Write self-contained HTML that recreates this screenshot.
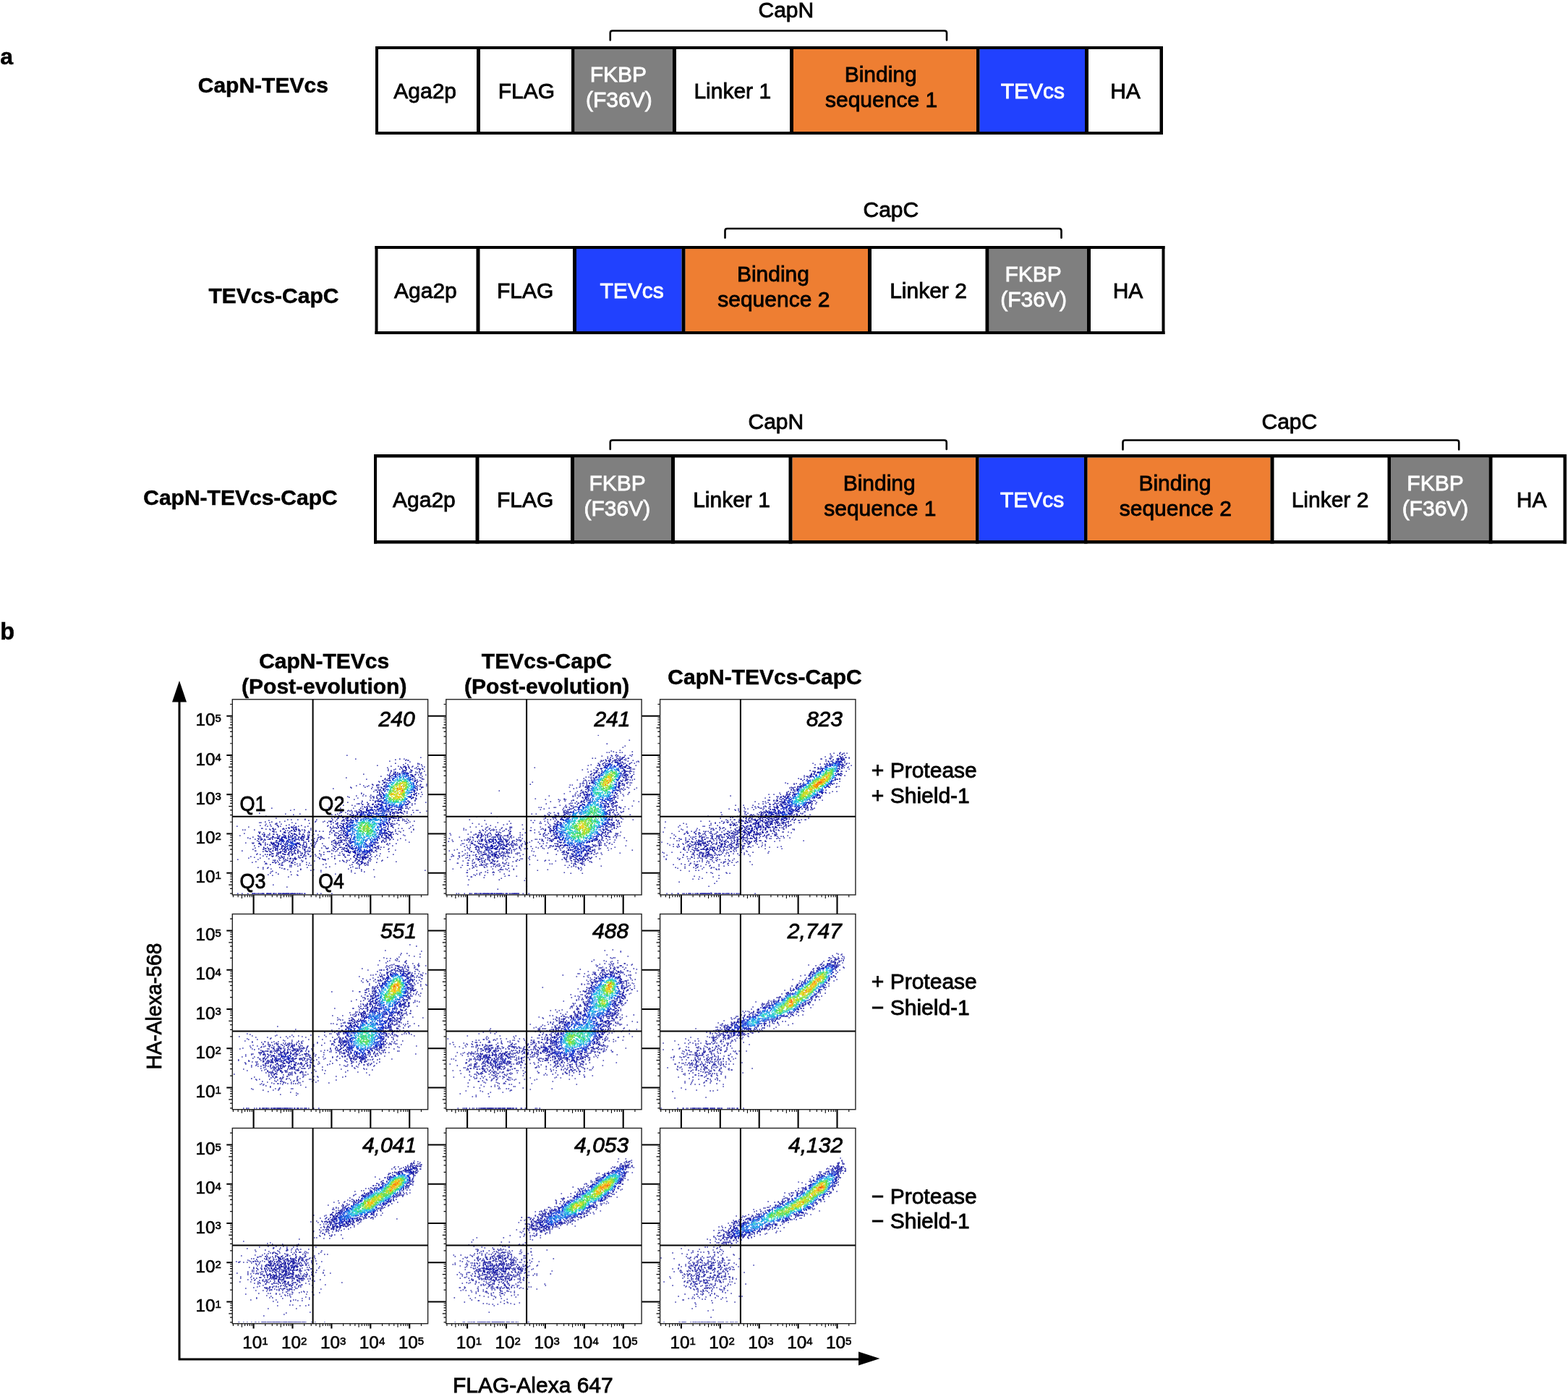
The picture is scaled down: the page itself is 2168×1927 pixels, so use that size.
<!DOCTYPE html>
<html><head><meta charset="utf-8"><title>Figure</title>
<style>html,body{margin:0;padding:0;background:#fff;}svg{display:block;}</style></head>
<body>
<svg width="2168" height="1927" viewBox="0 0 2168 1927" font-family="'Liberation Sans', Arial, Helvetica, sans-serif" font-size="30">
<rect width="2168" height="1927" fill="#fff"/>
<g id="parta">
<rect x="794.5" y="68" width="135.5" height="114" fill="#7f7f7f"/>
<rect x="1097" y="68" width="253" height="114" fill="#ee7e32"/>
<rect x="1354.5" y="68" width="145.5" height="114" fill="#2141fe"/>
<rect x="519" y="64" width="1089" height="4" fill="#000"/>
<rect x="519" y="182" width="1089" height="4" fill="#000"/>
<rect x="519" y="64" width="4" height="122" fill="#000"/>
<rect x="659" y="64" width="5" height="122" fill="#000"/>
<rect x="790" y="64" width="4.5" height="122" fill="#000"/>
<rect x="930" y="64" width="5" height="122" fill="#000"/>
<rect x="1092" y="64" width="5" height="122" fill="#000"/>
<rect x="1350" y="64" width="4.5" height="122" fill="#000"/>
<rect x="1500" y="64" width="5" height="122" fill="#000"/>
<rect x="1603.5" y="64" width="4.5" height="122" fill="#000"/>
<text x="544.29" y="136.3" stroke="#000" stroke-width="0.8">Aga2p</text>
<text x="688.64" y="136.3" stroke="#000" stroke-width="0.8">FLAG</text>
<text x="815.64" y="113" fill="#fff" stroke="#fff" stroke-width="0.8">FKBP</text>
<text x="809.99" y="148.2" fill="#fff" stroke="#fff" stroke-width="0.8">(F36V)</text>
<text x="959.39" y="136.3" stroke="#000" stroke-width="0.8">Linker 1</text>
<text x="1167.64" y="113" stroke="#000" stroke-width="0.8">Binding</text>
<text x="1141.01" y="148.2" stroke="#000" stroke-width="0.8">sequence 1</text>
<text x="1383.69" y="136.3" fill="#fff" stroke="#fff" stroke-width="0.8">TEVcs</text>
<text x="1535.14" y="136.3" stroke="#000" stroke-width="0.8">HA</text>
<rect x="797" y="344" width="145.5" height="114" fill="#2141fe"/>
<rect x="947.5" y="344" width="252.5" height="114" fill="#ee7e32"/>
<rect x="1367.5" y="344" width="135.5" height="114" fill="#7f7f7f"/>
<rect x="518.5" y="340" width="1092" height="4" fill="#000"/>
<rect x="518.5" y="458" width="1092" height="4" fill="#000"/>
<rect x="518.5" y="340" width="4" height="122" fill="#000"/>
<rect x="658.5" y="340" width="5" height="122" fill="#000"/>
<rect x="792" y="340" width="5" height="122" fill="#000"/>
<rect x="942.5" y="340" width="5" height="122" fill="#000"/>
<rect x="1200" y="340" width="5" height="122" fill="#000"/>
<rect x="1362.5" y="340" width="5" height="122" fill="#000"/>
<rect x="1503" y="340" width="5" height="122" fill="#000"/>
<rect x="1606.5" y="340" width="4" height="122" fill="#000"/>
<text x="545.04" y="412.3" stroke="#000" stroke-width="0.8">Aga2p</text>
<text x="687.04" y="412.3" stroke="#000" stroke-width="0.8">FLAG</text>
<text x="829.44" y="412.3" fill="#fff" stroke="#fff" stroke-width="0.8">TEVcs</text>
<text x="1018.89" y="389" stroke="#000" stroke-width="0.8">Binding</text>
<text x="992.26" y="424.2" stroke="#000" stroke-width="0.8">sequence 2</text>
<text x="1230.14" y="412.3" stroke="#000" stroke-width="0.8">Linker 2</text>
<text x="1389.39" y="389" fill="#fff" stroke="#fff" stroke-width="0.8">FKBP</text>
<text x="1383.24" y="424.2" fill="#fff" stroke="#fff" stroke-width="0.8">(F36V)</text>
<text x="1538.64" y="412.3" stroke="#000" stroke-width="0.8">HA</text>
<rect x="794" y="632.5" width="134" height="114.5" fill="#7f7f7f"/>
<rect x="1095.5" y="632.5" width="253.5" height="114.5" fill="#ee7e32"/>
<rect x="1353.5" y="632.5" width="145.5" height="114.5" fill="#2141fe"/>
<rect x="1503.5" y="632.5" width="253" height="114.5" fill="#ee7e32"/>
<rect x="1923" y="632.5" width="135.5" height="114.5" fill="#7f7f7f"/>
<rect x="517" y="628" width="1649" height="4.5" fill="#000"/>
<rect x="517" y="747" width="1649" height="4.5" fill="#000"/>
<rect x="517" y="628" width="4" height="123.5" fill="#000"/>
<rect x="657.5" y="628" width="5" height="123.5" fill="#000"/>
<rect x="789" y="628" width="5" height="123.5" fill="#000"/>
<rect x="928" y="628" width="5" height="123.5" fill="#000"/>
<rect x="1090.5" y="628" width="5" height="123.5" fill="#000"/>
<rect x="1349" y="628" width="4.5" height="123.5" fill="#000"/>
<rect x="1499" y="628" width="4.5" height="123.5" fill="#000"/>
<rect x="1756.5" y="628" width="5" height="123.5" fill="#000"/>
<rect x="1918.5" y="628" width="4.5" height="123.5" fill="#000"/>
<rect x="2058.5" y="628" width="5" height="123.5" fill="#000"/>
<rect x="2161.5" y="628" width="4.5" height="123.5" fill="#000"/>
<text x="543.04" y="701.05" stroke="#000" stroke-width="0.8">Aga2p</text>
<text x="686.89" y="701.05" stroke="#000" stroke-width="0.8">FLAG</text>
<text x="814.39" y="677.75" fill="#fff" stroke="#fff" stroke-width="0.8">FKBP</text>
<text x="807.49" y="712.95" fill="#fff" stroke="#fff" stroke-width="0.8">(F36V)</text>
<text x="958.14" y="701.05" stroke="#000" stroke-width="0.8">Linker 1</text>
<text x="1165.64" y="677.75" stroke="#000" stroke-width="0.8">Binding</text>
<text x="1139.26" y="712.95" stroke="#000" stroke-width="0.8">sequence 1</text>
<text x="1382.94" y="701.05" fill="#fff" stroke="#fff" stroke-width="0.8">TEVcs</text>
<text x="1574.39" y="677.75" stroke="#000" stroke-width="0.8">Binding</text>
<text x="1547.76" y="712.95" stroke="#000" stroke-width="0.8">sequence 2</text>
<text x="1785.64" y="701.05" stroke="#000" stroke-width="0.8">Linker 2</text>
<text x="1945.34" y="677.75" fill="#fff" stroke="#fff" stroke-width="0.8">FKBP</text>
<text x="1938.64" y="712.95" fill="#fff" stroke="#fff" stroke-width="0.8">(F36V)</text>
<text x="2096.74" y="701.05" stroke="#000" stroke-width="0.8">HA</text>
<path d="M843.75 55.5V45.5Q843.75 42.5 846.75 42.5H1306Q1309 42.5 1309 45.5V55.5" fill="none" stroke="#000" stroke-width="2.6" stroke-linecap="round"/>
<path d="M1002.5 328.75V319Q1002.5 316 1005.5 316H1464.5Q1467.5 316 1467.5 319V328.75" fill="none" stroke="#000" stroke-width="2.6" stroke-linecap="round"/>
<path d="M843.75 621V611.5Q843.75 608.5 846.75 608.5H1305.75Q1308.75 608.5 1308.75 611.5V621" fill="none" stroke="#000" stroke-width="2.6" stroke-linecap="round"/>
<path d="M1552.5 621.5V611.5Q1552.5 608.5 1555.5 608.5H2014.2Q2017.2 608.5 2017.2 611.5V621.5" fill="none" stroke="#000" stroke-width="2.6" stroke-linecap="round"/>
<text x="1048.47" y="24" stroke="#000" stroke-width="0.8">CapN</text>
<text x="1193.47" y="300" stroke="#000" stroke-width="0.8">CapC</text>
<text x="1034.47" y="592.5" stroke="#000" stroke-width="0.8">CapN</text>
<text x="1744.47" y="592.5" stroke="#000" stroke-width="0.8">CapC</text>
<text x="0.27" y="88.7" font-size="32" font-weight="bold" stroke="#000" stroke-width="0.5">a</text>
<text x="273.77" y="127.5" font-weight="bold" stroke="#000" stroke-width="0.5">CapN-TEVcs</text>
<text x="288.42" y="418.75" font-weight="bold" stroke="#000" stroke-width="0.5">TEVcs-CapC</text>
<text x="198.27" y="697.5" font-weight="bold" stroke="#000" stroke-width="0.5">CapN-TEVcs-CapC</text>
</g>
<text x="0.35" y="884" font-size="32.5" font-weight="bold" stroke="#000" stroke-width="0.5">b</text>
<text x="358.17" y="924.4" font-weight="bold" stroke="#000" stroke-width="0.5">CapN-TEVcs</text>
<text x="334.1" y="958.9" font-weight="bold" stroke="#000" stroke-width="0.5">(Post-evolution)</text>
<text x="665.87" y="924.4" font-weight="bold" stroke="#000" stroke-width="0.5">TEVcs-CapC</text>
<text x="642" y="958.9" font-weight="bold" stroke="#000" stroke-width="0.5">(Post-evolution)</text>
<text x="923.37" y="945.7" font-weight="bold" stroke="#000" stroke-width="0.5">CapN-TEVcs-CapC</text>
<text x="1204.83" y="1075" stroke="#000" stroke-width="0.8">+ Protease</text>
<text x="1204.83" y="1109.6" stroke="#000" stroke-width="0.8">+ Shield-1</text>
<text x="1204.83" y="1367.4" stroke="#000" stroke-width="0.8">+ Protease</text>
<text x="1204.83" y="1402.6" stroke="#000" stroke-width="0.8">− Shield-1</text>
<text x="1204.83" y="1663.9" stroke="#000" stroke-width="0.8">− Protease</text>
<text x="1204.83" y="1698.2" stroke="#000" stroke-width="0.8">− Shield-1</text>
<path d="M248 962V1879H1195" fill="none" stroke="#000" stroke-width="3"/>
<path d="M248 941L238 970.5H258Z" fill="#000"/>
<path d="M1216.5 1878L1187 1868.5V1887.5Z" fill="#000"/>
<text x="625.94" y="1924.6" stroke="#000" stroke-width="0.8">FLAG-Alexa 647</text>
<text transform="translate(222.6 1478.6) rotate(-90)" font-size="30" textLength="174.92" lengthAdjust="spacingAndGlyphs" stroke="#000" stroke-width="0.8">HA-Alexa-568</text>
<path d="M318.1 1235.17L321.3 1235.17M318.1 1228.39L321.3 1228.39M316.3 1223.13L321.3 1223.13M318.1 1218.84L321.3 1218.84M318.1 1215.2L321.3 1215.2M318.1 1212.06L321.3 1212.06M318.1 1209.28L321.3 1209.28M318.1 1190.47L321.3 1190.47M318.1 1180.92L321.3 1180.92M318.1 1174.14L321.3 1174.14M316.3 1168.88L321.3 1168.88M318.1 1164.59L321.3 1164.59M318.1 1160.95L321.3 1160.95M318.1 1157.81L321.3 1157.81M318.1 1155.03L321.3 1155.03M318.1 1136.22L321.3 1136.22M318.1 1126.67L321.3 1126.67M318.1 1119.89L321.3 1119.89M316.3 1114.63L321.3 1114.63M318.1 1110.34L321.3 1110.34M318.1 1106.7L321.3 1106.7M318.1 1103.56L321.3 1103.56M318.1 1100.78L321.3 1100.78M318.1 1081.97L321.3 1081.97M318.1 1072.42L321.3 1072.42M318.1 1065.64L321.3 1065.64M316.3 1060.38L321.3 1060.38M318.1 1056.09L321.3 1056.09M318.1 1052.45L321.3 1052.45M318.1 1049.31L321.3 1049.31M318.1 1046.53L321.3 1046.53M318.1 1027.72L321.3 1027.72M318.1 1018.17L321.3 1018.17M318.1 1011.39L321.3 1011.39M316.3 1006.13L321.3 1006.13M318.1 1001.84L321.3 1001.84M318.1 998.2L321.3 998.2M318.1 995.06L321.3 995.06M318.1 992.28L321.3 992.28M318.1 973.47L321.3 973.47M322.42 1237L322.42 1240.2M329.15 1237L329.15 1240.2M334.37 1237L334.37 1242M338.64 1237L338.64 1240.2M342.25 1237L342.25 1240.2M345.38 1237L345.38 1240.2M348.13 1237L348.13 1240.2M366.83 1237L366.83 1240.2M376.32 1237L376.32 1240.2M383.05 1237L383.05 1240.2M388.27 1237L388.27 1242M392.54 1237L392.54 1240.2M396.15 1237L396.15 1240.2M399.28 1237L399.28 1240.2M402.03 1237L402.03 1240.2M420.73 1237L420.73 1240.2M430.22 1237L430.22 1240.2M436.95 1237L436.95 1240.2M442.17 1237L442.17 1242M446.44 1237L446.44 1240.2M450.05 1237L450.05 1240.2M453.18 1237L453.18 1240.2M455.93 1237L455.93 1240.2M474.63 1237L474.63 1240.2M484.12 1237L484.12 1240.2M490.85 1237L490.85 1240.2M496.07 1237L496.07 1242M500.34 1237L500.34 1240.2M503.95 1237L503.95 1240.2M507.08 1237L507.08 1240.2M509.83 1237L509.83 1240.2M528.53 1237L528.53 1240.2M538.02 1237L538.02 1240.2M544.75 1237L544.75 1240.2M549.97 1237L549.97 1242M554.24 1237L554.24 1240.2M557.85 1237L557.85 1240.2M560.98 1237L560.98 1240.2M563.73 1237L563.73 1240.2M582.43 1237L582.43 1240.2M613.6 1235.17L616.8 1235.17M613.6 1228.39L616.8 1228.39M611.8 1223.13L616.8 1223.13M613.6 1218.84L616.8 1218.84M613.6 1215.2L616.8 1215.2M613.6 1212.06L616.8 1212.06M613.6 1209.28L616.8 1209.28M613.6 1190.47L616.8 1190.47M613.6 1180.92L616.8 1180.92M613.6 1174.14L616.8 1174.14M611.8 1168.88L616.8 1168.88M613.6 1164.59L616.8 1164.59M613.6 1160.95L616.8 1160.95M613.6 1157.81L616.8 1157.81M613.6 1155.03L616.8 1155.03M613.6 1136.22L616.8 1136.22M613.6 1126.67L616.8 1126.67M613.6 1119.89L616.8 1119.89M611.8 1114.63L616.8 1114.63M613.6 1110.34L616.8 1110.34M613.6 1106.7L616.8 1106.7M613.6 1103.56L616.8 1103.56M613.6 1100.78L616.8 1100.78M613.6 1081.97L616.8 1081.97M613.6 1072.42L616.8 1072.42M613.6 1065.64L616.8 1065.64M611.8 1060.38L616.8 1060.38M613.6 1056.09L616.8 1056.09M613.6 1052.45L616.8 1052.45M613.6 1049.31L616.8 1049.31M613.6 1046.53L616.8 1046.53M613.6 1027.72L616.8 1027.72M613.6 1018.17L616.8 1018.17M613.6 1011.39L616.8 1011.39M611.8 1006.13L616.8 1006.13M613.6 1001.84L616.8 1001.84M613.6 998.2L616.8 998.2M613.6 995.06L616.8 995.06M613.6 992.28L616.8 992.28M613.6 973.47L616.8 973.47M617.92 1237L617.92 1240.2M624.65 1237L624.65 1240.2M629.87 1237L629.87 1242M634.14 1237L634.14 1240.2M637.75 1237L637.75 1240.2M640.88 1237L640.88 1240.2M643.63 1237L643.63 1240.2M662.33 1237L662.33 1240.2M671.82 1237L671.82 1240.2M678.55 1237L678.55 1240.2M683.77 1237L683.77 1242M688.04 1237L688.04 1240.2M691.65 1237L691.65 1240.2M694.78 1237L694.78 1240.2M697.53 1237L697.53 1240.2M716.23 1237L716.23 1240.2M725.72 1237L725.72 1240.2M732.45 1237L732.45 1240.2M737.67 1237L737.67 1242M741.94 1237L741.94 1240.2M745.55 1237L745.55 1240.2M748.68 1237L748.68 1240.2M751.43 1237L751.43 1240.2M770.13 1237L770.13 1240.2M779.62 1237L779.62 1240.2M786.35 1237L786.35 1240.2M791.57 1237L791.57 1242M795.84 1237L795.84 1240.2M799.45 1237L799.45 1240.2M802.58 1237L802.58 1240.2M805.33 1237L805.33 1240.2M824.03 1237L824.03 1240.2M833.52 1237L833.52 1240.2M840.25 1237L840.25 1240.2M845.47 1237L845.47 1242M849.74 1237L849.74 1240.2M853.35 1237L853.35 1240.2M856.48 1237L856.48 1240.2M859.23 1237L859.23 1240.2M877.93 1237L877.93 1240.2M909.4 1235.17L912.6 1235.17M909.4 1228.39L912.6 1228.39M907.6 1223.13L912.6 1223.13M909.4 1218.84L912.6 1218.84M909.4 1215.2L912.6 1215.2M909.4 1212.06L912.6 1212.06M909.4 1209.28L912.6 1209.28M909.4 1190.47L912.6 1190.47M909.4 1180.92L912.6 1180.92M909.4 1174.14L912.6 1174.14M907.6 1168.88L912.6 1168.88M909.4 1164.59L912.6 1164.59M909.4 1160.95L912.6 1160.95M909.4 1157.81L912.6 1157.81M909.4 1155.03L912.6 1155.03M909.4 1136.22L912.6 1136.22M909.4 1126.67L912.6 1126.67M909.4 1119.89L912.6 1119.89M907.6 1114.63L912.6 1114.63M909.4 1110.34L912.6 1110.34M909.4 1106.7L912.6 1106.7M909.4 1103.56L912.6 1103.56M909.4 1100.78L912.6 1100.78M909.4 1081.97L912.6 1081.97M909.4 1072.42L912.6 1072.42M909.4 1065.64L912.6 1065.64M907.6 1060.38L912.6 1060.38M909.4 1056.09L912.6 1056.09M909.4 1052.45L912.6 1052.45M909.4 1049.31L912.6 1049.31M909.4 1046.53L912.6 1046.53M909.4 1027.72L912.6 1027.72M909.4 1018.17L912.6 1018.17M909.4 1011.39L912.6 1011.39M907.6 1006.13L912.6 1006.13M909.4 1001.84L912.6 1001.84M909.4 998.2L912.6 998.2M909.4 995.06L912.6 995.06M909.4 992.28L912.6 992.28M909.4 973.47L912.6 973.47M913.72 1237L913.72 1240.2M920.45 1237L920.45 1240.2M925.67 1237L925.67 1242M929.94 1237L929.94 1240.2M933.55 1237L933.55 1240.2M936.68 1237L936.68 1240.2M939.43 1237L939.43 1240.2M958.13 1237L958.13 1240.2M967.62 1237L967.62 1240.2M974.35 1237L974.35 1240.2M979.57 1237L979.57 1242M983.84 1237L983.84 1240.2M987.45 1237L987.45 1240.2M990.58 1237L990.58 1240.2M993.33 1237L993.33 1240.2M1012.03 1237L1012.03 1240.2M1021.52 1237L1021.52 1240.2M1028.25 1237L1028.25 1240.2M1033.47 1237L1033.47 1242M1037.74 1237L1037.74 1240.2M1041.35 1237L1041.35 1240.2M1044.48 1237L1044.48 1240.2M1047.23 1237L1047.23 1240.2M1065.93 1237L1065.93 1240.2M1075.42 1237L1075.42 1240.2M1082.15 1237L1082.15 1240.2M1087.37 1237L1087.37 1242M1091.64 1237L1091.64 1240.2M1095.25 1237L1095.25 1240.2M1098.38 1237L1098.38 1240.2M1101.13 1237L1101.13 1240.2M1119.83 1237L1119.83 1240.2M1129.32 1237L1129.32 1240.2M1136.05 1237L1136.05 1240.2M1141.27 1237L1141.27 1242M1145.54 1237L1145.54 1240.2M1149.15 1237L1149.15 1240.2M1152.28 1237L1152.28 1240.2M1155.03 1237L1155.03 1240.2M1173.73 1237L1173.73 1240.2M318.1 1531.87L321.3 1531.87M318.1 1525.09L321.3 1525.09M316.3 1519.83L321.3 1519.83M318.1 1515.54L321.3 1515.54M318.1 1511.9L321.3 1511.9M318.1 1508.76L321.3 1508.76M318.1 1505.98L321.3 1505.98M318.1 1487.17L321.3 1487.17M318.1 1477.62L321.3 1477.62M318.1 1470.84L321.3 1470.84M316.3 1465.58L321.3 1465.58M318.1 1461.29L321.3 1461.29M318.1 1457.65L321.3 1457.65M318.1 1454.51L321.3 1454.51M318.1 1451.73L321.3 1451.73M318.1 1432.92L321.3 1432.92M318.1 1423.37L321.3 1423.37M318.1 1416.59L321.3 1416.59M316.3 1411.33L321.3 1411.33M318.1 1407.04L321.3 1407.04M318.1 1403.4L321.3 1403.4M318.1 1400.26L321.3 1400.26M318.1 1397.48L321.3 1397.48M318.1 1378.67L321.3 1378.67M318.1 1369.12L321.3 1369.12M318.1 1362.34L321.3 1362.34M316.3 1357.08L321.3 1357.08M318.1 1352.79L321.3 1352.79M318.1 1349.15L321.3 1349.15M318.1 1346.01L321.3 1346.01M318.1 1343.23L321.3 1343.23M318.1 1324.42L321.3 1324.42M318.1 1314.87L321.3 1314.87M318.1 1308.09L321.3 1308.09M316.3 1302.83L321.3 1302.83M318.1 1298.54L321.3 1298.54M318.1 1294.9L321.3 1294.9M318.1 1291.76L321.3 1291.76M318.1 1288.98L321.3 1288.98M318.1 1270.17L321.3 1270.17M322.42 1533.7L322.42 1536.9M329.15 1533.7L329.15 1536.9M334.37 1533.7L334.37 1538.7M338.64 1533.7L338.64 1536.9M342.25 1533.7L342.25 1536.9M345.38 1533.7L345.38 1536.9M348.13 1533.7L348.13 1536.9M366.83 1533.7L366.83 1536.9M376.32 1533.7L376.32 1536.9M383.05 1533.7L383.05 1536.9M388.27 1533.7L388.27 1538.7M392.54 1533.7L392.54 1536.9M396.15 1533.7L396.15 1536.9M399.28 1533.7L399.28 1536.9M402.03 1533.7L402.03 1536.9M420.73 1533.7L420.73 1536.9M430.22 1533.7L430.22 1536.9M436.95 1533.7L436.95 1536.9M442.17 1533.7L442.17 1538.7M446.44 1533.7L446.44 1536.9M450.05 1533.7L450.05 1536.9M453.18 1533.7L453.18 1536.9M455.93 1533.7L455.93 1536.9M474.63 1533.7L474.63 1536.9M484.12 1533.7L484.12 1536.9M490.85 1533.7L490.85 1536.9M496.07 1533.7L496.07 1538.7M500.34 1533.7L500.34 1536.9M503.95 1533.7L503.95 1536.9M507.08 1533.7L507.08 1536.9M509.83 1533.7L509.83 1536.9M528.53 1533.7L528.53 1536.9M538.02 1533.7L538.02 1536.9M544.75 1533.7L544.75 1536.9M549.97 1533.7L549.97 1538.7M554.24 1533.7L554.24 1536.9M557.85 1533.7L557.85 1536.9M560.98 1533.7L560.98 1536.9M563.73 1533.7L563.73 1536.9M582.43 1533.7L582.43 1536.9M613.6 1531.87L616.8 1531.87M613.6 1525.09L616.8 1525.09M611.8 1519.83L616.8 1519.83M613.6 1515.54L616.8 1515.54M613.6 1511.9L616.8 1511.9M613.6 1508.76L616.8 1508.76M613.6 1505.98L616.8 1505.98M613.6 1487.17L616.8 1487.17M613.6 1477.62L616.8 1477.62M613.6 1470.84L616.8 1470.84M611.8 1465.58L616.8 1465.58M613.6 1461.29L616.8 1461.29M613.6 1457.65L616.8 1457.65M613.6 1454.51L616.8 1454.51M613.6 1451.73L616.8 1451.73M613.6 1432.92L616.8 1432.92M613.6 1423.37L616.8 1423.37M613.6 1416.59L616.8 1416.59M611.8 1411.33L616.8 1411.33M613.6 1407.04L616.8 1407.04M613.6 1403.4L616.8 1403.4M613.6 1400.26L616.8 1400.26M613.6 1397.48L616.8 1397.48M613.6 1378.67L616.8 1378.67M613.6 1369.12L616.8 1369.12M613.6 1362.34L616.8 1362.34M611.8 1357.08L616.8 1357.08M613.6 1352.79L616.8 1352.79M613.6 1349.15L616.8 1349.15M613.6 1346.01L616.8 1346.01M613.6 1343.23L616.8 1343.23M613.6 1324.42L616.8 1324.42M613.6 1314.87L616.8 1314.87M613.6 1308.09L616.8 1308.09M611.8 1302.83L616.8 1302.83M613.6 1298.54L616.8 1298.54M613.6 1294.9L616.8 1294.9M613.6 1291.76L616.8 1291.76M613.6 1288.98L616.8 1288.98M613.6 1270.17L616.8 1270.17M617.92 1533.7L617.92 1536.9M624.65 1533.7L624.65 1536.9M629.87 1533.7L629.87 1538.7M634.14 1533.7L634.14 1536.9M637.75 1533.7L637.75 1536.9M640.88 1533.7L640.88 1536.9M643.63 1533.7L643.63 1536.9M662.33 1533.7L662.33 1536.9M671.82 1533.7L671.82 1536.9M678.55 1533.7L678.55 1536.9M683.77 1533.7L683.77 1538.7M688.04 1533.7L688.04 1536.9M691.65 1533.7L691.65 1536.9M694.78 1533.7L694.78 1536.9M697.53 1533.7L697.53 1536.9M716.23 1533.7L716.23 1536.9M725.72 1533.7L725.72 1536.9M732.45 1533.7L732.45 1536.9M737.67 1533.7L737.67 1538.7M741.94 1533.7L741.94 1536.9M745.55 1533.7L745.55 1536.9M748.68 1533.7L748.68 1536.9M751.43 1533.7L751.43 1536.9M770.13 1533.7L770.13 1536.9M779.62 1533.7L779.62 1536.9M786.35 1533.7L786.35 1536.9M791.57 1533.7L791.57 1538.7M795.84 1533.7L795.84 1536.9M799.45 1533.7L799.45 1536.9M802.58 1533.7L802.58 1536.9M805.33 1533.7L805.33 1536.9M824.03 1533.7L824.03 1536.9M833.52 1533.7L833.52 1536.9M840.25 1533.7L840.25 1536.9M845.47 1533.7L845.47 1538.7M849.74 1533.7L849.74 1536.9M853.35 1533.7L853.35 1536.9M856.48 1533.7L856.48 1536.9M859.23 1533.7L859.23 1536.9M877.93 1533.7L877.93 1536.9M909.4 1531.87L912.6 1531.87M909.4 1525.09L912.6 1525.09M907.6 1519.83L912.6 1519.83M909.4 1515.54L912.6 1515.54M909.4 1511.9L912.6 1511.9M909.4 1508.76L912.6 1508.76M909.4 1505.98L912.6 1505.98M909.4 1487.17L912.6 1487.17M909.4 1477.62L912.6 1477.62M909.4 1470.84L912.6 1470.84M907.6 1465.58L912.6 1465.58M909.4 1461.29L912.6 1461.29M909.4 1457.65L912.6 1457.65M909.4 1454.51L912.6 1454.51M909.4 1451.73L912.6 1451.73M909.4 1432.92L912.6 1432.92M909.4 1423.37L912.6 1423.37M909.4 1416.59L912.6 1416.59M907.6 1411.33L912.6 1411.33M909.4 1407.04L912.6 1407.04M909.4 1403.4L912.6 1403.4M909.4 1400.26L912.6 1400.26M909.4 1397.48L912.6 1397.48M909.4 1378.67L912.6 1378.67M909.4 1369.12L912.6 1369.12M909.4 1362.34L912.6 1362.34M907.6 1357.08L912.6 1357.08M909.4 1352.79L912.6 1352.79M909.4 1349.15L912.6 1349.15M909.4 1346.01L912.6 1346.01M909.4 1343.23L912.6 1343.23M909.4 1324.42L912.6 1324.42M909.4 1314.87L912.6 1314.87M909.4 1308.09L912.6 1308.09M907.6 1302.83L912.6 1302.83M909.4 1298.54L912.6 1298.54M909.4 1294.9L912.6 1294.9M909.4 1291.76L912.6 1291.76M909.4 1288.98L912.6 1288.98M909.4 1270.17L912.6 1270.17M913.72 1533.7L913.72 1536.9M920.45 1533.7L920.45 1536.9M925.67 1533.7L925.67 1538.7M929.94 1533.7L929.94 1536.9M933.55 1533.7L933.55 1536.9M936.68 1533.7L936.68 1536.9M939.43 1533.7L939.43 1536.9M958.13 1533.7L958.13 1536.9M967.62 1533.7L967.62 1536.9M974.35 1533.7L974.35 1536.9M979.57 1533.7L979.57 1538.7M983.84 1533.7L983.84 1536.9M987.45 1533.7L987.45 1536.9M990.58 1533.7L990.58 1536.9M993.33 1533.7L993.33 1536.9M1012.03 1533.7L1012.03 1536.9M1021.52 1533.7L1021.52 1536.9M1028.25 1533.7L1028.25 1536.9M1033.47 1533.7L1033.47 1538.7M1037.74 1533.7L1037.74 1536.9M1041.35 1533.7L1041.35 1536.9M1044.48 1533.7L1044.48 1536.9M1047.23 1533.7L1047.23 1536.9M1065.93 1533.7L1065.93 1536.9M1075.42 1533.7L1075.42 1536.9M1082.15 1533.7L1082.15 1536.9M1087.37 1533.7L1087.37 1538.7M1091.64 1533.7L1091.64 1536.9M1095.25 1533.7L1095.25 1536.9M1098.38 1533.7L1098.38 1536.9M1101.13 1533.7L1101.13 1536.9M1119.83 1533.7L1119.83 1536.9M1129.32 1533.7L1129.32 1536.9M1136.05 1533.7L1136.05 1536.9M1141.27 1533.7L1141.27 1538.7M1145.54 1533.7L1145.54 1536.9M1149.15 1533.7L1149.15 1536.9M1152.28 1533.7L1152.28 1536.9M1155.03 1533.7L1155.03 1536.9M1173.73 1533.7L1173.73 1536.9M318.1 1827.87L321.3 1827.87M318.1 1821.09L321.3 1821.09M316.3 1815.83L321.3 1815.83M318.1 1811.54L321.3 1811.54M318.1 1807.9L321.3 1807.9M318.1 1804.76L321.3 1804.76M318.1 1801.98L321.3 1801.98M318.1 1783.17L321.3 1783.17M318.1 1773.62L321.3 1773.62M318.1 1766.84L321.3 1766.84M316.3 1761.58L321.3 1761.58M318.1 1757.29L321.3 1757.29M318.1 1753.65L321.3 1753.65M318.1 1750.51L321.3 1750.51M318.1 1747.73L321.3 1747.73M318.1 1728.92L321.3 1728.92M318.1 1719.37L321.3 1719.37M318.1 1712.59L321.3 1712.59M316.3 1707.33L321.3 1707.33M318.1 1703.04L321.3 1703.04M318.1 1699.4L321.3 1699.4M318.1 1696.26L321.3 1696.26M318.1 1693.48L321.3 1693.48M318.1 1674.67L321.3 1674.67M318.1 1665.12L321.3 1665.12M318.1 1658.34L321.3 1658.34M316.3 1653.08L321.3 1653.08M318.1 1648.79L321.3 1648.79M318.1 1645.15L321.3 1645.15M318.1 1642.01L321.3 1642.01M318.1 1639.23L321.3 1639.23M318.1 1620.42L321.3 1620.42M318.1 1610.87L321.3 1610.87M318.1 1604.09L321.3 1604.09M316.3 1598.83L321.3 1598.83M318.1 1594.54L321.3 1594.54M318.1 1590.9L321.3 1590.9M318.1 1587.76L321.3 1587.76M318.1 1584.98L321.3 1584.98M318.1 1566.17L321.3 1566.17M322.42 1829.7L322.42 1832.9M329.15 1829.7L329.15 1832.9M334.37 1829.7L334.37 1834.7M338.64 1829.7L338.64 1832.9M342.25 1829.7L342.25 1832.9M345.38 1829.7L345.38 1832.9M348.13 1829.7L348.13 1832.9M366.83 1829.7L366.83 1832.9M376.32 1829.7L376.32 1832.9M383.05 1829.7L383.05 1832.9M388.27 1829.7L388.27 1834.7M392.54 1829.7L392.54 1832.9M396.15 1829.7L396.15 1832.9M399.28 1829.7L399.28 1832.9M402.03 1829.7L402.03 1832.9M420.73 1829.7L420.73 1832.9M430.22 1829.7L430.22 1832.9M436.95 1829.7L436.95 1832.9M442.17 1829.7L442.17 1834.7M446.44 1829.7L446.44 1832.9M450.05 1829.7L450.05 1832.9M453.18 1829.7L453.18 1832.9M455.93 1829.7L455.93 1832.9M474.63 1829.7L474.63 1832.9M484.12 1829.7L484.12 1832.9M490.85 1829.7L490.85 1832.9M496.07 1829.7L496.07 1834.7M500.34 1829.7L500.34 1832.9M503.95 1829.7L503.95 1832.9M507.08 1829.7L507.08 1832.9M509.83 1829.7L509.83 1832.9M528.53 1829.7L528.53 1832.9M538.02 1829.7L538.02 1832.9M544.75 1829.7L544.75 1832.9M549.97 1829.7L549.97 1834.7M554.24 1829.7L554.24 1832.9M557.85 1829.7L557.85 1832.9M560.98 1829.7L560.98 1832.9M563.73 1829.7L563.73 1832.9M582.43 1829.7L582.43 1832.9M613.6 1827.87L616.8 1827.87M613.6 1821.09L616.8 1821.09M611.8 1815.83L616.8 1815.83M613.6 1811.54L616.8 1811.54M613.6 1807.9L616.8 1807.9M613.6 1804.76L616.8 1804.76M613.6 1801.98L616.8 1801.98M613.6 1783.17L616.8 1783.17M613.6 1773.62L616.8 1773.62M613.6 1766.84L616.8 1766.84M611.8 1761.58L616.8 1761.58M613.6 1757.29L616.8 1757.29M613.6 1753.65L616.8 1753.65M613.6 1750.51L616.8 1750.51M613.6 1747.73L616.8 1747.73M613.6 1728.92L616.8 1728.92M613.6 1719.37L616.8 1719.37M613.6 1712.59L616.8 1712.59M611.8 1707.33L616.8 1707.33M613.6 1703.04L616.8 1703.04M613.6 1699.4L616.8 1699.4M613.6 1696.26L616.8 1696.26M613.6 1693.48L616.8 1693.48M613.6 1674.67L616.8 1674.67M613.6 1665.12L616.8 1665.12M613.6 1658.34L616.8 1658.34M611.8 1653.08L616.8 1653.08M613.6 1648.79L616.8 1648.79M613.6 1645.15L616.8 1645.15M613.6 1642.01L616.8 1642.01M613.6 1639.23L616.8 1639.23M613.6 1620.42L616.8 1620.42M613.6 1610.87L616.8 1610.87M613.6 1604.09L616.8 1604.09M611.8 1598.83L616.8 1598.83M613.6 1594.54L616.8 1594.54M613.6 1590.9L616.8 1590.9M613.6 1587.76L616.8 1587.76M613.6 1584.98L616.8 1584.98M613.6 1566.17L616.8 1566.17M617.92 1829.7L617.92 1832.9M624.65 1829.7L624.65 1832.9M629.87 1829.7L629.87 1834.7M634.14 1829.7L634.14 1832.9M637.75 1829.7L637.75 1832.9M640.88 1829.7L640.88 1832.9M643.63 1829.7L643.63 1832.9M662.33 1829.7L662.33 1832.9M671.82 1829.7L671.82 1832.9M678.55 1829.7L678.55 1832.9M683.77 1829.7L683.77 1834.7M688.04 1829.7L688.04 1832.9M691.65 1829.7L691.65 1832.9M694.78 1829.7L694.78 1832.9M697.53 1829.7L697.53 1832.9M716.23 1829.7L716.23 1832.9M725.72 1829.7L725.72 1832.9M732.45 1829.7L732.45 1832.9M737.67 1829.7L737.67 1834.7M741.94 1829.7L741.94 1832.9M745.55 1829.7L745.55 1832.9M748.68 1829.7L748.68 1832.9M751.43 1829.7L751.43 1832.9M770.13 1829.7L770.13 1832.9M779.62 1829.7L779.62 1832.9M786.35 1829.7L786.35 1832.9M791.57 1829.7L791.57 1834.7M795.84 1829.7L795.84 1832.9M799.45 1829.7L799.45 1832.9M802.58 1829.7L802.58 1832.9M805.33 1829.7L805.33 1832.9M824.03 1829.7L824.03 1832.9M833.52 1829.7L833.52 1832.9M840.25 1829.7L840.25 1832.9M845.47 1829.7L845.47 1834.7M849.74 1829.7L849.74 1832.9M853.35 1829.7L853.35 1832.9M856.48 1829.7L856.48 1832.9M859.23 1829.7L859.23 1832.9M877.93 1829.7L877.93 1832.9M909.4 1827.87L912.6 1827.87M909.4 1821.09L912.6 1821.09M907.6 1815.83L912.6 1815.83M909.4 1811.54L912.6 1811.54M909.4 1807.9L912.6 1807.9M909.4 1804.76L912.6 1804.76M909.4 1801.98L912.6 1801.98M909.4 1783.17L912.6 1783.17M909.4 1773.62L912.6 1773.62M909.4 1766.84L912.6 1766.84M907.6 1761.58L912.6 1761.58M909.4 1757.29L912.6 1757.29M909.4 1753.65L912.6 1753.65M909.4 1750.51L912.6 1750.51M909.4 1747.73L912.6 1747.73M909.4 1728.92L912.6 1728.92M909.4 1719.37L912.6 1719.37M909.4 1712.59L912.6 1712.59M907.6 1707.33L912.6 1707.33M909.4 1703.04L912.6 1703.04M909.4 1699.4L912.6 1699.4M909.4 1696.26L912.6 1696.26M909.4 1693.48L912.6 1693.48M909.4 1674.67L912.6 1674.67M909.4 1665.12L912.6 1665.12M909.4 1658.34L912.6 1658.34M907.6 1653.08L912.6 1653.08M909.4 1648.79L912.6 1648.79M909.4 1645.15L912.6 1645.15M909.4 1642.01L912.6 1642.01M909.4 1639.23L912.6 1639.23M909.4 1620.42L912.6 1620.42M909.4 1610.87L912.6 1610.87M909.4 1604.09L912.6 1604.09M907.6 1598.83L912.6 1598.83M909.4 1594.54L912.6 1594.54M909.4 1590.9L912.6 1590.9M909.4 1587.76L912.6 1587.76M909.4 1584.98L912.6 1584.98M909.4 1566.17L912.6 1566.17M913.72 1829.7L913.72 1832.9M920.45 1829.7L920.45 1832.9M925.67 1829.7L925.67 1834.7M929.94 1829.7L929.94 1832.9M933.55 1829.7L933.55 1832.9M936.68 1829.7L936.68 1832.9M939.43 1829.7L939.43 1832.9M958.13 1829.7L958.13 1832.9M967.62 1829.7L967.62 1832.9M974.35 1829.7L974.35 1832.9M979.57 1829.7L979.57 1834.7M983.84 1829.7L983.84 1832.9M987.45 1829.7L987.45 1832.9M990.58 1829.7L990.58 1832.9M993.33 1829.7L993.33 1832.9M1012.03 1829.7L1012.03 1832.9M1021.52 1829.7L1021.52 1832.9M1028.25 1829.7L1028.25 1832.9M1033.47 1829.7L1033.47 1834.7M1037.74 1829.7L1037.74 1832.9M1041.35 1829.7L1041.35 1832.9M1044.48 1829.7L1044.48 1832.9M1047.23 1829.7L1047.23 1832.9M1065.93 1829.7L1065.93 1832.9M1075.42 1829.7L1075.42 1832.9M1082.15 1829.7L1082.15 1832.9M1087.37 1829.7L1087.37 1834.7M1091.64 1829.7L1091.64 1832.9M1095.25 1829.7L1095.25 1832.9M1098.38 1829.7L1098.38 1832.9M1101.13 1829.7L1101.13 1832.9M1119.83 1829.7L1119.83 1832.9M1129.32 1829.7L1129.32 1832.9M1136.05 1829.7L1136.05 1832.9M1141.27 1829.7L1141.27 1834.7M1145.54 1829.7L1145.54 1832.9M1149.15 1829.7L1149.15 1832.9M1152.28 1829.7L1152.28 1832.9M1155.03 1829.7L1155.03 1832.9M1173.73 1829.7L1173.73 1832.9" stroke="#000" stroke-width="1.1" fill="none"/>
<path d="M313.3 1206.8L321.3 1206.8M313.3 1152.55L321.3 1152.55M313.3 1098.3L321.3 1098.3M313.3 1044.05L321.3 1044.05M313.3 989.8L321.3 989.8M350.6 1237L350.6 1263.5M404.5 1237L404.5 1263.5M458.4 1237L458.4 1263.5M512.3 1237L512.3 1263.5M566.2 1237L566.2 1263.5M591.6 1206.8L616.8 1206.8M591.6 1152.55L616.8 1152.55M591.6 1098.3L616.8 1098.3M591.6 1044.05L616.8 1044.05M591.6 989.8L616.8 989.8M646.1 1237L646.1 1263.5M700 1237L700 1263.5M753.9 1237L753.9 1263.5M807.8 1237L807.8 1263.5M861.7 1237L861.7 1263.5M887.1 1206.8L912.6 1206.8M887.1 1152.55L912.6 1152.55M887.1 1098.3L912.6 1098.3M887.1 1044.05L912.6 1044.05M887.1 989.8L912.6 989.8M941.9 1237L941.9 1263.5M995.8 1237L995.8 1263.5M1049.7 1237L1049.7 1263.5M1103.6 1237L1103.6 1263.5M1157.5 1237L1157.5 1263.5M313.3 1503.5L321.3 1503.5M313.3 1449.25L321.3 1449.25M313.3 1395L321.3 1395M313.3 1340.75L321.3 1340.75M313.3 1286.5L321.3 1286.5M350.6 1533.7L350.6 1559.5M404.5 1533.7L404.5 1559.5M458.4 1533.7L458.4 1559.5M512.3 1533.7L512.3 1559.5M566.2 1533.7L566.2 1559.5M591.6 1503.5L616.8 1503.5M591.6 1449.25L616.8 1449.25M591.6 1395L616.8 1395M591.6 1340.75L616.8 1340.75M591.6 1286.5L616.8 1286.5M646.1 1533.7L646.1 1559.5M700 1533.7L700 1559.5M753.9 1533.7L753.9 1559.5M807.8 1533.7L807.8 1559.5M861.7 1533.7L861.7 1559.5M887.1 1503.5L912.6 1503.5M887.1 1449.25L912.6 1449.25M887.1 1395L912.6 1395M887.1 1340.75L912.6 1340.75M887.1 1286.5L912.6 1286.5M941.9 1533.7L941.9 1559.5M995.8 1533.7L995.8 1559.5M1049.7 1533.7L1049.7 1559.5M1103.6 1533.7L1103.6 1559.5M1157.5 1533.7L1157.5 1559.5M313.3 1799.5L321.3 1799.5M313.3 1745.25L321.3 1745.25M313.3 1691L321.3 1691M313.3 1636.75L321.3 1636.75M313.3 1582.5L321.3 1582.5M350.6 1829.7L350.6 1836.5M404.5 1829.7L404.5 1836.5M458.4 1829.7L458.4 1836.5M512.3 1829.7L512.3 1836.5M566.2 1829.7L566.2 1836.5M591.6 1799.5L616.8 1799.5M591.6 1745.25L616.8 1745.25M591.6 1691L616.8 1691M591.6 1636.75L616.8 1636.75M591.6 1582.5L616.8 1582.5M646.1 1829.7L646.1 1836.5M700 1829.7L700 1836.5M753.9 1829.7L753.9 1836.5M807.8 1829.7L807.8 1836.5M861.7 1829.7L861.7 1836.5M887.1 1799.5L912.6 1799.5M887.1 1745.25L912.6 1745.25M887.1 1691L912.6 1691M887.1 1636.75L912.6 1636.75M887.1 1582.5L912.6 1582.5M941.9 1829.7L941.9 1836.5M995.8 1829.7L995.8 1836.5M1049.7 1829.7L1049.7 1836.5M1103.6 1829.7L1103.6 1836.5M1157.5 1829.7L1157.5 1836.5" stroke="#000" stroke-width="2.1" fill="none"/>
<defs><filter id="bl" x="0" y="0" width="1" height="1"><feGaussianBlur stdDeviation="0.5"/></filter></defs><g stroke-width="1.6" stroke-linecap="square" fill="none" filter="url(#bl)">
<path stroke="#0a14a0" d="M560.8 1061.3zm-11 7zm10 0zm11 4zm-32 2zm32 2zm5 6zm-2 4zm-43 1zm-3 2zm49 0zm-4 5zm-45 1zm44 3zm-48 1zm3 1zm42 0zm-41 1zm39 0zm-40 11zm35 0zm-43 3zm0 1zm-11 1zm31 0zm16 0zm2 0zm-43 1zm-1 1zm38 0zm4 0zm-48 1zm13 0zm-17 2zm1 0zm32 0zm11 0zm-40 1zm33 0zm-24 1zm-16 1zm39 0zm-45 1zm14 0zm3 0zm19 0zm5 0zm-46 2zm4 0zm49 2zm2 0zm-54 1zm2 2zm-12 1zm4 0zm-4 3zm5 0zm-11 2zm62 0zm-61 3zm2 3zm-70 2zm66 1zm4 0zm57 0zm-2 1zm-138 1zm84 0zm57 1zm6 0zm-6 1zm2 1zm-56 1zm-86 2zm9 0zm124 0zm-136 1zm2 0zm134 0zm6 0zm1 0zm-149 1zm97 0zm-67 1zm69 0zm-86 1zm-12 1zm2 0zm3 0zm0 1zm1 1zm12 0zm-22 1zm13 0zm-18 1zm19 1zm15 0zm106 1zm-133 1zm10 0zm6 0zm81 0zm-92 1zm20 0zm69 0zm36 0zm-130 1zm8 0zm-13 1zm10 0zm5 0zm92 0zm-93 1zm4 0zm4 1zm77 0zm3 2zm31 0zm-33 2zm5 0zm5 0zm1 0zm21 2zm-6 2zm-2 3zm-9 1zm6 0zm6 0zm-1 2zm-5 1zm-131 47z"/>
<path stroke="#0a14aa" d="M557.8 1066.3zm-12 4zm1 1zm22 0zm-4 1zm3 2zm1 3zm-30 2zm36 0zm-1 1zm-42 2zm1 5zm2 0zm-4 4zm43 2zm-44 4zm-3 1zm-1 2zm43 4zm-48 3zm4 0zm-2 5zm2 0zm4 1zm-6 2zm30 0zm-14 1zm-2 2zm15 0zm-37 1zm3 0zm24 0zm-32 1zm-10 1zm28 0zm-8 1zm14 0zm4 0zm-38 1zm6 0zm10 0zm-17 4zm44 0zm-38 1zm11 0zm-21 2zm-9 4zm2 0zm42 4zm6 0zm-55 2zm-1 1zm1 1zm-9 2zm3 0zm4 1zm49 0zm8 1zm-5 1zm1 0zm1 0zm0 1zm-55 3zm52 0zm2 0zm-56 1zm53 0zm-138 1zm135 0zm-49 1zm1 0zm51 0zm-48 1zm54 0zm-127 1zm-18 1zm1 0zm18 0zm4 0zm4 0zm107 0zm-135 2zm2 1zm13 1zm3 0zm2 0zm75 0zm-101 1zm99 0zm40 0zm-139 3zm28 0zm68 0zm41 0zm-125 1zm86 0zm-103 1zm2 0zm14 0zm3 0zm13 0zm71 0zm35 0zm-135 1zm98 0zm40 0zm-36 1zm-100 1zm1 0zm13 0zm11 1zm-24 1zm22 0zm71 0zm3 0zm4 0zm9 0zm-5 1zm-104 1zm11 0zm9 0zm84 0zm4 1zm22 0zm1 0zm-25 1zm14 0zm-22 2zm9 1zm17 0zm-103 1zm92 0zm10 0zm-8 1zm6 0zm-3 2zm-8 1zm8 0zm3 0zm-4 6zm-2 1z"/>
<path stroke="#0a14b4" d="M546.8 1067.3zm9 0zm3 1zm5 1zm-14 1zm2 0zm1 0zm-9 6zm27 2zm2 2zm0 12zm-4 6zm-39 5zm-5 1zm1 4zm40 0zm-7 2zm-31 1zm-1 2zm-5 1zm16 0zm17 0zm-22 1zm-5 1zm-3 1zm-3 1zm4 0zm-2 1zm12 0zm7 0zm-32 1zm4 0zm22 0zm-29 1zm18 0zm1 0zm-24 2zm27 0zm-3 1zm5 0zm-13 1zm2 0zm-23 1zm1 0zm35 0zm-23 1zm23 1zm1 0zm-43 2zm46 1zm0 2zm0 1zm-57 1zm5 1zm49 1zm-57 2zm59 0zm-5 1zm-48 1zm47 0zm-52 1zm4 1zm-3 1zm51 0zm-4 3zm0 1zm-44 1zm1 0zm50 2zm-9 2zm-46 1zm55 1zm-113 2zm-25 1zm9 1zm120 0zm-136 1zm15 0zm6 0zm75 0zm37 1zm-125 1zm10 0zm-21 1zm1 0zm3 0zm7 0zm87 0zm-84 1zm83 0zm5 0zm30 0zm-126 1zm6 0zm120 0zm-133 1zm24 0zm76 0zm-97 1zm18 1zm109 0zm-123 1zm9 3zm87 0zm-95 1zm13 0zm1 0zm-7 1zm2 0zm110 0zm-4 2zm-5 1zm-14 1zm3 0zm9 0zm8 0zm-8 2zm2 0zm2 0zm-11 2zm7 4z"/>
<path stroke="#0a1eb4" d="M557.8 1068.3zm5 1zm12 21zm-45 9zm1 3zm35 0zm-37 6zm-8 6zm34 1zm-26 8zm-16 1zm4 1zm-16 1zm-6 5zm-13 8zm44 0zm-42 4zm43 7zm-41 5zm-87 3zm-3 1zm10 0zm112 1zm-128 2zm-5 3zm129 0zm-110 3zm0 1zm80 1zm31 0zm-29 2zm23 4zm2 0zm-118 1zm97 1zm13 0zm-6 7zm5 1z"/>
<path stroke="#0a1ebe" d="M556.8 1066.3zm8 3zm-20 1zm2 2zm0 1zm-5 2zm-3 3zm-4 4zm-1 3zm2 1zm-3 3zm41 0zm-4 6zm-41 1zm37 5zm2 1zm-41 1zm0 4zm1 2zm2 0zm-6 2zm11 1zm-9 1zm2 2zm18 0zm10 0zm-5 1zm2 0zm2 0zm-17 2zm-26 1zm23 0zm9 0zm4 0zm-40 1zm5 0zm21 0zm-24 1zm32 0zm-2 1zm-30 1zm2 0zm-12 1zm2 0zm10 0zm9 0zm-22 1zm25 0zm11 0zm5 0zm-37 1zm27 1zm7 1zm0 1zm-22 1zm-5 1zm-24 2zm47 3zm-45 1zm-4 2zm2 2zm-6 2zm47 0zm-51 1zm0 2zm8 1zm-4 2zm2 0zm40 2zm3 0zm-46 2zm45 3zm-8 4zm-115 1zm84 3zm1 1zm31 0zm-131 1zm24 2zm101 0zm-110 2zm3 0zm102 0zm3 0zm-106 1zm6 1zm-12 1zm95 0zm22 1zm-14 2zm-9 2z"/>
<path stroke="#0a1ec8" d="M562.8 1068.3zm-1 1zm2 2zm-24 8zm32 4zm2 5zm-40 3zm36 1zm-38 2zm-3 15zm9 3zm23 0zm-34 3zm22 0zm0 1zm-14 1zm-11 1zm6 1zm-14 1zm12 0zm-5 1zm-20 3zm7 0zm4 0zm-4 2zm-10 1zm26 0zm8 0zm-7 1zm-13 1zm20 0zm-36 1zm7 0zm24 0zm4 0zm-50 7zm4 0zm43 0zm-3 3zm-39 1zm-8 1zm8 2zm-8 2zm48 2zm-2 6zm-3 4zm-1 2zm-131 2zm115 0zm-107 1zm3 0zm6 0zm81 0zm-86 1zm-14 1zm16 1zm4 1zm98 0zm6 0zm-110 2zm106 0zm-102 1zm-3 1zm88 1zm3 3zm4 1zm-2 1zm13 0zm1 0zm-6 1zm-8 4z"/>
<path stroke="#0a28c8" d="M557.8 1069.3zm-10 4zm-5 4zm23 1zm3 17zm-7 10zm-30 1zm-7 2zm37 1zm-32 1zm8 3zm-5 1zm1 0zm5 0zm13 0zm-26 3zm1 0zm19 1zm-5 1zm-9 1zm6 0zm-8 1zm-10 4zm3 1zm-25 1zm6 1zm9 0zm22 2zm-28 1zm28 2zm-50 3zm3 0zm-1 2zm39 3zm1 1zm-45 5zm50 3zm-52 1zm47 1zm-46 1zm40 6zm-122 2zm-8 2zm122 1zm-111 1zm85 4zm21 1zm3 1zm-113 2zm92 0zm9 0zm-4 1zm9 0zm-2 3zm6 0zm-13 1zm0 4z"/>
<path stroke="#0a28d2" d="M561.8 1071.3zm-15 3zm11 0zm9 3zm5 7zm-37 4zm37 5zm-6 2zm-34 4zm36 2zm-36 4zm29 3zm-34 8zm14 0zm1 0zm-8 1zm3 0zm-8 1zm25 0zm-30 3zm8 0zm-21 1zm11 2zm-14 1zm-3 1zm4 1zm1 0zm3 0zm11 0zm-9 1zm-17 1zm19 1zm18 2zm-7 1zm-34 2zm35 0zm2 4zm1 0zm-2 1zm3 0zm-48 2zm37 1zm3 0zm-44 1zm52 0zm-5 2zm1 0zm-8 2zm4 0zm1 0zm1 1zm-46 2zm-1 1zm4 1zm1 0zm-5 2zm6 2zm5 0zm31 0zm-132 2zm130 1zm-122 2zm87 0zm28 1zm-26 1zm26 1zm-109 1zm107 0zm-103 1zm105 1zm-115 1zm92 1zm4 2zm18 0zm-8 3zm7 0zm-14 1zm7 1zm-9 3z"/>
<path stroke="#0a32d2" d="M555.8 1069.3zm-11 7zm-6 6zm31 9zm-1 1zm-36 1zm-2 5zm0 1zm2 11zm15 3zm9 0zm-13 1zm-13 6zm1 2zm-18 4zm-10 3zm5 0zm3 0zm-23 5zm38 0zm2 4zm-2 1zm-42 2zm0 6zm-3 1zm46 3zm-16 9zm7 2zm-32 1zm19 0zm-102 1zm102 2zm-20 3zm27 0zm-13 2zm-4 2zm1 0zm1 3zm8 0z"/>
<path stroke="#0a3cd2" d="M529.8 1104.3zm-16 29zm-26 10zm-7 4zm8 11zm-86 8zm-1 3zm85 4z"/>
<path stroke="#0a3cdc" d="M556.8 1071.3zm-7 1zm3 0zm-8 1zm20 1zm2 1zm1 2zm-30 10zm27 14zm-2 3zm-31 6zm3 0zm4 2zm3 1zm-7 1zm-6 1zm1 0zm17 0zm-12 1zm-5 1zm-8 12zm-16 1zm12 1zm15 1zm-40 2zm34 3zm-41 7zm39 6zm-35 3zm0 3zm28 5zm-113 4zm2 1zm98 1zm1 2zm-13 1zm7 0zm11 0zm-14 1zm11 1zm-14 4zm13 2z"/>
<path stroke="#0a46dc" d="M558.8 1070.3zm1 0zm-8 3zm11 0zm-18 2zm23 3zm-31 8zm36 3zm-37 2zm1 0zm21 21zm1 0zm-19 1zm14 0zm-11 1zm-15 4zm3 0zm-3 9zm-19 4zm3 1zm1 0zm7 0zm11 3zm4 1zm-48 4zm-2 5zm39 8zm-34 5zm-2 2zm31 0zm-11 1zm7 2zm-10 2zm-9 2zm-97 1zm88 0zm12 2zm-3 1zm3 3zm6 3z"/>
<path stroke="#0a50dc" d="M564.8 1076.3zm4 8zm3 7zm-38 6zm-1 9zm0 5zm20 1zm-22 18zm-19 3zm-20 2zm-3 5zm36 0zm-38 5zm-4 3zm5 0zm0 2zm31 4zm-28 10z"/>
<path stroke="#1414a0" d="M559.8 1059.3zm-1 1zm2 0zm0 2zm1 1zm19 0zm-24 1zm5 0zm-3 1zm1 0zm1 0zm8 0zm-8 2zm6 0zm1 0zm1 0zm-22 1zm-2 1zm8 0zm29 0zm-38 1zm4 0zm20 1zm2 0zm4 0zm-36 1zm1 0zm3 0zm1 0zm27 0zm-30 1zm30 0zm1 0zm1 0zm1 1zm-34 1zm43 0zm-43 1zm-5 2zm2 0zm38 0zm-37 1zm-6 2zm2 0zm44 0zm-43 3zm42 0zm-44 2zm44 1zm7 1zm-53 2zm1 0zm-5 1zm5 1zm-6 1zm2 0zm-2 2zm0 1zm51 0zm-51 1zm49 0zm1 0zm-50 1zm48 0zm-52 3zm6 0zm44 1zm1 0zm-50 1zm6 0zm43 0zm-48 2zm0 1zm4 0zm-4 1zm41 0zm1 0zm-46 1zm4 0zm-15 1zm59 0zm-2 1zm-42 1zm41 0zm-48 1zm4 0zm43 0zm1 0zm-36 1zm-17 1zm7 0zm43 0zm-54 1zm11 0zm4 0zm41 0zm-58 1zm3 0zm4 0zm2 0zm1 0zm6 0zm-22 1zm62 0zm-54 1zm1 0zm-11 1zm10 0zm15 0zm31 0zm1 0zm-55 1zm10 0zm42 0zm4 0zm-59 2zm5 0zm5 0zm11 0zm-23 1zm3 0zm1 0zm45 0zm1 0zm1 0zm5 0zm2 0zm2 0zm1 0zm1 0zm-61 1zm48 0zm1 0zm2 0zm3 0zm2 0zm5 0zm-62 1zm-9 1zm4 0zm6 0zm45 0zm5 0zm-58 1zm1 0zm4 0zm58 0zm-60 1zm50 0zm6 0zm3 0zm-69 1zm63 0zm3 0zm-72 1zm6 0zm7 0zm1 0zm53 0zm-63 1zm3 0zm58 0zm5 0zm7 0zm-66 1zm7 0zm48 0zm-64 1zm3 0zm2 0zm58 0zm-65 1zm8 0zm-6 1zm67 0zm-85 1zm80 0zm-71 1zm12 0zm60 0zm-63 1zm4 0zm55 0zm-70 1zm10 0zm65 0zm1 0zm3 0zm-77 1zm8 0zm-5 1zm1 0zm4 0zm62 0zm4 0zm2 0zm-70 1zm68 0zm-137 1zm6 0zm58 0zm6 0zm-70 1zm2 1zm60 0zm6 0zm-63 1zm1 0zm3 0zm60 0zm64 0zm-123 1zm-11 1zm10 0zm58 0zm-64 1zm50 0zm19 0zm61 0zm-144 1zm35 0zm47 0zm64 0zm1 0zm-145 1zm8 1zm1 0zm3 0zm68 0zm56 0zm2 0zm3 0zm-170 1zm13 0zm4 0zm24 0zm1 0zm1 0zm5 0zm1 0zm4 0zm122 0zm-148 1zm12 0zm5 0zm18 0zm44 0zm2 0zm58 0zm1 0zm5 0zm1 0zm2 0zm-184 1zm30 0zm6 0zm2 0zm4 0zm3 0zm3 0zm6 0zm67 0zm4 0zm46 0zm10 0zm-172 1zm18 0zm2 0zm32 0zm1 0zm7 0zm1 0zm48 0zm5 0zm54 0zm7 0zm-163 1zm15 0zm7 0zm2 0zm18 0zm6 0zm1 0zm49 0zm4 0zm57 0zm5 0zm-165 1zm5 0zm2 0zm1 0zm5 0zm4 0zm1 0zm9 0zm3 0zm64 0zm1 0zm6 0zm52 0zm6 0zm2 0zm-154 1zm1 0zm24 0zm4 0zm4 0zm1 0zm2 0zm6 0zm43 0zm11 0zm1 0zm51 0zm1 0zm1 0zm4 0zm-176 1zm4 0zm11 0zm10 0zm14 0zm11 0zm12 0zm54 0zm-117 1zm29 0zm28 0zm1 0zm111 0zm9 0zm-157 1zm6 0zm81 0zm3 0zm5 0zm2 0zm49 1zm-153 1zm6 0zm42 0zm45 0zm3 0zm2 0zm47 0zm-145 1zm1 0zm3 0zm33 0zm2 0zm50 0zm6 0zm52 0zm1 0zm-145 1zm1 0zm31 0zm3 0zm51 0zm2 0zm1 0zm17 0zm-107 1zm8 0zm4 0zm25 0zm1 0zm5 0zm55 0zm-93 1zm27 0zm10 0zm13 0zm38 0zm-92 1zm2 0zm4 0zm7 0zm28 0zm59 0zm2 0zm34 0zm-132 1zm8 0zm5 0zm27 0zm60 0zm40 0zm1 0zm-145 1zm44 0zm2 0zm60 0zm36 0zm-139 1zm9 0zm13 0zm7 0zm106 0zm3 0zm-148 1zm4 0zm3 0zm4 0zm1 0zm6 0zm97 0zm-112 1zm13 0zm4 0zm2 0zm28 0zm55 0zm5 0zm-100 1zm1 0zm14 0zm3 0zm4 0zm5 0zm1 0zm98 0zm-130 1zm7 0zm10 0zm13 0zm5 0zm17 0zm48 0zm1 0zm2 0zm1 0zm1 0zm9 0zm21 0zm-124 1zm1 0zm7 0zm5 0zm1 0zm2 0zm3 0zm5 0zm3 0zm64 0zm9 0zm26 0zm-126 1zm6 0zm1 0zm5 0zm12 0zm10 0zm61 0zm1 0zm33 0zm-133 1zm2 0zm2 0zm11 0zm4 0zm81 0zm27 0zm-119 1zm8 0zm92 0zm-99 1zm1 0zm4 0zm1 0zm6 0zm89 0zm2 0zm-92 1zm12 0zm1 0zm74 0zm13 0zm5 0zm-89 1zm3 0zm67 0zm4 0zm5 0zm10 0zm-116 1zm-6 1zm4 0zm99 0zm9 0zm3 0zm2 0zm2 0zm2 0zm1 0zm-101 1zm95 0zm2 0zm-119 1zm16 0zm7 0zm84 0zm5 0zm4 0zm-107 1zm55 0zm44 0zm9 0zm-6 1zm-113 1zm113 0zm3 1zm1 1zm1 0zm-1 1zm3 0zm-4 1zm-2 1zm-129 40zm2 0zm1 0zm1 0zm1 0zm17 0zm2 0zm1 0zm1 0zm2 0zm3 0zm4 0z"/>
<path stroke="#141ea0" d="M552.8 1049.3zm11 8zm-27 19zm41 10zm-1 5zm-47 1zm39 11zm-50 6zm-32 15zm65 6zm-72 1zm68 0zm-76 7zm62 4zm2 3zm-118 2zm-14 1zm71 0zm-66 1zm129 0zm-69 6zm-98 5zm43 1zm3 0zm-58 4zm110 3zm49 3zm-151 2zm5 2zm-2 2zm56 0zm-49 3zm135 2zm-127 2zm107 3zm19 0zm-15 2zm13 2zm-118 1zm103 0zm3 4zm-132 39zm13 0z"/>
<path stroke="#1450dc" d="M553.8 1074.3zm-11 4zm28 13zm-38 8zm26 9zm-17 6zm-13 10zm3 3zm-2 3zm-27 1zm-8 2zm-1 1zm31 4zm-36 22zm19 8zm4 2zm-6 1z"/>
<path stroke="#145adc" d="M562.8 1071.3zm-1 1zm-9 3zm10 1zm9 6zm-35 1zm31 9zm-34 16zm0 2zm21 1zm1 3zm-25 12zm-10 1zm1 1zm2 0zm1 1zm-25 3zm5 0zm-6 1zm27 0zm-27 1zm35 0zm-3 3zm-7 2zm-34 11zm33 5zm-11 6zm1 0zm-21 7zm6 10z"/>
<path stroke="#1464dc" d="M559.8 1069.3zm1 4zm0 1zm-21 8zm32 6zm-41 19zm-19 27zm-21 32z"/>
<path stroke="#1464e6" d="M559.8 1073.3zm0 4zm-16 1zm-3 3zm30 1zm-3 13zm-1 1zm-36 5zm12 10zm10 2zm-19 6zm-9 5zm3 2zm-26 6zm15 0zm14 0zm-28 1zm18 0zm-18 1zm-14 2zm3 5zm-10 1zm40 2zm-38 4zm7 0zm-4 4zm33 1zm1 3zm-17 1zm-14 3zm17 1zm-15 1zm23 0zm1 0zm-26 2zm26 0zm-12 1zm-10 1zm-88 1zm90 3zm3 1zm-2 1zm0 2z"/>
<path stroke="#146ee6" d="M552.8 1073.3zm2 2zm9 2zm-19 2zm21 0zm4 5zm2 2zm-35 1zm35 0zm-36 6zm-3 9zm-1 5zm3 0zm3 2zm-1 1zm4 1zm4 1zm4 2zm-19 10zm-4 7zm-15 2zm15 1zm-33 3zm30 1zm-30 2zm-6 1zm4 5zm-3 3zm0 3zm-1 2zm33 2zm-6 2zm-21 9zm3 2zm7 0z"/>
<path stroke="#1478e6" d="M547.8 1075.3zm17 0zm5 14zm2 0zm-7 8zm-1 4zm-29 3zm9 8zm12 0zm-7 1zm-29 17zm6 0zm-3 3zm-13 1zm9 0zm-29 8zm33 2zm0 2zm-5 3zm-26 8zm13 0zm-14 2zm17 0zm-2 2zm-3 1zm-3 6zm3 3z"/>
<path stroke="#1482e6" d="M549.8 1075.3zm-14 32zm-20 23zm-16 4zm-12 11zm-2 2zm5 16zm10 3z"/>
<path stroke="#1482f0" d="M553.8 1071.3zm-1 3zm-4 4zm19 4zm4 3zm1 2zm-9 6zm-2 11zm-16 9zm6 2zm-33 16zm1 0zm-5 2zm9 0zm-3 1zm0 6zm-33 6zm5 2zm1 4zm-3 2zm9 4zm18 0zm-8 1zm-19 2zm4 4zm5 0zm-5 1zm0 2zm10 3z"/>
<path stroke="#148ce6" d="M557.8 1073.3zm-15 9zm26 0zm1 4zm0 1zm-7 11zm-31 2zm28 6zm-54 27zm13 0zm1 0zm-9 1zm-20 6zm32 2zm-33 4zm34 0zm-8 2zm-9 8zm1 0zm8 0zm-20 2zm-2 1zm9 1zm0 1zm1 0zm-10 6zm9 3z"/>
<path stroke="#148cf0" d="M564.8 1077.3zm2 3zm-35 21zm28 7zm-6 3zm-22 23zm-17 3zm8 6zm-4 3zm1 0zm-3 10zm-23 9zm9 2zm1 1z"/>
<path stroke="#1496e6" d="M546.8 1078.3zm3 0zm-8 3zm25 2zm2 8zm-5 1zm-30 13zm22 3zm-10 2zm7 1zm-35 21zm5 0zm-11 3zm9 3zm-1 9zm3 0zm-13 11zm-8 1zm-10 6zm9 0z"/>
<path stroke="#1e1ea0" d="M579.8 1056.3zm-15 3zm-11 1zm4 0zm7 0zm-3 1zm14 0zm9 2zm-17 1zm13 0zm-44 1zm33 0zm10 1zm0 2zm3 0zm-44 2zm36 0zm4 1zm3 0zm-8 5zm3 2zm-47 1zm48 1zm5 0zm-52 2zm-8 3zm58 0zm0 2zm-59 1zm5 0zm58 0zm-71 2zm67 1zm-60 1zm3 0zm53 0zm-55 3zm51 0zm-51 4zm51 0zm3 0zm-59 2zm0 1zm0 1zm4 0zm-5 3zm-19 5zm12 0zm7 0zm54 0zm-69 1zm1 0zm13 0zm-6 2zm-5 1zm63 1zm-2 2zm-72 3zm5 0zm-11 1zm62 0zm5 0zm-73 3zm-17 1zm20 0zm-15 1zm16 1zm66 0zm4 0zm-73 2zm-15 1zm79 0zm11 1zm-97 1zm15 0zm75 1zm-93 1zm16 0zm-6 3zm75 0zm4 1zm25 2zm-104 1zm-58 1zm13 0zm115 0zm6 0zm-143 1zm8 0zm53 0zm4 0zm3 0zm-90 1zm14 0zm18 0zm49 0zm-78 1zm12 0zm13 0zm4 1zm11 0zm-14 1zm8 0zm-38 1zm2 0zm22 0zm14 0zm47 0zm85 0zm-146 1zm20 0zm122 0zm-184 1zm34 0zm21 0zm12 0zm40 0zm76 0zm-142 2zm20 0zm43 0zm77 0zm4 0zm-179 1zm1 0zm5 0zm13 0zm42 0zm44 0zm1 0zm-50 1zm44 0zm75 0zm-182 1zm11 0zm8 0zm1 0zm21 0zm69 0zm-99 1zm45 0zm4 0zm53 0zm-110 1zm14 0zm5 0zm36 0zm52 0zm74 0zm-185 1zm16 0zm71 0zm23 0zm-109 1zm3 0zm13 0zm52 0zm7 1zm30 0zm8 0zm1 0zm2 0zm2 0zm-111 1zm55 0zm7 0zm34 0zm-34 1zm11 0zm34 0zm-51 1zm12 0zm95 0zm4 0zm-165 1zm53 0zm17 0zm31 0zm-110 1zm1 0zm17 0zm48 0zm52 0zm63 0zm-178 1zm9 0zm-9 1zm12 0zm1 0zm42 0zm8 0zm41 0zm-113 1zm83 0zm26 0zm-50 1zm3 0zm7 0zm3 0zm39 0zm-98 1zm54 0zm45 0zm1 0zm5 0zm1 0zm1 0zm51 0zm-158 1zm89 0zm7 0zm13 0zm50 0zm-156 1zm4 0zm50 0zm7 0zm39 0zm53 0zm-140 1zm82 0zm4 0zm6 0zm2 0zm-80 1zm26 0zm1 0zm98 0zm-153 1zm11 0zm13 0zm22 0zm106 0zm-155 1zm5 0zm4 0zm1 0zm48 0zm6 0zm25 0zm20 0zm9 0zm33 0zm6 0zm-146 1zm11 0zm-3 1zm2 0zm22 0zm1 0zm-32 1zm15 0zm27 0zm-51 1zm6 0zm10 0zm2 0zm10 0zm81 0zm37 0zm-37 1zm5 0zm2 0zm-94 1zm11 0zm13 0zm-36 1zm13 0zm87 0zm12 0zm-99 1zm23 0zm-25 1zm10 0zm4 0zm91 0zm19 0zm-120 1zm9 0zm4 0zm3 0zm1 1zm104 0zm-116 1zm9 0zm86 0zm-91 1zm90 0zm21 0zm-119 1zm102 0zm-91 1zm1 1zm95 0zm6 0zm-119 1zm109 0zm8 0zm-101 2zm102 0zm-5 6zm-115 6zm-32 27zm10 0zm12 0zm5 0zm9 0zm3 0zm4 0zm3 0zm3 0zm1 0zm2 0zm1 0zm1 0zm5 0zm2 0z"/>
<path stroke="#1e96e6" d="M549.8 1077.3zm-9 7zm-3 1zm22 20zm-15 6zm-51 40zm23 2zm-19 1zm-4 7zm-3 7zm6 2z"/>
<path stroke="#1ea0e6" d="M558.8 1071.3zm-1 4zm11 13zm-6 7zm-2 8zm-6 5zm3 0zm-21 1zm-21 23zm-12 2zm13 2zm1 0zm8 0zm-36 3zm4 1zm24 10zm0 1zm-25 1zm3 1zm-1 1zm14 1zm-11 2zm2 0zm3 0zm17 0zm-9 1zm-16 4zm5 2zm2 0zm1 0zm-5 4z"/>
<path stroke="#1eaae6" d="M555.8 1073.3zm-3 3zm-8 5zm17 13zm2 2zm-29 5zm25 3zm-25 2zm8 3zm8 0zm-44 24zm15 1zm-12 1zm-6 1zm-9 1zm25 1zm-4 5zm-23 1zm1 10zm14 0zm12 0zm-2 1zm-23 1zm1 0zm-2 1zm23 0zm-16 6zm-6 4zm5 0z"/>
<path stroke="#1eb4e6" d="M556.8 1077.3zm11 4zm1 5zm-2 6zm-2 3zm-32 5zm3 3zm24 0zm-14 5zm-29 25zm1 0zm-2 2zm-20 2zm22 1zm-2 1zm-25 8zm3 2zm25 0zm-23 2zm6 0zm0 2zm14 0zm-22 5zm4 1zm16 0zm-14 2zm0 2zm-2 2zm-1 1z"/>
<path stroke="#1ebee6" d="M563.8 1080.3zm0 11zm-9 19zm-37 32zm-21 6zm-3 5z"/>
<path stroke="#2828a0" d="M546.8 1055.3zm11 2zm25 0zm-5 2zm-23 2zm11 0zm0 1zm11 1zm3 0zm-39 2zm4 2zm30 0zm2 1zm3 6zm-51 5zm-14 5zm1 1zm8 0zm-19 3zm19 0zm60 0zm-98 1zm37 1zm53 10zm-93 2zm30 1zm62 0zm1 1zm-57 3zm-38 2zm93 2zm-65 1zm54 5zm-61 1zm-16 2zm73 1zm1 1zm3 0zm-70 1zm-23 1zm-7 6zm5 0zm7 0zm-16 1zm7 2zm85 0zm6 1zm8 0zm-110 1zm9 0zm96 0zm-193 1zm9 0zm77 1zm96 1zm-168 1zm77 0zm-75 1zm17 0zm152 0zm-168 1zm158 0zm-157 1zm21 1zm51 0zm0 1zm14 0zm-75 1zm4 0zm-21 2zm16 1zm66 0zm-83 1zm55 0zm36 0zm-90 1zm175 0zm-189 1zm34 0zm73 0zm-113 1zm4 1zm15 0zm172 0zm-177 1zm45 1zm14 0zm-72 1zm5 0zm-15 1zm93 0zm2 0zm-5 1zm6 0zm20 0zm-103 2zm10 0zm52 0zm115 0zm-173 1zm167 0zm-176 2zm106 0zm67 0zm3 0zm-99 1zm30 0zm-3 1zm-32 1zm106 0zm-176 1zm99 0zm-28 2zm-16 2zm13 0zm7 0zm92 0zm-100 1zm49 0zm-14 1zm61 0zm-173 1zm62 0zm47 1zm-91 1zm98 0zm-10 1zm-23 1zm15 0zm-36 1zm6 0zm52 0zm-92 1zm31 0zm17 0zm-52 1zm30 0zm17 0zm23 0zm-71 1zm10 0zm138 0zm-145 1zm6 0zm51 0zm11 0zm-75 1zm39 1zm7 0zm3 0zm22 0zm-47 1zm22 0zm48 0zm-53 1zm13 0zm25 1zm1 0zm-71 1zm2 0zm7 0zm6 0zm87 0zm30 0zm-30 1zm-114 1zm12 1zm25 0zm5 0zm113 0zm-118 1zm90 0zm16 1zm-123 1zm22 0zm79 0zm20 0zm-92 1zm94 0zm-145 5zm30 0zm22 1zm-68 8zm12 25zm4 0zm18 0zm3 0zm2 0zm1 0zm10 0zm10 0zm1 0zm9 0z"/>
<path stroke="#2828aa" d="M564.8 1051.3zm-9 11zm28 0zm-31 1zm-12 3zm-1 2zm-7 8zm-4 8zm53 0zm-61 2zm-2 6zm60 5zm-66 2zm-13 11zm-4 1zm5 4zm-10 6zm-19 6zm83 3zm-94 7zm-78 1zm26 0zm-35 2zm29 3zm-4 1zm157 1zm16 1zm-198 1zm-16 3zm101 1zm-86 1zm175 0zm-205 6zm84 0zm-81 1zm93 1zm4 0zm101 0zm-180 4zm70 2zm114 0zm-13 1zm-168 1zm157 1zm-171 3zm11 2zm68 0zm-6 1zm-91 1zm203 1zm-106 1zm-62 3zm57 0zm-63 2zm14 0zm43 0zm98 1zm-77 2zm-70 1zm35 0zm78 0zm-38 1zm27 1zm55 0zm-124 1zm-25 1zm2 1zm127 0zm-141 1zm13 0zm-12 1zm5 1zm17 1zm-27 3zm7 0zm126 1zm-120 4zm127 1zm-161 30zm7 0zm1 0z"/>
<path stroke="#28bee6" d="M550.8 1078.3zm-7 5zm23 7zm-58 43zm6 3zm0 5zm3 2zm-23 4zm15 8zm-6 3zm-2 3zm-3 2zm-1 3z"/>
<path stroke="#28c8e6" d="M557.8 1076.3zm-10 2zm16 1zm-17 1zm22 7zm-28 1zm29 0zm-35 15zm-1 1zm25 1zm-20 4zm3 0zm12 0zm-14 3zm-26 22zm-11 1zm9 1zm5 2zm2 0zm-2 2zm-22 2zm0 2zm22 6zm3 1zm-21 1zm5 0zm-1 3zm5 0zm-11 2zm7 3z"/>
<path stroke="#28d2a0" d="M554.8 1079.3zm5 0zm4 9zm-25 5zm-37 43zm5 1zm3 4zm-13 2zm12 3zm5 1zm-3 3zm1 2zm-17 6zm2 4z"/>
<path stroke="#28d2aa" d="M558.8 1079.3zm4 2zm-21 4zm-1 4zm-2 16zm8 4zm-49 29zm18 2zm-2 3zm2 4zm-8 1zm-12 1zm20 0zm-1 5z"/>
<path stroke="#28d2b4" d="M552.8 1077.3zm-2 2zm10 0zm-19 5zm23 1zm-25 2zm-2 9zm-2 4zm5 7zm-44 30zm-1 2z"/>
<path stroke="#28d2be" d="M553.8 1075.3zm-4 5zm18 6zm-30 6zm2 17zm8 0zm-39 27zm2 3zm-1 3zm5 8zm-18 2zm10 2zm-9 1z"/>
<path stroke="#28d2c8" d="M554.8 1078.3zm-16 8zm24 5zm-2 5zm1 0zm-26 2zm11 9zm-1 2zm-44 26zm-1 1zm10 1zm1 2zm-3 1zm2 2zm5 0zm-21 6zm17 0zm-13 2zm-1 3zm11 1zm4 1zm-15 3z"/>
<path stroke="#28d2d2" d="M562.8 1079.3zm-18 3zm-2 2zm23 1zm-3 7zm-22 16zm11 1zm-48 26zm-1 1zm-1 1zm13 7zm-20 7zm15 0zm-13 3zm3 0zm-1 1zm-6 1zm4 4z"/>
<path stroke="#28d2dc" d="M566.8 1086.3zm-28 2zm1 3zm26 2zm-31 6zm0 1zm4 7zm11 1zm0 1zm-49 26zm17 2zm-1 2zm2 0zm0 2zm-20 8zm7 5zm-11 1zm20 0z"/>
<path stroke="#28d2e6" d="M561.8 1077.3zm-18 5zm24 7zm-4 1zm-29 8zm27 2zm-4 6zm1 0zm-15 3zm-37 26zm-8 1zm12 2zm-13 1zm15 0zm4 5zm-2 1zm1 0zm-18 11zm12 0zm-15 3zm6 0zm-5 2z"/>
<path stroke="#3232aa" d="M546.8 1050.3zm20 3zm11 3zm-27 3zm20 0zm13 0zm-47 4zm10 0zm-2 1zm-18 9zm57 3zm-52 1zm52 0zm2 0zm-5 2zm-57 1zm1 1zm65 3zm-69 1zm1 0zm-14 2zm75 2zm-61 5zm62 4zm-91 2zm22 1zm-3 5zm-11 1zm73 0zm-73 1zm-27 1zm20 2zm-3 3zm-16 6zm96 0zm5 0zm2 0zm-97 1zm3 0zm-13 1zm2 0zm-1 1zm-113 1zm204 0zm-148 1zm143 0zm-99 1zm104 2zm-9 2zm-86 1zm95 1zm-136 2zm119 0zm6 0zm-158 1zm64 0zm1 0zm103 0zm11 0zm-186 1zm49 0zm21 0zm-96 1zm203 0zm-99 1zm97 0zm-195 3zm29 0zm21 0zm37 0zm-79 1zm38 0zm13 0zm27 0zm115 1zm-105 1zm81 0zm-167 1zm189 0zm-198 1zm10 0zm13 0zm-52 1zm13 0zm78 0zm28 0zm89 0zm-149 1zm24 0zm15 0zm-49 1zm39 0zm15 0zm5 0zm-65 1zm74 0zm-28 1zm36 0zm4 1zm-12 1zm-16 1zm23 0zm0 1zm-19 1zm-73 1zm70 0zm7 2zm-95 1zm78 1zm-75 1zm78 0zm5 0zm23 0zm67 0zm-70 1zm0 1zm-108 1zm9 1zm7 1zm69 0zm101 1zm-104 1zm15 0zm95 0zm-185 1zm12 1zm63 0zm98 0zm-80 1zm-32 1zm33 0zm86 0zm-12 1zm-65 2zm-37 1zm-8 2zm-60 1zm66 0zm20 0zm17 0zm15 0zm52 0zm-90 1zm12 0zm96 0zm-69 1zm-45 1zm7 0zm88 0zm-96 1zm85 0zm-95 1zm59 0zm-118 1zm86 1zm17 0zm-65 2zm19 0zm33 0zm33 0zm-88 1zm75 0zm5 0zm-121 1zm46 0zm76 0zm-99 1zm111 0zm1 0zm-99 1zm-23 1zm128 0zm-105 1zm57 0zm-46 1zm26 0zm57 0zm-72 1zm-11 1zm2 0zm53 0zm-99 1zm30 0zm38 0zm-55 1zm122 0zm2 0zm-101 1zm23 0zm66 0zm-52 2zm14 0zm56 1zm-98 1zm84 0zm-115 4zm28 3zm-70 23zm20 0zm3 0zm5 0zm22 0zm7 0z"/>
<path stroke="#32d26e" d="M543.8 1108.3zm-35 31z"/>
<path stroke="#32d278" d="M552.8 1078.3zm9 2zm-13 3zm16 1zm-21 2zm-6 9zm-1 4zm0 1zm-19 39zm-20 2zm2 0zm14 0zm-16 7zm16 0zm1 1zm-12 2zm-1 3z"/>
<path stroke="#32d282" d="M557.8 1077.3zm3 1zm-5 2zm-6 2zm-8 5zm1 2zm-5 18zm2 0zm-37 31zm10 5zm-17 3zm17 1zm-2 1zm-1 5zm2 1z"/>
<path stroke="#32d28c" d="M548.8 1081.3zm-7 8zm17 11zm-22 1zm1 4zm11 3zm-49 29zm4 0zm1 0zm5 1zm0 5zm-6 2zm-6 2zm-1 2zm21 4zm-19 12z"/>
<path stroke="#32d296" d="M563.8 1087.3zm2 0zm-1 2zm-5 13zm-11 5zm1 0zm-52 30zm0 6zm15 6zm0 3zm2 1z"/>
<path stroke="#32d2a0" d="M553.8 1079.3zm4 1zm7 2zm-25 10zm5 16zm-31 31zm-20 4zm3 2zm15 11z"/>
<path stroke="#32dc64" d="M561.8 1081.3zm1 7zm-23 6zm18 3zm0 4zm-18 3zm-37 33zm2 3zm-1 1zm-8 4zm17 1zm-11 3zm7 1z"/>
<path stroke="#32dc6e" d="M552.8 1079.3zm-13 11zm1 2zm16 12zm-16 2zm3 0zm4 1zm3 0zm-39 33zm2 2zm-6 8zm-7 2zm7 0zm1 1z"/>
<path stroke="#3c3caa" d="M561.8 1050.3zm-1 1zm0 4zm-39 3zm48 2zm-34 1zm43 1zm-76 8zm33 1zm53 0zm-110 4zm19 9zm92 2zm-75 2zm2 6zm66 1zm-83 1zm0 1zm2 3zm4 0zm-25 1zm31 0zm70 0zm-92 4zm84 1zm-64 5zm-23 2zm83 0zm-81 4zm-7 3zm108 1zm-112 2zm94 0zm9 0zm-186 2zm72 0zm-99 3zm14 3zm40 1zm-24 1zm5 0zm156 0zm-112 3zm120 0zm-208 1zm14 0zm31 0zm-22 1zm46 0zm-60 1zm39 2zm54 1zm-117 1zm41 0zm-22 2zm67 0zm121 0zm-178 1zm-37 1zm236 0zm-184 1zm74 0zm96 0zm-121 1zm115 0zm-192 1zm209 0zm-231 2zm96 1zm-102 2zm27 3zm96 0zm-20 1zm-95 6zm9 0zm1 1zm96 0zm4 4zm-5 2zm8 1zm-88 1zm172 0zm-184 2zm1 0zm88 0zm28 6zm-7 1zm-4 1zm-5 3zm-35 3zm16 0zm93 0zm-110 1zm130 0zm-163 1zm39 0zm-9 2zm36 0zm13 0zm-40 1zm6 1zm67 2zm-46 1zm34 0zm-95 1zm127 2zm-31 1zm102 0zm-176 1zm-37 1zm69 0zm-41 4zm30 1zm85 2zm-121 14zm-42 9zm3 0zm4 0zm49 0zm4 0zm1 0zm23 0zm5 0zm15 0z"/>
<path stroke="#3c3cb4" d="M479.8 1044.3zm102 3zm-90 2zm67 0zm5 2zm-25 1zm39 3zm-37 4zm46 1zm-13 2zm13 4zm-3 7zm-77 4zm-14 9zm10 0zm7 0zm-25 2zm-24 2zm42 8zm-8 5zm-23 2zm103 0zm14 4zm-114 4zm-20 3zm-79 1zm95 0zm-64 2zm16 0zm-21 1zm4 6zm163 0zm-157 7zm10 0zm16 0zm-66 1zm65 1zm12 0zm-60 4zm-29 2zm-32 1zm42 0zm18 0zm-26 3zm196 9zm2 1zm-6 4zm-4 2zm11 0zm5 3zm-19 11zm-92 2zm9 0zm-109 4zm5 0zm108 1zm-121 2zm5 1zm184 0zm-192 1zm79 0zm19 1zm80 0zm-193 1zm28 0zm24 1zm-32 3zm130 0zm-51 1zm-17 1zm-22 2zm99 2zm-113 3zm23 1zm36 0zm-52 4zm-8 1zm117 0zm-27 1zm-53 1zm61 0zm-95 1zm35 0zm-34 13zm-43 12zm86 0zm1 0z"/>
<path stroke="#3cdc5a" d="M548.8 1084.3zm-7 4zm15 17zm-50 33zm-8 6zm1 5zm8 2z"/>
<path stroke="#3cdc64" d="M546.8 1084.3zm15 0zm1 0zm-5 15zm-9 6zm7 0zm-8 3zm-48 31zm3 3zm-3 6zm5 1zm8 2zm-6 1z"/>
<path stroke="#46dc5a" d="M551.8 1080.3zm-13 14zm2 0zm-2 8zm-1 1zm20 2zm-2 1zm-55 31zm8 0zm-12 7zm15 3zm-13 1zm15 2z"/>
<path stroke="#50dc50" d="M552.8 1082.3zm-5 1zm15 0zm-4 14zm-21 1zm19 0zm-2 4zm-43 39zm-14 3zm6 0zm-6 5zm11 0z"/>
<path stroke="#50dc5a" d="M558.8 1080.3zm-53 59zm-8 1zm5 6zm0 2z"/>
<path stroke="#5adc50" d="M543.8 1087.3zm0 2zm-1 3zm-4 5zm-38 41zm5 0zm-7 3zm1 1zm5 0zm4 0zm-6 5zm5 2zm2 0zm1 3z"/>
<path stroke="#64dc46" d="M551.8 1083.3zm-5 2zm3 0zm12 1zm-2 5zm1 0zm-2 5zm1 3zm-19 4zm-3 1zm15 0zm-11 1zm1 0zm9 0zm-43 36zm-7 4zm7 0z"/>
<path stroke="#64dc50" d="M561.8 1082.3zm-2 13zm-61 50zm8 3z"/>
<path stroke="#6edc3c" d="M543.8 1107.3zm-36 37zm-1 2z"/>
<path stroke="#6edc46" d="M559.8 1081.3zm-10 2zm2 1zm10 5zm0 1zm-22 3zm3 1zm4 0zm12 4zm-14 5zm-5 2zm6 0zm2 1zm-3 1zm-44 33zm6 1zm-3 2zm-1 1zm1 2z"/>
<path stroke="#78dc3c" d="M559.8 1082.3zm-14 7zm13 2zm0 2zm-18 3zm3 8zm-37 41zm-3 2zm4 0zm2 0zm-4 2zm-4 1z"/>
<path stroke="#82dc32" d="M549.8 1105.3z"/>
<path stroke="#82dc3c" d="M553.8 1082.3zm8 6zm-1 1zm-16 3zm-1 1zm4 0zm-7 2zm5 0zm-6 8zm-31 44zm1 1z"/>
<path stroke="#8cdc32" d="M556.8 1081.3zm4 0zm-15 4zm13 2zm4 0zm-2 1zm-1 2zm-2 2zm-8 3zm-11 1zm1 0zm4 9zm9 0zm-44 38zm-3 1z"/>
<path stroke="#96dc28" d="M555.8 1083.3zm5 3zm-17 4zm3 11zm2 0zm-47 42zm8 1z"/>
<path stroke="#96dc32" d="M553.8 1106.3zm-46 34zm2 10z"/>
<path stroke="#a0dc28" d="M547.8 1085.3zm14 0zm-5 6zm-8 5zm7 2zm2 2zm-55 43zm8 2zm-10 1z"/>
<path stroke="#aadc28" d="M557.8 1085.3zm-1 8zm1 2zm-2 2zm-10 1zm-1 1zm3 0zm8 0zm-10 3zm5 1zm-43 40z"/>
<path stroke="#b4dc1e" d="M557.8 1084.3zm-9 2zm8 0zm3 0zm-15 8zm10 4zm-8 6zm2 0z"/>
<path stroke="#b4dc28" d="M556.8 1080.3zm-4 4zm1 0zm-8 3zm-1 2zm-1 3zm6 1zm4 3zm-5 2zm0 2zm8 0zm-51 46zm-2 2z"/>
<path stroke="#bedc1e" d="M558.8 1084.3zm1 0zm1 0zm-1 1zm-11 2zm3 1zm-3 1zm-3 1zm2 0zm-2 1zm11 5zm-16 1zm-35 45zm2 0z"/>
<path stroke="#c8dc1e" d="M557.8 1082.3zm-4 1zm4 11zm-11 1zm9 1zm-13 1zm6 0zm-8 1zm4 0zm-3 2zm10 2zm-6 2zm4 0z"/>
<path stroke="#d2dc1e" d="M556.8 1082.3zm1 7zm-13 1zm4 1zm2 1zm7 1zm-12 1zm7 0zm4 1zm2 0zm-9 1zm-11 2zm4 0zm1 0zm0 4zm0 1zm2 0zm2 1z"/>
<path stroke="#dcdc14" d="M552.8 1088.3zm-3 1zm5 2zm0 5zm-5 7zm2 0z"/>
<path stroke="#dcdc1e" d="M554.8 1082.3zm4 8zm-8 11z"/>
<path stroke="#e61e00" d="M554.8 1087.3zm-5 3zm3 0zm3 3z"/>
<path stroke="#e6dc14" d="M560.8 1082.3zm-8 4zm-5 1zm6 4zm5 3zm-7 4zm-5 1zm5 2zm2 0zm1 0zm3 1zm-2 1z"/>
<path stroke="#f0be14" d="M546.8 1097.3z"/>
<path stroke="#f0c814" d="M554.8 1083.3zm-1 3zm1 2zm-15 11zm10 2zm3 1z"/>
<path stroke="#f0d214" d="M550.8 1095.3zm-7 1zm7 1zm4 0zm-5 3z"/>
<path stroke="#f0dc14" d="M558.8 1082.3zm-7 3zm0 1zm0 1zm3 2zm-1 3zm-10 5zm10 1zm-7 2zm6 0zm-11 1z"/>
<path stroke="#fa7800" d="M556.8 1092.3z"/>
<path stroke="#fa8c0a" d="M541.8 1098.3zm11 0z"/>
<path stroke="#fa960a" d="M557.8 1087.3zm-2 3z"/>
<path stroke="#faa00a" d="M550.8 1090.3zm4 0zm-2 1z"/>
<path stroke="#faaa0a" d="M549.8 1091.3zm-1 2zm7 2z"/>
<path stroke="#fab40a" d="M551.8 1091.3zm-10 6zm9 5z"/>
<path stroke="#fabe0a" d="M552.8 1089.3zm1 1zm0 4zm-6 8z"/>
<path stroke="#0a14a0" d="M854.3 1051.3zm3 0zm-11 3zm5 0zm2 0zm1 2zm-18 3zm29 0zm-7 1zm5 0zm-5 2zm5 2zm-1 1zm2 0zm0 5zm-36 1zm36 1zm-41 2zm39 0zm-40 2zm-1 1zm38 3zm-45 7zm42 0zm-1 2zm-43 1zm39 2zm3 1zm-5 7zm-41 6zm3 1zm30 4zm4 0zm-39 1zm29 2zm3 0zm-45 2zm7 2zm-6 1zm48 1zm-59 3zm57 2zm-63 7zm69 0zm-68 1zm64 0zm-4 8zm1 1zm-73 1zm79 0zm-80 1zm69 2zm-68 1zm-1 1zm69 0zm-66 1zm65 1zm-65 3zm-80 1zm78 1zm-75 1zm-3 1zm81 1zm-80 1zm3 0zm131 0zm-124 1zm-24 1zm24 1zm120 0zm-138 1zm12 0zm122 0zm-136 1zm9 0zm1 0zm85 0zm-101 1zm17 0zm89 0zm-97 1zm8 0zm2 0zm-21 1zm25 1zm-17 1zm5 0zm-6 1zm10 0zm-17 1zm6 0zm10 0zm5 0zm-11 1zm106 0zm-108 1zm5 0zm2 0zm5 0zm103 0zm-8 1zm30 0zm-144 1zm5 0zm130 0zm2 0zm-17 2zm12 0zm11 0zm-139 1zm5 2zm109 0zm-106 1zm1 0zm9 1zm101 0zm-112 1zm108 0zm2 0zm3 0zm2 0zm12 0zm-18 1zm14 4zm3 0zm-10 1zm-4 1zm0 3z"/>
<path stroke="#0a14aa" d="M851.3 1053.3zm3 0zm2 2zm-14 1zm14 0zm-14 1zm-3 1zm18 1zm1 0zm-21 1zm25 0zm-27 1zm4 0zm23 2zm-35 8zm33 0zm2 0zm-34 1zm-4 3zm-5 7zm-5 6zm41 0zm-49 6zm4 1zm37 1zm-33 2zm1 0zm-4 3zm-1 2zm3 0zm-4 1zm4 0zm3 0zm-5 1zm27 3zm0 1zm-33 2zm2 1zm29 2zm-39 1zm-8 7zm54 1zm-1 3zm-58 3zm-4 1zm59 0zm2 2zm-66 5zm-4 2zm-1 2zm69 0zm-70 1zm68 0zm6 1zm-74 1zm-5 4zm1 2zm1 1zm61 4zm-59 1zm4 1zm-1 1zm54 0zm-1 1zm-140 1zm7 0zm134 0zm-140 1zm140 0zm-144 1zm-4 1zm5 0zm132 0zm5 0zm-141 1zm136 0zm-132 1zm8 2zm6 0zm-10 1zm96 0zm-91 1zm7 0zm-15 1zm-18 1zm7 0zm2 0zm7 0zm-7 1zm11 0zm12 0zm87 0zm11 0zm16 0zm-135 1zm9 0zm11 0zm-9 1zm102 0zm24 0zm-27 1zm3 0zm19 0zm-12 1zm15 0zm-131 1zm114 0zm17 0zm-7 1zm-126 1zm5 0zm-2 2zm-1 1zm113 0zm9 0zm1 2zm2 2zm0 2z"/>
<path stroke="#0a14b4" d="M852.3 1053.3zm3 2zm-14 1zm18 1zm-18 1zm17 0zm2 0zm-4 2zm1 0zm3 2zm-28 6zm-1 1zm-6 4zm3 1zm-8 5zm-2 3zm37 0zm2 1zm-2 1zm1 1zm-1 2zm-1 1zm2 1zm-43 3zm-1 5zm-4 2zm4 0zm3 0zm-3 2zm-1 1zm-1 2zm36 0zm-33 2zm2 0zm27 0zm1 1zm2 0zm-13 1zm11 1zm-10 1zm7 1zm-36 2zm4 0zm-6 1zm35 0zm-30 2zm30 0zm-37 1zm-7 4zm47 0zm-50 2zm53 3zm-57 2zm58 0zm-58 1zm57 1zm-59 1zm2 0zm57 2zm-4 4zm1 0zm-64 1zm0 1zm65 0zm-71 1zm65 0zm-66 3zm65 0zm-1 3zm-64 1zm61 0zm-60 5zm0 1zm0 2zm55 0zm6 0zm-62 2zm10 1zm-88 3zm83 0zm7 0zm-10 1zm-95 1zm14 0zm1 0zm1 0zm79 0zm5 1zm-100 1zm135 0zm-138 3zm6 0zm104 0zm1 0zm29 1zm-118 1zm100 0zm1 0zm6 0zm8 0zm3 0zm-26 1zm-107 1zm-7 1zm5 0zm5 0zm121 0zm-6 1zm-124 1zm1 0zm116 0zm19 0zm-16 1zm5 0zm14 0zm-138 1zm11 1zm108 0zm-108 2zm105 1zm6 0zm4 2zm-3 1zm3 2zm1 1z"/>
<path stroke="#0a1eb4" d="M844.3 1056.3zm-3 1zm15 1zm3 0zm1 8zm-1 3zm-45 20zm-14 27zm-30 26zm59 12zm-26 14zm-128 3zm115 0zm2 0zm9 3zm6 0zm-131 9zm130 2z"/>
<path stroke="#0a1ebe" d="M854.3 1055.3zm-16 3zm2 1zm-3 2zm-1 4zm-2 2zm23 2zm-27 2zm30 2zm-35 1zm29 5zm-33 4zm-5 3zm36 1zm-35 3zm-3 1zm38 1zm1 0zm-42 6zm34 6zm-12 1zm2 1zm1 1zm8 0zm-31 2zm22 2zm4 0zm-31 1zm-7 4zm34 0zm2 2zm-38 1zm-3 1zm39 4zm4 0zm-53 1zm-7 8zm0 1zm-5 5zm68 0zm-67 2zm56 1zm-63 3zm2 1zm1 5zm56 1zm-1 1zm-2 3zm1 1zm-51 3zm3 0zm45 0zm-47 1zm45 0zm-3 1zm-131 1zm129 1zm-127 1zm119 0zm-3 1zm-2 2zm-21 1zm3 0zm9 0zm18 1zm4 0zm-20 1zm4 1zm9 0zm-13 1zm-3 1zm8 0zm-3 2zm4 1zm-5 2zm7 0zm-3 3zm8 0zm-12 4z"/>
<path stroke="#0a1ec8" d="M843.3 1055.3zm10 3zm-17 3zm-7 12zm23 8zm-1 9zm-35 3zm31 2zm-29 4zm26 1zm2 3zm-3 1zm-2 1zm-11 4zm-48 20zm3 4zm50 6zm2 0zm-66 1zm4 0zm58 0zm0 2zm-59 10zm-2 4zm50 0zm-49 2zm47 0zm-131 2zm122 4zm-22 1zm-8 3zm10 0zm3 0zm15 1zm5 3zm-1 3zm-13 3zm-4 3zm4 2z"/>
<path stroke="#0a28c8" d="M844.3 1057.3zm10 0zm-5 3zm-29 21zm30 3zm-7 17zm0 2zm-11 2zm3 2zm-22 4zm17 1zm2 2zm-33 2zm35 3zm-34 2zm-8 1zm44 0zm2 1zm-1 1zm1 2zm-51 2zm54 6zm-4 4zm-1 2zm-6 4zm-60 4zm61 1zm-63 1zm7 2zm-1 2zm1 1zm52 1zm-49 3zm2 3zm29 0zm-29 2zm32 0zm-26 2zm12 0zm5 0zm3 2zm-125 1zm104 0zm23 0zm-9 4zm-3 2zm7 2zm-5 1z"/>
<path stroke="#0a28d2" d="M839.3 1060.3zm19 8zm0 3zm-1 2zm0 1zm-2 3zm-31 1zm30 0zm-32 1zm28 9zm1 1zm-4 4zm2 0zm-3 2zm-28 2zm-4 4zm4 1zm22 2zm-24 2zm-1 2zm1 0zm-3 5zm25 9zm-50 4zm49 0zm-56 4zm6 0zm-4 2zm2 0zm54 1zm0 2zm-55 1zm55 2zm-57 2zm-6 3zm50 1zm-57 1zm70 0zm-64 1zm-2 3zm-4 2zm6 2zm53 0zm1 0zm-51 2zm5 0zm-10 2zm44 1zm-2 2zm-23 1zm-11 2zm31 0zm-25 5zm13 0zm-7 2zm19 0zm-1 1zm-14 1zm11 2zm-2 1zm0 2zm-6 2zm4 1zm-3 1zm3 2z"/>
<path stroke="#0a32d2" d="M846.3 1057.3zm3 1zm1 1zm-2 1zm3 0zm-14 4zm18 0zm-23 1zm-1 7zm25 2zm-30 3zm-4 1zm29 6zm0 4zm-14 16zm7 0zm-5 1zm-6 1zm7 0zm-25 3zm16 2zm5 5zm-35 3zm-9 6zm45 8zm-1 4zm1 0zm-11 13zm-46 1zm-3 3zm1 4zm38 0zm-34 1zm-4 1zm27 4zm-8 3zm-7 1zm7 2zm1 0zm0 9z"/>
<path stroke="#0a3cd2" d="M819.3 1106.3zm11 8zm7 18zm-54 2zm2 2z"/>
<path stroke="#0a3cdc" d="M844.3 1059.3zm-6 3zm17 3zm-37 27zm0 4zm1 4zm11 5zm-25 10zm1 3zm-3 1zm33 0zm-44 4zm44 0zm-55 11zm59 1zm-61 2zm-4 6zm-4 1zm57 3zm-49 4zm42 9zm-7 2zm-21 4zm7 0zm2 0zm-2 1zm3 3zm0 3zm-4 5z"/>
<path stroke="#0a46dc" d="M845.3 1058.3zm10 4zm2 10zm-1 4zm-4 1zm2 0zm-2 1zm1 0zm-31 2zm0 2zm30 1zm0 2zm-4 8zm-31 5zm29 1zm-7 4zm3 0zm-22 1zm21 2zm-10 7zm-27 7zm-11 3zm0 1zm45 6zm-50 3zm-6 3zm51 1zm-61 3zm57 1zm-2 1zm2 1zm-54 6zm2 0zm-2 8zm4 0zm16 7zm6 1zm-11 1zm19 6z"/>
<path stroke="#0a50dc" d="M843.3 1060.3zm9 3zm1 0zm-30 21zm26 8zm-17 14zm-10 1zm-3 1zm-4 2zm19 1zm-28 6zm32 7zm-1 1zm-45 3zm-18 13zm2 0zm1 9zm49 2zm1 1zm-7 3zm-10 3zm-20 3zm-2 4zm-1 1zm19 0zm-8 1z"/>
<path stroke="#1414a0" d="M857.3 1046.3zm-4 2zm4 0zm-2 1zm4 0zm1 0zm-16 1zm8 0zm5 0zm1 0zm-9 1zm7 0zm-18 1zm4 0zm1 0zm4 0zm10 0zm-15 1zm8 0zm10 0zm-24 1zm22 0zm3 0zm-22 1zm19 0zm6 0zm-27 1zm25 0zm8 0zm-41 1zm37 0zm-29 1zm29 0zm1 0zm-38 1zm40 0zm-9 1zm4 0zm6 0zm-6 1zm8 0zm-40 1zm29 0zm8 0zm-38 1zm-5 2zm-9 1zm15 0zm31 0zm2 0zm1 0zm2 0zm3 0zm-7 1zm-39 1zm3 0zm35 0zm1 0zm-2 1zm4 1zm-45 1zm44 0zm-2 1zm2 1zm-48 1zm49 0zm6 0zm-52 1zm42 0zm11 0zm-7 1zm-1 1zm-47 1zm43 0zm5 0zm1 0zm-9 1zm6 0zm-45 1zm41 0zm-42 1zm38 0zm12 0zm-53 1zm5 0zm37 0zm9 0zm-10 1zm5 0zm-50 2zm49 0zm-47 1zm1 0zm41 0zm2 0zm-47 1zm2 0zm-3 1zm1 0zm2 0zm0 1zm-2 2zm47 0zm-43 1zm41 0zm-46 2zm4 0zm-8 1zm6 0zm40 0zm-44 1zm43 0zm1 0zm2 1zm-46 1zm1 0zm2 0zm1 1zm2 0zm36 0zm-40 2zm42 0zm-46 1zm4 0zm39 0zm1 0zm2 0zm-2 1zm0 2zm-42 1zm40 0zm-43 1zm42 0zm-43 1zm1 0zm2 0zm1 0zm30 0zm15 0zm-49 1zm5 0zm39 0zm1 0zm3 0zm-52 1zm1 0zm47 0zm1 0zm-11 1zm9 0zm-48 1zm43 0zm7 0zm-46 1zm1 0zm33 0zm10 0zm-5 1zm5 0zm4 0zm-55 1zm6 0zm39 0zm2 0zm6 0zm-8 1zm7 0zm-55 1zm66 0zm-70 1zm2 0zm-5 1zm2 0zm56 1zm2 0zm-62 1zm2 0zm-5 1zm5 0zm58 0zm5 0zm-67 1zm4 0zm2 0zm1 0zm59 0zm-75 1zm11 0zm60 0zm-63 1zm1 0zm3 0zm-3 1zm-2 1zm-11 1zm8 0zm2 0zm2 0zm3 0zm69 0zm1 0zm-73 1zm-3 1zm-1 1zm-1 1zm67 0zm-67 1zm2 0zm68 0zm10 1zm-84 1zm0 1zm1 0zm-2 1zm4 0zm67 0zm4 0zm3 0zm-1 1zm-79 1zm2 0zm76 0zm-2 1zm3 0zm-2 1zm2 0zm-82 1zm2 0zm-8 1zm82 0zm-4 1zm-76 1zm-1 1zm6 0zm71 0zm1 0zm8 0zm-84 1zm73 0zm4 0zm1 0zm-137 1zm57 0zm2 0zm1 0zm78 0zm-135 1zm55 0zm76 0zm7 0zm-154 1zm147 0zm-76 1zm72 0zm3 0zm4 0zm1 0zm-176 1zm10 0zm3 0zm11 0zm143 0zm-147 1zm80 0zm1 0zm3 0zm63 0zm5 0zm3 0zm13 0zm-179 1zm12 0zm1 0zm144 0zm-163 1zm3 0zm15 0zm152 0zm-177 1zm16 0zm11 0zm144 0zm5 0zm-172 1zm9 0zm6 0zm3 0zm1 0zm1 0zm7 0zm10 0zm-38 1zm27 0zm16 0zm60 0zm1 0zm64 0zm1 0zm-137 1zm71 0zm2 0zm4 0zm-108 1zm2 0zm4 0zm6 0zm2 0zm2 0zm4 0zm8 0zm133 0zm6 0zm-170 1zm4 0zm1 0zm9 0zm6 0zm11 0zm8 0zm16 0zm48 0zm12 0zm42 0zm4 0zm1 0zm-159 1zm1 0zm6 0zm4 0zm10 0zm9 0zm6 0zm19 0zm43 0zm59 0zm6 0zm6 0zm-182 1zm5 0zm6 0zm8 0zm24 0zm5 0zm1 0zm62 0zm55 0zm-146 1zm1 0zm21 0zm6 0zm4 0zm4 0zm65 0zm-120 1zm31 0zm1 0zm11 0zm79 0zm56 0zm-169 1zm3 0zm38 0zm4 0zm64 0zm-107 1zm3 0zm1 0zm5 0zm21 0zm6 0zm2 0zm69 0zm10 0zm-101 1zm12 0zm5 0zm3 0zm4 0zm9 0zm62 0zm2 0zm46 0zm8 0zm-172 1zm8 0zm13 0zm9 0zm11 0zm71 0zm4 0zm4 0zm1 0zm31 0zm3 0zm15 0zm-168 1zm3 0zm6 0zm4 0zm5 0zm1 0zm19 0zm1 0zm1 0zm8 0zm60 0zm-112 1zm10 0zm21 0zm91 0zm24 0zm3 0zm13 0zm-157 1zm25 0zm7 0zm1 0zm1 0zm9 0zm101 0zm10 0zm-158 1zm13 0zm9 0zm13 0zm5 0zm76 0zm41 0zm-153 1zm10 0zm1 0zm12 0zm5 0zm6 0zm4 0zm3 0zm-2 1zm84 0zm3 0zm26 0zm5 0zm1 0zm-150 1zm9 0zm11 0zm90 0zm26 0zm13 0zm3 0zm-171 1zm12 0zm2 0zm22 0zm2 0zm11 0zm1 0zm78 0zm4 0zm33 0zm1 0zm-156 1zm19 0zm5 0zm10 0zm2 0zm4 0zm76 0zm45 0zm-132 1zm14 0zm80 0zm1 0zm26 0zm1 0zm1 0zm-141 1zm4 0zm8 0zm7 0zm5 0zm96 0zm17 0zm3 0zm2 0zm3 0zm-149 1zm1 0zm2 0zm8 0zm4 0zm3 0zm96 0zm27 0zm1 0zm2 0zm-137 1zm9 0zm1 0zm3 0zm-21 1zm14 0zm4 0zm4 0zm3 0zm1 0zm116 0zm3 0zm-138 1zm3 0zm1 0zm6 0zm2 0zm98 0zm6 0zm17 0zm-132 1zm2 0zm111 0zm6 0zm2 0zm-128 1zm15 0zm4 0zm1 0zm101 0zm1 0zm17 0zm5 0zm-151 1zm4 0zm11 0zm121 0zm4 0zm3 0zm4 0zm-146 1zm9 0zm3 0zm6 0zm1 0zm112 0zm2 0zm3 0zm1 0zm4 0zm-137 1zm10 0zm6 0zm123 0zm4 0zm-125 1zm116 0zm-134 1zm129 0zm2 0zm8 0zm2 0zm-129 2zm124 0zm1 0zm1 0zm-119 5zm-11 37zm1 0zm1 0zm2 0zm1 0zm2 0zm5 0zm25 0z"/>
<path stroke="#141ea0" d="M846.3 1045.3zm-19 18zm40 8zm-7 12zm2 2zm-5 8zm-7 17zm-69 10zm60 0zm5 14zm3 3zm-6 2zm-76 1zm81 0zm-89 4zm6 1zm78 3zm-90 3zm-64 3zm2 0zm-17 2zm8 1zm160 0zm-171 1zm11 1zm15 1zm6 1zm-23 1zm-14 1zm96 0zm57 4zm10 0zm-64 2zm-70 5zm-25 4zm33 0zm-38 1zm37 1zm76 1zm-113 1zm8 0zm115 1zm-125 5zm-10 2zm17 0zm11 0zm2 1zm1 44z"/>
<path stroke="#1450dc" d="M844.3 1061.3zm11 2zm-2 1zm-12 35zm-4 6zm-23 5zm17 4zm-39 13zm40 7zm-56 18zm7 1zm28 5zm-21 7zm12 4zm1 6z"/>
<path stroke="#145adc" d="M839.3 1062.3zm6 0zm-12 9zm-5 4zm28 0zm-38 12zm2 3zm-1 3zm1 8zm21 0zm3 4zm-26 3zm-4 1zm-2 3zm0 2zm-2 1zm-4 1zm27 0zm0 4zm-32 4zm34 1zm-43 1zm0 3zm46 0zm-3 1zm-53 4zm1 1zm50 3zm1 1zm-56 3zm1 7zm45 1zm-5 2zm-41 1zm44 0zm-6 6zm-5 2zm-26 3zm1 0zm20 0z"/>
<path stroke="#1464dc" d="M834.3 1068.3zm-27 50zm-7 4zm-14 37z"/>
<path stroke="#1464e6" d="M846.3 1060.3zm4 0zm-7 2zm3 0zm-5 1zm-6 4zm-3 3zm23 5zm-32 10zm-4 3zm29 1zm-30 6zm-1 1zm12 6zm-10 2zm-13 11zm3 5zm26 1zm-32 1zm-5 1zm4 0zm-7 1zm41 5zm3 0zm-2 2zm-55 2zm54 1zm-49 1zm-2 2zm-8 5zm2 1zm49 1zm-3 6zm-41 2zm1 4zm2 1zm-5 1zm5 0zm31 1zm-37 5zm4 2zm3 3z"/>
<path stroke="#146ee6" d="M838.3 1066.3zm-10 11zm-10 13zm1 0zm25 6zm-26 2zm2 2zm10 1zm2 1zm-5 3zm-1 2zm1 1zm-10 1zm-7 7zm0 3zm-2 2zm-4 4zm-13 2zm37 9zm-41 2zm-9 5zm-5 2zm14 1zm-7 2zm-7 2zm3 0zm5 1zm34 8zm-29 3zm24 0zm-19 2zm9 0z"/>
<path stroke="#1478e6" d="M840.3 1064.3zm6 0zm8 1zm-18 1zm-3 6zm21 2zm-29 8zm-5 17zm21 1zm-1 2zm-7 1zm1 0zm-14 7zm6 2zm-16 2zm20 1zm1 1zm4 6zm-33 2zm-16 10zm46 4zm-54 2zm46 1zm-44 3zm-9 4zm6 3zm47 1zm-6 3zm-35 2zm5 0zm-7 2zm4 1zm-2 1zm1 0zm7 5z"/>
<path stroke="#1482e6" d="M853.3 1071.3zm-30 10zm-11 32zm18 0zm-25 8zm-1 2zm-18 12zm11 27zm11 2zm-24 1z"/>
<path stroke="#1482f0" d="M842.3 1062.3zm11 0zm-16 3zm9 0zm5 0zm5 1zm-29 12zm13 18zm-7 6zm-9 3zm1 2zm-3 2zm5 2zm2 4zm-20 1zm20 0zm-19 6zm-13 2zm9 1zm28 0zm-28 4zm-22 6zm-7 12zm46 3zm-47 6zm25 8z"/>
<path stroke="#148ce6" d="M827.3 1079.3zm22 5zm-27 3zm-2 1zm29 1zm-15 10zm-4 1zm7 0zm5 0zm-4 1zm-9 3zm-4 9zm-32 12zm2 1zm8 0zm-17 10zm39 10zm-46 1zm3 0zm13 2zm-20 2zm10 0zm-2 3zm6 6zm11 0z"/>
<path stroke="#148cf0" d="M848.3 1062.3zm-17 9zm-11 14zm30 2zm-1 3zm-2 1zm-21 14zm-32 24zm44 2zm-47 2zm35 0zm-48 11zm47 0zm-43 7zm3 3zm31 0zm-31 4z"/>
<path stroke="#1496e6" d="M834.3 1070.3zm-4 8zm18 10zm-29 4zm21 7zm-25 13zm12 1zm-14 6zm21 2zm-37 2zm35 0zm4 1zm-40 1zm1 3zm37 3zm-43 1zm45 0zm-50 1zm39 2zm-45 3zm47 2zm-10 12zm-19 9zm-2 2zm1 0zm6 1z"/>
<path stroke="#1e1ea0" d="M851.3 1044.3zm3 1zm-2 1zm8 1zm1 0zm1 0zm-22 1zm7 0zm13 0zm9 0zm-26 1zm22 0zm-24 2zm2 0zm8 0zm-21 2zm-3 2zm7 0zm37 0zm-38 1zm-7 2zm8 0zm31 2zm-39 2zm4 0zm37 0zm3 0zm2 1zm-51 1zm4 2zm-1 1zm-3 1zm50 1zm5 1zm-60 1zm4 1zm47 0zm7 0zm-1 1zm-4 1zm-5 1zm-47 1zm57 2zm-60 1zm3 0zm-10 4zm4 0zm4 0zm48 1zm-57 2zm57 0zm4 2zm-3 3zm-61 2zm0 3zm3 0zm46 2zm2 2zm-48 3zm48 0zm-1 6zm-64 1zm6 0zm-13 3zm8 1zm61 0zm1 2zm4 0zm-77 1zm67 2zm2 0zm1 1zm3 0zm-73 1zm74 2zm6 0zm-10 2zm-77 1zm82 0zm-4 1zm-83 1zm4 0zm2 0zm74 0zm-73 1zm-10 1zm82 0zm-77 3zm83 1zm-85 1zm-1 3zm87 1zm-4 1zm0 1zm8 1zm-8 1zm-177 1zm177 0zm-178 2zm9 1zm11 0zm-23 1zm10 0zm75 0zm1 0zm-49 1zm55 0zm-96 1zm7 0zm16 0zm156 0zm-181 1zm1 0zm29 0zm142 0zm-76 1zm-100 1zm12 0zm19 0zm62 0zm-90 1zm4 0zm1 0zm7 0zm6 0zm75 0zm-94 1zm5 0zm32 0zm4 0zm1 0zm5 0zm56 0zm-97 1zm40 0zm132 0zm3 0zm-182 1zm1 0zm35 0zm148 0zm9 1zm-205 1zm113 0zm6 0zm-88 1zm36 0zm50 0zm-119 1zm1 0zm24 0zm29 0zm19 0zm43 0zm1 0zm67 0zm3 0zm-123 1zm40 0zm11 0zm-100 1zm48 0zm43 0zm76 0zm3 0zm-179 2zm10 0zm48 0zm118 0zm2 0zm-177 1zm1 0zm10 0zm26 0zm12 0zm10 0zm56 0zm69 0zm-130 1zm20 0zm102 0zm-172 1zm37 0zm15 0zm2 0zm111 0zm-152 1zm38 0zm61 0zm6 0zm46 0zm1 0zm7 0zm-169 1zm59 0zm30 0zm23 0zm52 0zm-177 1zm12 0zm3 0zm57 0zm42 0zm13 0zm-107 1zm111 0zm51 0zm-123 1zm9 0zm15 0zm-71 1zm52 0zm58 0zm54 0zm-162 1zm0 2zm8 1zm112 0zm3 0zm-90 1zm7 0zm7 0zm79 0zm32 0zm-156 1zm8 0zm115 0zm-118 1zm24 0zm130 0zm-125 1zm88 0zm-158 1zm23 0zm47 0zm-38 1zm1 0zm4 0zm40 0zm-40 1zm25 0zm2 0zm5 0zm-21 1zm106 0zm-122 1zm130 0zm23 0zm-150 1zm121 0zm-121 1zm57 0zm84 0zm11 0zm-136 1zm113 0zm-127 1zm4 1zm3 0zm9 0zm1 0zm110 1zm-118 1zm2 0zm8 0zm2 0zm13 0zm2 0zm105 0zm-121 1zm-30 1zm10 0zm2 0zm26 0zm-1 1zm106 1zm3 1zm-106 3zm2 0zm-30 4zm-9 29zm13 0zm2 0zm1 0zm1 0zm7 0zm3 0zm4 0zm1 0zm1 0zm1 0zm1 0zm2 0zm8 0zm5 0zm2 0zm4 0zm2 0z"/>
<path stroke="#1e96e6" d="M831.3 1075.3zm-6 13zm-4 10zm22 0zm-16 6zm-11 7zm8 1zm-8 1zm-6 11zm25 3zm-39 1zm-5 3zm-8 9zm-3 15zm35 0zm1 0zm-26 4zm15 3zm3 0z"/>
<path stroke="#1ea0e6" d="M855.3 1069.3zm-1 3zm-24 5zm-2 3zm-8 9zm27 1zm-27 2zm23 4zm-1 2zm-7 2zm5 0zm-18 1zm7 0zm-9 8zm3 1zm3 1zm-10 1zm14 4zm1 2zm-22 3zm-3 1zm-11 3zm8 0zm31 1zm-25 1zm-15 1zm1 0zm7 0zm-5 1zm6 0zm1 0zm-12 2zm13 2zm27 0zm-1 1zm-40 1zm-3 1zm-3 2zm43 5zm-45 2zm41 2zm-43 1zm1 0zm40 1zm-5 7zm-23 2zm7 3zm-10 1zm-3 2zm10 0z"/>
<path stroke="#1eaae6" d="M849.3 1064.3zm-10 2zm17 2zm-18 1zm17 3zm-3 1zm-1 4zm-28 6zm24 2zm-26 4zm22 6zm-3 2zm-6 1zm-5 1zm11 2zm-15 2zm-2 1zm-10 11zm-1 2zm20 3zm-4 1zm-22 2zm24 1zm-37 2zm34 1zm7 0zm-36 3zm33 2zm4 0zm-45 3zm44 0zm-2 2zm-51 3zm4 3zm4 1zm-13 1zm12 3zm33 3zm-35 1zm39 0zm-13 5zm4 0zm-26 1zm19 0zm-25 1zm29 0zm-18 2zm0 1zm4 0zm4 1z"/>
<path stroke="#1eb4e6" d="M839.3 1067.3zm16 3zm-28 10zm-3 1zm26 0zm-24 4zm0 1zm21 2zm-25 2zm22 0zm2 0zm-15 2zm-11 1zm0 2zm11 1zm-7 3zm3 3zm-2 4zm-4 5zm2 3zm4 0zm-15 2zm-6 5zm3 2zm6 0zm-7 1zm-6 5zm7 0zm24 0zm-31 1zm-5 1zm35 1zm-40 3zm-6 4zm0 5zm39 5zm-38 2zm0 4zm14 8z"/>
<path stroke="#1ebee6" d="M845.3 1064.3zm-8 3zm-1 2zm5 25zm-24 19zm-2 6zm-7 3zm24 3zm-34 4zm0 2zm31 6zm-42 3zm-6 6z"/>
<path stroke="#2828a0" d="M848.3 1039.3zm26 0zm0 4zm-10 1zm-14 6zm13 0zm-32 1zm3 0zm-2 1zm39 13zm2 1zm-3 1zm-52 2zm4 0zm-8 5zm57 4zm-61 1zm1 2zm56 2zm-66 5zm68 1zm-10 1zm1 1zm-56 1zm53 2zm13 1zm-71 4zm-1 4zm-18 2zm13 1zm-12 1zm70 0zm-54 1zm56 5zm-70 2zm-17 1zm17 0zm4 0zm57 2zm8 0zm9 4zm-82 1zm-8 1zm-4 2zm-8 1zm10 0zm88 0zm-103 1zm14 2zm-14 1zm14 0zm-7 2zm93 2zm5 1zm-3 1zm-150 1zm52 0zm3 4zm-87 1zm31 0zm53 0zm-53 3zm-22 1zm3 0zm68 0zm-81 1zm24 0zm7 3zm1 0zm14 0zm33 1zm102 0zm-188 1zm80 0zm-44 1zm54 0zm-63 1zm6 0zm52 0zm84 0zm-182 2zm66 0zm-65 1zm6 0zm97 0zm-53 1zm134 0zm-188 1zm99 0zm-34 1zm35 0zm-101 1zm62 0zm24 0zm-109 1zm100 2zm3 0zm27 0zm-101 2zm57 0zm-62 1zm7 0zm64 0zm52 2zm-123 1zm59 0zm108 0zm-99 1zm40 0zm82 0zm-121 1zm8 0zm42 0zm59 1zm-166 1zm42 0zm3 0zm68 0zm-81 2zm13 0zm71 0zm-63 2zm1 0zm2 0zm61 0zm47 0zm-128 1zm15 0zm111 0zm-55 1zm11 0zm-131 1zm-14 1zm4 0zm59 0zm4 0zm122 1zm-138 1zm19 0zm109 0zm-170 1zm22 0zm149 0zm-182 1zm62 0zm6 0zm80 0zm2 0zm33 0zm-162 1zm135 1zm-120 1zm45 0zm-27 1zm98 0zm30 0zm-120 1zm-42 1zm27 0zm125 0zm-140 1zm25 0zm103 0zm-135 1zm8 0zm3 0zm127 0zm9 0zm-102 1zm-46 1zm40 0zm96 0zm-139 1zm149 1zm-112 3zm10 0zm-27 4zm-11 3zm-15 7zm42 0zm-31 19zm5 0zm6 0zm24 0zm2 0zm4 0zm4 0zm5 0zm1 0zm5 0zm2 0zm11 0z"/>
<path stroke="#2828aa" d="M839.3 1028.3zm6 16zm9 0zm9 2zm-26 4zm1 1zm30 1zm5 2zm-49 7zm47 0zm-47 4zm-1 3zm45 9zm-59 1zm56 1zm-59 2zm-4 2zm3 0zm-72 1zm60 6zm69 2zm-60 7zm-10 1zm70 0zm-70 1zm-12 3zm12 2zm-2 1zm-3 4zm65 3zm6 2zm11 2zm-91 1zm77 6zm-96 1zm92 0zm20 0zm-118 1zm-2 2zm14 3zm-8 4zm-20 1zm119 1zm-96 2zm-75 3zm169 0zm-5 2zm-173 1zm78 0zm-87 1zm-4 1zm23 2zm-9 1zm27 2zm48 3zm10 0zm77 0zm13 0zm-98 2zm109 0zm-104 1zm-13 1zm104 1zm-230 2zm124 1zm-22 2zm120 0zm-197 2zm117 1zm63 0zm13 0zm-196 1zm92 0zm-85 3zm181 0zm-118 1zm55 0zm-121 5zm111 0zm74 0zm-206 2zm21 1zm11 0zm75 2zm-86 1zm134 0zm38 0zm-90 1zm-68 1zm55 1zm-27 2zm129 1zm-18 1zm-152 1zm148 1zm12 0zm-135 2zm30 0zm106 0zm-138 3zm23 0zm107 1zm-155 6zm1 0zm51 2zm-40 2zm-6 2zm12 23zm4 0zm1 0zm24 0zm21 0z"/>
<path stroke="#28bee6" d="M850.3 1063.3zm-7 3zm-11 10zm-3 2zm20 1zm0 1zm-24 4zm-1 5zm22 0zm-1 1zm-24 1zm17 1zm-2 2zm-7 4zm11 0zm-20 7zm3 3zm1 0zm-6 4zm-13 7zm6 2zm1 1zm14 0zm-25 3zm27 1zm5 0zm-39 1zm37 0zm-31 1zm7 0zm2 0zm21 0zm2 1zm-39 1zm2 3zm-8 1zm46 0zm-44 1zm5 1zm-4 1zm42 2zm-15 1zm-36 2zm12 3zm-4 3zm1 0zm8 2zm9 8z"/>
<path stroke="#28c8e6" d="M853.3 1073.3zm-21 5zm-6 5zm-1 8zm0 1zm-4 2zm21 0zm-13 2zm2 4zm2 0zm-7 2zm0 2zm-7 8zm-10 5zm5 2zm12 2zm-19 2zm27 0zm-27 2zm-11 2zm29 0zm3 0zm6 2zm-37 3zm8 0zm-11 2zm2 1zm31 1zm-34 1zm32 0zm-41 1zm9 1zm35 1zm-43 1zm1 0zm4 0zm-4 1zm-3 2zm10 0zm-11 1zm4 0zm33 0zm2 0zm-39 1zm40 1zm-2 3zm-7 6zm-25 2zm13 4z"/>
<path stroke="#28d2a0" d="M850.3 1069.3zm-16 6zm-1 4zm-4 2zm-3 3zm19 4zm-8 4zm-13 28zm-11 6zm-3 3zm-5 2zm6 0zm-3 1zm-23 17zm11 1zm-3 10z"/>
<path stroke="#28d2aa" d="M852.3 1068.3zm0 3zm-4 8zm-22 16zm3 0zm-6 20zm-1 5zm-7 2zm2 1zm6 0zm5 0zm-14 2zm1 0zm7 0zm-1 2zm-13 1zm24 0zm-36 2zm10 0zm24 0zm-37 5zm31 0zm-6 2zm3 9zm-4 4zm-29 3zm14 8z"/>
<path stroke="#28d2b4" d="M852.3 1067.3zm0 5zm-25 14zm-5 6zm17 2zm-16 1zm4 0zm-6 1zm0 13zm3 4zm5 9zm-16 5zm7 3zm-17 1zm14 3zm-26 5zm27 3zm4 2zm-34 2zm29 0zm-22 1zm-4 1zm7 1zm-10 1zm-2 1zm10 0zm6 0zm15 2zm-25 2zm19 0zm-11 3zm-7 1z"/>
<path stroke="#28d2be" d="M840.3 1067.3zm-3 4zm-3 5zm12 12zm-21 2zm12 5zm4 0zm-18 2zm1 1zm4 0zm-14 28zm10 5zm-22 1zm-8 3zm28 1zm-27 2zm27 4zm-38 1zm11 0zm-12 3zm3 4zm33 0zm-6 5zm-23 2z"/>
<path stroke="#28d2c8" d="M850.3 1064.3zm-9 3zm-2 1zm12 5zm-16 1zm17 0zm-23 5zm-1 3zm1 0zm-1 4zm-5 4zm0 2zm2 3zm12 1zm-6 3zm7 0zm-20 15zm-4 3zm11 1zm1 0zm-7 2zm3 2zm8 0zm-18 3zm-1 1zm-1 1zm19 2zm1 0zm-23 1zm2 0zm22 1zm-12 3zm2 1zm-33 2zm31 0zm6 1zm3 1zm-7 1zm-32 2zm-1 1zm37 0zm-4 4zm-33 5zm19 5zm-12 1zm1 0z"/>
<path stroke="#28d2d2" d="M838.3 1068.3zm-11 15zm1 5zm16 0zm-22 8zm8 2zm-8 13zm1 8zm7 2zm-17 2zm8 1zm4 1zm7 1zm-4 3zm-9 1zm-25 1zm30 1zm-30 1zm-7 4zm6 1zm29 2zm3 2zm-42 1zm8 0zm24 0zm-25 1zm-2 1zm6 4zm-7 1zm3 0zm1 0zm27 1zm-17 1zm-10 5zm2 1z"/>
<path stroke="#28d2dc" d="M844.3 1065.3zm-4 3zm14 1zm-6 17zm-24 2zm6 0zm-1 2zm1 2zm6 1zm-13 1zm10 0zm-7 2zm3 1zm-2 2zm2 1zm6 1zm-7 2zm-10 10zm8 4zm-14 3zm2 2zm0 1zm19 0zm-21 4zm17 1zm-32 2zm-2 1zm8 1zm-8 2zm31 1zm1 0zm-1 2zm1 1zm-45 3zm41 1zm-4 1zm-23 1zm22 1zm-33 1zm3 1zm30 0zm-1 2zm-35 3zm33 0zm0 2zm-23 2zm17 1zm6 1zm-16 2z"/>
<path stroke="#28d2e6" d="M839.3 1065.3zm2 1zm5 0zm-16 10zm-7 12zm3 4zm2 0zm4 3zm-2 2zm-9 2zm1 13zm-1 2zm-9 1zm2 0zm14 4zm2 0zm-17 2zm14 2zm2 0zm4 1zm-14 4zm-25 2zm28 3zm2 1zm4 3zm-7 4zm-39 3zm35 1zm-24 5zm-4 1zm3 2zm15 7z"/>
<path stroke="#3232aa" d="M827.3 1016.3zm18 22zm7 2zm5 0zm3 0zm-8 3zm19 1zm-27 3zm-25 1zm49 0zm-3 3zm10 0zm7 1zm-54 4zm0 2zm51 0zm-4 5zm-62 4zm63 0zm-59 4zm51 0zm-58 3zm67 3zm-70 2zm64 3zm2 0zm-85 3zm83 0zm-9 4zm-4 7zm-56 1zm-7 1zm0 2zm7 0zm-2 1zm-28 4zm10 0zm-21 3zm12 0zm18 2zm-36 1zm34 2zm3 1zm-11 1zm-33 1zm20 0zm-16 2zm110 0zm-103 5zm7 0zm-5 1zm-26 1zm33 4zm-14 1zm12 0zm85 0zm8 1zm-102 2zm95 0zm-118 1zm120 2zm-106 2zm-86 1zm39 0zm-23 2zm-12 1zm41 1zm-13 1zm11 0zm-28 1zm175 0zm-153 1zm49 0zm3 0zm-107 1zm95 0zm-6 1zm111 0zm-149 1zm-44 1zm94 0zm100 0zm-119 1zm-104 1zm83 0zm-58 1zm10 0zm-2 1zm7 0zm57 0zm3 0zm129 0zm6 1zm-207 2zm55 0zm143 0zm-131 1zm-69 2zm92 0zm103 0zm-189 1zm103 0zm-119 1zm81 1zm120 1zm-200 2zm75 0zm32 0zm5 0zm18 0zm77 1zm-126 1zm109 0zm7 0zm-81 1zm-34 1zm29 2zm-103 1zm78 0zm-76 2zm225 0zm-139 1zm36 0zm-119 1zm3 1zm-21 1zm24 2zm-4 1zm-20 1zm85 0zm21 0zm-116 1zm75 0zm-64 1zm148 0zm-52 1zm86 0zm-95 1zm107 0zm-130 2zm55 0zm-41 1zm-57 2zm44 0zm-54 1zm9 0zm40 0zm68 1zm-75 1zm-41 1zm20 0zm19 0zm107 0zm-111 1zm-13 1zm4 0zm6 0zm111 0zm-153 1zm148 0zm-82 1zm-4 1zm101 0zm-154 2zm13 0zm45 1zm-33 1zm11 0zm9 0zm-10 1zm108 1zm-107 2zm-12 1zm-18 2zm17 1zm19 16zm-39 6zm3 0zm5 0zm4 0zm4 0zm34 0zm24 0z"/>
<path stroke="#32d26e" d="M842.3 1087.3zm-26 34zm-9 11z"/>
<path stroke="#32d278" d="M845.3 1065.3zm6 11zm-6 3zm-14 8zm12 1zm0 1zm-2 2zm-20 2zm6 3zm-5 20zm-5 6zm-2 2zm2 2zm9 0zm-3 2zm-3 1zm-4 1zm-6 3zm8 0zm-18 1zm12 4zm6 5zm-24 1zm22 3zm4 1zm-7 2zm-22 2zm9 0zm-3 4zm3 1zm-1 1z"/>
<path stroke="#32d282" d="M847.3 1066.3zm4 6zm-5 13zm-15 5zm-5 1zm-3 25zm-5 2zm-3 2zm3 0zm8 0zm1 2zm-14 2zm3 4zm6 0zm-5 1zm-5 2zm-10 2zm-3 2zm21 1zm5 0zm-31 1zm-2 2zm25 4zm-16 5zm-9 2zm7 1zm-12 2zm7 1zm0 3zm1 2z"/>
<path stroke="#32d28c" d="M852.3 1066.3zm1 4zm-3 4zm-20 8zm-1 1zm0 1zm-1 6zm5 0zm10 1zm-9 1zm-7 25zm-11 1zm7 9zm0 2zm-19 4zm2 0zm-5 1zm15 6zm-22 1zm23 0zm4 2zm-30 2zm6 3zm5 2zm1 3zm8 1zm-11 5z"/>
<path stroke="#32d296" d="M840.3 1070.3zm12 0zm-16 4zm13 3zm-3 5zm-2 4zm-13 3zm-8 7zm1 0zm1 0zm11 1zm-19 19zm6 1zm1 1zm-5 4zm2 0zm6 4zm3 1zm-9 1zm6 0zm-11 1zm7 6zm-36 12zm6 5zm5 5zm1 0zm4 1z"/>
<path stroke="#32d2a0" d="M835.3 1073.3zm4 19zm-6 4zm-17 38zm2 1zm-29 12zm6 5zm-3 7z"/>
<path stroke="#32dc64" d="M838.3 1071.3zm12 2zm-18 4zm12 10zm-2 2zm-9 3zm6 4zm-23 19zm4 1zm-3 1zm5 2zm-5 2zm7 3zm-10 6zm-1 4zm10 0zm-22 1zm3 0zm-8 5zm-2 2zm4 0zm23 0zm-30 2zm-1 7zm8 1zm-4 1zm1 3zm4 0zm3 0z"/>
<path stroke="#32dc6e" d="M851.3 1069.3zm-24 28zm-9 25zm-8 1zm13 7zm4 1zm-9 1zm-15 1zm13 0zm-6 1zm11 0zm-25 8zm24 3zm-36 1zm17 5zm-9 1zm18 2zm-10 1z"/>
<path stroke="#3c3caa" d="M864.3 1031.3zm-3 2zm-4 4zm-15 3zm-10 5zm8 1zm-17 2zm-6 9zm-78 4zm138 2zm-72 1zm12 6zm-10 6zm-71 5zm66 6zm-5 2zm83 0zm-190 4zm106 3zm73 0zm-8 2zm7 0zm-8 8zm16 1zm-20 8zm8 0zm-117 4zm115 2zm-121 4zm-54 4zm178 0zm-7 1zm-106 2zm109 0zm-212 1zm21 1zm34 1zm43 1zm-1 2zm110 1zm-134 1zm131 2zm-203 1zm8 0zm89 0zm-40 1zm-14 1zm57 0zm-68 1zm18 0zm23 0zm-41 2zm176 2zm-6 2zm-147 1zm42 0zm-37 4zm-89 2zm121 1zm-117 1zm17 0zm78 0zm120 0zm26 1zm-152 1zm11 0zm-77 1zm84 0zm-17 4zm34 1zm12 0zm3 1zm-23 1zm3 1zm-8 1zm109 0zm-217 2zm83 1zm-72 1zm-4 2zm8 1zm72 1zm8 0zm109 0zm-191 1zm96 0zm-110 1zm22 3zm71 1zm12 1zm45 0zm-129 1zm95 0zm16 0zm24 0zm-74 2zm74 0zm35 1zm-185 1zm70 0zm-57 3zm25 0zm116 0zm-99 1zm8 0zm12 0zm123 0zm-172 1zm-4 1zm-2 1zm-4 1zm32 0zm11 0zm112 0zm-94 1zm47 0zm-68 1zm54 0zm60 0zm-120 3zm97 0zm-117 1zm142 0zm-101 3zm-58 1zm52 0zm16 0zm-21 3zm32 3zm-94 18zm3 0zm16 0zm8 0zm58 0z"/>
<path stroke="#3c3cb4" d="M870.3 1023.3zm-31 17zm34 5zm7 8zm3 0zm-6 2zm-64 3zm-1 5zm-14 15zm-7 7zm11 0zm-15 3zm90 3zm-89 3zm10 0zm-18 3zm-21 3zm-19 4zm14 1zm20 1zm109 2zm-109 5zm100 1zm-129 2zm14 1zm99 5zm-179 2zm78 1zm-98 4zm216 4zm-136 1zm14 1zm-65 2zm-35 1zm19 1zm24 1zm58 0zm-20 4zm-93 1zm0 2zm93 1zm5 3zm112 1zm-228 2zm227 1zm4 0zm-219 2zm87 2zm127 5zm-6 1zm-202 1zm-4 2zm123 1zm105 0zm-15 2zm-98 2zm-120 1zm11 1zm77 0zm121 0zm-220 1zm117 1zm119 2zm-129 5zm-18 1zm-88 3zm25 1zm-7 1zm113 0zm15 0zm-136 3zm128 1zm-28 1zm-93 1zm142 0zm-67 1zm-88 4zm84 0zm-36 2zm-15 5zm-4 1zm48 1zm24 4zm-80 9zm81 2zm-86 10zm89 0z"/>
<path stroke="#3cdc5a" d="M847.3 1079.3zm-17 5zm14 0zm1 3zm-11 3zm-2 1zm7 0zm-21 32zm-1 7zm0 6zm9 0zm-32 9zm8 0zm-5 1zm3 5zm6 1zm-13 4zm10 0z"/>
<path stroke="#3cdc64" d="M847.3 1067.3zm2 1zm2 2zm-11 1zm-2 3zm11 0zm-16 4zm-3 7zm-1 2zm5 2zm5 4zm-22 25zm10 0zm-7 8zm4 1zm-23 9zm22 0zm-10 3zm-21 1zm20 1zm-14 5zm17 3zm-17 2zm4 3zm4 4z"/>
<path stroke="#46dc5a" d="M849.3 1067.3zm-2 1zm-1 9zm-3 10zm-2 3zm-22 28zm5 4zm-3 1zm-5 1zm5 1zm-6 9zm7 1zm-3 3zm3 0zm-25 3zm20 1zm-3 6zm-8 2zm8 0zm-12 2zm5 1z"/>
<path stroke="#50dc50" d="M850.3 1067.3zm-3 2zm-9 4zm-6 6zm3 14zm3 0zm-16 25zm-1 2zm-9 12zm3 5zm-15 1zm1 0zm17 2zm-22 1zm20 0zm-1 5zm-10 1zm6 3zm-9 3zm-12 2zm17 0z"/>
<path stroke="#50dc5a" d="M832.3 1082.3zm-20 48zm-2 2zm-15 9zm7 14z"/>
<path stroke="#5adc50" d="M849.3 1070.3zm-4 1zm2 1zm-11 1zm-4 13zm5 2zm-1 2zm1 3zm-12 5zm0 22zm1 7zm-11 6zm-7 2zm-8 1zm10 0zm7 3zm-20 6zm17 1zm-17 6zm-2 2zm10 0zm-7 1zm5 0zm-12 1z"/>
<path stroke="#64dc46" d="M842.3 1069.3zm4 3zm-7 1zm-2 1zm8 0zm-10 2zm8 3zm-25 51zm-5 1zm2 1zm-7 2zm-2 1zm11 0zm-4 1zm0 1zm-14 4zm-7 1zm22 2zm1 1zm-17 2zm12 0zm-3 5zm-1 4z"/>
<path stroke="#64dc50" d="M844.3 1071.3zm-23 44zm-11 20zm3 7zm-15 12z"/>
<path stroke="#6edc3c" d="M838.3 1075.3zm7 6zm-34 61z"/>
<path stroke="#6edc46" d="M844.3 1068.3zm-3 20zm-6 2zm3 1zm-21 40zm-13 3zm2 0zm-12 9zm8 3zm6 2zm-7 1zm0 5zm-8 3zm11 0z"/>
<path stroke="#78dc3c" d="M836.3 1078.3zm11 0zm-2 2zm-11 1zm8 9zm-23 34zm-5 7zm8 1zm-7 6zm-3 1zm-15 1zm12 4zm8 0zm-21 2zm8 7z"/>
<path stroke="#82dc32" d="M838.3 1089.3zm-30 48zm5 7z"/>
<path stroke="#82dc3c" d="M848.3 1068.3zm1 1zm-16 15zm10 1zm-10 2zm8 0zm-7 1zm-12 33zm-9 8zm-2 4zm-13 5zm10 0zm3 2zm-16 4zm14 3zm4 2zm-2 3z"/>
<path stroke="#8cdc32" d="M845.3 1070.3zm-2 1zm2 1zm-2 1zm3 0zm-12 9zm-4 1zm-16 46zm-12 6zm8 3zm-2 2zm5 0zm-18 2zm18 5zm-13 1zm7 2zm3 0zm1 1zm-2 1z"/>
<path stroke="#96dc28" d="M837.3 1077.3zm-32 58zm0 10zm-4 2zm12 4z"/>
<path stroke="#96dc32" d="M842.3 1071.3zm-45 72zm14 2zm2 0zm-14 2zm15 2zm-5 2z"/>
<path stroke="#a0dc28" d="M841.3 1072.3zm-2 3zm-4 4zm0 1zm3 0zm-1 1zm-3 3zm1 2zm4 3zm-23 46zm-9 5zm2 0zm-4 1zm-6 4zm11 0zm6 0zm-16 1zm7 2zm4 0zm-3 4zm-3 1z"/>
<path stroke="#aadc28" d="M845.3 1073.3zm0 2zm2 1zm-12 2zm-1 1zm5 7zm-21 52zm-9 1zm-11 4zm12 0zm-3 6zm4 0z"/>
<path stroke="#b4dc1e" d="M844.3 1074.3zm0 3zm0 3zm-6 5z"/>
<path stroke="#b4dc28" d="M845.3 1067.3zm-2 3zm5 2zm-12 5zm4 6zm-6 2zm6 0zm-1 3zm-30 46zm6 1zm-6 2zm-6 1zm6 3zm-8 3zm14 3zm-10 1zm0 3zm1 0z"/>
<path stroke="#bedc1e" d="M837.3 1078.3zm0 1zm2 1zm1 6zm-36 50zm1 1zm5 4zm0 3zm-9 1zm0 1zm8 0zm4 2zm-5 1z"/>
<path stroke="#c8dc1e" d="M840.3 1080.3zm-9 1zm9 0zm3 1zm-9 1zm3 3zm-24 46zm-5 4zm-1 7zm0 3z"/>
<path stroke="#d2dc1e" d="M846.3 1070.3zm-5 3zm1 1zm-2 1zm-2 7zm-2 1zm-2 3zm-34 53zm6 0zm-4 4zm1 0zm5 0zm0 3zm-1 1zm5 0z"/>
<path stroke="#dcdc14" d="M840.3 1082.3zm-8 2zm4 1zm-33 51zm3 2zm-5 3zm0 2zm7 7zm0 3z"/>
<path stroke="#dcdc1e" d="M806.3 1141.3zm-4 3zm10 2z"/>
<path stroke="#e6dc14" d="M844.3 1076.3zm-3 5zm-39 58zm6 8z"/>
<path stroke="#f06400" d="M837.3 1084.3z"/>
<path stroke="#f0be14" d="M844.3 1079.3zm-40 62zm2 1zm-3 2z"/>
<path stroke="#f0c814" d="M838.3 1077.3zm0 2zm-1 1zm-31 64z"/>
<path stroke="#f0d214" d="M837.3 1076.3zm8 2zm-42 64zm2 0z"/>
<path stroke="#f0dc14" d="M840.3 1073.3zm2 0zm-1 2zm1 1zm2 2zm-4 1zm-3 3zm-2 1zm4 0zm-34 56zm-4 3zm5 1zm-3 2zm10 1z"/>
<path stroke="#fa6400" d="M841.3 1082.3z"/>
<path stroke="#fa8c0a" d="M843.3 1078.3z"/>
<path stroke="#faa00a" d="M839.3 1079.3zm-4 2zm2 4z"/>
<path stroke="#faaa0a" d="M843.3 1074.3zm0 2zm-38 68z"/>
<path stroke="#fab40a" d="M840.3 1078.3zm1 0zm1 2zm1 0z"/>
<path stroke="#fabe0a" d="M841.3 1074.3z"/>
<path stroke="#0a14a0" d="M1159.1 1048.3zm6 3zm-6 2zm-12 2zm17 3zm-29 4zm1 0zm23 7zm-34 1zm33 0zm-38 3zm1 1zm-5 3zm39 0zm-5 6zm-42 3zm37 1zm-37 1zm-6 3zm-3 1zm4 0zm35 3zm-49 6zm1 0zm-1 1zm-1 1zm-6 6zm38 1zm-4 3zm-27 1zm-13 2zm25 1zm-26 1zm20 0zm10 0zm-2 1zm1 0zm-16 1zm-10 1zm-17 1zm-3 1zm12 0zm6 0zm-12 1zm4 1zm5 0zm-13 1zm7 0zm2 0zm23 0zm-27 1zm22 1zm-23 1zm24 0zm-27 2zm9 0zm14 0zm1 0zm-8 1zm3 0zm-37 1zm44 0zm-43 1zm24 0zm-14 1zm8 1zm6 0zm-8 1zm6 0zm18 0zm-23 1zm0 1zm5 0zm2 0zm15 0zm-24 1zm-22 1zm11 0zm15 0zm-37 3zm23 0zm6 0zm-19 1zm10 0zm-23 1zm12 0zm11 0zm1 0zm-16 1zm-2 1zm9 0zm9 0zm-78 14zm-3 1zm2 0zm2 0zm2 1zm-5 3zm1 0zm34 0zm16 1zm-43 2zm21 0zm-23 3zm3 1zm4 3zm-3 1zm1 0zm1 0zm-8 1zm7 2z"/>
<path stroke="#0a14aa" d="M1157.1 1049.3zm6 1zm-5 3zm5 0zm-12 1zm1 0zm4 0zm5 0zm-12 2zm2 0zm9 3zm4 1zm-5 2zm1 0zm-1 3zm-28 2zm1 0zm25 0zm-27 1zm-4 2zm30 2zm-32 1zm-17 13zm3 0zm35 0zm-41 5zm31 4zm-37 3zm33 0zm-1 1zm-4 4zm-39 1zm-2 2zm37 1zm-3 3zm-35 2zm2 0zm3 0zm25 0zm-34 2zm23 0zm-28 1zm11 1zm1 0zm17 0zm8 0zm1 0zm-26 1zm-7 1zm-12 1zm27 0zm5 0zm-9 1zm6 0zm1 0zm-35 1zm7 0zm-5 1zm2 0zm-2 1zm4 0zm10 0zm3 0zm-10 1zm4 0zm15 0zm1 0zm1 0zm-26 1zm-1 2zm7 0zm-10 5zm20 1zm-18 2zm-4 1zm22 0zm-16 1zm-33 4zm5 6zm1 1zm1 0zm-7 2zm-5 1zm-64 14zm13 7zm-1 3zm8 0z"/>
<path stroke="#0a14b4" d="M1158.1 1051.3zm2 1zm-13 4zm15 1zm-18 1zm-3 2zm20 0zm-23 2zm20 2zm-1 2zm-24 2zm-5 3zm-11 8zm35 0zm-2 1zm-40 4zm-3 3zm-1 1zm35 1zm-37 1zm-2 2zm0 1zm-3 5zm-3 1zm33 0zm3 0zm-36 1zm34 0zm-4 2zm-39 1zm2 0zm31 5zm-31 1zm29 0zm-4 2zm4 0zm-37 3zm1 0zm0 1zm11 0zm15 0zm3 0zm-28 1zm9 0zm-5 3zm10 0zm5 1zm-30 1zm21 0zm-29 1zm31 0zm-31 1zm3 0zm6 0zm-10 1zm16 0zm2 0zm4 0zm1 4zm-20 4zm16 0zm-11 1zm-25 3zm3 0zm-7 2zm23 1zm-25 6zm-3 6zm-2 1z"/>
<path stroke="#0a1eb4" d="M1141.1 1059.3zm1 0zm-6 6zm-19 15zm-26 23zm-6 5zm-1 2zm31 0zm-24 3zm21 0zm-28 3zm21 0zm1 0zm-1 1zm-13 3zm4 0zm-14 8zm-36 16z"/>
<path stroke="#0a1ebe" d="M1156.1 1052.3zm6 0zm-6 1zm5 0zm-14 4zm1 0zm12 1zm-13 1zm-10 6zm-2 1zm21 5zm-28 1zm26 3zm1 0zm-6 6zm-2 2zm-35 1zm26 8zm-2 1zm-1 1zm-2 1zm3 0zm-6 3zm-31 1zm27 2zm2 0zm-3 2zm-32 2zm-6 1zm3 4zm2 2zm-5 2zm14 2zm6 0zm-24 2zm7 0zm19 0zm-16 1zm8 1zm-18 1zm8 0zm1 0zm3 0zm-19 1zm6 0zm-19 1zm21 0zm-17 1zm23 0zm2 1zm-6 1zm-6 2zm2 1zm3 1zm0 4zm-40 8zm-7 7z"/>
<path stroke="#0a1ec8" d="M1162.1 1053.3zm-8 2zm-17 9zm-8 7zm-11 8zm-22 24zm-2 1zm-10 3zm8 0zm2 2zm-3 1zm1 3zm0 1zm8 0zm13 0zm-19 1zm-6 1zm-3 1zm-8 3zm4 3zm14 1zm-13 2zm4 3zm0 2z"/>
<path stroke="#0a28c8" d="M1157.1 1053.3zm3 0zm-2 2zm2 1zm2 0zm-12 2zm8 1zm-43 20zm28 8zm-8 6zm2 1zm-7 3zm-37 5zm26 3zm1 1zm-34 3zm1 2zm1 4zm3 2zm3 0zm-10 2zm-5 3zm4 0zm1 0zm1 0zm3 0zm-17 1zm19 0zm-24 2zm24 0zm-27 1zm15 1zm3 4zm-33 12z"/>
<path stroke="#0a28d2" d="M1155.1 1055.3zm1 0zm4 0zm-5 1zm5 1zm-15 1zm3 1zm9 0zm-14 1zm15 6zm-24 1zm-5 5zm-15 12zm30 2zm-21 17zm-28 7zm0 2zm-5 1zm23 0zm-17 1zm3 1zm3 0zm-20 2zm12 5zm-17 1zm-12 1zm17 1zm0 2zm1 0z"/>
<path stroke="#0a32d2" d="M1148.1 1058.3zm-6 3zm14 0zm-7 19zm-1 2zm-37 3zm29 3zm-37 5zm-2 5zm-9 8zm3 0zm-5 2zm4 0zm17 4zm-17 1zm9 5zm-10 4z"/>
<path stroke="#0a3cd2" d="M1150.1 1079.3zm-40 8zm-18 18zm24 4z"/>
<path stroke="#0a3cdc" d="M1157.1 1057.3zm2 0zm-25 11zm21 1zm-30 5zm-5 4zm23 7zm-31 1zm30 2zm-5 4zm-33 4zm-6 5zm27 0zm-33 7zm3 0zm19 1zm-30 17zm4 0zm-5 4z"/>
<path stroke="#0a46dc" d="M1151.1 1058.3zm4 0zm-12 3zm13 5zm-36 13zm23 7zm-8 5zm-31 3zm-3 3zm-2 3zm-8 4zm21 7zm-2 2zm-26 12z"/>
<path stroke="#0a50dc" d="M1153.1 1055.3zm5 2zm-14 4zm-9 7zm-15 12zm-3 3zm29 0zm-2 1zm-30 1zm-8 4zm21 9zm0 1zm-28 2zm-2 1zm0 1zm7 11zm-13 5z"/>
<path stroke="#1414a0" d="M1161.1 1045.3zm1 1zm3 0zm-2 1zm6 0zm-7 1zm2 0zm2 0zm-8 1zm2 0zm3 0zm1 0zm-12 1zm7 0zm6 0zm1 0zm1 0zm-18 2zm14 0zm1 2zm-21 1zm1 1zm21 0zm5 0zm-28 1zm22 0zm2 0zm-1 2zm1 0zm-2 2zm0 1zm-33 1zm3 0zm3 0zm24 0zm-34 3zm32 0zm4 0zm-37 2zm5 0zm-9 1zm40 0zm-40 1zm37 0zm2 0zm-41 2zm1 1zm1 0zm-3 2zm-7 2zm45 0zm1 0zm-4 1zm1 0zm-44 4zm38 1zm-43 1zm45 0zm-3 1zm-43 2zm-2 1zm43 0zm1 0zm-45 2zm-5 2zm45 0zm-43 2zm-6 1zm3 0zm1 0zm39 1zm1 0zm-40 1zm2 0zm-7 1zm-5 1zm46 0zm-44 1zm2 0zm-6 1zm1 0zm48 0zm-55 1zm6 0zm44 0zm2 1zm1 0zm-50 1zm1 0zm-3 1zm5 0zm5 1zm35 0zm-50 1zm6 0zm-3 1zm1 0zm5 0zm39 0zm-42 1zm2 0zm1 0zm33 0zm4 0zm-49 1zm4 0zm7 0zm-9 1zm5 0zm2 0zm5 0zm36 0zm-42 1zm-2 1zm3 0zm35 1zm-42 1zm42 0zm-45 1zm2 0zm2 0zm41 0zm-42 1zm18 0zm-27 1zm6 0zm29 0zm-35 1zm5 0zm1 0zm-12 1zm13 0zm4 0zm-16 1zm16 0zm24 0zm2 0zm-50 1zm4 0zm4 0zm37 0zm6 0zm-42 1zm34 0zm-39 1zm17 0zm-21 1zm7 0zm18 0zm16 0zm2 0zm-43 1zm3 0zm4 0zm11 0zm28 0zm4 0zm-50 1zm1 0zm5 0zm2 0zm15 0zm2 0zm17 0zm-51 1zm1 0zm10 0zm8 0zm10 0zm17 0zm2 0zm6 0zm-51 1zm2 0zm10 0zm4 0zm5 0zm3 0zm2 0zm2 0zm-42 1zm20 0zm3 0zm2 0zm1 0zm5 0zm9 0zm2 0zm3 0zm9 0zm5 0zm6 0zm-58 1zm12 0zm3 0zm11 0zm2 0zm9 0zm11 0zm1 0zm-44 1zm7 0zm17 0zm6 0zm2 0zm12 0zm3 0zm5 0zm4 0zm-52 1zm7 0zm3 0zm4 0zm1 0zm10 0zm2 0zm6 0zm-46 1zm2 0zm8 0zm1 0zm1 0zm4 0zm1 0zm1 0zm1 0zm5 0zm10 0zm3 0zm8 0zm4 0zm-60 1zm22 0zm17 0zm3 0zm1 0zm6 0zm2 0zm-39 1zm3 0zm16 0zm5 0zm14 0zm7 0zm9 0zm-57 1zm11 0zm1 0zm3 0zm1 0zm9 0zm6 0zm7 0zm2 0zm1 0zm9 0zm3 0zm-56 1zm1 0zm14 0zm1 0zm1 0zm1 0zm1 0zm9 0zm1 0zm7 0zm9 0zm3 0zm3 0zm1 0zm-58 1zm19 0zm1 0zm4 0zm6 0zm8 0zm5 0zm5 0zm-48 1zm14 0zm7 0zm4 0zm16 0zm22 0zm-70 1zm10 0zm11 0zm13 0zm8 0zm2 0zm14 0zm2 0zm9 0zm-58 1zm4 0zm5 0zm2 0zm5 0zm5 0zm2 0zm1 0zm3 0zm6 0zm-29 1zm2 0zm9 0zm7 0zm2 0zm4 0zm12 0zm1 0zm4 0zm-43 1zm10 0zm5 0zm7 0zm6 0zm1 0zm4 0zm-40 1zm9 0zm7 0zm8 0zm11 0zm12 0zm-48 1zm3 0zm5 0zm4 0zm2 0zm4 0zm3 0zm16 0zm-72 1zm35 0zm29 0zm-34 1zm2 0zm2 0zm1 0zm6 0zm4 0zm7 0zm30 0zm-43 1zm3 0zm5 0zm5 0zm4 0zm-51 1zm17 0zm7 0zm3 0zm9 0zm1 0zm2 0zm5 0zm2 0zm4 0zm1 0zm-26 1zm13 0zm5 0zm3 0zm5 0zm8 0zm-36 1zm5 0zm12 0zm4 0zm12 0zm1 0zm-48 1zm17 0zm1 0zm7 0zm7 0zm1 0zm8 0zm2 0zm-28 1zm20 0zm9 0zm5 0zm-59 1zm2 0zm15 0zm4 0zm16 0zm5 0zm3 0zm3 0zm21 0zm-62 1zm12 0zm5 0zm12 0zm15 0zm-58 1zm14 0zm9 0zm9 0zm3 0zm5 0zm4 0zm14 0zm4 0zm-61 1zm6 0zm15 0zm4 0zm1 0zm1 0zm8 0zm6 0zm2 0zm10 0zm-29 1zm16 0zm9 0zm-59 1zm20 1zm20 0zm-52 1zm3 0zm31 0zm19 0zm3 0zm-39 1zm18 0zm4 0zm4 0zm26 0zm-75 1zm4 0zm3 0zm11 0zm20 0zm20 0zm-48 1zm4 0zm2 0zm22 0zm7 0zm13 0zm-49 1zm3 0zm3 0zm3 0zm5 0zm11 0zm6 0zm2 0zm20 0zm4 0zm13 0zm-71 1zm1 0zm3 0zm28 0zm1 0zm12 0zm1 0zm7 0zm-60 1zm8 0zm7 0zm5 0zm1 0zm18 0zm14 0zm-42 1zm6 0zm2 0zm17 0zm4 0zm4 0zm-63 1zm14 0zm2 0zm7 0zm14 0zm21 0zm5 0zm-36 1zm8 0zm9 0zm2 0zm3 0zm4 0zm5 0zm7 0zm2 0zm5 0zm1 0zm6 0zm2 0zm7 0zm-39 1zm4 0zm3 0zm-50 1zm18 0zm1 0zm8 0zm5 0zm1 0zm4 0zm3 0zm7 0zm19 0zm-42 1zm1 0zm2 0zm5 0zm1 0zm1 0zm3 0zm2 0zm1 0zm4 0zm-25 1zm17 0zm10 0zm-31 1zm4 0zm2 0zm20 0zm-7 1zm-12 2zm6 0zm3 0zm4 0zm8 0zm1 0zm-10 1zm1 0zm-8 1zm5 0zm1 1zm5 0zm-12 1zm5 0zm3 0zm-8 1zm2 0zm2 0zm8 1zm-15 50zm1 0zm2 0zm2 0zm2 0zm6 0zm15 0z"/>
<path stroke="#141ea0" d="M1148.1 1049.3zm19 0zm-16 3zm-5 1zm-24 18zm39 0zm-81 31zm-10 13zm-12 7zm46 0zm-29 3zm-23 4zm-3 1zm11 1zm-39 5zm3 0zm33 0zm31 0zm-65 1zm18 2zm8 0zm27 1zm-16 2zm1 1zm1 0zm0 1zm10 0zm-17 3zm-72 2zm37 1zm2 0zm2 0zm30 0zm-32 1zm32 0zm1 0zm-51 1zm43 1zm-39 1zm-40 2zm115 0zm-76 2zm30 1zm-18 1zm-48 1zm62 0zm-61 1zm48 0zm-19 1zm23 1zm-40 1zm-30 1zm6 1zm48 1zm11 0zm-58 4zm25 0zm-10 4zm-8 2zm31 1zm-30 1zm28 1zm11 2z"/>
<path stroke="#1450dc" d="M1159.1 1055.3zm-8 2zm0 19zm-28 2zm-34 29zm11 1zm-1 6z"/>
<path stroke="#145adc" d="M1157.1 1062.3zm-16 1zm1 0zm-25 18zm-6 7zm19 7zm-27 1zm-3 15zm-6 1zm5 0zm6 2z"/>
<path stroke="#1464dc" d="M1146.1 1084.3zm-33 1zm20 8z"/>
<path stroke="#1464e6" d="M1137.1 1066.3zm-3 3zm-8 6zm24 3zm-32 3zm0 1zm-2 1zm-8 7zm16 12zm-24 1zm16 2zm-25 4zm5 2zm5 2zm-20 12zm6 0zm-2 1z"/>
<path stroke="#146ee6" d="M1140.1 1062.3zm1 2zm15 0zm-22 6zm-20 16zm22 5zm-12 8zm4 0zm-33 10zm6 2zm0 1z"/>
<path stroke="#1478e6" d="M1143.1 1064.3zm-4 2zm14 6zm-20 1zm19 2zm-35 7zm20 8zm-37 11zm18 4zm-8 5zm2 0zm-8 2zm1 1z"/>
<path stroke="#1482e6" d="M1153.1 1059.3zm1 3zm-52 46zm-4 2z"/>
<path stroke="#1482f0" d="M1153.1 1057.3zm-20 13zm21 2zm-26 1zm5 21zm-13 9zm-21 5zm11 4z"/>
<path stroke="#148ce6" d="M1155.1 1064.3zm-22 8zm-3 2zm18 3zm-23 1zm-19 13zm-3 6zm23 1zm-10 8zm-2 2zm-3 2zm-4 1z"/>
<path stroke="#148cf0" d="M1155.1 1057.3zm-13 7zm-4 2zm-14 34zm-28 7zm16 2z"/>
<path stroke="#1496e6" d="M1154.1 1058.3zm-15 29zm-40 16zm-2 8z"/>
<path stroke="#1e1ea0" d="M1167.1 1041.3zm-2 1zm-7 2zm10 0zm0 8zm0 2zm-28 2zm-5 4zm-4 1zm36 0zm-35 1zm-12 3zm5 1zm2 1zm36 2zm1 1zm-43 1zm38 0zm3 1zm-45 1zm-7 6zm-3 4zm46 0zm-55 1zm5 3zm-4 1zm-4 1zm1 0zm1 0zm-3 3zm-4 2zm-2 2zm0 1zm4 0zm45 0zm-49 1zm2 0zm-7 2zm-9 1zm6 0zm3 0zm51 1zm0 1zm-71 3zm1 0zm6 1zm3 0zm1 0zm-3 3zm-16 1zm14 1zm1 0zm4 1zm48 0zm-47 1zm-31 1zm12 0zm3 0zm5 0zm53 1zm-54 1zm52 0zm7 0zm-8 1zm3 0zm-48 1zm45 0zm3 1zm-12 1zm-55 2zm3 0zm1 0zm-1 1zm49 1zm-64 1zm1 0zm10 0zm53 1zm3 0zm-58 1zm48 0zm-76 1zm9 1zm9 0zm-6 1zm9 0zm10 1zm-25 1zm14 0zm2 0zm3 0zm-19 1zm6 0zm-33 1zm30 0zm4 0zm-20 1zm11 0zm10 0zm4 0zm14 0zm25 0zm-58 1zm12 0zm4 0zm42 0zm14 1zm-74 1zm70 0zm-72 1zm1 0zm4 0zm59 0zm-68 1zm4 0zm11 0zm29 0zm36 0zm-18 1zm12 0zm3 0zm3 0zm-68 1zm7 0zm43 0zm2 1zm4 0zm9 0zm-61 1zm-10 1zm1 0zm35 0zm6 0zm12 0zm-12 1zm7 0zm8 0zm4 1zm-115 1zm44 0zm48 0zm6 0zm1 0zm5 0zm4 0zm-24 1zm9 0zm6 0zm10 0zm-105 1zm1 0zm16 0zm25 0zm4 0zm1 0zm34 0zm26 0zm-99 1zm9 0zm7 0zm16 0zm5 0zm2 0zm33 0zm-80 1zm6 0zm13 0zm17 0zm4 0zm24 0zm6 0zm9 0zm4 0zm2 0zm1 0zm-57 1zm2 0zm5 0zm12 0zm3 0zm12 0zm13 0zm5 0zm10 0zm4 0zm11 0zm-89 1zm2 0zm72 0zm16 0zm-88 1zm6 0zm14 0zm17 0zm19 0zm14 0zm-88 1zm3 0zm2 0zm2 0zm20 0zm7 0zm32 0zm-62 1zm6 0zm48 0zm5 0zm2 0zm11 0zm7 0zm-111 1zm18 0zm5 0zm8 0zm24 0zm21 0zm24 0zm1 0zm4 0zm30 0zm-88 1zm35 0zm2 0zm5 0zm18 0zm-80 1zm33 0zm12 0zm16 0zm3 0zm-63 1zm15 0zm21 0zm40 0zm2 0zm1 0zm6 0zm-100 1zm30 0zm30 0zm8 0zm15 0zm8 0zm3 0zm-68 1zm6 0zm7 0zm13 0zm3 0zm12 0zm14 0zm3 0zm2 0zm-76 1zm13 0zm36 0zm26 0zm-76 1zm13 0zm13 0zm3 0zm23 0zm16 0zm1 0zm-67 1zm14 0zm8 0zm5 0zm9 0zm4 0zm6 0zm-57 1zm4 0zm13 0zm56 0zm-42 1zm29 0zm15 0zm-18 1zm18 0zm8 0zm-82 1zm33 0zm14 0zm-19 1zm29 0zm5 0zm-54 1zm34 0zm32 0zm-82 1zm29 0zm14 0zm20 0zm8 0zm-54 1zm39 0zm13 0zm-27 1zm31 0zm-31 1zm7 0zm6 0zm-40 1zm9 0zm1 0zm37 1zm-35 1zm-13 1zm5 0zm3 0zm13 0zm1 0zm2 0zm11 0zm-22 1zm3 0zm10 0zm3 0zm4 0zm3 0zm13 0zm-23 2zm-9 2zm-5 1zm0 2zm-19 1zm3 3zm7 4zm-10 38zm13 0zm7 0zm2 0zm3 0zm1 0zm2 0zm9 0zm2 0zm3 0zm6 0zm11 0z"/>
<path stroke="#1e96e6" d="M1151.1 1062.3zm3 1zm0 3zm-9 16zm-23 19zm-3 2z"/>
<path stroke="#1ea0e6" d="M1143.1 1063.3zm-14 11zm18 6zm-7 7zm-35 5zm1 1zm16 7zm-25 4zm3 0z"/>
<path stroke="#1eaae6" d="M1157.1 1061.3zm-4 5zm-1 4zm-20 5zm19 0zm-30 6zm25 1zm-27 1zm22 2zm-15 12zm2 0zm-14 9zm-9 4z"/>
<path stroke="#1eb4e6" d="M1146.1 1062.3zm-2 2zm-12 9zm19 0zm2 0zm-1 1zm-48 23zm0 1zm1 0zm-2 2zm17 2zm-20 4zm-2 1zm6 0zm4 4z"/>
<path stroke="#1ebee6" d="M1138.1 1067.3zm4 18zm-43 22z"/>
<path stroke="#2828a0" d="M1161.1 1041.3zm-13 1zm13 0zm-12 4zm-14 3zm7 3zm-8 4zm34 2zm-41 3zm-3 5zm39 6zm5 0zm-51 2zm-10 3zm54 0zm-5 11zm-64 1zm5 2zm45 5zm-6 4zm-3 2zm-71 4zm13 0zm-20 2zm74 1zm-65 2zm59 0zm-59 1zm-6 2zm63 1zm-92 1zm20 0zm2 1zm2 0zm3 0zm65 2zm-91 6zm17 0zm6 0zm48 0zm-59 1zm-5 1zm3 1zm1 1zm-5 2zm-1 1zm-25 1zm89 0zm-93 1zm16 0zm5 0zm71 0zm6 0zm-78 1zm64 0zm-84 2zm7 1zm-3 1zm6 1zm64 1zm12 0zm-28 2zm-83 1zm29 0zm9 0zm64 0zm-87 1zm-13 1zm100 0zm-88 1zm71 1zm-52 1zm-63 2zm9 0zm2 1zm6 0zm37 0zm-17 1zm83 0zm-75 1zm67 0zm-70 2zm2 0zm18 0zm53 0zm-108 1zm102 0zm-46 1zm-31 1zm6 0zm17 0zm-32 1zm30 1zm41 0zm-109 1zm12 0zm39 0zm44 0zm19 0zm-94 1zm22 0zm45 0zm4 0zm-77 1zm8 0zm-10 1zm97 0zm-43 1zm18 0zm14 0zm1 1zm-84 1zm11 0zm59 0zm-28 1zm35 0zm1 0zm-8 1zm15 0zm-78 1zm76 0zm-18 1zm-70 1zm6 0zm5 1zm-10 1zm12 0zm36 0zm1 0zm6 0zm-47 2zm86 1zm-83 1zm46 1zm16 0zm-60 3zm7 0zm14 0zm-37 2zm42 0zm-26 1zm9 0zm8 0zm8 0zm5 0zm-51 2zm45 0zm8 0zm15 0zm-27 3zm21 0zm-24 1zm35 0zm-65 3zm17 0zm-1 1zm21 3zm3 0zm-41 36zm7 0zm11 0zm6 0zm20 0zm3 0z"/>
<path stroke="#2828aa" d="M1145.1 1052.3zm26 3zm3 0zm-59 18zm-11 3zm-15 7zm52 12zm-77 7zm63 5zm1 4zm-87 2zm81 3zm4 1zm-71 2zm-38 1zm95 2zm-5 2zm-75 2zm-19 4zm2 3zm80 0zm-2 2zm-104 2zm36 1zm-16 2zm2 0zm-71 1zm52 0zm-2 4zm-4 2zm90 0zm-116 3zm38 0zm61 1zm-108 1zm-5 1zm117 0zm10 0zm-120 2zm106 2zm-65 1zm5 0zm77 0zm-144 1zm114 0zm-105 1zm7 0zm48 0zm-5 1zm29 0zm-39 1zm77 0zm-107 1zm85 0zm3 0zm20 0zm-114 4zm8 2zm53 0zm8 1zm4 3zm-52 2zm34 0zm-3 2zm13 0zm5 0zm-65 1zm9 2zm31 1zm-19 1zm7 2zm-21 1zm8 1zm-14 1zm44 1zm-17 2zm31 0zm-45 1zm39 0zm-23 2zm-38 1zm22 5zm27 3zm-53 33zm38 0zm3 0zm5 0zm11 0zm4 0zm9 0zm10 0z"/>
<path stroke="#28bee6" d="M1150.1 1061.3zm-24 15zm11 13zm-10 3zm3 1zm-2 1zm-23 6zm-4 3zm0 3zm-2 3zm10 1z"/>
<path stroke="#28c8e6" d="M1143.1 1062.3zm12 4zm-14 1zm-6 3zm-3 4zm-17 12zm24 0zm1 0zm-6 4zm-26 2zm-1 3zm17 2zm-23 5zm1 0zm17 0zm-1 2zm-8 2zm0 2zm-8 1z"/>
<path stroke="#28d2a0" d="M1146.1 1064.3zm-8 5zm-23 18zm2 0zm-5 4zm-2 1zm-4 5zm0 1zm-5 7zm4 2z"/>
<path stroke="#28d2aa" d="M1113.1 1089.3zm14 4zm-6 7zm-6 4z"/>
<path stroke="#28d2b4" d="M1149.1 1064.3zm4 1zm-4 10zm-11 12zm-23 2zm-6 2zm-1 2zm18 0zm-4 6zm-18 2zm9 4z"/>
<path stroke="#28d2be" d="M1146.1 1065.3zm-20 13zm11 8zm-13 10zm-20 6zm-3 8z"/>
<path stroke="#28d2c8" d="M1151.1 1063.3zm2 0zm-1 4zm-36 20zm16 6zm-6 2zm-14 10zm0 1zm-11 1zm8 0zm-5 2z"/>
<path stroke="#28d2d2" d="M1155.1 1062.3zm-21 13zm8 9zm-24 16zm2 0zm-15 1zm9 3zm-6 4z"/>
<path stroke="#28d2dc" d="M1148.1 1062.3zm4 10zm-5 7zm-4 2zm-1 2zm-26 5zm-4 1zm16 3zm-3 5zm0 1zm-8 4zm-16 2zm1 3zm1 1zm6 0zm-12 1z"/>
<path stroke="#28d2e6" d="M1156.1 1059.3zm-3 2zm-6 1zm-9 8zm-2 1zm-13 9zm-5 6zm19 2zm-26 1zm21 2zm-6 5zm-10 6zm1 1zm-16 5z"/>
<path stroke="#3232aa" d="M1164.1 1043.3zm10 4zm-27 1zm2 0zm-13 1zm-10 12zm46 0zm-2 5zm-58 6zm0 2zm49 2zm-53 1zm-10 6zm3 0zm-7 8zm-6 4zm-18 3zm6 3zm-1 2zm3 1zm-4 1zm-4 1zm-26 2zm21 4zm-17 3zm17 0zm-25 1zm-32 2zm13 0zm103 0zm-82 1zm81 0zm-94 2zm2 1zm82 0zm-79 2zm75 1zm-69 2zm-20 1zm10 0zm88 1zm-86 3zm-28 1zm12 0zm89 1zm-124 1zm50 0zm-30 1zm0 1zm97 0zm8 0zm-117 1zm11 0zm15 0zm79 2zm-120 2zm21 2zm5 0zm1 0zm64 0zm16 0zm-95 1zm17 1zm81 0zm12 0zm2 1zm-87 1zm-35 1zm3 0zm28 0zm-32 1zm108 0zm-102 1zm113 0zm-147 1zm121 0zm-106 1zm13 0zm99 0zm-107 2zm104 0zm-137 1zm28 0zm89 0zm-25 1zm-47 1zm105 0zm8 0zm-107 1zm75 0zm4 0zm2 0zm12 0zm-125 1zm18 0zm-32 2zm112 0zm-101 1zm108 0zm-114 3zm77 0zm-83 1zm109 0zm7 1zm-104 2zm130 0zm-143 1zm9 0zm92 0zm11 0zm-48 2zm25 0zm32 0zm-26 3zm-21 1zm-70 1zm64 0zm20 0zm4 1zm33 0zm-48 1zm-69 1zm12 0zm72 0zm-107 1zm44 1zm-16 1zm6 0zm11 1zm25 0zm-55 1zm45 2zm8 1zm-23 1zm18 0zm-14 1zm49 0zm17 0zm-50 1zm14 0zm6 1zm-13 2zm-13 2zm-47 2zm13 1zm15 0zm21 0zm7 1zm4 0zm-11 5zm21 0zm-19 1zm-25 4zm-21 8zm49 2zm-5 13zm-34 1zm6 0zm3 0zm3 0zm22 0zm19 0zm2 0zm16 0zm24 0z"/>
<path stroke="#32d26e" d="M1151.1 1064.3zm-11 7zm-28 33z"/>
<path stroke="#32d278" d="M1148.1 1063.3zm-13 11zm-4 2zm-20 16zm-1 2zm-2 6zm9 1zm-2 1zm0 1zm-7 2zm2 0zm-3 2zm3 0z"/>
<path stroke="#32d282" d="M1127.1 1078.3zm-9 11zm13 3zm-21 1zm-5 13z"/>
<path stroke="#32d28c" d="M1150.1 1063.3zm1 2zm1 0zm-1 6zm-22 5zm1 0zm-6 5zm21 0zm-27 4zm-4 3zm-10 18zm2 1z"/>
<path stroke="#32d296" d="M1143.1 1066.3zm9 3zm-33 16zm19 1zm-5 5zm-25 3zm11 3zm-14 5zm-3 3z"/>
<path stroke="#32d2a0" d="M1145.1 1065.3zm6 3zm-11 1zm-34 31zm0 5z"/>
<path stroke="#32dc64" d="M1137.1 1072.3zm10 4zm-23 4zm-15 14zm-2 4zm13 1zm-10 4z"/>
<path stroke="#32dc6e" d="M1128.1 1077.3zm3 0zm5 9zm-17 1zm-1 3zm5 5zm-16 8zm-3 2zm2 1z"/>
<path stroke="#3c3caa" d="M1162.1 1040.3zm-9 1zm18 0zm-22 3zm2 2zm19 1zm-28 3zm22 16zm-3 14zm-1 7zm-66 1zm57 6zm6 0zm-10 2zm-68 2zm-69 2zm48 8zm4 1zm-3 1zm-10 1zm-32 2zm13 5zm-14 1zm5 1zm1 2zm1 5zm78 2zm-91 1zm13 1zm-18 5zm2 0zm-12 1zm-50 1zm38 0zm-34 1zm144 1zm-98 3zm4 2zm99 1zm-154 1zm57 1zm69 0zm-131 1zm34 0zm109 1zm-112 5zm119 0zm-14 1zm5 0zm-125 1zm-7 1zm98 0zm-88 2zm120 2zm-163 2zm139 1zm4 2zm-132 1zm12 0zm103 1zm17 0zm-127 1zm133 1zm-36 2zm-76 2zm53 0zm20 0zm-107 4zm117 2zm-90 1zm57 1zm-46 2zm-2 2zm61 0zm-55 4zm37 1zm21 0zm-18 1zm-40 1zm46 0zm-44 1zm3 0zm11 0zm64 0zm-87 1zm9 0zm20 0zm33 0zm-14 1zm-54 1zm18 0zm-6 1zm35 3zm-53 1zm21 0zm15 3zm-10 6zm27 2zm-28 1zm-22 20zm10 0zm9 0zm25 0zm17 0zm2 0zm5 0zm10 0z"/>
<path stroke="#3c3cb4" d="M1141.1 1046.3zm33 2zm-50 7zm3 2zm50 1zm-4 2zm1 3zm-88 19zm71 1zm0 4zm-79 9zm-15 2zm-5 5zm79 3zm-109 7zm17 4zm-11 1zm-37 5zm33 0zm80 1zm-112 2zm122 0zm-7 1zm-134 1zm17 3zm122 0zm-96 2zm86 0zm5 0zm1 0zm-145 2zm-49 1zm185 1zm-122 3zm-2 1zm-9 1zm-34 1zm12 0zm-31 1zm45 1zm20 0zm-42 1zm21 1zm4 0zm-17 2zm6 0zm-39 1zm32 0zm42 0zm99 0zm-140 1zm-21 1zm3 2zm44 1zm-16 2zm-33 1zm15 2zm169 2zm-40 1zm-148 3zm8 1zm5 3zm117 0zm22 1zm6 2zm-48 4zm30 0zm-147 1zm13 0zm93 4zm15 1zm-119 1zm3 3zm19 0zm-19 1zm82 0zm21 0zm-11 1zm-22 1zm17 0zm-54 4zm-23 1zm76 1zm-38 1zm25 0zm-21 2zm-36 1zm34 1zm-5 2zm-13 1zm52 3zm4 0zm-15 3zm-8 2zm-15 2zm-13 1zm33 3zm-11 7zm-58 10zm7 0zm8 0zm69 0zm9 0z"/>
<path stroke="#3cdc5a" d="M1150.1 1064.3zm-8 4zm-4 4zm-7 6zm-10 5zm14 4zm-24 4zm5 0zm6 3zm-15 8z"/>
<path stroke="#3cdc64" d="M1143.1 1065.3zm4 0zm-4 2zm-2 1zm-8 22z"/>
<path stroke="#46dc5a" d="M1151.1 1066.3zm-5 1zm2 0zm-7 3zm-2 1zm-16 11zm11 5zm-24 8zm-2 2zm-2 2zm0 4zm2 1z"/>
<path stroke="#50dc50" d="M1142.1 1069.3zm0 1zm5 4zm-18 3zm6 0zm-12 6zm-2 2zm17 0zm-18 12zm-13 8z"/>
<path stroke="#50dc5a" d="M1144.1 1069.3zm-25 20zm-11 6z"/>
<path stroke="#5adc50" d="M1152.1 1063.3zm-10 3zm1 4zm-9 7zm-14 7zm1 2zm1 5zm4 3zm-16 3zm9 2zm-8 4z"/>
<path stroke="#64dc46" d="M1150.1 1068.3zm0 2zm-2 1zm1 1zm-1 4zm-23 4zm-6 8zm-8 6zm0 2zm6 3zm-3 2zm0 1zm-8 2z"/>
<path stroke="#64dc50" d="M1148.1 1068.3zm1 0zm-8 1zm-23 19z"/>
<path stroke="#6edc3c" d="M1149.1 1066.3zm-6 14z"/>
<path stroke="#6edc46" d="M1150.1 1067.3zm0 2zm-1 1zm-1 3zm-2 5zm-17 1zm15 1zm-19 2zm-5 4zm2 1zm7 3zm-14 1zm8 1zm-6 6zm-4 2zm-1 1zm1 0zm2 0zm4 0zm-13 1zm5 0z"/>
<path stroke="#78dc3c" d="M1132.1 1076.3zm12 2zm-25 8zm16 0zm-13 2zm9 2zm-17 2zm-3 1zm10 0zm4 0zm-13 3zm6 2z"/>
<path stroke="#82dc3c" d="M1140.1 1072.3zm-4 4zm-8 2zm-1 1zm17 0zm-17 2zm13 2zm-3 2zm-11 2zm6 1zm-8 1zm2 0zm-9 1zm6 4zm-8 2zm-7 3zm1 3z"/>
<path stroke="#8cdc32" d="M1149.1 1065.3zm-6 7zm2 4zm-20 3zm3 1zm10 4zm-14 1zm0 3zm8 1zm-6 2zm-4 4zm-12 4zm-1 4z"/>
<path stroke="#96dc28" d="M1131.1 1079.3zm3 2zm-22 14zm-1 6z"/>
<path stroke="#96dc32" d="M1119.1 1095.3zm-12 6z"/>
<path stroke="#a0dc28" d="M1144.1 1068.3zm2 0zm2 1zm-1 3zm-6 1zm6 2zm-14 1zm13 1zm-4 2zm-16 2zm-2 1zm16 0zm1 0zm-16 1zm-3 3zm1 2zm-4 3zm1 3zm1 1zm-6 2zm-2 1zm-4 2zm0 4z"/>
<path stroke="#aadc28" d="M1146.1 1070.3zm-5 1zm3 6zm-3 3zm-11 8zm-10 1zm3 1zm-10 5z"/>
<path stroke="#b4dc1e" d="M1142.1 1078.3zm-5 5zm-17 10zm-5 2z"/>
<path stroke="#b4dc28" d="M1140.1 1073.3zm-3 1zm8 1zm-17 13zm-9 8zm-8 2zm-1 2zm4 0z"/>
<path stroke="#bedc1e" d="M1145.1 1069.3zm1 3zm1 1zm-10 5zm-7 1zm-2 2zm-7 7zm2 1zm-7 6zm-7 6z"/>
<path stroke="#c8dc1e" d="M1147.1 1068.3zm-9 6zm0 1zm0 6zm1 1zm-11 7zm-14 4zm-3 2zm3 1zm-1 1zm-4 1z"/>
<path stroke="#d2dc1e" d="M1146.1 1069.3zm-4 2zm-3 3zm0 3zm-13 5zm1 7zm-6 1zm-7 5zm-1 1zm-2 3z"/>
<path stroke="#dcdc14" d="M1143.1 1073.3zm2 0zm-4 4zm-11 9zm-1 3zm-12 5zm0 2z"/>
<path stroke="#dcdc1e" d="M1147.1 1071.3zm-3 5zm-8 1zm-3 1zm3 5zm-1 1zm-10 6zm-14 7z"/>
<path stroke="#e61e00" d="M1140.1 1077.3zm-5 3zm-3 1zm4 0zm-1 1zm-3 1zm1 0zm-4 2zm2 0zm-1 2z"/>
<path stroke="#e6dc14" d="M1141.1 1078.3zm2 0zm-2 1zm2 0zm-11 1zm-2 1zm-3 2zm1 4zm-6 3zm-7 2zm1 5z"/>
<path stroke="#f03c00" d="M1133.1 1081.3zm-4 3zm-2 3z"/>
<path stroke="#f04600" d="M1130.1 1083.3z"/>
<path stroke="#f05000" d="M1132.1 1084.3z"/>
<path stroke="#f0c814" d="M1142.1 1075.3zm-17 11zm0 1zm2 1zm-2 1zm-4 8zm-10 3z"/>
<path stroke="#f0d214" d="M1138.1 1077.3zm-7 3zm6 2zm-12 3zm-11 9z"/>
<path stroke="#f0dc14" d="M1145.1 1072.3zm0 2zm-5 2zm-6 2zm3 1zm-11 5zm7 0zm-2 2zm-12 4zm-4 8z"/>
<path stroke="#fa6400" d="M1134.1 1082.3zm-5 6z"/>
<path stroke="#fa6e00" d="M1143.1 1074.3zm-13 11z"/>
<path stroke="#fa8c00" d="M1126.1 1086.3z"/>
<path stroke="#fa960a" d="M1133.1 1080.3zm6 0zm-3 2zm-5 1zm-4 1zm0 1zm1 1z"/>
<path stroke="#faa00a" d="M1145.1 1071.3zm-2 5zm-7 3zm1 1zm0 1zm-7 1zm1 2zm-7 2zm3 0z"/>
<path stroke="#faaa0a" d="M1137.1 1077.3zm-1 1zm-1 1zm1 1zm3 1zm-5 2zm-6 1zm1 3zm-9 4zm1 0zm1 1zm-6 1z"/>
<path stroke="#fab40a" d="M1139.1 1076.3zm-4 2zm4 1zm1 0zm-6 5zm2 0zm-8 1zm4 0zm-20 15z"/>
<path stroke="#ff8c00" d="M1138.1 1078.3zm-7 4zm-2 4z"/>
<path stroke="#0a14a0" d="M548.8 1342zm6 0zm-1 1zm2 0zm-15 1zm18 1zm-19 1zm19 0zm-19 1zm22 0zm-19 1zm16 1zm6 3zm-31 4zm33 1zm-1 3zm-38 2zm36 4zm-2 6zm2 3zm-48 2zm3 0zm46 0zm-45 5zm37 0zm3 0zm-38 3zm-9 3zm1 0zm44 1zm2 1zm-45 1zm3 1zm35 0zm-38 1zm5 0zm-2 1zm2 0zm0 1zm26 0zm3 0zm-28 2zm4 1zm23 1zm-45 2zm41 0zm-35 1zm35 4zm-40 1zm3 0zm-3 1zm34 0zm-2 2zm5 0zm-6 1zm-39 1zm1 0zm49 0zm-53 1zm2 2zm-10 1zm7 0zm-8 2zm2 0zm7 0zm0 1zm44 1zm-55 1zm51 0zm-3 2zm9 0zm-8 4zm-53 1zm8 0zm47 4zm-2 2zm-58 3zm1 2zm4 1zm52 2zm-52 2zm6 2zm36 1zm6 0zm1 0zm-47 1zm3 1zm32 0zm10 0zm-118 1zm77 0zm30 0zm-32 1zm37 0zm-108 1zm65 0zm-71 1zm105 0zm-118 1zm102 0zm-96 1zm88 1zm19 0zm-120 1zm11 0zm5 2zm105 0zm-18 1zm-98 1zm105 0zm1 0zm-116 1zm120 0zm-101 1zm99 0zm3 0zm-120 1zm119 0zm-112 1zm-4 1zm6 0zm4 0zm11 0zm-18 1zm15 0zm-21 1zm22 0zm-20 2zm9 0zm-6 3zm21 2zm-30 1zm26 0z"/>
<path stroke="#0a14aa" d="M553.8 1345zm-9 1zm-4 1zm22 1zm-22 1zm-4 1zm24 0zm2 1zm-29 2zm34 1zm0 1zm-36 4zm31 3zm2 6zm-1 3zm-45 5zm1 1zm1 0zm-6 3zm44 2zm-1 1zm-34 1zm34 0zm-45 1zm7 0zm34 2zm5 1zm-34 1zm21 0zm-23 1zm29 0zm-40 1zm2 3zm31 0zm-21 1zm8 4zm10 0zm-27 1zm26 0zm-8 1zm18 0zm-20 1zm4 0zm6 0zm-38 1zm27 1zm-30 1zm41 3zm-3 1zm-36 1zm46 0zm-48 1zm40 0zm1 0zm-2 2zm-8 2zm7 0zm-1 2zm-46 1zm42 0zm5 0zm2 0zm-50 1zm4 0zm-13 1zm53 1zm0 1zm-44 1zm-13 3zm2 0zm-2 1zm2 1zm2 2zm1 1zm0 2zm48 3zm-50 1zm49 1zm-43 1zm-11 1zm52 0zm-52 1zm1 0zm1 0zm-6 2zm56 0zm3 0zm-48 1zm46 0zm-51 1zm50 0zm-51 1zm44 0zm7 0zm-10 1zm8 1zm-44 3zm-64 1zm91 0zm6 0zm-33 2zm30 0zm-18 1zm-99 1zm4 0zm-11 1zm103 0zm3 0zm12 0zm-117 1zm2 0zm5 0zm96 0zm15 0zm-117 1zm-6 1zm9 0zm3 0zm7 0zm-6 1zm3 0zm99 0zm-105 1zm5 0zm101 0zm3 0zm5 0zm-124 1zm18 0zm-15 1zm10 0zm105 0zm4 0zm-123 1zm17 0zm-15 2zm20 0z"/>
<path stroke="#0a14b4" d="M546.8 1344zm-4 1zm1 0zm13 1zm7 0zm-22 1zm16 1zm6 2zm-29 1zm2 0zm26 1zm-2 3zm-28 2zm33 1zm-36 1zm-1 1zm1 0zm-2 3zm40 0zm-3 2zm2 2zm-45 9zm2 0zm39 0zm-40 1zm-3 2zm-3 1zm-2 1zm6 0zm30 4zm-30 2zm3 0zm25 0zm5 1zm0 1zm-29 2zm-6 2zm5 1zm19 0zm-29 1zm1 2zm5 1zm24 0zm-32 1zm7 0zm-14 1zm18 0zm11 0zm8 0zm4 0zm-10 2zm-18 1zm-11 1zm31 1zm-35 1zm5 0zm24 0zm-26 1zm33 2zm4 1zm-42 1zm5 0zm27 0zm-32 1zm36 2zm-42 2zm42 0zm-52 2zm5 0zm4 0zm45 0zm-52 2zm9 0zm35 0zm-1 1zm1 0zm6 0zm-58 2zm3 0zm48 2zm2 1zm-54 1zm2 0zm47 1zm3 0zm-50 2zm51 0zm-51 2zm6 3zm41 0zm-42 1zm44 0zm-45 1zm37 0zm-39 1zm45 1zm-47 1zm6 3zm-4 2zm42 0zm-47 1zm45 1zm-40 1zm7 0zm32 0zm-39 1zm13 1zm-11 1zm28 0zm-126 1zm97 0zm4 0zm4 1zm20 0zm-18 3zm10 2zm-117 2zm4 0zm8 0zm103 0zm1 1zm2 2zm-127 1zm22 0zm103 0zm-101 2zm-12 1zm10 3z"/>
<path stroke="#0a1eb4" d="M553.8 1346zm-18 9zm30 0zm-31 1zm-3 1zm-5 8zm3 0zm-10 6zm-1 13zm28 6zm-23 7zm-10 1zm2 0zm16 5zm10 0zm-12 2zm-23 1zm-2 1zm0 5zm-6 6zm-11 7zm2 0zm-9 17zm2 2zm4 5zm-93 8zm-1 3zm111 0zm-110 1zm8 0z"/>
<path stroke="#0a1ebe" d="M557.8 1345zm-18 3zm17 1zm3 0zm-22 2zm-3 1zm2 0zm-1 1zm2 0zm27 0zm-6 3zm5 1zm-32 3zm29 1zm2 0zm0 3zm2 2zm-41 2zm-4 1zm5 1zm36 1zm0 2zm-42 1zm39 3zm2 0zm-10 10zm-24 2zm-4 1zm11 2zm-11 2zm3 0zm22 0zm-30 1zm9 0zm-7 2zm29 0zm-27 1zm-3 2zm25 0zm-24 1zm6 0zm6 0zm3 1zm-5 1zm10 0zm-2 4zm-34 4zm20 0zm9 1zm-11 2zm12 1zm-3 4zm7 0zm-42 1zm32 0zm1 0zm-44 1zm12 0zm-14 1zm9 0zm6 0zm-12 1zm0 1zm1 0zm42 0zm-5 1zm-45 1zm4 0zm1 1zm-2 4zm47 2zm2 0zm-2 1zm-44 2zm44 0zm-52 3zm7 3zm40 0zm-44 1zm49 0zm-7 1zm-34 1zm-3 3zm1 0zm1 0zm26 1zm-25 1zm1 2zm10 0zm11 0zm-27 2zm28 0zm-16 1zm0 1zm3 0zm4 0zm-106 3zm5 0zm102 0zm-104 4zm105 0zm-116 1zm6 0zm10 0zm-20 1zm0 1zm10 0zm8 2z"/>
<path stroke="#0a1ec8" d="M548.8 1347zm8 0zm1 0zm-22 7zm25 0zm4 2zm-36 6zm34 3zm3 0zm-7 8zm0 3zm-1 4zm-37 2zm1 0zm31 3zm-6 3zm0 1zm-4 2zm11 0zm-5 3zm-19 4zm-17 1zm22 1zm6 1zm-30 2zm19 3zm9 5zm-35 2zm29 0zm-38 6zm-6 2zm36 2zm-1 2zm1 1zm-35 2zm-5 3zm-1 2zm43 0zm-4 2zm3 1zm4 1zm-3 1zm-45 3zm43 3zm2 0zm-49 1zm41 0zm1 0zm1 1zm-4 3zm1 0zm-5 1zm-8 1zm1 0zm-21 2zm12 5zm5 0zm2 3zm-104 2zm-15 1zm15 1z"/>
<path stroke="#0a28c8" d="M555.8 1347zm8 9zm-31 2zm1 1zm31 0zm-4 1zm-31 1zm32 0zm-35 2zm1 2zm35 2zm0 3zm-3 2zm-37 8zm28 2zm-32 1zm33 6zm-9 1zm9 1zm-6 1zm0 1zm-21 2zm3 0zm10 1zm-20 2zm-3 1zm19 0zm12 0zm-35 1zm18 0zm-3 4zm14 0zm1 0zm-31 1zm-6 4zm36 1zm-14 1zm-23 1zm12 0zm13 0zm-3 1zm7 0zm2 1zm-27 1zm14 0zm-5 1zm7 1zm6 1zm-4 3zm11 0zm-7 1zm-43 1zm40 0zm-2 1zm3 0zm-41 2zm-6 3zm48 1zm-3 1zm1 3zm1 0zm-39 3zm-11 1zm10 1zm-2 1zm38 0zm1 0zm2 2zm-42 3zm37 0zm1 0zm3 1zm-39 1zm1 1zm32 0zm-34 1zm1 1zm16 0zm2 3zm-13 1zm5 2zm8 0zm-12 3zm-92 3zm-2 2z"/>
<path stroke="#0a28d2" d="M545.8 1346zm2 0zm-1 1zm9 1zm1 0zm-2 1zm-13 1zm14 2zm3 3zm4 3zm-31 3zm-3 2zm33 6zm-1 1zm0 6zm-5 3zm1 0zm-4 3zm-3 4zm-23 2zm19 2zm-16 1zm4 1zm14 0zm-16 3zm11 1zm-11 1zm4 0zm3 2zm-14 1zm-1 2zm1 0zm4 3zm-20 1zm10 3zm6 0zm12 0zm-8 1zm-25 1zm24 0zm1 0zm-29 2zm26 0zm-25 1zm5 0zm-4 1zm26 0zm2 1zm-4 1zm2 0zm1 0zm-28 1zm26 3zm2 0zm-44 4zm6 0zm3 0zm34 0zm-39 2zm37 0zm-45 1zm7 0zm37 2zm1 2zm-2 1zm-36 2zm37 0zm-40 3zm40 1zm-43 1zm36 1zm8 0zm-9 2zm6 0zm-9 2zm-28 1zm4 0zm-7 2zm14 4zm2 1zm-9 2zm11 0zm-110 5zm0 1z"/>
<path stroke="#0a32d2" d="M546.8 1348zm-14 14zm-3 4zm31 0zm-1 7zm-35 12zm21 1zm-1 1zm4 1zm-21 5zm2 0zm1 0zm13 2zm-10 1zm6 4zm-26 6zm5 1zm-8 1zm7 0zm13 4zm3 1zm-35 3zm3 1zm-4 3zm25 4zm1 2zm-32 1zm37 2zm-43 2zm4 4zm29 6zm3 0zm-9 6zm-19 1zm11 1zm-5 5z"/>
<path stroke="#0a3cd2" d="M540.8 1356zm-3 35zm-11 3zm-5 9zm-12 3zm8 0zm7 10zm-26 4zm29 1z"/>
<path stroke="#0a3cdc" d="M549.8 1347zm-6 1zm10 1zm-1 2zm11 2zm-30 7zm1 0zm27 2zm-2 1zm0 4zm-36 8zm34 1zm-32 2zm27 2zm-7 5zm6 0zm-22 4zm-3 4zm4 2zm3 0zm3 2zm5 1zm-3 3zm-27 1zm3 1zm-3 1zm5 1zm8 2zm-15 1zm11 0zm0 1zm4 2zm8 3zm-32 1zm21 0zm0 1zm6 0zm-4 4zm5 0zm-6 1zm-35 5zm39 1zm-45 1zm40 0zm-32 1zm-4 7zm-2 3zm5 1zm-3 1zm35 1zm-38 5zm13 2zm-2 1zm14 0zm-9 2zm-7 2zm7 0zm4 0zm-5 2z"/>
<path stroke="#0a46dc" d="M536.8 1357zm-9 12zm-3 2zm35 0zm-37 2zm4 6zm-3 1zm26 1zm-3 4zm1 0zm-22 2zm-3 1zm16 1zm-8 1zm-4 1zm12 4zm-8 4zm-14 1zm-1 5zm9 0zm4 2zm-22 7zm5 0zm14 1zm0 1zm-28 7zm23 0zm-26 2zm-10 1zm5 5zm32 5zm-36 4zm3 5zm10 5zm3 5zm0 2z"/>
<path stroke="#0a50dc" d="M538.8 1357zm19 0zm-31 16zm25 9zm-4 2zm-1 3zm-7 4zm-7 7zm5 1zm6 0zm-15 3zm-2 6zm-7 1zm-18 5zm2 2zm10 0zm4 1zm-23 7zm29 6zm-38 2zm32 7zm2 3zm-1 4zm-31 1zm12 4zm2 0zm1 1z"/>
<path stroke="#1414a0" d="M546.8 1335zm5 2zm2 0zm3 1zm3 0zm-9 1zm5 1zm-25 1zm12 0zm3 0zm8 0zm10 0zm1 0zm-24 1zm9 0zm8 0zm0 1zm3 0zm2 0zm-26 1zm28 0zm2 0zm-31 1zm29 0zm5 0zm-9 1zm4 0zm1 0zm-2 1zm5 0zm-33 1zm1 1zm25 0zm10 0zm-46 1zm10 1zm30 0zm2 0zm-39 1zm34 1zm5 0zm-38 1zm3 0zm37 0zm-44 1zm41 0zm3 0zm-44 1zm2 0zm43 0zm0 1zm-7 1zm-35 1zm-4 1zm43 0zm-2 1zm-44 1zm3 0zm45 0zm-44 1zm44 0zm1 0zm-55 1zm5 0zm2 1zm47 0zm-52 1zm4 0zm46 0zm2 0zm1 0zm1 0zm-57 1zm53 0zm2 1zm-53 1zm52 0zm1 0zm4 0zm-64 1zm5 0zm4 0zm49 0zm-50 1zm3 1zm-6 1zm4 0zm45 0zm2 0zm-49 1zm0 1zm51 0zm-55 2zm1 0zm48 0zm-49 1zm49 0zm4 0zm-51 1zm3 0zm46 0zm2 0zm-50 1zm49 0zm-52 1zm-1 1zm51 0zm1 0zm-52 1zm4 0zm-6 1zm1 0zm4 0zm40 0zm8 0zm-49 1zm2 0zm44 0zm-40 1zm1 0zm40 0zm-49 1zm5 0zm1 0zm1 0zm34 0zm7 0zm-49 1zm1 0zm8 0zm37 0zm3 0zm-54 1zm2 0zm45 0zm3 0zm1 0zm-42 1zm4 0zm36 0zm4 1zm2 0zm-53 1zm13 1zm-18 1zm3 0zm2 0zm-7 1zm53 0zm-45 1zm4 0zm43 0zm-44 1zm1 0zm3 0zm39 0zm2 0zm-54 1zm1 0zm4 0zm44 0zm-49 1zm2 0zm46 0zm2 0zm-52 1zm1 0zm46 0zm2 0zm2 0zm4 0zm-56 1zm5 0zm45 0zm2 0zm3 0zm7 0zm-66 1zm3 0zm1 0zm6 0zm-10 1zm4 0zm1 0zm42 0zm10 0zm-52 1zm3 0zm35 0zm7 0zm-45 1zm2 0zm3 0zm36 0zm12 1zm-53 1zm33 0zm9 0zm1 0zm1 0zm-8 1zm3 0zm6 0zm6 0zm1 0zm-64 1zm10 0zm47 0zm-59 1zm3 0zm9 0zm55 0zm-68 1zm8 0zm1 0zm3 0zm47 0zm3 0zm-13 1zm5 0zm3 0zm-53 1zm1 0zm3 0zm58 0zm-69 1zm2 0zm1 0zm4 0zm52 0zm-60 1zm2 0zm4 0zm55 0zm6 0zm-58 1zm49 0zm1 0zm6 0zm-62 1zm1 0zm-8 1zm11 0zm48 0zm-58 1zm4 0zm4 0zm47 0zm-48 1zm53 0zm1 0zm-60 1zm61 0zm-63 2zm63 0zm1 1zm-69 1zm1 0zm8 0zm51 0zm6 0zm-64 1zm59 0zm-2 2zm11 0zm-68 1zm1 0zm58 0zm0 1zm9 0zm-8 1zm0 1zm-57 1zm0 1zm-8 1zm4 0zm1 0zm4 0zm1 1zm51 0zm-61 1zm1 0zm-1 1zm-1 1zm3 0zm6 0zm2 0zm53 0zm-63 1zm7 0zm53 0zm1 0zm2 0zm-64 1zm2 0zm2 0zm6 0zm-8 1zm3 1zm1 0zm56 0zm-132 1zm11 0zm62 0zm7 0zm50 0zm4 0zm-128 1zm2 0zm62 0zm4 0zm3 0zm-91 1zm18 0zm2 0zm2 0zm64 0zm-106 1zm20 0zm2 0zm17 0zm11 0zm65 0zm48 0zm-123 1zm9 0zm61 0zm51 0zm1 0zm-142 1zm4 0zm91 0zm47 0zm1 0zm-143 1zm3 0zm1 0zm17 0zm65 0zm50 0zm2 0zm-122 1zm7 0zm4 0zm2 0zm56 0zm8 0zm43 0zm4 0zm-142 1zm10 0zm1 0zm4 0zm6 0zm2 0zm3 0zm3 0zm67 0zm36 0zm7 0zm-159 1zm4 0zm7 0zm2 0zm5 0zm3 0zm4 0zm23 0zm5 0zm2 0zm61 0zm36 0zm-150 1zm28 0zm5 0zm4 0zm8 0zm69 0zm39 0zm-156 1zm12 0zm9 0zm5 0zm1 0zm1 0zm1 0zm3 0zm3 0zm2 0zm9 0zm1 0zm76 0zm24 0zm1 0zm2 0zm-132 1zm9 0zm8 0zm5 0zm1 0zm107 0zm-144 1zm27 0zm9 0zm4 0zm2 0zm16 0zm70 0zm-130 1zm22 0zm19 0zm1 0zm6 0zm69 0zm13 0zm15 0zm-131 1zm1 0zm36 0zm66 0zm2 0zm5 0zm12 0zm-122 1zm1 0zm1 0zm28 0zm2 0zm67 0zm14 0zm2 0zm1 0zm-124 1zm1 0zm18 0zm39 0zm55 0zm8 0zm6 0zm2 0zm7 0zm-149 1zm25 0zm23 0zm28 0zm56 0zm5 0zm12 0zm-142 1zm1 0zm4 0zm8 0zm4 0zm7 0zm3 0zm13 0zm5 0zm77 0zm1 0zm10 0zm-130 1zm38 0zm3 0zm9 0zm72 0zm4 0zm10 0zm-128 1zm2 0zm3 0zm15 0zm26 0zm78 0zm3 0zm-132 1zm5 0zm5 0zm2 0zm3 0zm40 0zm80 0zm-135 1zm2 0zm4 0zm6 0zm10 0zm4 0zm7 0zm3 0zm93 0zm8 0zm-138 1zm3 0zm4 0zm13 0zm8 0zm1 0zm2 0zm7 0zm93 0zm4 0zm-129 1zm16 0zm1 0zm5 0zm3 0zm31 0zm-64 1zm1 0zm1 0zm2 0zm13 0zm10 0zm6 0zm13 0zm3 0zm7 0zm1 0zm-41 1zm20 0zm4 0zm2 0zm9 0zm-43 1zm6 0zm4 0zm4 0zm2 0zm17 0zm-20 1zm4 0zm3 0zm5 0zm7 0zm-29 1zm10 0zm1 0zm3 0zm2 0zm5 0zm20 0zm1 0zm-40 1zm11 0zm-12 1zm3 0zm6 0zm11 0zm5 0zm4 0zm-22 1zm3 0zm13 0zm2 0zm3 0zm-24 2zm2 0zm1 0zm-2 1zm5 0zm6 0zm-14 1zm-4 2zm25 2zm-26 1zm23 0zm-7 3zm-4 1zm-7 42zm6 0zm1 0zm3 0zm2 0zm1 0zm7 0z"/>
<path stroke="#141ea0" d="M550.8 1336zm-9 5zm10 2zm7 0zm-24 1zm35 4zm-42 1zm42 0zm-39 4zm40 2zm-3 6zm4 2zm4 10zm-68 14zm50 0zm4 4zm-46 1zm48 0zm-56 1zm0 3zm47 4zm-1 5zm-66 3zm8 1zm45 10zm-1 5zm-65 3zm63 2zm-67 6zm-67 8zm-15 1zm7 1zm76 4zm-100 1zm44 0zm8 1zm45 1zm-104 3zm153 0zm-153 2zm46 0zm7 1zm93 2zm-27 1zm-118 1zm55 1zm-6 1zm71 0zm-52 2zm66 0zm-136 1zm122 0zm19 0zm-89 2zm-33 5zm2 1zm20 1zm-26 1zm2 0zm4 0zm22 1zm2 1zm-21 1zm0 1zm-6 8zm-14 43zm1 0zm16 0z"/>
<path stroke="#1450dc" d="M549.8 1348zm8 7zm-23 8zm-7 4zm-1 9zm10 17zm1 2zm0 3zm-10 2zm-11 1zm-4 3zm-1 2zm1 3zm7 6zm10 0zm-31 7zm21 4zm-26 1zm25 10zm-26 11z"/>
<path stroke="#145adc" d="M546.8 1349zm-4 1zm-8 11zm24 3zm-29 3zm-5 2zm1 10zm27 0zm-28 4zm6 3zm1 3zm3 6zm-12 8zm-2 2zm-8 1zm9 5zm4 1zm-1 12zm-28 1zm24 0zm-37 4zm40 0zm-4 3zm-31 2zm2 1zm-4 6zm2 2zm6 5z"/>
<path stroke="#1464dc" d="M537.8 1357zm19 19zm-33 59zm-4 9z"/>
<path stroke="#1464e6" d="M544.8 1347zm-3 2zm-2 4zm-7 10zm-2 2zm-4 6zm27 8zm-25 3zm0 2zm-2 1zm13 2zm-1 4zm-16 15zm-5 6zm-5 5zm-13 1zm18 4zm9 0zm-43 1zm38 0zm3 2zm0 4zm-38 2zm32 2zm-32 1zm34 6zm-5 4zm-8 5zm-11 2z"/>
<path stroke="#146ee6" d="M560.8 1358zm-2 1zm1 5zm1 4zm-3 3zm1 0zm-33 2zm29 5zm-29 2zm0 2zm9 6zm8 1zm-15 1zm2 0zm7 5zm-14 9zm-6 2zm11 0zm-21 7zm7 1zm-9 3zm15 0zm-4 3zm-2 3zm6 0zm-29 4zm30 4zm-4 3zm-30 1zm5 0zm-1 10zm2 1zm17 3z"/>
<path stroke="#1478e6" d="M543.8 1350zm13 5zm-17 1zm-6 6zm2 3zm21 6zm-1 7zm-9 4zm-19 2zm2 2zm13 2zm-21 12zm-7 1zm5 5zm0 1zm3 0zm-9 1zm9 0zm-13 3zm3 3zm-5 1zm8 0zm-1 2zm-17 2zm21 1zm-22 3zm3 0zm16 0zm-4 2zm8 0zm-21 1zm18 0zm5 7zm-4 10zm-23 4zm16 0zm-2 1z"/>
<path stroke="#1482e6" d="M540.8 1355zm17 4zm1 8zm-24 19zm-7 1zm11 5zm-14 11zm-12 10zm4 2zm-14 1zm-2 1zm19 11zm-28 1z"/>
<path stroke="#1482f0" d="M552.8 1350zm6 10zm-26 8zm26 2zm-14 13zm-16 4zm5 6zm2 3zm-19 7zm3 1zm-9 1zm11 0zm-3 1zm2 1zm-6 1zm-1 1zm3 0zm-7 7zm-2 3zm12 3zm-25 10zm-4 7zm23 1zm-24 2zm23 2zm-10 5zm2 1z"/>
<path stroke="#148ce6" d="M545.8 1349zm2 0zm7 1zm-19 7zm24 19zm-32 1zm22 5zm-5 3zm-7 3zm-11 14zm-11 12zm3 2zm-10 1zm-7 1zm10 0zm-9 4zm16 0zm3 3zm-4 1zm-23 1zm22 0zm3 0zm0 2zm-2 8zm-1 3zm-24 1zm22 0zm0 1zm-24 2zm15 3zm-5 4z"/>
<path stroke="#148cf0" d="M551.8 1376zm-17 20zm-9 7zm-11 2zm1 6zm-14 5zm14 1zm-1 2zm0 8zm7 5zm-30 2zm27 0zm-2 1zm-23 12z"/>
<path stroke="#1496e6" d="M536.8 1363zm21 2zm-22 1zm-5 1zm24 9zm-12 9zm-3 1zm-28 17zm8 2zm-1 6zm-2 7zm0 3zm-20 3zm21 6zm-4 5zm1 4zm-24 1zm3 6zm11 2zm-5 1z"/>
<path stroke="#1e1ea0" d="M546.8 1327zm15 5zm-27 3zm14 0zm1 1zm10 0zm-26 1zm8 0zm-3 1zm26 0zm-15 1zm-15 1zm23 0zm-30 1zm8 0zm17 0zm-6 1zm-8 1zm28 2zm-32 1zm1 0zm-5 2zm1 0zm36 1zm3 0zm6 0zm-50 1zm43 0zm-51 4zm7 0zm47 0zm-50 1zm0 1zm1 0zm0 3zm49 0zm-4 1zm-50 4zm-4 1zm4 1zm-1 2zm53 0zm4 0zm-3 1zm1 0zm-1 1zm-56 1zm3 0zm49 1zm-55 4zm3 0zm-8 1zm1 0zm59 0zm-1 3zm-5 2zm-50 4zm53 0zm1 0zm-1 1zm0 1zm-62 1zm9 0zm54 1zm-67 1zm5 0zm2 0zm59 0zm1 0zm-11 1zm-46 1zm49 0zm1 0zm-60 1zm55 2zm7 0zm-69 3zm6 1zm6 1zm56 0zm-72 2zm5 0zm57 0zm6 0zm7 0zm-6 1zm-65 1zm58 3zm5 1zm-69 1zm64 0zm-66 1zm7 0zm-3 1zm63 0zm2 0zm0 1zm-78 1zm-9 2zm83 0zm-4 1zm1 0zm-74 2zm67 2zm10 0zm9 0zm-9 1zm-83 3zm71 0zm6 0zm3 0zm3 0zm-7 1zm2 0zm1 0zm4 0zm-86 1zm80 0zm-10 1zm2 1zm7 0zm-75 1zm79 0zm2 1zm-3 1zm5 0zm-8 2zm-72 2zm-7 1zm81 0zm-127 3zm-46 1zm92 0zm-80 1zm12 0zm5 0zm-36 1zm37 0zm13 0zm45 0zm88 0zm-164 1zm-9 1zm17 0zm6 0zm3 0zm4 0zm64 0zm63 0zm-118 1zm5 0zm-56 1zm11 0zm6 0zm14 0zm6 0zm26 0zm46 0zm-95 1zm11 0zm15 0zm132 0zm-156 1zm1 0zm8 0zm18 0zm12 0zm2 0zm2 0zm-63 1zm20 0zm5 0zm11 0zm5 0zm20 0zm38 0zm10 0zm-87 1zm5 0zm147 0zm-125 1zm60 0zm8 0zm53 0zm2 0zm-151 1zm3 0zm31 0zm10 0zm-49 1zm42 0zm11 0zm45 0zm-112 1zm16 0zm89 0zm5 0zm6 0zm6 0zm4 0zm39 0zm8 0zm-174 1zm2 0zm53 0zm10 0zm49 0zm2 0zm2 0zm40 0zm-107 1zm12 0zm4 0zm50 0zm6 0zm2 0zm28 0zm-152 1zm5 0zm2 0zm4 0zm3 0zm36 0zm13 0zm4 0zm-55 1zm4 0zm143 0zm-152 1zm56 0zm50 0zm5 0zm-103 1zm139 0zm-94 1zm9 0zm31 0zm-54 1zm4 0zm12 0zm62 0zm6 0zm-126 1zm61 0zm6 0zm61 0zm33 0zm-119 1zm9 0zm75 0zm19 0zm-137 1zm-7 1zm113 0zm9 0zm11 0zm-134 1zm10 0zm3 0zm148 0zm-147 1zm31 0zm1 0zm7 0zm8 0zm5 0zm57 0zm13 0zm-107 1zm24 0zm43 0zm26 0zm-74 1zm-45 1zm40 0zm10 0zm4 0zm32 0zm-88 1zm9 0zm35 0zm17 0zm3 0zm-68 1zm10 0zm29 0zm2 0zm23 0zm10 0zm-68 1zm26 0zm13 0zm9 0zm-40 2zm15 0zm-3 1zm14 0zm3 0zm-24 1zm31 0zm0 1zm2 0zm-43 1zm7 0zm12 0zm-16 1zm2 0zm8 0zm7 0zm5 0zm2 0zm-25 1zm3 0zm3 0zm12 0zm10 0zm2 0zm-27 1zm6 0zm23 0zm5 0zm-29 1zm3 0zm16 0zm-20 1zm-2 2zm1 1zm3 0zm2 0zm-8 1zm22 1zm-8 2zm23 0zm-30 2zm10 2zm-18 5zm13 2zm-22 28zm5 0zm6 0zm4 0zm6 0zm10 0zm1 0zm1 0zm6 0zm8 0z"/>
<path stroke="#1e96e6" d="M548.8 1348zm-4 2zm12 3zm-21 7zm-1 4zm-5 6zm11 21zm1 0zm-43 32zm20 5zm-24 1zm19 3z"/>
<path stroke="#1ea0e6" d="M550.8 1349zm-7 3zm-6 7zm-9 8zm28 0zm-28 7zm26 1zm-1 2zm-25 4zm18 0zm2 0zm-1 1zm-19 1zm-2 3zm10 4zm-21 19zm-2 1zm5 4zm-4 2zm3 2zm-2 1zm-16 3zm1 2zm11 0zm6 1zm-20 2zm-3 1zm1 2zm-3 1zm-2 1zm1 1zm24 3zm-1 1zm-1 1zm-24 2zm3 3zm8 6z"/>
<path stroke="#1eaae6" d="M538.8 1359zm19 8zm-2 5zm-29 2zm0 1zm20 4zm1 0zm-9 8zm-31 34zm-6 1zm10 1zm-8 1zm11 1zm1 0zm-18 1zm14 0zm7 1zm-3 4zm-2 3zm4 1zm-26 7zm4 3zm0 1zm3 1z"/>
<path stroke="#1eb4e6" d="M550.8 1350zm-7 5zm13 3zm1 6zm-2 2zm0 1zm1 1zm-28 3zm26 0zm3 2zm-28 2zm-3 2zm26 0zm-25 1zm18 1zm-6 9zm-37 30zm7 1zm5 1zm4 1zm-23 7zm5 2zm-8 4zm19 5zm-11 7zm1 0z"/>
<path stroke="#1ebee6" d="M552.8 1352zm-20 15zm-1 2zm-1 3zm0 10zm-16 36zm-1 1zm-4 8zm-14 2zm21 1z"/>
<path stroke="#2828a0" d="M560.8 1329zm17 5zm-39 1zm11 0zm11 0zm-14 3zm0 1zm5 1zm10 0zm13 0zm2 0zm-50 1zm55 6zm2 1zm-55 2zm-6 1zm50 0zm6 0zm-48 1zm-24 3zm10 11zm-10 1zm2 0zm59 2zm-62 3zm1 0zm75 1zm-77 8zm4 0zm58 0zm-1 6zm-58 1zm-1 2zm58 0zm-3 5zm-2 2zm8 0zm-71 2zm70 2zm-9 1zm-73 1zm71 1zm-66 1zm59 2zm10 0zm-76 1zm71 0zm-83 2zm12 1zm81 1zm-15 1zm15 2zm-92 3zm107 0zm-26 1zm10 6zm-3 2zm-92 1zm1 0zm97 1zm-29 4zm0 1zm-73 3zm70 0zm-142 1zm21 1zm49 1zm-51 1zm-29 1zm35 0zm1 0zm117 0zm-137 1zm142 0zm-169 1zm36 0zm52 0zm-82 1zm39 0zm29 0zm-73 1zm54 0zm39 1zm66 0zm-111 1zm5 0zm41 0zm72 0zm-124 1zm59 0zm-103 1zm39 0zm2 0zm53 0zm-103 2zm23 0zm-20 1zm5 0zm99 0zm56 0zm26 0zm-187 1zm107 0zm60 0zm-172 1zm169 1zm-104 1zm47 0zm47 0zm3 0zm-144 3zm49 0zm95 0zm-46 1zm3 0zm-127 2zm65 0zm1 0zm2 0zm52 0zm15 0zm-126 1zm59 1zm67 0zm7 0zm30 0zm-161 1zm58 0zm11 0zm-53 1zm46 0zm-69 1zm2 0zm137 0zm12 0zm-166 1zm32 0zm6 0zm120 1zm-82 1zm-51 1zm4 1zm110 1zm15 0zm-64 1zm-10 2zm2 0zm6 0zm-49 2zm34 0zm1 0zm33 0zm-76 1zm27 0zm20 1zm-9 1zm8 0zm2 0zm5 0zm-15 1zm7 0zm-33 1zm-3 1zm13 1zm9 0zm-29 2zm25 0zm81 0zm-67 1zm-22 2zm2 0zm20 0zm-15 1zm15 2zm-18 2zm2 1zm20 0zm-6 1zm-45 9zm-1 25zm21 0zm5 0zm27 0z"/>
<path stroke="#2828aa" d="M575.8 1308zm-21 10zm-19 11zm16 0zm8 1zm-8 5zm21 0zm6 1zm-23 1zm9 0zm8 1zm-37 1zm9 1zm-23 3zm52 0zm7 8zm-79 2zm74 3zm-65 4zm-4 8zm65 6zm-2 3zm4 6zm6 2zm-78 3zm-13 6zm5 5zm62 8zm-79 7zm4 0zm62 2zm18 0zm-88 8zm-7 5zm3 1zm-2 1zm-93 5zm92 0zm-9 3zm5 0zm-86 2zm169 1zm-165 1zm81 0zm-67 1zm68 1zm-95 1zm31 2zm-6 1zm72 0zm81 1zm-193 1zm119 0zm-13 1zm7 0zm-95 1zm57 0zm7 3zm-64 1zm51 0zm8 2zm90 1zm-89 2zm-3 2zm53 0zm-113 1zm110 1zm-48 2zm60 0zm28 0zm-9 3zm-153 1zm-7 1zm26 1zm0 1zm-9 1zm52 1zm74 0zm-123 1zm30 0zm18 5zm-44 3zm47 3zm-71 2zm7 2zm52 1zm-44 1zm26 0zm24 1zm-28 2zm18 0zm-44 34zm13 0zm7 0zm4 0zm24 0zm6 0zm28 0z"/>
<path stroke="#28bee6" d="M551.8 1350zm-6 3zm11 6zm-26 17zm19 0zm-4 1zm-3 5zm0 2zm-6 2zm9 1zm-42 30zm-2 2zm2 2zm3 2zm8 1zm-10 3zm9 2zm2 1zm-4 1zm-16 5zm17 0zm3 2zm-2 1zm-2 2zm-10 2zm3 2zm8 1z"/>
<path stroke="#28c8e6" d="M549.8 1351zm1 0zm-10 6zm-3 4zm-3 10zm17 4zm-20 7zm-3 4zm6 1zm-24 39zm-8 1zm6 0zm-4 4zm6 1zm-6 1zm10 0zm1 0zm-5 3zm-19 1zm2 1zm17 1zm-16 4zm4 5z"/>
<path stroke="#28d2a0" d="M547.8 1354zm-5 5zm11 1zm-11 21zm-4 3zm-33 36zm3 3zm-8 5zm7 0zm2 3zm-14 1zm4 0zm-1 1zm1 1zm1 1zm2 0zm-1 1zm-1 7z"/>
<path stroke="#28d2aa" d="M546.8 1352zm-5 7zm-4 5zm16 7zm-3 3zm2 0zm-8 4zm-2 2zm-34 49zm-9 1zm14 1zm-19 8zm1 2zm3 1zm-2 1z"/>
<path stroke="#28d2b4" d="M546.8 1353zm7 1zm-11 1zm13 5zm-25 15zm2 5zm9 3zm-37 37zm3 0zm-1 5zm-5 3zm-3 6zm8 0zm2 0zm-9 7zm-1 3zm5 0z"/>
<path stroke="#28d2be" d="M544.8 1356zm-4 4zm17 3zm-4 12zm-22 3zm12 2zm-7 5zm-32 36zm-3 3zm-1 3zm15 8zm-22 4z"/>
<path stroke="#28d2c8" d="M553.8 1353zm-10 3zm12 2zm-18 5zm-3 9zm1 0zm-2 1zm14 5zm-13 7zm4 0zm-26 39zm-13 3zm7 1zm-9 1zm-6 3zm17 0zm-13 5zm-3 1zm3 0zm7 6zm7 0z"/>
<path stroke="#28d2d2" d="M548.8 1352zm-21 21zm27 1zm-22 9zm-25 39zm1 0zm6 7zm-5 1zm-8 3zm8 0zm-13 5zm14 3zm0 1z"/>
<path stroke="#28d2dc" d="M555.8 1359zm0 12zm-22 3zm20 0zm2 2zm-28 4zm4 3zm10 1zm-40 37zm6 2zm-7 3zm13 0zm-4 9zm0 4zm-15 2zm16 3zm-13 1zm6 0zm1 1z"/>
<path stroke="#28d2e6" d="M543.8 1354zm14 7zm-20 1zm-4 7zm22 0zm-27 4zm12 7zm-4 4zm4 0zm-32 32zm2 0zm2 3zm-6 1zm-4 5zm11 2zm-15 1zm9 1zm9 2zm-13 2zm-2 2zm13 0zm-1 1zm-19 4zm18 1zm-4 2zm5 0zm-14 2zm10 0zm-1 1z"/>
<path stroke="#3232aa" d="M562.8 1318zm-11 5zm-2 3zm-1 2zm12 2zm-27 1zm11 2zm13 1zm21 0zm-15 1zm-27 1zm27 1zm10 0zm-73 2zm25 6zm48 1zm-54 1zm8 0zm55 6zm1 0zm-4 2zm-80 1zm9 1zm73 0zm-62 1zm58 1zm-4 2zm8 0zm8 1zm-8 1zm-72 4zm74 0zm-79 2zm1 0zm-47 2zm118 0zm-72 1zm6 2zm-9 5zm3 1zm-12 2zm10 1zm-17 1zm13 0zm75 1zm-2 1zm-76 5zm1 5zm65 3zm-78 1zm6 2zm2 2zm-6 3zm1 0zm-18 2zm19 0zm-14 1zm81 4zm-97 1zm94 2zm-78 1zm86 0zm7 0zm-16 1zm-1 3zm3 2zm-3 1zm8 0zm-98 1zm91 0zm10 0zm-112 1zm20 0zm2 0zm94 0zm1 1zm-4 1zm-216 1zm84 1zm19 0zm91 0zm8 1zm-152 1zm10 0zm63 0zm-9 1zm8 0zm-70 1zm146 0zm-200 2zm102 0zm111 2zm-208 1zm36 0zm19 0zm9 0zm129 0zm4 0zm-184 1zm30 1zm147 0zm-168 1zm39 0zm50 0zm81 0zm-177 1zm9 0zm11 0zm50 0zm104 0zm12 3zm-189 1zm63 1zm33 0zm-26 1zm-33 1zm51 1zm83 0zm-161 1zm87 1zm72 1zm-8 1zm-172 1zm172 0zm-174 1zm86 0zm3 0zm75 0zm-85 1zm96 0zm-90 1zm3 0zm31 0zm-115 1zm108 0zm6 0zm49 0zm-74 1zm-81 2zm54 0zm-84 1zm34 0zm65 0zm83 0zm3 0zm-185 1zm136 0zm19 0zm-5 2zm-38 2zm-2 1zm73 0zm-88 1zm4 0zm52 0zm15 0zm7 0zm6 0zm3 0zm-78 1zm75 0zm9 0zm-72 2zm-17 1zm-68 1zm52 0zm91 1zm3 0zm8 1zm-34 1zm-110 1zm24 0zm-4 1zm13 0zm74 0zm-110 1zm51 1zm-95 1zm80 1zm17 0zm90 0zm-129 2zm57 0zm26 0zm-74 1zm49 0zm-53 2zm13 0zm-27 1zm11 1zm18 0zm63 0zm-85 1zm8 1zm3 0zm12 1zm52 1zm-76 1zm9 0zm24 0zm-21 1zm-23 2zm6 2zm-26 2zm55 0zm2 0zm-55 1zm21 3zm-34 23zm15 0zm23 0zm20 0zm4 0zm3 0zm6 0zm3 0zm12 0zm11 0z"/>
<path stroke="#32d26e" d="M547.8 1355zm-2 20zm-2 2z"/>
<path stroke="#32d278" d="M540.8 1363zm14 1zm0 5zm-2 7zm-9 2zm-13 1zm2 3zm5 0zm-3 2zm-21 41zm-11 7zm-6 1zm14 1zm-4 1zm-10 1zm6 0zm4 0zm-4 1zm5 0zm-2 7z"/>
<path stroke="#32d282" d="M553.8 1356zm2 5zm1 2zm-19 3zm-2 5zm15 2zm-18 2zm4 6zm5 1zm-4 2zm-39 46zm12 0zm-9 1zm5 1zm-6 4zm-1 1zm8 5z"/>
<path stroke="#32d28c" d="M542.8 1357zm-3 6zm-3 11zm-5 5zm0 1zm10 0zm-6 4zm-35 39zm4 0zm-4 10zm5 0zm-5 1zm-6 2zm10 0zm-8 3zm2 0zm6 2zm-5 1zm1 0z"/>
<path stroke="#32d296" d="M551.8 1353zm1 1zm2 5zm2 3zm-18 1zm-7 13zm15 1zm-2 2zm-15 4zm-18 36zm-6 8zm1 2zm6 3zm-3 6zm-7 2z"/>
<path stroke="#32d2a0" d="M541.8 1360zm-2 18zm-30 44zm-3 4zm-8 6z"/>
<path stroke="#32dc64" d="M541.8 1361zm15 0zm-17 5zm10 6zm-12 1zm10 0zm6 0zm-19 3zm6 3zm-1 1zm-1 1zm-1 2zm-32 39zm8 11zm-7 4zm-7 3zm2 0zm5 1zm1 3z"/>
<path stroke="#32dc6e" d="M548.8 1353zm-4 2zm-8 15zm16 3zm-20 1zm12 2zm-2 3zm-4 4zm-35 43zm1 2zm1 3zm0 3zm-10 1z"/>
<path stroke="#3c3caa" d="M580.8 1319zm-27 1zm12 1zm7 1zm8 1zm-50 1zm18 1zm13 3zm9 4zm8 0zm-38 2zm39 1zm-2 6zm2 2zm5 2zm-6 1zm-66 2zm3 0zm9 0zm57 0zm2 1zm-8 2zm-59 5zm-9 1zm-6 1zm9 4zm-13 9zm7 4zm70 0zm4 0zm-79 2zm81 0zm-77 2zm-5 9zm78 3zm-80 2zm71 5zm-76 3zm76 0zm-108 3zm14 0zm-7 3zm118 0zm-118 3zm10 3zm-16 2zm112 0zm-8 5zm-96 2zm82 0zm-95 7zm2 0zm98 1zm13 0zm-220 2zm32 0zm32 0zm160 0zm-242 1zm70 0zm50 0zm99 0zm-180 1zm18 0zm35 0zm-48 1zm-33 1zm85 1zm-23 1zm145 0zm-183 2zm1 0zm12 0zm-30 1zm90 0zm-36 1zm46 0zm-64 1zm164 0zm-8 1zm14 0zm-208 4zm-15 2zm121 2zm-9 1zm4 2zm-100 2zm179 0zm-79 1zm84 2zm-94 5zm27 0zm-121 1zm0 1zm1 0zm112 0zm-108 1zm92 0zm-101 2zm170 0zm4 0zm7 0zm-164 1zm113 1zm34 0zm-28 1zm11 0zm-130 1zm160 0zm-169 1zm147 0zm-5 1zm-153 2zm29 1zm69 0zm-73 1zm88 0zm-13 1zm-18 1zm76 0zm-46 2zm-23 1zm-3 1zm-25 2zm14 0zm8 0zm-68 1zm122 0zm-94 2zm35 0zm-61 1zm74 0zm2 0zm-19 1zm-5 2zm13 0zm-49 1zm67 0zm-53 2zm22 0zm-46 1zm5 0zm51 1zm-35 5zm5 1zm-1 1zm17 3zm8 1zm-22 2zm22 1zm-50 18zm4 0zm2 0zm12 0zm43 0zm1 0zm5 0zm6 0z"/>
<path stroke="#3c3cb4" d="M566.8 1306zm-34 8zm50 1zm-48 10zm5 0zm-15 3zm14 0zm-16 6zm20 0zm46 1zm-80 6zm16 0zm64 5zm-92 4zm19 2zm-4 2zm77 7zm-101 9zm9 1zm80 13zm-114 10zm25 0zm83 12zm-99 9zm86 1zm-174 3zm181 0zm-156 4zm50 1zm-78 2zm26 0zm-65 3zm217 0zm-176 2zm21 0zm14 2zm23 0zm-87 1zm2 3zm-17 2zm55 0zm25 0zm20 3zm-89 3zm-4 1zm10 0zm78 0zm142 0zm-24 2zm-216 1zm13 1zm83 2zm120 1zm-96 1zm82 1zm37 2zm-235 1zm0 2zm-5 1zm112 0zm3 2zm-2 1zm68 0zm26 0zm-187 6zm-15 1zm116 0zm-102 2zm126 1zm7 0zm-65 3zm81 0zm-31 1zm-130 2zm52 0zm37 3zm76 0zm-88 3zm15 2zm-75 4zm75 1zm6 1zm-8 1zm-56 2zm-14 1zm36 0zm-34 2zm59 3zm-37 2zm-8 2zm34 5zm-71 20zm1 0zm2 0zm11 0zm63 0zm6 0z"/>
<path stroke="#3cdc5a" d="M551.8 1356zm1 0zm-3 18zm-9 3zm-8 2zm-18 52zm-11 1zm-6 8zm1 1z"/>
<path stroke="#3cdc64" d="M544.8 1357zm0 1zm-2 2zm-2 2zm11 11zm-18 2zm3 8zm-35 49zm2 2zm5 6z"/>
<path stroke="#46dc5a" d="M544.8 1354zm8 1zm-14 12zm-2 2zm1 0zm0 2zm11 0zm-4 2zm-12 3zm1 1zm-31 61zm9 0zm-5 1zm0 4z"/>
<path stroke="#50dc50" d="M552.8 1357zm-13 7zm14 0zm-16 11zm-3 2zm7 2zm-38 48zm-4 8zm-1 3zm3 1zm2 1z"/>
<path stroke="#50dc5a" d="M537.8 1379zm-32 61zm4 0z"/>
<path stroke="#5adc50" d="M548.8 1355zm-2 19zm-5 1zm-3 4zm5 0zm-7 3zm-32 55zm4 1z"/>
<path stroke="#64dc46" d="M549.8 1356zm2 3zm0 9zm-3 6zm-13 3zm3 5zm-31 58z"/>
<path stroke="#64dc50" d="M535.8 1374zm7 2zm-40 58z"/>
<path stroke="#6edc46" d="M553.8 1361zm-2 10zm1 0zm-9 4zm-10 1zm-1 5zm8 0zm-32 58zm-4 1zm1 2z"/>
<path stroke="#78dc3c" d="M549.8 1354zm2 4zm2 0zm-13 9zm11 0zm-14 1zm14 1zm-8 4zm-8 6zm0 3zm-1 1z"/>
<path stroke="#82dc3c" d="M552.8 1358zm-10 3zm12 1zm-14 3zm12 0zm1 0zm-1 4zm-13 5zm-7 3zm6 0zm3 1zm-7 1z"/>
<path stroke="#8cdc32" d="M550.8 1356zm-4 1zm6 9zm-12 5zm5 2zm1 0zm-2 2zm-5 6z"/>
<path stroke="#96dc28" d="M547.8 1356zm-9 14zm12 0zm-12 3z"/>
<path stroke="#96dc32" d="M541.8 1363zm2 9z"/>
<path stroke="#a0dc28" d="M540.8 1366zm11 0zm-13 2zm2 7zm-7 3z"/>
<path stroke="#aadc28" d="M542.8 1364zm11 8zm-11 3zm-4 5z"/>
<path stroke="#b4dc1e" d="M536.8 1378z"/>
<path stroke="#b4dc28" d="M550.8 1357zm-9 5zm10 1zm1 4zm-11 2zm-4 8z"/>
<path stroke="#bedc1e" d="M543.8 1361zm3 10zm-3 3z"/>
<path stroke="#c8dc1e" d="M552.8 1364zm-3 3zm3 3zm-14 1z"/>
<path stroke="#d2dc1e" d="M549.8 1358zm-4 2zm-1 2zm-4 2zm7 0zm-3 1zm2 5zm-2 2zm1 0z"/>
<path stroke="#dcdc14" d="M541.8 1368z"/>
<path stroke="#dcdc1e" d="M546.8 1360zm4 1zm-7 2zm3 3zm-1 3zm-5 1zm3 1z"/>
<path stroke="#e61e00" d="M544.8 1364z"/>
<path stroke="#e6dc14" d="M551.8 1360zm1 0zm-1 2zm-10 2zm0 3zm4 1zm4 1zm-1 1zm-6 1z"/>
<path stroke="#f03200" d="M549.8 1362z"/>
<path stroke="#f05000" d="M545.8 1363z"/>
<path stroke="#f06400" d="M548.8 1362z"/>
<path stroke="#f0be14" d="M546.8 1369z"/>
<path stroke="#f0c814" d="M543.8 1370z"/>
<path stroke="#f0d214" d="M550.8 1359zm-4 8zm2 2zm-7 1zm5 2z"/>
<path stroke="#f0dc14" d="M550.8 1366zm-7 1zm7 0zm-8 2zm8 0zm-13 5zm4 0z"/>
<path stroke="#fa6e00" d="M544.8 1363z"/>
<path stroke="#fa8200" d="M546.8 1364z"/>
<path stroke="#fa8c00" d="M551.8 1365z"/>
<path stroke="#fa960a" d="M548.8 1361zm2 4zm-6 2z"/>
<path stroke="#faa00a" d="M545.8 1361zm2 0zm-3 5zm0 3z"/>
<path stroke="#faaa0a" d="M549.8 1361zm-2 5zm-2 4z"/>
<path stroke="#fab40a" d="M549.8 1359zm-1 1zm2 3zm-7 2zm0 3zm3 0zm-1 3z"/>
<path stroke="#fabe0a" d="M551.8 1361zm-5 1zm0 3zm4 3z"/>
<path stroke="#ff8c00" d="M549.8 1363z"/>
<path stroke="#0a14a0" d="M845.3 1344zm2 1zm4 0zm-2 1zm-6 1zm-10 1zm3 0zm-3 4zm-5 1zm-10 11zm-1 1zm43 2zm-44 3zm42 1zm-42 2zm42 1zm2 0zm-45 4zm45 2zm-14 3zm11 0zm-45 1zm2 0zm35 0zm2 1zm-42 3zm3 0zm34 0zm5 0zm2 1zm-41 1zm38 0zm-42 4zm2 1zm-1 1zm33 0zm-4 6zm-40 2zm46 0zm2 0zm-48 1zm44 0zm3 0zm-3 2zm-50 1zm-3 2zm41 2zm2 0zm5 0zm-55 1zm-3 1zm53 1zm-3 1zm2 0zm3 2zm-7 2zm-55 3zm61 0zm1 0zm-7 2zm-1 2zm-57 3zm-2 3zm-4 1zm-1 3zm0 2zm5 0zm3 2zm51 0zm1 1zm2 1zm-64 4zm60 0zm-71 1zm3 0zm4 1zm57 0zm-136 1zm79 0zm5 0zm2 0zm-12 1zm-74 1zm6 0zm-1 1zm119 0zm2 0zm6 0zm-57 2zm13 0zm46 0zm-130 2zm9 0zm7 0zm65 0zm5 0zm32 0zm-102 1zm104 0zm-130 1zm29 0zm64 1zm5 0zm-100 1zm7 1zm103 0zm1 0zm2 0zm-111 1zm2 0zm2 0zm12 0zm85 0zm11 0zm-103 1zm7 0zm85 0zm13 0zm-105 1zm-17 1zm21 0zm14 0zm93 0zm1 0zm1 0zm-124 1zm2 1zm25 0zm2 0zm97 0zm-102 3zm1 0zm-6 1zm2 3z"/>
<path stroke="#0a14aa" d="M838.3 1347zm6 0zm0 1zm5 0zm-12 1zm-3 2zm3 0zm17 0zm-26 1zm2 1zm27 0zm0 3zm-34 2zm32 0zm-30 1zm-7 3zm-1 9zm-3 1zm41 5zm8 0zm-15 6zm5 0zm-39 2zm41 1zm-43 1zm38 1zm5 1zm-2 1zm-39 2zm36 0zm-3 4zm2 0zm-38 1zm-3 1zm33 1zm-35 4zm32 0zm-33 1zm-4 3zm2 0zm26 1zm-36 1zm31 0zm9 1zm-9 1zm6 0zm10 0zm-4 1zm-46 1zm-8 1zm42 0zm1 1zm1 1zm1 0zm-46 1zm13 0zm-18 5zm54 0zm2 2zm-4 2zm-60 1zm64 1zm-57 2zm-6 1zm60 3zm-62 1zm4 0zm56 0zm-63 4zm5 1zm-2 1zm2 0zm53 0zm-53 2zm-1 1zm52 0zm-56 1zm52 0zm-46 2zm0 1zm-97 3zm81 0zm8 0zm-6 1zm7 0zm-86 1zm76 0zm7 0zm3 0zm29 0zm7 0zm-42 1zm13 0zm2 0zm26 0zm-38 1zm6 0zm-2 1zm1 0zm-99 1zm7 1zm13 0zm14 0zm90 0zm13 0zm-43 1zm12 0zm8 0zm-9 1zm2 0zm7 0zm10 0zm5 0zm-28 1zm4 0zm-94 1zm25 0zm90 0zm-93 1zm85 0zm-85 1zm101 1zm-127 1zm1 1zm123 0zm-112 4zm5 0z"/>
<path stroke="#0a14b4" d="M846.3 1347zm-1 1zm-13 2zm17 0zm7 5zm-31 2zm35 6zm2 13zm-46 2zm40 0zm-2 1zm-1 1zm4 1zm-6 3zm-2 2zm0 14zm-47 1zm45 0zm-38 1zm34 0zm-35 1zm-9 1zm37 0zm-34 1zm8 0zm11 1zm8 1zm-6 1zm8 0zm-30 1zm5 0zm24 0zm-24 1zm26 1zm1 0zm-27 1zm-10 1zm46 0zm-57 1zm2 0zm-7 2zm3 0zm-2 2zm7 1zm42 2zm-45 1zm46 1zm2 3zm-57 2zm1 1zm51 1zm1 1zm-5 1zm4 0zm2 1zm-57 1zm48 1zm-50 1zm53 0zm-55 1zm56 0zm-60 1zm4 1zm-3 1zm1 0zm-2 1zm-1 1zm6 2zm-2 2zm-10 1zm14 0zm-19 1zm1 0zm15 0zm-15 1zm1 1zm43 0zm-41 1zm48 3zm-38 1zm32 0zm2 0zm8 0zm-48 2zm9 0zm4 0zm6 0zm-11 1zm14 0zm-1 1zm10 0zm1 0zm-19 1zm13 0zm-124 1zm8 1zm3 0zm109 0zm8 0zm3 0zm3 0zm-105 1zm6 4zm-20 1zm4 0zm3 0zm-1 2zm7 0zm6 0zm-9 1zm3 5z"/>
<path stroke="#0a1eb4" d="M823.3 1361zm-2 2zm0 3zm-3 9zm39 0zm0 3zm-11 7zm2 2zm-1 1zm-3 6zm-37 9zm-8 3zm28 11zm3 0zm-44 3zm1 0zm39 0zm2 11zm-7 6zm-49 5zm-17 6zm-2 3zm14 0zm41 0zm-14 2zm10 0zm7 0zm-43 1zm28 3zm-26 1zm-98 3zm121 2zm-107 6z"/>
<path stroke="#0a1ebe" d="M836.3 1350zm3 0zm13 1zm1 2zm-21 2zm-5 1zm-3 6zm35 1zm-37 1zm-4 2zm38 5zm-42 2zm3 4zm32 2zm1 2zm-36 5zm2 0zm34 3zm-2 1zm-35 1zm34 0zm-35 3zm3 2zm-5 1zm1 1zm23 1zm5 0zm5 0zm-11 1zm6 0zm-31 2zm32 0zm1 0zm1 0zm-33 1zm25 0zm0 2zm-22 1zm22 1zm-32 1zm-7 1zm-3 1zm39 0zm-40 4zm-7 1zm14 0zm0 1zm6 0zm20 0zm1 0zm5 0zm-47 1zm3 0zm4 0zm-6 1zm44 0zm2 0zm3 1zm-11 2zm-41 1zm50 0zm-50 1zm42 0zm10 1zm-3 3zm-5 1zm-4 5zm2 2zm-3 3zm-1 1zm0 3zm-4 2zm-45 2zm41 1zm1 0zm-35 1zm33 0zm-40 1zm1 0zm-13 1zm16 0zm1 0zm6 0zm28 0zm2 0zm-39 1zm38 0zm-56 2zm37 0zm-20 3zm1 0zm21 0zm-6 1zm1 1zm-13 1zm4 0zm11 2zm-5 1zm6 2zm-93 1zm-3 1zm2 0zm97 1zm-104 1zm-5 1zm111 0z"/>
<path stroke="#0a1ec8" d="M839.3 1347zm6 2zm3 1zm-18 2zm4 0zm-3 2zm-2 2zm29 1zm2 8zm-42 3zm2 0zm-1 2zm35 3zm2 6zm-41 1zm0 3zm35 4zm-6 2zm-29 3zm-4 1zm32 2zm-1 2zm-2 1zm3 2zm-10 4zm-2 1zm-34 2zm34 0zm-29 2zm3 0zm-5 1zm20 2zm5 2zm-39 1zm1 0zm6 0zm3 0zm-5 1zm9 1zm36 0zm-9 7zm0 4zm-49 3zm46 0zm-50 2zm2 0zm47 0zm-48 3zm-3 4zm45 0zm-1 2zm-48 1zm47 0zm-42 3zm40 0zm-6 2zm-34 2zm27 0zm-27 4zm4 0zm11 1zm-14 1zm18 0zm-3 1zm2 6zm-98 5zm-7 6z"/>
<path stroke="#0a28c8" d="M851.3 1351zm-14 1zm-17 12zm3 1zm2 0zm30 2zm1 2zm-34 1zm34 3zm0 1zm-39 6zm-1 5zm31 4zm-2 6zm-9 6zm-10 1zm13 0zm-25 1zm-6 1zm3 1zm17 0zm-8 1zm-14 1zm16 1zm-23 2zm-8 2zm31 0zm-14 2zm14 4zm-38 1zm-1 5zm-5 2zm48 0zm-4 1zm3 6zm-54 4zm5 0zm43 1zm-51 2zm46 5zm-10 3zm-28 1zm31 0zm0 1zm-28 2zm14 0zm1 2zm-25 2zm6 0zm3 0zm3 1zm9 0zm2 0zm-9 2zm5 1z"/>
<path stroke="#0a28d2" d="M847.3 1349zm-3 1zm1 0zm-4 1zm2 0zm-11 1zm19 0zm-18 3zm-3 1zm27 3zm-30 3zm1 0zm26 2zm-30 2zm-5 1zm6 1zm30 2zm1 0zm-2 8zm-8 1zm-30 1zm29 0zm-28 8zm-1 3zm-3 5zm3 0zm24 0zm2 2zm-33 3zm23 1zm-22 1zm19 0zm-16 1zm15 0zm-14 1zm11 0zm1 1zm1 0zm-8 1zm4 0zm4 0zm-10 3zm-18 3zm-13 1zm11 0zm10 0zm14 0zm-1 1zm-36 1zm23 0zm-24 2zm41 0zm-30 1zm34 0zm-47 1zm3 0zm10 0zm26 2zm7 0zm-47 1zm2 0zm43 0zm-46 5zm0 1zm-3 5zm0 2zm-1 1zm45 0zm1 3zm-46 2zm-1 3zm37 0zm-35 1zm-2 3zm28 0zm-15 1zm19 0zm-17 1zm6 0zm10 1zm5 0zm-44 2zm9 1zm2 0zm3 0zm-12 1zm3 1zm4 0zm14 2zm2 1z"/>
<path stroke="#0a32d2" d="M829.3 1354zm24 7zm-33 10zm-2 3zm-1 5zm-2 2zm4 1zm0 3zm-5 3zm29 0zm-2 7zm-29 5zm0 7zm3 0zm-4 2zm-2 1zm-15 1zm3 1zm12 1zm-13 1zm3 0zm-4 3zm25 0zm5 1zm-32 2zm-7 3zm-4 2zm14 26zm9 0zm-13 1zm17 0zm-17 2zm-8 3zm7 0z"/>
<path stroke="#0a3cd2" d="M807.3 1410zm-1 3zm-4 3z"/>
<path stroke="#0a3cdc" d="M838.3 1350zm-6 6zm-6 8zm-3 2zm29 7zm-31 2zm21 17zm-1 2zm-21 6zm9 1zm1 7zm-11 1zm-24 2zm23 0zm-9 3zm-6 3zm18 7zm2 0zm0 3zm0 2zm-5 2zm4 1zm-45 5zm-1 2zm0 6zm29 4zm-6 1zm-26 1zm20 0zm15 1zm-32 3z"/>
<path stroke="#0a46dc" d="M830.3 1359zm26 1zm-3 4zm1 2zm-34 3zm1 0zm0 1zm0 2zm-5 23zm3 6zm-3 6zm-6 5zm11 0zm-20 3zm-11 1zm10 0zm10 0zm2 1zm-26 4zm12 1zm-14 5zm-8 3zm47 0zm-47 11zm39 1zm-23 7zm-8 4zm9 1zm-2 1z"/>
<path stroke="#0a50dc" d="M818.3 1387zm1 4zm21 3zm-1 3zm-13 4zm2 2zm-15 3zm3 0zm4 2zm-21 1zm10 0zm17 4zm-4 2zm-32 8zm-3 1zm-5 2zm39 4zm-47 10zm2 3zm37 0zm-35 7zm5 2zm0 2zm-1 1zm5 6z"/>
<path stroke="#1414a0" d="M858.3 1335zm-9 5zm-7 1zm-10 1zm3 0zm4 0zm13 0zm-9 1zm3 0zm9 0zm-23 1zm3 0zm9 0zm4 0zm7 0zm1 0zm-26 1zm7 0zm7 0zm2 0zm-13 1zm8 0zm11 0zm1 0zm-20 1zm2 0zm5 0zm16 0zm-19 1zm-7 1zm19 0zm8 0zm-2 1zm2 0zm-25 1zm23 0zm1 0zm1 0zm-33 1zm30 0zm1 0zm-31 1zm34 0zm-36 1zm37 0zm-1 1zm-35 1zm1 0zm42 0zm-44 1zm4 0zm31 0zm2 0zm1 0zm-42 1zm1 0zm40 0zm-41 1zm40 0zm-39 1zm41 0zm-43 2zm43 0zm2 1zm-46 2zm43 0zm5 0zm2 0zm-51 1zm44 0zm3 0zm2 0zm-49 1zm3 0zm45 0zm-1 2zm-54 2zm54 0zm-1 1zm1 0zm-50 1zm49 0zm-47 1zm47 1zm4 0zm-5 1zm-51 1zm3 0zm49 0zm-50 1zm48 0zm-46 1zm46 0zm5 0zm-53 1zm50 0zm-9 1zm1 0zm9 0zm-49 1zm45 1zm9 0zm-10 1zm-51 1zm4 0zm39 0zm8 0zm-50 2zm1 0zm43 0zm7 0zm-47 1zm-3 1zm3 0zm-2 1zm43 0zm-41 1zm42 0zm-4 1zm-41 1zm48 0zm-57 1zm51 0zm1 0zm1 0zm-4 2zm-41 1zm45 0zm3 0zm-55 1zm41 0zm9 0zm1 0zm-52 1zm1 0zm3 0zm5 0zm-6 1zm44 0zm5 0zm2 0zm-58 1zm5 0zm3 0zm41 0zm6 0zm-55 1zm3 0zm5 0zm43 0zm3 0zm2 0zm-54 1zm52 0zm-54 1zm43 0zm9 0zm-71 1zm21 0zm10 0zm32 0zm2 0zm6 0zm-58 1zm1 0zm3 0zm3 0zm43 0zm13 0zm-62 1zm3 0zm6 0zm47 0zm-65 1zm9 0zm50 0zm2 0zm5 0zm-67 1zm68 0zm1 0zm-66 2zm56 0zm2 0zm4 0zm-69 1zm2 0zm1 0zm59 0zm5 0zm-68 1zm2 0zm4 0zm4 0zm2 0zm47 0zm2 0zm5 0zm-67 1zm64 0zm3 0zm-64 1zm63 0zm4 0zm-63 1zm53 0zm8 0zm2 0zm-64 1zm59 0zm3 0zm-75 1zm7 0zm63 0zm5 0zm-64 1zm57 0zm3 0zm-66 1zm2 0zm6 0zm52 0zm8 0zm-72 1zm1 0zm3 0zm71 0zm-73 1zm8 0zm63 0zm-76 1zm3 0zm69 0zm-72 1zm4 0zm7 0zm55 0zm9 0zm-94 1zm25 0zm1 0zm2 0zm58 0zm4 0zm-2 1zm3 0zm-74 1zm2 0zm71 0zm-65 1zm1 0zm3 0zm58 0zm2 0zm-68 1zm4 0zm61 0zm-62 1zm2 0zm57 0zm3 0zm1 0zm1 0zm-62 1zm-10 1zm8 0zm-4 1zm63 0zm3 0zm-75 1zm7 0zm2 0zm1 0zm2 0zm57 0zm4 0zm2 0zm-71 1zm5 0zm59 1zm4 0zm-73 1zm3 0zm68 0zm-70 1zm4 0zm8 0zm57 0zm-150 1zm149 0zm-64 1zm1 0zm60 0zm6 0zm-65 1zm62 0zm1 0zm-72 1zm3 0zm4 0zm64 0zm-64 1zm2 0zm3 0zm55 0zm6 0zm-93 1zm93 0zm1 0zm-165 1zm103 0zm-93 1zm4 0zm11 0zm15 0zm5 0zm43 0zm2 0zm6 0zm1 0zm1 0zm1 0zm-92 1zm5 0zm32 0zm3 0zm3 0zm-34 1zm52 0zm13 0zm4 0zm3 0zm9 0zm1 0zm5 0zm51 0zm1 0zm1 0zm-147 1zm2 0zm2 0zm9 0zm10 0zm68 0zm57 0zm5 0zm-155 1zm2 0zm4 0zm3 0zm24 0zm43 0zm7 0zm61 0zm8 0zm-151 1zm4 0zm10 0zm44 0zm35 0zm54 0zm-150 1zm10 0zm7 0zm4 0zm24 0zm5 0zm34 0zm14 0zm-95 1zm5 0zm8 0zm4 0zm20 0zm10 0zm26 0zm7 0zm4 0zm2 0zm11 0zm49 0zm4 0zm-146 1zm8 0zm18 0zm24 0zm10 0zm7 0zm8 0zm9 0zm-111 1zm25 0zm3 0zm9 0zm14 0zm1 0zm14 0zm10 0zm6 0zm6 0zm8 0zm3 0zm10 0zm6 0zm45 0zm-153 1zm9 0zm17 0zm10 0zm1 0zm3 0zm2 0zm1 0zm7 0zm42 0zm1 0zm7 0zm47 0zm1 0zm1 0zm12 0zm13 0zm-162 1zm18 0zm9 0zm10 0zm25 0zm1 0zm9 0zm24 0zm40 0zm1 0zm8 0zm-147 1zm6 0zm5 0zm5 0zm2 0zm2 0zm8 0zm1 0zm50 0zm15 0zm-98 1zm2 0zm10 0zm4 0zm3 0zm1 0zm3 0zm5 0zm3 0zm1 0zm6 0zm58 0zm53 0zm3 0zm-150 1zm2 0zm3 0zm1 0zm1 0zm2 0zm4 0zm19 0zm5 0zm1 0zm1 0zm3 0zm61 0zm37 0zm1 0zm8 0zm-148 1zm9 0zm2 0zm10 0zm1 0zm4 0zm2 0zm1 0zm14 0zm28 0zm23 0zm6 0zm12 0zm22 0zm2 0zm6 0zm2 0zm-144 1zm4 0zm1 0zm9 0zm11 0zm5 0zm11 0zm59 0zm3 0zm7 0zm2 0zm23 0zm4 0zm2 0zm4 0zm-143 1zm17 0zm11 0zm9 0zm14 0zm3 0zm38 0zm10 0zm10 0zm19 0zm5 0zm3 0zm1 0zm-143 1zm1 0zm3 0zm8 0zm9 0zm5 0zm3 0zm2 0zm2 0zm10 0zm11 0zm38 0zm1 0zm11 0zm7 0zm2 0zm5 0zm3 0zm14 0zm4 0zm2 0zm-143 1zm3 0zm6 0zm4 0zm2 0zm10 0zm8 0zm63 0zm17 0zm9 0zm4 0zm5 0zm1 0zm4 0zm1 0zm-119 1zm3 0zm6 0zm65 0zm2 0zm2 0zm16 0zm11 0zm6 0zm4 0zm-121 1zm10 0zm2 0zm7 0zm3 0zm7 0zm2 0zm65 0zm2 0zm13 0zm6 0zm16 0zm-138 1zm7 0zm8 0zm4 0zm14 0zm1 0zm19 0zm55 0zm18 0zm3 0zm-130 1zm7 0zm4 0zm17 0zm2 0zm7 0zm67 0zm6 0zm24 0zm-131 1zm5 0zm2 0zm2 0zm14 0zm7 0zm2 0zm2 0zm64 0zm35 0zm-122 1zm10 0zm100 0zm-133 1zm13 0zm8 0zm6 0zm15 0zm87 0zm-99 1zm3 0zm84 0zm-108 1zm17 0zm1 0zm6 0zm2 0zm4 0zm10 0zm-49 1zm9 0zm9 0zm5 0zm8 0zm2 0zm4 0zm50 0zm46 0zm-106 1zm3 0zm2 0zm-35 1zm35 0zm1 0zm6 0zm84 0zm-118 1zm5 0zm20 0zm5 0zm91 0zm-102 1zm6 0zm17 0zm85 0zm-120 1zm12 2zm2 0zm-18 1zm23 1zm-7 3zm3 1zm6 0zm-5 5zm-11 39zm2 0zm3 0zm17 0zm1 0zm4 0zm4 0z"/>
<path stroke="#141ea0" d="M833.3 1340zm15 2zm-19 5zm34 19zm-52 2zm3 1zm-3 5zm49 10zm-2 1zm-56 4zm-5 6zm56 8zm1 0zm-66 2zm-9 5zm58 4zm18 1zm-88 5zm6 1zm58 13zm5 4zm-91 4zm84 0zm-77 2zm-73 1zm2 4zm145 0zm-162 1zm165 0zm-103 1zm-59 1zm56 0zm-63 1zm5 0zm85 0zm-70 2zm-19 2zm43 1zm-44 2zm83 0zm67 0zm1 0zm-109 1zm6 0zm-52 1zm48 0zm71 2zm-69 4zm60 0zm10 1zm-108 1zm31 0zm71 1zm-102 6zm14 6zm-18 1zm-9 5zm39 43zm7 0z"/>
<path stroke="#1450dc" d="M830.3 1361zm23 16zm-35 3zm-2 13zm23 5zm-12 3zm-5 2zm-7 5zm-14 5zm15 0zm-15 4zm15 0zm1 0zm4 4zm-2 7zm-44 11zm34 8z"/>
<path stroke="#145adc" d="M847.3 1351zm-16 7zm-3 3zm3 0zm-4 5zm24 6zm-33 1zm35 1zm-35 7zm1 12zm-3 1zm14 6zm1 0zm1 1zm-19 1zm1 0zm-1 1zm2 0zm7 4zm-9 7zm-2 1zm-21 3zm9 2zm21 1zm2 2zm-1 3zm-4 4zm-14 14zm0 5zm-17 5zm-3 1zm-1 2z"/>
<path stroke="#1464dc" d="M842.3 1353zm-16 50zm-8 1zm-7 44z"/>
<path stroke="#1464e6" d="M850.3 1353zm-17 3zm20 3zm-23 1zm23 13zm-34 10zm0 1zm25 1zm-23 5zm-5 2zm27 0zm-15 8zm6 0zm-4 2zm-10 1zm-6 1zm5 2zm-5 6zm3 1zm-21 5zm9 0zm-15 4zm27 2zm2 1zm-40 1zm3 1zm-3 5zm1 0zm21 15zm-10 1zm3 0zm15 0zm-30 1zm3 3zm8 0z"/>
<path stroke="#146ee6" d="M852.3 1357zm-21 3zm23 12zm-30 2zm27 2zm-2 4zm-25 4zm19 1zm1 3zm-26 4zm3 0zm19 1zm0 2zm-5 1zm-9 2zm-11 1zm9 4zm-3 2zm-17 12zm18 2zm-20 1zm10 1zm5 2zm5 5zm-2 1zm-41 4zm36 5zm1 1zm-1 1zm-40 1zm27 3zm5 2zm-24 1zm3 5zm-1 1z"/>
<path stroke="#1478e6" d="M852.3 1360zm-23 2zm23 2zm-26 1zm2 3zm22 0zm-23 1zm27 1zm-1 2zm-3 4zm1 1zm-34 8zm27 1zm-2 5zm-21 4zm13 2zm3 0zm-23 2zm1 3zm11 2zm-10 1zm-2 4zm-2 6zm0 1zm-1 1zm1 2zm4 0zm-9 1zm4 0zm9 6zm2 0zm-39 1zm37 0zm-43 8zm-1 3zm32 2zm6 0zm-13 4zm-10 5zm-7 2z"/>
<path stroke="#1482e6" d="M829.3 1363zm-4 3zm1 0zm-4 22zm13 7zm-20 3zm-5 22zm-27 30z"/>
<path stroke="#1482f0" d="M851.3 1356zm1 13zm-34 7zm27 3zm-20 3zm-7 4zm2 6zm-3 2zm0 2zm6 2zm1 0zm6 3zm3 1zm-18 8zm-19 6zm29 1zm-21 1zm14 3zm-24 2zm25 7zm-40 8zm31 5zm-7 3zm-16 3zm-2 3zm3 1z"/>
<path stroke="#148ce6" d="M835.3 1355zm-5 7zm-9 16zm25 0zm-3 1zm-23 4zm8 13zm0 1zm-7 1zm0 4zm6 2zm-16 7zm5 0zm2 8zm1 0zm-7 1zm-15 3zm-9 1zm34 1zm-41 14zm-3 1zm28 3zm-22 1zm0 2z"/>
<path stroke="#148cf0" d="M846.3 1353zm-12 3zm20 4zm-20 1zm-10 4zm-1 3zm2 4zm-4 1zm0 12zm21 4zm-24 4zm20 0zm-44 25zm17 0zm-7 3zm5 0zm-14 3zm21 1zm2 1zm-41 18zm34 0zm-13 1zm-16 8z"/>
<path stroke="#1496e6" d="M824.3 1388zm-6 6zm16 2zm1 1zm-18 1zm6 1zm-5 4zm0 10zm-3 2zm-10 2zm-5 3zm3 0zm11 1zm-17 1zm10 0zm6 5zm5 0zm-2 5zm-36 3zm34 2zm-35 5zm28 2zm-7 2z"/>
<path stroke="#1e1ea0" d="M863.3 1332zm-2 5zm-30 1zm13 0zm6 0zm-2 1zm-16 2zm22 2zm0 1zm4 1zm-59 1zm28 4zm-2 2zm-9 3zm48 1zm-2 1zm-42 1zm46 0zm-4 1zm7 0zm-55 1zm52 0zm0 2zm3 1zm-2 1zm-56 1zm2 1zm55 2zm0 1zm-58 1zm4 0zm52 0zm-57 1zm1 0zm-1 5zm54 2zm1 0zm-54 1zm-5 1zm1 2zm-9 1zm61 1zm-51 1zm49 1zm4 1zm-1 1zm-57 2zm1 1zm-5 2zm57 0zm-55 2zm8 0zm-10 1zm56 0zm-61 3zm1 1zm61 1zm-73 1zm13 1zm53 0zm-59 1zm-10 1zm1 0zm72 0zm-83 1zm13 0zm-9 1zm13 0zm65 0zm2 0zm-74 1zm67 0zm-78 1zm10 0zm-5 1zm74 1zm2 0zm-76 1zm-12 1zm12 1zm69 0zm-69 1zm-9 1zm6 1zm-2 2zm73 0zm-95 4zm95 0zm-2 3zm-92 1zm-63 2zm78 0zm-7 1zm5 0zm-14 1zm9 0zm1 0zm6 0zm-6 4zm1 1zm-84 1zm77 0zm83 0zm-95 1zm18 1zm-54 1zm42 0zm-51 1zm44 0zm18 0zm79 0zm-78 1zm-104 1zm42 0zm42 0zm15 0zm-92 1zm48 0zm122 0zm5 0zm-167 1zm6 0zm3 0zm2 0zm2 0zm49 0zm11 0zm89 0zm2 0zm4 0zm-175 1zm11 0zm18 0zm52 0zm92 0zm7 0zm-188 1zm36 0zm21 0zm23 0zm7 0zm88 0zm-169 1zm11 0zm12 0zm21 0zm9 0zm13 0zm103 0zm-166 1zm27 0zm2 0zm21 0zm27 0zm2 0zm6 0zm-81 1zm1 0zm26 0zm128 0zm12 0zm-98 1zm3 0zm3 0zm87 0zm4 0zm-121 1zm33 0zm1 0zm-58 1zm36 0zm96 0zm1 0zm15 0zm-129 1zm10 0zm13 0zm95 0zm3 0zm-110 2zm8 0zm1 0zm4 0zm6 0zm6 0zm73 0zm-156 1zm6 0zm34 0zm4 0zm1 0zm40 0zm-92 1zm58 0zm49 0zm50 0zm-139 1zm17 0zm69 0zm-101 1zm74 0zm31 0zm-34 1zm8 0zm4 0zm-76 1zm60 0zm9 0zm-9 1zm25 0zm2 0zm6 0zm2 0zm-105 1zm4 0zm2 0zm3 0zm61 0zm-70 1zm113 0zm45 0zm6 0zm-101 1zm31 0zm16 0zm16 0zm1 1zm26 0zm-131 1zm32 0zm12 0zm1 0zm2 0zm47 0zm21 0zm19 0zm-148 1zm56 0zm7 0zm36 0zm8 0zm-122 1zm15 0zm46 0zm13 0zm53 0zm-115 1zm1 0zm9 0zm50 0zm58 0zm22 0zm1 0zm6 0zm2 0zm5 0zm-161 1zm29 0zm24 0zm86 0zm1 0zm17 0zm-150 1zm13 0zm5 0zm5 0zm3 0zm3 0zm35 0zm47 0zm17 0zm13 0zm-150 1zm9 0zm6 0zm7 0zm2 0zm10 0zm24 0zm66 0zm17 0zm9 0zm-142 1zm2 0zm131 0zm-108 1zm7 0zm11 0zm42 0zm29 0zm-119 1zm16 0zm1 0zm6 0zm8 0zm118 0zm-140 1zm1 0zm7 0zm41 0zm-30 1zm111 0zm5 0zm-125 1zm32 0zm2 0zm84 0zm5 0zm-125 1zm3 0zm10 0zm4 0zm107 0zm-132 1zm32 0zm5 0zm-31 1zm13 0zm109 0zm6 0zm-132 1zm6 0zm57 0zm-62 1zm3 0zm36 0zm5 0zm95 0zm-103 1zm-14 1zm16 0zm-14 2zm-18 1zm12 2zm7 0zm-26 3zm38 0zm-40 37zm3 0zm4 0zm1 0zm1 0zm2 0zm8 0zm8 0zm4 0zm6 0zm7 0zm1 0z"/>
<path stroke="#1e96e6" d="M820.3 1375zm18 2zm2 13zm-10 7zm-16 3zm8 0zm-4 17zm-4 15zm-34 9zm22 4z"/>
<path stroke="#1ea0e6" d="M840.3 1355zm11 0zm-16 2zm-1 5zm-5 2zm-5 7zm23 6zm-28 3zm2 0zm2 1zm19 0zm-20 1zm0 1zm2 3zm-1 2zm18 1zm-18 1zm15 2zm-10 2zm4 1zm-13 2zm0 1zm3 0zm12 0zm-16 3zm0 1zm2 3zm-6 6zm1 3zm-5 3zm8 1zm-16 1zm6 0zm-7 2zm-7 1zm10 0zm-4 1zm3 0zm13 1zm-24 1zm-3 1zm2 3zm27 3zm-2 2zm-37 5zm-1 2zm31 3zm-23 4zm-4 1zm8 0zm-8 2z"/>
<path stroke="#1eaae6" d="M843.3 1353zm7 3zm-14 2zm-8 6zm1 3zm-4 6zm1 0zm2 0zm0 1zm7 2zm11 4zm-25 6zm-2 1zm5 0zm18 0zm-22 1zm21 0zm-18 3zm5 2zm6 2zm-18 2zm13 2zm-9 19zm-7 1zm3 2zm1 0zm-11 1zm4 0zm-11 1zm-7 1zm-8 2zm30 0zm-24 1zm25 2zm-2 6zm1 1zm-15 2zm2 5zm-19 3zm19 0zm-20 1zm3 1zm4 0zm8 0zm-5 3z"/>
<path stroke="#1eb4e6" d="M828.3 1365zm22 1zm-24 4zm3 1zm-6 2zm19 7zm-2 8zm1 2zm-22 10zm-4 16zm-2 1zm-3 1zm-3 3zm-3 6zm12 1zm-33 1zm24 0zm-26 1zm34 0zm-35 3zm1 1zm26 1zm8 1zm-4 1zm-6 1zm4 0zm5 0zm-34 1zm20 0zm12 0zm-31 2zm23 2zm-20 4zm2 0zm12 0zm-15 6z"/>
<path stroke="#1ebee6" d="M837.3 1358zm14 15zm-4 1zm-22 14zm-2 5zm10 2zm-22 27zm3 5zm-18 9zm6 3zm4 3z"/>
<path stroke="#2828a0" d="M854.3 1328zm0 3zm-18 1zm7 4zm6 1zm-21 1zm2 0zm8 0zm16 0zm11 0zm-21 1zm-42 1zm33 0zm-8 1zm31 2zm3 1zm8 4zm2 0zm-55 4zm2 2zm60 0zm-57 1zm44 1zm-48 1zm-13 4zm69 7zm-68 7zm59 5zm-60 2zm-12 5zm70 2zm-71 2zm6 0zm4 0zm-3 4zm60 0zm-64 3zm-24 1zm8 4zm79 3zm-87 1zm90 0zm-87 1zm3 1zm82 0zm-88 2zm5 1zm79 1zm27 0zm-30 1zm2 1zm4 1zm-6 2zm-97 4zm90 0zm-80 1zm-20 1zm94 2zm-87 2zm89 2zm-168 5zm39 0zm126 0zm-1 1zm-83 1zm-28 1zm112 0zm-184 2zm85 0zm7 0zm-81 1zm41 0zm43 0zm-60 1zm20 0zm5 1zm17 0zm-24 1zm5 0zm-53 2zm90 0zm84 0zm5 0zm-126 1zm14 0zm-16 1zm9 0zm-3 1zm-28 1zm17 0zm20 0zm97 0zm-161 1zm82 0zm93 0zm3 0zm-131 1zm-55 2zm47 0zm19 1zm104 0zm-170 1zm1 0zm58 0zm1 0zm-66 1zm9 0zm52 0zm35 0zm-9 1zm5 0zm-2 1zm91 0zm-180 1zm64 1zm6 0zm98 1zm-101 2zm36 0zm1 0zm64 0zm-157 1zm63 1zm3 0zm30 0zm16 0zm-3 1zm38 0zm-101 1zm-59 1zm135 0zm35 0zm-158 1zm-6 1zm75 0zm-70 1zm92 0zm20 0zm34 0zm-151 1zm116 1zm3 0zm32 0zm-96 1zm36 0zm35 0zm12 0zm15 0zm-79 1zm73 0zm8 0zm-155 1zm157 0zm-138 1zm26 0zm99 1zm5 0zm-123 1zm25 0zm-26 1zm111 0zm10 0zm4 0zm-115 1zm9 0zm-12 2zm4 0zm17 0zm79 0zm-103 2zm111 1zm-95 2zm7 0zm-20 1zm18 2zm-52 1zm54 0zm-15 4zm2 1zm14 1zm-25 3zm44 2zm-54 28zm2 0zm2 0zm3 0zm3 0zm2 0zm1 0zm9 0zm14 0zm3 0zm38 0z"/>
<path stroke="#2828aa" d="M847.3 1333zm-3 1zm32 5zm-42 2zm24 1zm-38 2zm39 0zm-36 1zm38 0zm-39 1zm-8 2zm52 1zm5 2zm1 2zm-4 2zm3 7zm6 4zm-10 3zm-72 8zm6 1zm59 12zm-71 2zm87 11zm-86 1zm-25 9zm86 0zm8 3zm-11 1zm-6 2zm-79 1zm-13 2zm0 8zm-5 1zm-32 1zm125 1zm17 1zm-102 1zm87 0zm-171 2zm170 0zm-177 1zm-36 3zm31 0zm1 0zm1 0zm75 0zm15 0zm-41 2zm-41 1zm37 2zm34 1zm-42 1zm143 0zm-125 1zm110 0zm-101 1zm122 2zm-188 2zm64 0zm113 0zm-95 1zm78 0zm-88 3zm-6 4zm90 0zm-164 2zm96 1zm-88 2zm93 0zm-106 2zm100 0zm-34 2zm29 0zm40 3zm-24 1zm-44 2zm1 0zm-10 1zm59 0zm28 0zm-118 4zm-11 1zm122 0zm2 1zm-128 1zm108 0zm-115 1zm122 0zm-105 2zm142 1zm-106 3zm-29 1zm-6 1zm12 0zm-10 2zm28 1zm21 0zm-18 8zm-25 7zm1 4zm-27 16zm43 0zm17 0zm1 0z"/>
<path stroke="#28bee6" d="M844.3 1354zm4 2zm3 7zm-22 6zm-5 4zm22 1zm0 1zm0 2zm-24 1zm4 11zm-2 2zm-4 2zm10 2zm-25 26zm1 4zm3 0zm0 1zm9 2zm-35 2zm25 2zm-26 1zm26 3zm-29 1zm2 3zm24 0zm-1 4zm-22 10z"/>
<path stroke="#28c8e6" d="M841.3 1355zm8 0zm-17 3zm1 4zm-3 2zm1 0zm19 1zm-19 1zm-5 3zm3 4zm-8 1zm2 1zm8 0zm18 1zm-13 1zm-13 2zm16 1zm-12 2zm0 2zm-3 5zm3 1zm1 0zm-4 4zm-4 2zm11 0zm-22 22zm1 3zm-1 2zm6 1zm-4 1zm0 1zm2 2zm-1 1zm-30 1zm0 1zm33 2zm-18 3zm2 1zm-17 1zm20 0zm1 0zm-1 2zm9 0zm1 0zm-15 1zm-14 1zm0 2zm10 2zm1 0zm-5 1zm7 0z"/>
<path stroke="#28d2a0" d="M842.3 1355zm-10 14zm-5 11zm0 1zm1 0zm1 0zm7 0zm-8 8zm8 2zm-36 35zm-9 1zm2 1zm10 1zm-19 2zm23 0zm-13 3zm4 2zm0 6zm9 0zm-24 1zm11 2z"/>
<path stroke="#28d2aa" d="M851.3 1361zm-15 2zm-6 6zm4 4zm-4 5zm-1 2zm9 2zm2 4zm-1 1zm-17 4zm15 0zm-40 34zm1 0zm4 1zm3 1zm-3 1zm-3 1zm6 1zm0 1zm-4 4zm-21 1zm33 1zm-17 5zm-9 2zm7 0zm-3 1z"/>
<path stroke="#28d2b4" d="M843.3 1355zm5 0zm-10 2zm9 0zm-11 4zm-10 15zm13 1zm-16 1zm13 1zm1 0zm-3 12zm5 0zm-3 4zm-26 28zm-10 2zm8 0zm-4 1zm13 0zm-2 1zm-12 1zm7 0zm-11 2zm-14 1zm20 2zm2 1zm-24 2zm20 1zm-7 2zm7 2zm-8 2z"/>
<path stroke="#28d2be" d="M847.3 1355zm3 9zm-3 5zm-16 2zm3 0zm11 2zm-12 5zm-26 47zm-13 1zm21 0zm-6 1zm3 0zm-25 1zm-1 1zm11 0zm-13 3zm28 0zm-12 1zm-18 2zm23 0zm8 1zm-17 5zm-14 1zm17 1zm-13 2zm5 2z"/>
<path stroke="#28d2c8" d="M849.3 1356zm1 1zm-1 2zm0 5zm-17 8zm-2 4zm10 0zm-12 1zm15 0zm-10 16zm-38 34zm-11 1zm27 5zm-30 3zm16 1zm-3 1z"/>
<path stroke="#28d2d2" d="M829.3 1374zm8 1zm-12 1zm7 2zm10 0zm-15 5zm-3 10zm-4 6zm-7 14zm0 9zm-14 3zm7 1zm-21 2zm16 4zm-3 5zm-14 6zm11 1z"/>
<path stroke="#28d2dc" d="M845.3 1354zm2 0zm-9 2zm10 11zm3 3zm-23 5zm17 1zm3 0zm-13 3zm8 3zm-14 6zm-4 4zm11 0zm-42 32zm3 2zm10 2zm1 1zm-6 3zm13 0zm-7 1zm4 1zm-2 7zm-29 1zm4 0zm15 0zm3 0zm-5 1zm-15 2zm10 0z"/>
<path stroke="#28d2e6" d="M841.3 1356zm-9 15zm-4 1zm4 1zm-9 1zm-1 1zm7 0zm3 2zm-4 1zm-2 1zm13 10zm-18 4zm4 0zm0 1zm8 0zm-15 4zm-4 17zm-5 9zm-4 4zm-15 1zm24 0zm-8 4zm-3 6zm3 0zm-3 1zm3 1zm-20 3z"/>
<path stroke="#3232aa" d="M844.3 1324zm4 0zm-27 3zm14 1zm-17 1zm28 0zm-1 3zm3 0zm16 0zm-22 1zm31 1zm-47 1zm21 0zm10 0zm-24 2zm20 0zm2 0zm-5 3zm13 0zm17 0zm-47 2zm35 0zm3 1zm-49 1zm-1 2zm1 1zm1 0zm40 0zm-85 1zm46 0zm48 0zm-65 2zm6 1zm0 6zm64 6zm-3 5zm-67 2zm-18 5zm1 4zm74 8zm-74 4zm68 6zm-98 7zm4 0zm-14 3zm19 4zm-8 3zm3 1zm81 0zm-95 2zm107 0zm10 0zm-119 2zm-2 2zm6 1zm-7 1zm17 0zm86 0zm-88 1zm83 0zm-87 1zm5 1zm88 0zm-7 2zm4 0zm-155 4zm-18 1zm81 0zm108 0zm-113 1zm-74 1zm68 0zm-56 1zm5 0zm26 0zm6 0zm-56 1zm180 0zm-190 1zm24 0zm3 0zm26 0zm23 0zm1 0zm-42 1zm12 0zm-28 1zm60 0zm-61 1zm1 0zm62 0zm-46 1zm45 0zm-116 1zm119 0zm-88 1zm18 0zm59 0zm-70 1zm45 1zm130 0zm-181 1zm33 0zm7 0zm23 0zm1 2zm2 0zm115 0zm-136 1zm32 2zm-38 1zm143 0zm10 1zm-214 1zm196 0zm1 0zm-179 1zm10 0zm49 0zm13 1zm-9 2zm111 1zm-165 1zm51 0zm32 1zm19 0zm-29 2zm12 0zm-99 1zm67 0zm-82 1zm117 1zm-9 2zm68 0zm-92 1zm71 0zm-163 1zm85 0zm7 0zm-82 2zm17 0zm95 0zm11 1zm17 0zm28 0zm-140 1zm68 0zm92 0zm-100 1zm65 0zm-139 1zm1 1zm108 0zm21 0zm32 0zm-163 1zm2 0zm27 0zm102 0zm3 0zm4 0zm32 0zm2 0zm-181 1zm78 0zm2 0zm46 1zm40 0zm6 0zm-136 1zm54 0zm55 0zm20 0zm-107 1zm50 0zm-36 1zm46 0zm-96 1zm18 0zm9 0zm12 0zm81 0zm-26 1zm35 0zm-128 1zm28 0zm-36 1zm26 1zm20 0zm72 0zm-110 1zm45 0zm-46 1zm6 0zm18 0zm-10 1zm-10 3zm-15 2zm51 1zm9 1zm-19 2zm-33 2zm35 0zm-1 2zm14 0zm-67 7zm22 4zm-16 16zm22 0zm10 0zm10 0zm1 0zm4 0zm24 0zm7 0z"/>
<path stroke="#32d26e" d="M835.3 1368zm-10 10zm-20 46z"/>
<path stroke="#32d278" d="M846.3 1355zm-10 7zm13 5zm-14 5zm11 0zm-16 8zm-1 2zm-2 3zm12 0zm-10 1zm10 2zm-14 2zm5 1zm-29 35zm-13 2zm12 0zm-13 2zm0 3zm17 1zm-23 3zm27 0zm-26 2zm9 0zm2 3zm1 1z"/>
<path stroke="#32d282" d="M844.3 1355zm0 1zm-1 18zm-4 1zm-1 1zm-12 2zm-23 47zm0 1zm2 3zm-20 3zm25 0zm-20 1zm11 1zm-18 1zm23 1zm-2 1zm-19 1zm10 1zm12 0zm-16 2zm4 1zm-7 3z"/>
<path stroke="#32d28c" d="M832.3 1363zm2 1zm15 4zm-16 1zm2 1zm-3 5zm10 1zm-3 10zm-1 3zm-9 2zm-22 33zm-20 3zm8 1zm3 0zm15 2zm-1 1zm-14 1zm2 0zm-18 4zm28 2z"/>
<path stroke="#32d296" d="M849.3 1362zm-16 2zm2 0zm13 5zm-20 1zm21 3zm-19 4zm1 1zm-3 1zm-3 8zm5 2zm7 0zm-8 1zm8 0zm-24 39zm-11 1zm-8 1zm7 0zm11 2zm-3 2zm-26 2zm23 1zm-8 6z"/>
<path stroke="#32d2a0" d="M839.3 1356zm-6 7zm0 4zm17 3zm-21 13zm11 0zm0 4zm-9 6zm-25 47z"/>
<path stroke="#32dc64" d="M837.3 1361zm12 0zm-2 11zm-7 5zm-6 2zm4 9zm-8 2zm3 0zm2 0zm-8 1zm4 0zm-3 1zm6 0zm-47 37zm11 0zm-8 1zm12 3zm-14 1zm12 0zm3 1zm4 1zm-20 2zm7 3z"/>
<path stroke="#32dc6e" d="M848.3 1364zm-15 2zm5 5zm0 3zm-7 5zm8 5zm-11 1zm-23 40zm-5 2zm-6 3zm-4 1zm7 0zm2 2zm-8 7zm-4 2zm1 4z"/>
<path stroke="#3c3caa" d="M847.3 1313zm-11 1zm3 6zm7 5zm-2 5zm30 3zm-15 2zm-34 1zm54 9zm-71 1zm11 1zm-7 2zm-15 1zm25 1zm52 4zm0 4zm-70 1zm4 1zm-58 4zm121 1zm-65 4zm-4 1zm70 2zm-2 1zm-67 1zm-3 5zm-7 8zm0 2zm-5 4zm-20 2zm9 0zm-16 1zm12 0zm81 1zm-70 1zm76 4zm6 2zm-115 3zm14 1zm92 1zm17 2zm-116 4zm-5 2zm-12 2zm-63 2zm184 0zm-185 2zm184 1zm-121 1zm-62 2zm176 6zm-109 1zm-45 1zm-17 1zm66 0zm-40 1zm152 0zm-25 1zm6 0zm9 0zm-124 1zm121 0zm-173 1zm52 1zm-82 1zm1 1zm40 0zm-43 1zm-14 2zm6 0zm9 0zm-4 2zm225 0zm-140 2zm-85 5zm11 0zm-4 1zm176 1zm-184 1zm-9 1zm191 1zm-107 1zm-65 4zm165 0zm-166 1zm85 3zm-13 2zm41 0zm72 1zm-68 2zm-124 1zm100 0zm51 1zm20 0zm7 0zm-54 2zm-139 1zm97 0zm39 0zm7 0zm-120 1zm0 1zm133 0zm-76 1zm39 0zm23 0zm-131 1zm141 0zm29 2zm-84 1zm-53 1zm18 2zm18 0zm69 0zm-119 1zm57 1zm-2 1zm53 2zm-93 2zm25 1zm101 1zm-113 1zm-37 2zm37 0zm26 0zm-47 2zm28 1zm42 1zm-26 1zm-2 1zm-38 1zm-27 23zm5 0zm8 0zm2 0zm10 0zm23 0zm7 0zm26 0zm5 0zm16 0z"/>
<path stroke="#3c3cb4" d="M858.3 1315zm0 1zm10 6zm-18 2zm-12 5zm-9 4zm-5 1zm43 0zm0 8zm-54 1zm-12 3zm10 9zm1 5zm64 0zm-77 7zm82 3zm-82 7zm-2 5zm3 0zm-21 2zm86 2zm-70 1zm-4 6zm-16 8zm-30 5zm39 0zm-27 7zm-24 3zm5 5zm125 0zm-119 1zm136 1zm-10 1zm-110 1zm99 1zm-191 1zm18 0zm-24 2zm208 0zm-224 3zm64 1zm164 0zm-139 1zm-7 1zm-109 1zm97 3zm1 1zm-76 2zm-14 2zm220 10zm-205 1zm-5 2zm216 1zm-114 2zm87 2zm-202 2zm3 0zm105 1zm102 1zm18 3zm-73 3zm-136 4zm100 5zm-28 2zm41 3zm63 1zm-124 1zm113 0zm-181 1zm15 0zm91 1zm34 0zm-72 1zm100 0zm-87 1zm17 0zm3 0zm14 0zm45 0zm-107 1zm25 0zm34 0zm-53 3zm49 2zm-70 2zm4 2zm43 0zm51 3zm-57 2zm-62 1zm20 0zm14 2zm17 0zm-37 4zm-5 2zm-20 16zm11 0zm70 0zm26 0z"/>
<path stroke="#3cdc5a" d="M834.3 1365zm2 4zm-1 13zm-43 51zm-6 1zm-1 2zm1 2z"/>
<path stroke="#3cdc64" d="M839.3 1359zm-4 6zm0 1zm13 0zm-4 7zm-15 5zm2 4zm-29 49zm-5 1zm-4 2zm13 1zm1 2zm-14 1zm-5 1z"/>
<path stroke="#46dc5a" d="M845.3 1356zm-6 2zm9 1zm-11 4zm-5 4zm7 6zm1 2zm-8 7zm1 0zm6 1zm-10 4zm3 3zm3 1zm-47 39zm0 3zm-3 1zm2 5zm1 1zm-2 2zm0 1zm7 0z"/>
<path stroke="#50dc50" d="M844.3 1357zm-8 9zm11 1zm-13 1zm0 2zm6 2zm-12 10zm8 3zm-8 1zm-36 41zm12 2zm-9 2zm-5 1zm1 3zm2 4zm-1 1zm-1 3z"/>
<path stroke="#50dc5a" d="M833.3 1380zm0 9zm-47 50zm6 4z"/>
<path stroke="#5adc50" d="M846.3 1359zm0 5zm1 2zm-11 8zm-6 8zm1 1zm6 0zm-7 5zm4 1zm3 3zm-50 39zm8 1zm6 1zm-11 4zm3 4z"/>
<path stroke="#64dc46" d="M846.3 1361zm0 6zm-16 16zm-1 1zm-36 46zm0 1zm-2 1zm-7 2zm6 8zm0 1z"/>
<path stroke="#64dc50" d="M847.3 1360zm2 0zm-60 73zm-5 6zm6 2z"/>
<path stroke="#6edc3c" d="M784.3 1438zm5 2z"/>
<path stroke="#6edc46" d="M843.3 1373zm-11 15zm4 2zm-50 42zm0 4zm2 1zm-1 6z"/>
<path stroke="#78dc3c" d="M841.3 1357zm5 1zm2 0zm-1 1zm-2 12zm-5 3zm-8 9zm3 1zm-4 3zm3 1zm-50 41zm8 2zm-3 1zm-1 4zm1 1zm4 0zm-5 5zm0 2z"/>
<path stroke="#82dc32" d="M837.3 1362z"/>
<path stroke="#82dc3c" d="M835.3 1363zm5 10zm-5 1zm-3 11zm-41 48zm-1 1zm1 0zm-3 4zm2 2z"/>
<path stroke="#8cdc32" d="M845.3 1357zm3 4zm-12 9zm2 0zm6 2zm-8 12zm0 4z"/>
<path stroke="#96dc28" d="M848.3 1362zm-12 6zm8 2z"/>
<path stroke="#96dc32" d="M837.3 1368zm2 4zm-5 9z"/>
<path stroke="#a0dc28" d="M843.3 1359zm-6 10zm0 1zm9 0zm-8 2zm-4 13zm-2 1z"/>
<path stroke="#aadc28" d="M847.3 1361zm-2 2zm-5 7zm0 1zm-52 61zm-2 9zm3 0z"/>
<path stroke="#b4dc1e" d="M845.3 1358zm-12 30zm-46 52z"/>
<path stroke="#b4dc28" d="M840.3 1358zm2 2zm6 0zm-10 3zm9 7zm-14 13zm0 4zm-43 49z"/>
<path stroke="#bedc1e" d="M841.3 1359zm3 4zm-1 7z"/>
<path stroke="#c8dc1e" d="M845.3 1361zm-3 1zm-3 1zm3 0zm-2 2zm-7 19zm-41 48z"/>
<path stroke="#d2dc1e" d="M840.3 1362zm-2 4zm0 1zm6 2zm-3 1zm-2 1zm-51 70z"/>
<path stroke="#dcdc14" d="M844.3 1362zm-3 3zm-2 2zm1 1zm3 4zm-8 15z"/>
<path stroke="#dcdc1e" d="M845.3 1360zm-2 7zm-2 1z"/>
<path stroke="#e63200" d="M842.3 1365z"/>
<path stroke="#e6dc14" d="M842.3 1358zm2 2zm2 5z"/>
<path stroke="#f03c00" d="M842.3 1367z"/>
<path stroke="#f04600" d="M844.3 1359zm-2 2zm-1 1z"/>
<path stroke="#f0be14" d="M839.3 1368z"/>
<path stroke="#f0c814" d="M843.3 1361z"/>
<path stroke="#f0d214" d="M841.3 1366zm1 5z"/>
<path stroke="#f0dc14" d="M844.3 1361zm-6 4zm4 1zm0 4zm-6 17z"/>
<path stroke="#fa8c0a" d="M841.3 1364z"/>
<path stroke="#fa960a" d="M844.3 1364zm-1 4z"/>
<path stroke="#faa00a" d="M843.3 1364z"/>
<path stroke="#faaa0a" d="M844.3 1365z"/>
<path stroke="#fab40a" d="M840.3 1367z"/>
<path stroke="#fabe0a" d="M845.3 1364zm-6 2zm0 3z"/>
<path stroke="#0a14a0" d="M1150.1 1328zm-11 6zm2 3zm14 0zm-3 3zm-31 11zm-3 2zm27 2zm-32 1zm33 0zm-37 1zm-8 6zm38 1zm-35 1zm-3 1zm31 4zm-1 2zm-41 1zm3 0zm-2 1zm37 0zm-1 1zm-57 10zm0 1zm40 1zm4 1zm-50 2zm-9 3zm8 0zm27 9zm-4 3zm-49 1zm36 2zm1 1zm-7 2zm2 0zm-49 1zm6 0zm45 0zm-14 2zm-39 2zm0 1zm-6 1zm9 1zm27 0zm-40 1zm2 1zm-2 1zm29 0zm1 0zm-32 1zm14 0zm7 2zm-21 2zm5 1zm5 1z"/>
<path stroke="#0a14aa" d="M1152.1 1330zm2 0zm-10 2zm8 3zm4 1zm-10 18zm-35 4zm-8 8zm-2 1zm32 1zm1 0zm-2 1zm1 0zm-7 7zm-4 4zm-1 1zm-45 2zm-5 1zm2 2zm-2 1zm-4 1zm-4 2zm-6 2zm7 0zm-7 1zm1 1zm46 1zm-57 5zm36 4zm5 0zm-60 6zm29 2zm-37 1zm3 0zm26 4zm-43 2zm10 1zm28 0zm-39 2zm29 1zm-19 1zm5 0zm-10 1zm2 1zm2 0zm16 0zm-16 2zm7 0z"/>
<path stroke="#0a14b4" d="M1146.1 1333zm1 0zm-3 1zm-1 2zm11 1zm-25 5zm-2 3zm-4 2zm-3 5zm-14 11zm-11 11zm-9 3zm35 2zm-44 4zm-4 1zm2 1zm34 3zm-40 1zm37 0zm-41 1zm3 0zm-9 2zm-3 1zm3 0zm41 3zm-51 3zm43 1zm-48 5zm36 0zm-46 1zm6 0zm35 1zm-39 2zm-7 1zm-3 1zm2 0zm-7 3zm32 1zm-34 2zm-10 3zm13 0zm-2 2zm1 0zm9 0zm-22 1zm13 0zm5 0zm-15 2zm4 1zm12 0zm-11 1zm5 0zm-6 1zm8 0z"/>
<path stroke="#0a1eb4" d="M1148.1 1333zm3 4zm-27 10zm-5 2zm-5 36zm-67 18zm2 1zm29 3zm-3 1zm-8 1zm3 0zm-41 12zm3 1zm-3 1zm-14 2z"/>
<path stroke="#0a1ebe" d="M1143.1 1335zm2 0zm2 0zm5 1zm2 0zm-15 2zm10 0zm-14 1zm3 0zm-6 2zm-2 1zm1 1zm20 1zm-25 2zm-17 15zm0 1zm-2 1zm31 0zm-38 8zm-7 4zm26 7zm-2 1zm-11 7zm-45 2zm-10 6zm47 0zm-49 2zm-3 3zm38 0zm-37 1zm34 0zm-20 6zm-6 1zm-29 2zm-1 1zm6 0zm20 1zm-34 5zm15 0zm14 0zm-28 1zm4 0zm1 0zm5 0zm2 0zm5 0zm-1 1zm1 0zm1 0zm-23 1zm0 1zm-5 1zm8 1zm2 1z"/>
<path stroke="#0a1ec8" d="M1153.1 1335zm-3 1zm1 0zm-14 3zm-4 1zm-4 4zm-4 1zm25 1zm-27 3zm18 9zm2 0zm-35 3zm-5 7zm-7 5zm-7 2zm34 3zm-42 4zm1 0zm-1 1zm24 9zm-50 2zm2 0zm45 1zm-7 4zm-59 9zm23 2zm0 2zm-32 3zm4 0zm-15 2zm10 2zm-6 2zm-14 4zm10 0zm1 1z"/>
<path stroke="#0a28c8" d="M1141.1 1336zm5 0zm-7 3zm11 4zm-29 9zm-1 1zm-7 6zm21 5zm2 0zm2 0zm-33 3zm27 0zm-45 11zm35 0zm-39 4zm-7 2zm0 1zm-4 3zm-8 5zm1 0zm38 1zm-5 1zm-6 4zm-51 6zm41 0zm-39 1zm-10 4zm1 0zm29 0zm-30 2zm16 1zm-23 1zm-7 4zm1 0zm-4 1zm8 2zm-12 2zm1 3z"/>
<path stroke="#0a28d2" d="M1149.1 1334zm-1 2zm-6 1zm9 2zm-1 2zm-37 17zm-2 2zm27 1zm-32 3zm-10 11zm17 9zm-1 2zm-45 4zm35 2zm-39 2zm2 3zm-12 3zm-4 1zm-7 6zm3 0zm23 2zm-41 3zm3 0zm-1 3zm2 1zm-5 1zm2 0zm6 1zm-12 1zm1 0zm1 0zm-5 1zm-3 1zm15 0z"/>
<path stroke="#0a32d2" d="M1150.1 1337zm-4 12zm0 3zm-36 10zm19 9zm-3 3zm-62 20zm35 1zm-41 1zm-3 1zm6 0zm18 6zm-34 1zm-3 1zm2 1zm-3 1zm21 0zm0 2zm3 0zm-9 1zm-28 3zm1 3zm-2 2zm10 0z"/>
<path stroke="#0a3cd2" d="M1151.1 1341zm-35 15zm18 9z"/>
<path stroke="#0a3cdc" d="M1142.1 1338zm10 1zm-18 2zm-21 19zm-14 14zm-26 13zm-2 1zm34 3zm-48 6zm42 0zm-45 1zm35 2zm-11 4zm-3 1zm-44 4zm2 2zm2 0zm16 1zm-21 2zm18 1zm2 0zm-20 3zm13 0zm-9 1zm-7 2z"/>
<path stroke="#0a46dc" d="M1136.1 1339zm2 2zm-24 18zm-17 15zm27 2zm-40 4zm-16 13zm-11 5zm-6 2zm40 0zm-17 6zm-4 1zm-53 9zm10 1zm4 0zm2 0zm14 0z"/>
<path stroke="#0a50dc" d="M1150.1 1334zm-27 16zm9 14zm-28 4zm-35 23zm-17 10zm19 6zm-34 1zm20 2zm-4 1zm-26 8zm1 0z"/>
<path stroke="#1414a0" d="M1155.1 1325zm3 1zm-3 1zm1 0zm-3 2zm-2 1zm4 0zm-6 1zm6 0zm-9 1zm1 0zm7 0zm1 0zm-19 1zm8 0zm7 1zm2 0zm2 0zm2 0zm2 0zm-23 2zm21 0zm-25 1zm25 0zm-27 1zm3 0zm4 0zm1 0zm18 0zm-26 1zm2 0zm22 0zm-23 1zm24 0zm-30 2zm31 0zm-35 2zm2 0zm2 0zm27 0zm-33 3zm1 0zm-2 2zm2 0zm33 0zm-4 1zm1 1zm-3 1zm-33 2zm33 0zm-34 3zm-8 2zm3 0zm35 0zm-40 2zm37 0zm-37 1zm38 0zm-40 3zm39 0zm-1 1zm-41 2zm38 0zm-40 1zm1 0zm-3 1zm38 1zm-43 1zm1 0zm-2 1zm41 1zm-41 1zm-10 3zm46 0zm5 0zm-51 1zm3 1zm42 1zm-1 2zm-53 1zm50 1zm-2 1zm3 0zm-6 1zm3 0zm-54 1zm48 1zm2 0zm-54 1zm2 0zm48 0zm1 0zm-56 1zm55 0zm-3 1zm-54 1zm55 1zm1 0zm3 0zm-62 1zm54 0zm1 1zm-2 2zm-60 1zm5 0zm55 0zm2 0zm-63 1zm53 0zm3 0zm-56 2zm3 0zm49 0zm2 0zm-54 1zm54 0zm-66 2zm5 0zm3 0zm47 0zm3 0zm-54 1zm3 0zm-8 1zm51 0zm-51 1zm-7 1zm56 0zm-5 1zm-52 1zm52 0zm-51 1zm43 0zm4 0zm-53 1zm1 0zm3 0zm5 0zm-9 1zm3 0zm46 0zm-52 1zm3 0zm41 0zm2 0zm1 0zm-48 1zm0 1zm2 0zm44 0zm-53 1zm12 0zm32 0zm5 0zm4 0zm-51 2zm5 0zm-15 1zm9 0zm38 1zm3 0zm-44 1zm5 0zm25 0zm5 0zm-34 1zm5 0zm6 0zm10 0zm11 0zm3 0zm4 0zm-3 1zm-37 1zm17 0zm-25 1zm9 0zm2 0zm17 0zm1 0zm3 0zm1 0zm-22 1zm4 0zm13 0zm4 0zm14 0zm-40 1zm11 0zm3 0zm1 0zm11 0zm2 0zm-8 1zm3 0zm5 0zm-28 1zm3 0zm3 0zm2 0zm3 0zm4 0zm1 0zm3 0zm3 0zm4 0zm-24 1zm12 0zm7 0zm-20 1zm-12 1zm11 0zm7 0zm-4 1zm21 0zm-38 2zm2 5zm17 0zm-41 11zm28 1zm-29 1zm10 0zm1 0zm-7 1zm-4 2zm9 0zm-3 1zm14 3zm-6 1zm-16 1zm17 2zm19 2zm-34 1zm-7 1zm15 0zm10 0zm6 0zm-26 2zm2 0zm0 2zm21 1zm-31 1zm37 0zm-27 1zm10 1zm1 0zm-12 1zm20 5zm-7 48zm3 0zm10 0z"/>
<path stroke="#141ea0" d="M1146.1 1328zm-25 17zm-26 18zm39 8zm-6 8zm-8 6zm-2 2zm-69 9zm-1 1zm20 17zm-59 7zm47 0zm-52 3zm10 7zm-28 12zm-24 2zm21 9zm-10 7zm12 0zm-20 2zm-3 3zm2 1zm20 1zm5 3zm-21 1zm19 0zm-11 60z"/>
<path stroke="#1450dc" d="M1149.1 1346zm-57 30zm-18 13zm-18 9zm24 5zm-48 10zm1 1zm14 0z"/>
<path stroke="#145adc" d="M1148.1 1342zm0 2zm-29 12zm-2 2zm20 4zm-9 8zm-45 13zm22 6zm-8 8zm-5 1zm-54 9zm7 1zm14 0zm-11 4zm-13 5zm-9 1z"/>
<path stroke="#1464dc" d="M1099.1 1373zm-11 4zm27 6zm-48 24zm-32 12z"/>
<path stroke="#1464e6" d="M1144.1 1338zm5 3zm-22 7zm-10 9zm18 5zm-26 2zm-43 30zm-5 2zm-10 7zm12 4zm-13 1zm6 3zm-7 1zm-16 3zm1 0zm9 2zm-27 5z"/>
<path stroke="#146ee6" d="M1145.1 1338zm-2 1zm3 11zm-8 10zm-34 7zm-14 9zm-5 5zm27 3zm-44 7zm4 0zm-2 1zm31 2zm-35 1zm-10 4zm8 4zm-1 1zm-21 4zm0 1zm6 0zm10 0zm-3 3zm-21 4zm7 1z"/>
<path stroke="#1478e6" d="M1147.1 1342zm-1 6zm-36 15zm-22 16zm29 0zm-39 7zm30 0zm-34 1zm-1 2zm30 3zm-34 1zm-17 9zm16 3zm-7 2zm-4 1zm-20 1zm17 0zm-7 3zm0 1zm-3 4zm-5 1zm3 0zm-4 1z"/>
<path stroke="#1482e6" d="M1120.1 1355zm-53 41zm-7 2zm1 1zm11 7zm-31 5zm7 0z"/>
<path stroke="#1482f0" d="M1134.1 1342zm15 5zm-24 2zm19 3zm-19 20zm-35 5zm3 0zm-9 5zm16 11zm-2 1zm-31 1zm-8 3zm16 6zm-35 4zm11 0zm2 0zm2 0zm-15 10z"/>
<path stroke="#148ce6" d="M1146.1 1339zm-30 20zm-30 21zm-2 3zm1 0zm22 3zm-38 8zm4 3zm-9 2zm12 5zm-6 1zm-1 2zm-21 1zm-5 1zm6 0zm-9 1zm10 0zm-1 4zm-12 3z"/>
<path stroke="#148cf0" d="M1046.1 1415zm-13 1zm6 0z"/>
<path stroke="#1496e6" d="M1149.1 1343zm-3 2zm-4 11zm-7 4zm-5 6zm-29 9zm-10 1zm-3 4zm29 0zm-6 3zm-7 5zm-34 8zm27 0zm-8 1zm-26 3zm-6 1zm13 3zm-27 6zm-4 2zm9 1zm-14 1z"/>
<path stroke="#1e1ea0" d="M1154.1 1324zm0 3zm-9 1zm4 1zm12 0zm-1 1zm-2 1zm0 1zm3 2zm-23 1zm19 0zm2 1zm7 1zm-41 2zm-1 1zm-3 6zm31 3zm3 1zm-40 2zm-2 3zm33 5zm-44 1zm0 2zm44 0zm-46 2zm-7 1zm4 1zm44 1zm-54 5zm41 4zm-49 1zm-3 1zm-6 3zm57 1zm-61 1zm-4 1zm5 1zm-13 1zm7 0zm-4 1zm3 0zm58 0zm-7 3zm-63 4zm-6 3zm-6 1zm2 2zm-2 1zm0 1zm60 0zm-5 4zm-16 7zm-62 1zm57 0zm-13 1zm7 1zm-63 1zm1 1zm-1 1zm1 1zm2 0zm50 0zm-62 2zm52 0zm6 0zm-3 1zm-60 1zm50 1zm7 0zm-44 1zm-11 1zm-4 1zm6 0zm4 0zm2 0zm1 0zm31 0zm5 0zm1 0zm-35 1zm-7 1zm14 0zm16 0zm-32 1zm16 0zm-13 1zm15 0zm3 0zm-26 1zm22 0zm-23 1zm2 0zm14 0zm6 0zm16 0zm-36 1zm21 0zm-18 1zm-4 1zm2 0zm-2 1zm10 1zm-19 3zm5 0zm16 0zm-4 3zm7 0zm9 0zm-32 2zm27 0zm-25 3zm-31 1zm15 0zm2 0zm21 0zm16 1zm-47 1zm17 0zm8 0zm21 0zm-31 2zm-7 1zm-11 1zm2 0zm16 0zm8 0zm-16 1zm3 0zm1 0zm4 0zm6 0zm-14 1zm1 0zm24 0zm-23 1zm28 1zm-25 1zm16 0zm23 0zm-11 1zm-34 1zm4 0zm2 0zm9 0zm3 0zm4 0zm8 0zm-36 1zm26 1zm8 0zm3 0zm-30 1zm7 0zm6 0zm3 0zm6 0zm-4 1zm-19 1zm35 0zm-43 1zm2 0zm13 0zm25 0zm6 0zm-28 1zm1 0zm13 0zm11 0zm-43 1zm3 0zm16 0zm5 0zm12 0zm-26 1zm1 0zm-5 1zm16 0zm16 0zm-30 1zm12 0zm3 0zm7 1zm-4 2zm7 0zm25 0zm-18 1zm-13 1zm2 0zm-11 1zm8 1zm5 1zm-23 2zm-4 3zm33 9zm-28 34zm2 0zm1 0zm1 0zm5 0zm1 0zm1 0zm3 0zm6 0zm2 0zm13 0zm21 0z"/>
<path stroke="#1e96e6" d="M1126.1 1349zm16 6zm-28 6zm-11 12zm-27 14zm-12 18zm5 0zm-3 1zm-5 2zm-20 2zm-5 5z"/>
<path stroke="#1ea0e6" d="M1146.1 1338zm-3 2zm6 0zm-22 7zm-8 10zm21 0zm-1 2zm-24 1zm-4 4zm18 2zm-23 1zm7 16zm-31 2zm2 0zm-11 3zm2 1zm-4 5zm-16 4zm7 1zm1 2zm11 2zm-22 1zm2 0zm17 2zm-32 4zm6 1zm-10 1zm0 1zm10 0zm1 0zm-8 2zm4 2z"/>
<path stroke="#1eaae6" d="M1147.1 1341zm-4 1zm-14 5zm-2 2zm17 1zm1 0zm-2 1zm-20 1zm20 1zm-12 11zm-3 4zm-27 4zm-9 5zm-6 6zm-7 4zm-1 1zm10 11zm-28 1zm-1 1zm22 0zm-17 1zm2 1zm-16 1zm3 1zm2 0zm12 0zm-26 3zm8 0zm9 0zm-14 1zm3 1zm-5 1zm-6 1z"/>
<path stroke="#1eb4e6" d="M1144.1 1340zm1 2zm2 1zm-16 3zm13 0zm-3 10zm-33 11zm-8 6zm22 1zm-3 3zm-38 9zm-2 3zm24 0zm-29 1zm17 7zm-36 2zm6 1zm7 1zm0 2zm7 0zm-7 1zm-7 1zm-20 8zm1 0zm3 1zm1 0z"/>
<path stroke="#1ebee6" d="M1129.1 1345zm-31 32zm9 10zm-30 2zm-6 4zm16 4zm-21 8zm-26 7z"/>
<path stroke="#2828a0" d="M1147.1 1324zm13 1zm-4 1zm-9 1zm16 1zm3 0zm-44 15zm36 1zm-38 2zm22 19zm-49 3zm41 5zm7 0zm-11 4zm2 1zm-58 1zm3 2zm-22 8zm-8 7zm-8 4zm62 2zm-76 1zm5 0zm-1 1zm-11 1zm2 0zm69 0zm4 0zm-73 4zm3 1zm-12 3zm64 0zm-72 4zm-11 3zm65 1zm-59 2zm-8 1zm48 3zm-43 4zm1 0zm33 0zm-43 1zm48 0zm-53 2zm3 0zm3 0zm3 0zm2 1zm8 2zm3 0zm-42 2zm5 0zm21 0zm10 1zm-43 1zm56 1zm-29 1zm25 2zm-16 1zm-24 1zm-3 1zm2 1zm16 0zm8 0zm-20 1zm11 0zm15 0zm10 0zm-52 2zm43 0zm-23 1zm2 1zm-14 1zm1 1zm21 0zm1 0zm-26 2zm26 0zm-23 1zm-21 2zm6 0zm33 0zm2 2zm19 0zm-11 1zm19 0zm-65 1zm31 0zm14 0zm7 0zm-36 1zm4 1zm3 1zm-27 1zm54 0zm-35 2zm46 0zm-4 1zm-4 1zm-23 1zm-3 1zm5 0zm12 0zm-11 2zm-7 1zm26 0zm-37 1zm-6 1zm14 0zm17 0zm5 0zm-45 1zm12 0zm41 0zm-20 1zm2 0zm-25 2zm-8 1zm35 0zm-3 1zm-6 1zm8 4zm13 0zm0 2zm-16 1zm-20 3zm3 35zm2 0zm8 0zm26 0zm17 0z"/>
<path stroke="#2828aa" d="M1149.1 1325zm10 0zm1 3zm-21 1zm-5 5zm-6 1zm39 3zm-54 10zm6 41zm-108 18zm16 0zm-12 1zm67 4zm-70 2zm-6 3zm55 1zm-54 1zm46 4zm1 2zm-23 5zm-21 4zm14 0zm-18 2zm10 1zm-4 1zm-36 1zm1 1zm34 0zm-27 1zm-22 2zm45 0zm-5 2zm-12 2zm1 0zm-51 2zm28 0zm5 0zm24 2zm-12 1zm12 0zm-22 1zm-25 3zm68 0zm-8 1zm-22 2zm5 1zm-65 2zm65 2zm-14 1zm-22 4zm18 2zm-25 1zm38 0zm-23 1zm-2 2zm-8 1zm11 8zm22 0zm-27 2zm23 0zm-10 3zm3 5zm-32 38zm15 0zm22 0z"/>
<path stroke="#28bee6" d="M1132.1 1344zm-1 1zm12 0zm-25 13zm12 7zm-4 4zm-24 5zm-11 4zm-15 11zm25 2zm-31 4zm14 5zm-29 2zm4 0zm4 3z"/>
<path stroke="#28c8e6" d="M1143.1 1341zm-5 18zm-31 8zm-1 1zm-3 3zm-6 5zm2 0zm3 13zm-27 3zm-4 4zm-2 1zm3 0zm11 1zm3 1zm-34 4zm13 1zm0 2zm4 0zm-10 1zm-19 8zm2 0zm-1 1z"/>
<path stroke="#28d2a0" d="M1138.1 1343zm4 8zm-3 6zm-17 1zm-51 40zm6 3z"/>
<path stroke="#28d2aa" d="M1134.1 1344zm-3 3zm5 12zm-27 7zm0 16zm-26 5zm19 0zm-19 1zm1 0zm14 3zm2 0zm-30 11zm1 0zm-2 1zm-8 1z"/>
<path stroke="#28d2b4" d="M1127.1 1368zm-24 6zm5 10zm-24 3zm-7 3zm3 1zm-7 1zm0 4zm9 2zm6 0zm-19 3zm2 4zm-30 7zm3 1z"/>
<path stroke="#28d2be" d="M1138.1 1344zm3 10zm-21 2zm-7 6zm-6 9zm-4 1zm18 4zm-22 2zm-16 6zm21 2zm-3 3zm-33 13z"/>
<path stroke="#28d2c8" d="M1143.1 1352zm-39 21zm-47 29zm15 0zm-14 1zm6 1zm2 0zm-12 1zm-6 1zm-4 8z"/>
<path stroke="#28d2d2" d="M1143.1 1348zm-21 7zm13 4zm-31 12zm-20 15zm16 6zm-31 12zm-14 2zm2 0zm-20 7z"/>
<path stroke="#28d2dc" d="M1132.1 1363zm-9 8zm-33 8zm22 3zm-2 1zm0 1zm-30 5zm-4 1zm-4 5zm20 0zm-6 3zm-28 4zm22 0zm-38 14z"/>
<path stroke="#28d2e6" d="M1142.1 1341zm2 3zm1 1zm-22 8zm18 2zm-3 2zm-30 9zm-3 4zm-18 13zm25 0zm-32 5zm-6 5zm20 2zm1 0zm1 0zm-24 1zm-4 2zm-1 1zm3 1zm13 0zm-29 1zm6 1zm-6 1zm7 0zm-5 2zm-12 6zm-4 3z"/>
<path stroke="#3232aa" d="M1159.1 1319zm5 0zm-13 2zm14 1zm-6 1zm5 2zm2 2zm-31 6zm26 8zm-5 5zm-1 5zm2 3zm-51 2zm47 0zm-60 13zm-12 5zm55 3zm-73 9zm-8 2zm-2 1zm68 4zm-82 2zm70 2zm-82 1zm84 0zm-1 5zm-13 1zm-80 3zm5 1zm-10 1zm74 3zm-87 3zm97 0zm-98 1zm-2 1zm2 1zm-8 2zm4 4zm2 0zm-3 1zm58 0zm-74 2zm5 0zm59 1zm-40 3zm26 3zm-8 1zm-22 3zm0 1zm16 0zm-13 1zm-42 2zm33 0zm-26 1zm13 1zm15 1zm-41 3zm13 0zm20 0zm12 0zm-58 2zm43 0zm-52 1zm43 0zm15 0zm4 0zm-48 2zm38 0zm22 0zm18 0zm2 0zm-52 3zm21 0zm3 0zm-51 1zm16 0zm26 0zm32 0zm-69 1zm58 1zm-60 1zm53 0zm11 1zm-70 1zm9 0zm1 0zm9 0zm17 1zm22 1zm10 3zm-22 1zm16 0zm-51 1zm-8 1zm7 0zm-19 1zm55 0zm20 0zm-23 2zm-48 2zm5 0zm-2 1zm57 0zm-19 1zm19 0zm11 0zm-71 2zm26 0zm32 0zm13 0zm-39 2zm-11 2zm17 0zm16 1zm6 0zm-50 2zm23 1zm13 0zm-7 1zm8 0zm19 0zm0 2zm-50 1zm29 1zm7 0zm-31 1zm37 1zm-38 1zm17 1zm-27 1zm35 0zm-15 2zm15 9zm-52 1zm7 23zm14 0zm7 0zm21 0zm7 0zm1 0zm6 0zm22 0zm5 0zm8 0z"/>
<path stroke="#32d26e" d="M1142.1 1350zm-53 44z"/>
<path stroke="#32d278" d="M1135.1 1344zm1 14zm-5 2zm-14 1zm-1 2zm-3 3zm7 8zm-24 4zm-4 1zm1 0zm-3 2zm5 11zm-21 6z"/>
<path stroke="#32d282" d="M1136.1 1345zm-2 1zm-8 6zm12 6zm-7 4zm-10 10zm-4 6zm-26 2zm19 2zm-22 1zm21 0zm-5 2zm-2 1zm-12 10zm-17 2zm12 0z"/>
<path stroke="#32d28c" d="M1144.1 1345zm-12 1zm11 4zm-31 15zm-6 6zm-13 7zm-4 1zm0 2zm20 0zm-20 1zm-3 3zm-9 7zm-1 2zm15 1zm-16 2zm9 0zm-12 1zm7 2zm3 0zm-3 1z"/>
<path stroke="#32d296" d="M1134.1 1345zm-6 4zm11 5zm-5 5zm-9 10zm-10 10zm-26 1zm26 0zm-33 8zm18 2zm-7 5zm-21 5zm3 1zm4 1zm-24 1z"/>
<path stroke="#32d2a0" d="M1128.1 1366zm-25 10zm-3 3zm-21 12z"/>
<path stroke="#32dc64" d="M1132.1 1348zm-5 3zm-5 6zm10 0zm-12 4zm-10 6zm16 1zm-22 1zm18 2zm-19 4zm-6 3zm17 2zm-10 3zm-1 1zm1 0zm-3 4zm-3 1zm-17 1zm-3 11zm-22 3z"/>
<path stroke="#32dc6e" d="M1132.1 1349zm8 5zm-6 4zm-17 4zm-12 10zm0 1zm14 2zm-42 20zm0 5z"/>
<path stroke="#3c3caa" d="M1157.1 1318zm6 2zm-11 3zm15 2zm-30 6zm-19 3zm-11 15zm-22 20zm42 13zm6 0zm-70 1zm-32 15zm3 0zm-5 2zm75 4zm-111 10zm83 1zm1 2zm13 0zm-26 2zm9 1zm-111 2zm20 6zm0 1zm-4 4zm57 0zm-80 1zm-7 2zm17 0zm61 0zm-74 2zm-19 1zm84 0zm-28 1zm39 1zm-111 1zm30 0zm60 0zm-28 1zm-41 1zm68 0zm-32 2zm-25 1zm27 0zm-28 4zm37 2zm32 0zm-71 1zm70 0zm-73 2zm64 3zm-75 1zm13 1zm45 0zm-59 1zm83 2zm-65 1zm59 0zm-60 4zm30 0zm48 0zm-83 1zm-9 1zm80 0zm-67 1zm-10 2zm64 0zm2 1zm37 2zm-104 1zm7 0zm64 0zm-51 2zm18 0zm24 2zm29 1zm-80 1zm44 2zm1 1zm-54 2zm53 1zm-13 1zm5 3zm-36 1zm36 0zm-10 2zm-12 2zm13 2zm18 6zm-6 1zm-10 9zm-21 15zm37 0zm2 0zm3 0zm11 0zm1 0zm4 0z"/>
<path stroke="#3c3cb4" d="M1167.1 1323zm-21 1zm19 7zm-69 23zm-51 31zm79 4zm-83 3zm-40 19zm69 11zm-21 5zm-80 15zm7 0zm-24 1zm84 1zm-43 5zm19 0zm-95 2zm88 0zm-53 1zm62 1zm18 0zm-78 1zm-22 7zm85 2zm-86 2zm69 2zm-77 9zm88 3zm-14 6zm-31 2zm3 0zm-3 5zm-11 7zm45 0zm0 3zm-58 2zm6 2zm15 1zm-30 11zm-19 14zm30 0zm5 0zm8 0zm27 0zm22 0z"/>
<path stroke="#3cdc5a" d="M1136.1 1346zm-16 11zm-2 4zm-4 3zm-15 25zm-2 2zm-17 9z"/>
<path stroke="#3cdc64" d="M1143.1 1343zm-5 2zm4 0zm-1 6zm-13 1zm4 8zm-7 8zm-1 2zm-41 20zm12 3z"/>
<path stroke="#46dc5a" d="M1139.1 1344zm1 3zm2 0zm-8 1zm7 2zm-13 1zm-18 17zm-5 3zm15 2zm-16 2zm12 1zm-12 1zm-3 1zm-22 14zm15 1zm-13 3zm-7 1zm4 3z"/>
<path stroke="#50dc50" d="M1143.1 1344zm-6 1zm-17 14zm-5 4zm13 1zm-4 3zm-2 5zm-19 5zm9 1zm-19 2zm13 0zm1 0zm-6 3zm-16 5zm12 2z"/>
<path stroke="#50dc5a" d="M1106.1 1370zm-26 23zm1 5zm-7 2z"/>
<path stroke="#5adc50" d="M1140.1 1346zm-16 9zm14 1zm-17 2zm-2 2zm0 1zm-6 4zm1 0zm-15 12zm-10 9zm-2 1zm-2 3zm-5 2zm8 3zm-14 1zm4 0zm4 1z"/>
<path stroke="#64dc46" d="M1137.1 1346zm1 8zm-1 2zm-9 6zm-21 7zm1 11zm1 0zm-2 1zm0 1zm-23 9zm-2 2zm-5 1zm5 0zm-6 3zm-1 3z"/>
<path stroke="#64dc50" d="M1078.1 1399z"/>
<path stroke="#6edc3c" d="M1115.1 1364z"/>
<path stroke="#6edc46" d="M1138.1 1353zm-17 6zm-12 11zm14 0zm-18 8zm5 0zm-5 3zm-17 3zm17 0zm-17 1zm0 4zm-7 2zm0 1zm0 3z"/>
<path stroke="#78dc3c" d="M1135.1 1347zm-5 1zm10 4zm-24 12zm-5 4zm12 4zm-8 4zm-16 3zm-1 1zm8 1zm-4 2zm-5 4zm4 0zm-16 2zm5 4zm2 0zm-14 5z"/>
<path stroke="#82dc32" d="M1130.1 1351zm-12 23zm-5 3zm-12 5zm0 2z"/>
<path stroke="#82dc3c" d="M1141.1 1344zm-5 3zm-8 6zm-6 7zm7 2zm-3 4zm-9 9zm-13 1zm-2 3zm7 0zm-23 10zm2 3z"/>
<path stroke="#8cdc32" d="M1139.1 1348zm2 0zm-2 2zm-1 1zm-12 2zm11 0zm2 0zm-7 5zm-6 6zm-9 1zm7 0zm-12 3zm-7 6zm12 0zm-15 2zm13 2zm-20 1zm-4 2zm-2 3zm-1 10zm-6 1zm5 1zm-10 1zm1 0zm2 1z"/>
<path stroke="#96dc28" d="M1139.1 1351zm-12 12zm-7 7zm-2 3zm-8 1zm1 5zm-25 8zm-2 6zm-4 4z"/>
<path stroke="#96dc32" d="M1138.1 1349zm-25 30zm-25 8zm-1 4zm9 0z"/>
<path stroke="#a0dc28" d="M1137.1 1348zm-2 4zm-10 4zm1 0zm-11 11zm4 4zm-17 7zm-5 2zm11 1zm-4 1zm-13 2zm-8 10zm-4 1z"/>
<path stroke="#aadc28" d="M1138.1 1346zm-6 1zm-14 20zm5 0zm-7 1zm6 1zm-12 2zm1 1zm-4 1zm3 3zm-3 3zm-14 2zm10 0zm-3 1zm3 0zm-13 2zm10 1zm0 1zm-12 5zm2 1z"/>
<path stroke="#b4dc1e" d="M1127.1 1361zm-19 10z"/>
<path stroke="#b4dc28" d="M1138.1 1350zm-4 6zm-23 13zm3 3zm-1 4zm-14 6zm-10 5zm0 3zm-8 3z"/>
<path stroke="#bedc1e" d="M1137.1 1351zm-8 6zm6 0zm-8 5zm-11 3zm3 0zm-2 1zm4 0zm2 0zm-13 3zm5 1zm3 0zm-22 11zm-4 1zm10 0zm-11 1zm1 0zm5 3zm-6 4zm-2 2z"/>
<path stroke="#c8dc1e" d="M1133.1 1350zm2 0zm2 0zm-10 5zm7 0zm-4 1zm-1 4zm-4 5zm-2 3zm-11 1zm8 2zm-7 2zm-2 3zm-9 4zm-4 5zm1 1zm-7 3zm-9 3z"/>
<path stroke="#d2dc1e" d="M1132.1 1351zm-11 11zm1 2zm-2 4zm-1 1zm2 2zm-14 1zm1 2zm1 2zm-17 4zm6 2zm8 0zm-3 1z"/>
<path stroke="#dcdc14" d="M1137.1 1347zm-1 3zm2 2zm-14 5zm5 1zm-6 1zm3 4zm-6 1zm-5 4zm2 0zm-7 4zm0 1zm-1 1zm0 1zm-7 6zm-12 6zm-4 3z"/>
<path stroke="#dcdc1e" d="M1135.1 1349zm1 4zm-14 12zm-6 4zm0 2zm-2 4zm-15 8zm-1 1zm-5 7z"/>
<path stroke="#e61e00" d="M1126.1 1358zm-32 27z"/>
<path stroke="#e62800" d="M1114.1 1369zm-20 14z"/>
<path stroke="#e6dc14" d="M1130.1 1353zm-3 7zm1 1zm-19 11zm2 1zm-17 17zm0 1zm0 1z"/>
<path stroke="#f03200" d="M1133.1 1353z"/>
<path stroke="#f0be14" d="M1131.1 1354zm-9 8zm0 4zm-7 6zm-3 3zm-15 8z"/>
<path stroke="#f0c814" d="M1131.1 1353zm-1 2zm-6 6zm-4 8zm-11 2zm2 4zm-15 10zm0 1zm0 3z"/>
<path stroke="#f0d214" d="M1132.1 1352zm-6 8z"/>
<path stroke="#f0dc14" d="M1134.1 1351zm2 1zm-3 4zm-8 1zm-4 4zm3 1zm2 0zm-3 3zm-7 1zm3 1zm-2 2zm-10 5zm-1 1zm-14 9zm-3 4zm1 0z"/>
<path stroke="#fa6400" d="M1095.1 1387z"/>
<path stroke="#fa6e00" d="M1127.1 1357zm-33 25zm1 2z"/>
<path stroke="#fa7800" d="M1131.1 1355zm-10 13zm-27 18z"/>
<path stroke="#fa8200" d="M1092.1 1390z"/>
<path stroke="#fa960a" d="M1126.1 1357zm-2 3zm-12 12zm-19 11zm0 2z"/>
<path stroke="#faa00a" d="M1134.1 1350zm-5 3zm-5 6zm2 0zm-3 2zm-2 2zm-2 5zm-5 3zm4 0zm-7 3zm-18 12zm1 3zm-1 1zm-1 1z"/>
<path stroke="#faaa0a" d="M1133.1 1355zm-2 2zm-3 2zm0 1zm-7 4zm4 0zm-8 7zm-24 18zm2 0zm1 1z"/>
<path stroke="#fab40a" d="M1134.1 1354zm-5 1zm-3 6zm-6 6zm1 0zm-3 2zm-21 12zm-1 7zm-5 3z"/>
<path stroke="#fabe0a" d="M1132.1 1353zm-4 1zm5 0zm-8 4zm-1 5zm-9 8zm-24 14z"/>
<path stroke="#ff8c00" d="M1092.1 1386z"/>
<path stroke="#0a14a0" d="M572.8 1615zm-5 1zm-3 2zm-9 1zm16 1zm-3 1zm2 0zm0 2zm-25 2zm-7 3zm-2 3zm27 5zm-2 2zm1 1zm1 0zm-3 1zm-40 3zm37 0zm-41 1zm39 2zm-41 2zm-5 2zm-11 9zm42 1zm-10 4zm-53 4zm0 2zm-2 3zm43 1zm-47 1zm-3 1zm48 0zm-48 1zm-2 1zm41 1zm-41 1zm-1 2zm40 0zm-3 1zm-9 1zm13 0zm-44 1zm1 1zm20 1zm5 0zm-23 1zm-4 1zm17 0zm5 0zm-5 1zm-14 1zm15 0zm2 0zm3 0zm-10 1zm-18 1zm3 0zm1 0zm4 0zm-8 1zm15 0zm-9 1zm3 1zm2 0zm-61 48zm-7 3zm-16 1zm27 0zm-16 2zm-9 1zm17 1zm1 0zm3 0zm-13 1zm-22 1zm12 0zm9 0zm2 0zm4 0zm7 1zm-12 1zm11 0zm-10 2zm0 1zm-7 2zm16 0zm-30 1zm22 0zm3 0zm-19 1zm6 0zm10 0zm-13 1zm7 0zm5 1zm6 0zm-15 2zm1 1z"/>
<path stroke="#0a14aa" d="M570.8 1612zm1 2zm1 0zm-8 1zm8 1zm-5 1zm2 0zm-8 1zm1 0zm4 0zm-4 1zm5 0zm-7 1zm7 0zm2 0zm-14 1zm-5 1zm1 0zm17 0zm-1 1zm-28 4zm27 5zm-43 7zm-6 6zm-6 2zm2 0zm-3 2zm-1 2zm-6 2zm1 0zm43 0zm-46 1zm43 1zm-47 5zm-8 1zm47 0zm-4 2zm2 0zm-1 1zm1 0zm-5 2zm-44 2zm35 4zm-8 4zm3 0zm-45 3zm42 0zm-8 1zm-10 3zm-30 1zm26 0zm-29 1zm4 0zm25 0zm-28 1zm31 0zm-33 2zm21 0zm2 0zm-2 1zm-12 1zm-4 1zm3 1zm4 2zm-67 50zm-1 2zm1 1zm-6 1zm-18 1zm21 0zm2 1zm2 0zm-17 1zm20 0zm-24 1zm9 0zm10 0zm-19 1zm17 0zm-3 1zm6 0zm-31 3zm8 0zm18 4zm-7 1z"/>
<path stroke="#0a14b4" d="M565.8 1618zm-1 2zm4 0zm-3 1zm-10 1zm-14 5zm24 0zm-29 3zm-2 3zm-4 3zm27 6zm-38 3zm-7 2zm0 2zm-7 2zm39 2zm-42 1zm43 0zm-5 4zm-4 2zm-48 4zm42 1zm-42 1zm-3 1zm-4 2zm-2 2zm-4 1zm-3 3zm41 2zm0 1zm-45 1zm38 1zm-9 2zm-30 1zm-4 1zm1 1zm23 0zm-5 2zm0 1zm0 1zm2 0zm-16 1zm4 0zm1 0zm-7 1zm5 0zm-9 1zm11 0zm7 0zm-11 1zm0 1zm1 0zm-5 1zm-80 47zm17 2zm3 8z"/>
<path stroke="#0a1eb4" d="M571.8 1615zm-3 1zm-2 1zm-1 11zm-31 6zm28 6zm-55 12zm36 6zm-54 6zm40 0zm-43 3zm-8 4zm2 1zm-11 4zm37 2zm-28 7zm-15 6zm13 1zm-16 4z"/>
<path stroke="#0a1ebe" d="M565.8 1617zm1 3zm1 1zm-15 2zm-8 2zm0 1zm-6 3zm27 0zm1 1zm-2 1zm2 0zm-2 4zm-35 3zm-6 5zm-3 3zm32 1zm-3 2zm-37 1zm35 2zm-42 1zm4 0zm-5 1zm38 0zm-42 2zm-5 5zm40 0zm-43 2zm2 0zm35 0zm1 0zm-41 2zm42 0zm-53 7zm-5 2zm42 1zm2 0zm-47 2zm34 2zm1 0zm-39 2zm21 3zm5 0zm-19 1zm2 0zm11 0zm-4 1zm4 0zm1 0zm-12 1zm-14 1zm3 0zm11 0zm-13 1zm9 0zm1 0zm2 0zm-6 2zm-71 62zm-2 5z"/>
<path stroke="#0a1ec8" d="M552.8 1622zm4 0zm-6 2zm-9 4zm-3 2zm-10 9zm1 1zm-4 1zm2 0zm30 0zm-36 1zm4 0zm29 2zm-8 7zm-42 4zm32 4zm1 0zm-39 2zm28 5zm-43 5zm35 2zm-38 1zm-4 1zm-4 2zm-4 6zm2 2zm0 1zm3 0zm10 0zm-10 3zm4 0z"/>
<path stroke="#0a28c8" d="M548.8 1623zm1 0zm-10 5zm26 4zm-1 2zm-37 8zm-5 2zm-5 3zm-3 2zm29 4zm-6 5zm-39 2zm36 1zm-10 5zm-44 4zm3 0zm33 4zm-6 2zm-39 1zm3 3zm29 0zm-23 1zm11 0zm-15 1zm-6 1zm2 0zm4 2zm5 0zm-12 3zm3 0z"/>
<path stroke="#0a28d2" d="M565.8 1624zm-2 1zm1 0zm2 3zm-3 7zm-2 1zm-29 1zm25 2zm-31 2zm0 1zm-2 1zm-21 12zm34 2zm1 0zm-43 5zm30 2zm3 0zm-48 7zm4 0zm-6 2zm1 0zm-6 6zm25 0zm2 0zm-23 2zm1 0zm-8 1zm-1 1zm15 1zm1 0zm-14 3zm-1 1z"/>
<path stroke="#0a32d2" d="M562.8 1621zm3 1zm-19 4zm17 0zm1 0zm0 1zm-32 13zm22 3zm-21 16zm-34 1zm33 0zm-45 8zm33 1zm0 1zm-5 4zm-36 3zm-8 3zm10 3zm-12 1zm-1 1z"/>
<path stroke="#0a3cd2" d="M496.8 1662zm-14 23z"/>
<path stroke="#0a3cdc" d="M528.8 1641zm-20 13zm-8 4zm0 2zm-15 12zm31 1zm-42 3zm35 0zm-34 1zm32 0zm-38 4zm23 0zm6 0zm-26 1zm11 0zm-12 4zm-1 5z"/>
<path stroke="#0a46dc" d="M555.8 1623zm4 1zm3 1zm-36 18zm19 7zm-40 6zm14 13zm-6 5zm-36 1zm5 0zm-6 1zm-2 2zm0 3zm7 1zm-6 1zm1 0zm-7 3zm1 1zm9 0z"/>
<path stroke="#0a50dc" d="M538.8 1631zm21 5zm-27 2zm11 14zm-42 5zm29 4zm-39 4zm26 7zm-37 1zm2 0zm7 7zm-10 2zm9 2z"/>
<path stroke="#1414a0" d="M567.8 1611zm8 0zm-8 1zm10 0zm-14 1zm7 0zm-9 1zm6 0zm3 0zm3 0zm1 0zm-4 1zm5 0zm-16 1zm1 0zm1 0zm3 0zm10 0zm2 0zm-17 1zm-2 1zm3 0zm3 0zm12 0zm-23 1zm6 0zm2 0zm11 0zm-20 1zm2 0zm1 0zm18 0zm-25 1zm1 0zm2 0zm24 0zm-5 1zm2 0zm-20 1zm-9 1zm29 1zm-32 1zm-4 1zm0 2zm35 0zm-1 2zm-3 2zm-38 2zm38 0zm-38 1zm-5 1zm4 0zm39 0zm1 0zm1 0zm-3 2zm-5 2zm-41 1zm-2 1zm40 1zm-46 1zm46 0zm-44 1zm0 2zm-5 1zm44 0zm1 0zm-50 1zm3 0zm42 0zm-41 1zm44 0zm-51 1zm51 0zm-49 1zm47 1zm-2 1zm-4 1zm-44 1zm-4 1zm0 1zm-12 1zm9 0zm1 0zm46 0zm-1 1zm1 0zm-51 1zm2 0zm1 0zm45 0zm3 0zm-57 3zm-4 2zm49 1zm1 0zm-53 1zm0 1zm48 0zm2 0zm-52 1zm49 0zm-50 1zm0 1zm-8 1zm6 0zm51 0zm-54 2zm-3 1zm1 0zm4 0zm47 0zm-2 1zm-57 1zm6 0zm51 0zm2 0zm-56 2zm1 0zm1 0zm2 0zm-4 1zm4 0zm36 0zm4 0zm6 0zm-54 1zm5 0zm1 0zm-3 1zm37 0zm-3 1zm9 0zm-45 1zm1 0zm2 0zm34 0zm2 0zm3 0zm-40 1zm6 0zm11 0zm16 0zm3 0zm-40 1zm3 0zm28 0zm2 0zm-37 1zm4 0zm24 0zm9 0zm-30 1zm3 0zm26 0zm-32 1zm2 0zm21 0zm-21 1zm22 0zm7 0zm1 0zm-12 1zm1 0zm4 0zm3 0zm-20 1zm10 0zm-14 1zm1 0zm6 0zm8 0zm1 0zm2 0zm1 0zm2 0zm-26 1zm7 0zm3 0zm5 0zm9 0zm-19 1zm2 0zm5 0zm-6 1zm9 0zm-11 1zm3 0zm3 0zm-4 1zm-79 36zm8 1zm-5 1zm24 0zm-23 1zm5 0zm11 0zm12 0zm3 0zm-30 1zm4 0zm15 0zm2 0zm-20 1zm1 0zm8 0zm6 0zm2 0zm1 0zm-28 1zm7 0zm7 0zm2 0zm5 0zm8 0zm2 0zm4 0zm4 0zm1 0zm1 0zm-32 1zm10 0zm2 0zm4 0zm2 0zm5 0zm-59 1zm21 0zm5 0zm3 0zm3 0zm3 0zm2 0zm5 0zm1 0zm10 0zm-32 1zm11 0zm6 0zm6 0zm7 0zm3 0zm3 0zm8 0zm-43 1zm1 0zm5 0zm7 0zm6 0zm2 0zm1 0zm3 0zm3 0zm5 0zm1 0zm2 0zm2 0zm3 0zm8 0zm-42 1zm1 0zm3 0zm6 0zm1 0zm1 0zm3 0zm3 0zm9 0zm-36 1zm8 0zm9 0zm1 0zm5 0zm1 0zm4 0zm6 0zm-34 1zm2 0zm1 0zm1 0zm3 0zm6 0zm3 0zm22 0zm-42 1zm6 0zm4 0zm4 0zm8 0zm7 0zm3 0zm3 0zm2 0zm7 0zm-22 1zm2 0zm2 0zm3 0zm11 0zm4 0zm-30 1zm6 0zm1 0zm5 0zm6 0zm1 0zm-34 1zm10 0zm4 0zm20 0zm7 0zm-32 1zm1 0zm3 0zm6 0zm13 0zm-20 1zm2 0zm1 0zm1 0zm5 0zm3 0zm12 0zm9 0zm-44 1zm11 0zm3 0zm1 0zm10 0zm4 0zm3 0zm2 0zm2 0zm3 0zm4 0zm5 0zm-42 1zm5 0zm9 0zm3 0zm2 0zm1 0zm2 0zm1 0zm9 0zm9 0zm-29 1zm7 0zm5 0zm3 0zm5 0zm-28 1zm4 0zm1 0zm9 0zm9 0zm5 0zm-19 1zm1 0zm8 0zm2 0zm2 0zm7 0zm-33 1zm9 0zm12 0zm2 0zm7 0zm2 0zm-33 1zm6 0zm4 0zm5 0zm1 0zm2 0zm10 0zm5 0zm-30 1zm1 0zm3 0zm3 0zm10 0zm3 0zm3 0zm12 0zm1 0zm-41 1zm4 0zm5 0zm2 0zm12 0zm10 0zm2 0zm-28 1zm1 0zm2 0zm3 0zm3 0zm4 0zm1 0zm13 0zm1 0zm5 0zm2 0zm-33 1zm8 0zm2 0zm4 0zm4 0zm2 0zm3 0zm9 0zm-33 1zm1 0zm3 0zm1 0zm9 0zm4 0zm2 0zm1 0zm14 0zm2 0zm2 0zm-41 1zm4 0zm2 0zm34 0zm-48 1zm17 0zm1 0zm2 0zm2 0zm1 0zm20 0zm-26 1zm26 0zm1 0zm7 0zm-26 1zm1 0zm1 0zm17 0zm-27 1zm9 0zm5 0zm15 0zm-15 1zm-20 55zm4 0zm3 0zm1 0zm1 0zm6 0zm2 0zm4 0zm1 0z"/>
<path stroke="#141ea0" d="M570.8 1630zm-6 10zm-63 12zm40 12zm-68 5zm-3 4zm-1 1zm-4 7zm32 4zm-44 4zm12 8zm-80 33zm9 7zm26 1zm-35 2zm16 0zm16 0zm-59 6zm10 2zm3 1zm6 1zm4 2zm-10 1zm58 1zm-22 2zm-28 2zm22 2zm14 1zm-23 1zm-23 1zm50 0zm-22 3zm-17 1zm25 0zm-14 2zm-2 2zm9 4zm6 1zm-23 2zm10 4zm9 0zm-38 46zm17 0z"/>
<path stroke="#1450dc" d="M557.8 1624zm1 0zm-35 20zm-4 24zm-11 8zm-14 4zm-23 2z"/>
<path stroke="#145adc" d="M552.8 1624zm6 15zm-3 3zm-3 3zm0 1zm-40 5zm-6 3zm34 1zm-4 1zm-42 8zm27 2zm-34 3zm-1 1zm0 2zm13 6zm-21 2zm13 0zm4 0zm-24 1zm2 1zm7 1z"/>
<path stroke="#1464dc" d="M554.8 1625zm-11 2zm-7 8zm-1 2zm-53 37zm27 1zm-5 2zm-20 6z"/>
<path stroke="#1464e6" d="M543.8 1628zm19 3zm-6 9zm-30 4zm24 0zm-27 1zm21 4zm-34 4zm23 7zm-18 11zm-5 3zm1 0zm-14 1zm4 1zm-25 2zm4 1zm13 0zm6 0zm-24 1zm7 0zm-3 4zm-10 1zm2 0z"/>
<path stroke="#146ee6" d="M562.8 1628zm1 2zm0 1zm-27 5zm17 8zm-4 4zm-33 2zm-6 2zm2 0zm26 3zm-35 1zm34 0zm-5 2zm3 0zm-9 2zm3 1zm-43 7zm2 1zm-3 2zm29 1zm-33 1zm31 2zm-9 2zm-5 1zm-6 2zm-18 5zm5 0zm-1 1z"/>
<path stroke="#1478e6" d="M556.8 1624zm4 3zm3 5zm-30 7zm23 2zm-28 1zm26 0zm-46 13zm27 2zm-12 8zm-29 1zm-5 3zm27 3zm-35 2zm-3 1zm4 1zm16 1zm-15 2zm-2 1zm8 1zm-18 3z"/>
<path stroke="#1482e6" d="M539.8 1632zm-35 24zm0 20zm-23 2zm15 0z"/>
<path stroke="#1482f0" d="M562.8 1626zm-2 3zm-20 1zm18 4zm1 1zm-25 2zm-20 15zm-21 14zm-2 1zm21 7zm-33 1zm2 0zm26 0zm-21 1zm16 0zm5 0zm-7 1zm-21 3zm1 2z"/>
<path stroke="#148ce6" d="M562.8 1633zm-2 1zm-46 17zm25 3zm-47 11zm26 5zm-3 3zm-20 3zm-20 5zm12 0z"/>
<path stroke="#148cf0" d="M561.8 1634zm-32 9zm-19 11zm24 4zm-4 1zm-5 4zm-40 14zm14 0zm-22 6zm5 0z"/>
<path stroke="#1496e6" d="M550.8 1625zm9 0zm-15 3zm-23 17zm25 4zm-43 9zm-12 8zm-2 1zm5 0zm3 11zm-13 1zm4 2z"/>
<path stroke="#1e1ea0" d="M568.8 1608zm3 0zm-2 1zm0 1zm13 0zm-19 1zm9 0zm4 1zm-16 1zm5 0zm10 1zm-23 2zm24 1zm-2 2zm3 0zm-27 1zm24 2zm-37 1zm34 0zm0 1zm2 1zm-36 2zm34 0zm-39 1zm-3 4zm39 1zm-42 1zm3 1zm41 0zm-47 3zm47 0zm-51 1zm-7 3zm5 0zm45 0zm2 0zm-50 1zm46 0zm2 2zm-5 3zm-8 4zm4 0zm4 0zm-58 1zm-13 5zm61 0zm-59 1zm4 0zm51 0zm-54 1zm-3 1zm-7 3zm1 2zm52 0zm5 0zm-63 1zm-15 5zm66 0zm-67 6zm-2 1zm3 1zm57 0zm4 0zm-11 2zm9 0zm-14 2zm8 0zm-14 1zm-45 1zm-3 2zm42 0zm2 0zm-49 1zm3 0zm8 0zm-4 1zm4 0zm33 0zm7 0zm-14 3zm-1 1zm-29 1zm18 0zm-17 1zm17 0zm-15 1zm3 1zm-12 2zm5 0zm2 0zm15 0zm-3 1zm6 0zm-20 1zm-1 1zm4 2zm-6 2zm9 2zm-61 17zm1 2zm16 3zm-33 1zm3 2zm14 0zm11 1zm-12 1zm1 0zm24 0zm-61 1zm23 0zm5 0zm21 0zm5 0zm-29 1zm30 0zm-47 1zm3 0zm16 0zm-19 1zm19 0zm10 0zm-43 1zm24 0zm16 0zm3 0zm16 0zm-8 1zm-32 1zm1 0zm26 0zm12 0zm-56 1zm16 0zm1 0zm10 0zm15 0zm14 0zm8 0zm-67 3zm21 0zm1 0zm18 0zm19 0zm1 0zm3 0zm15 0zm-58 1zm49 0zm-55 1zm17 0zm4 0zm4 0zm22 0zm-40 1zm34 0zm-41 1zm19 0zm21 0zm4 0zm-37 1zm21 0zm15 0zm17 0zm-66 2zm4 0zm1 0zm2 0zm14 0zm5 0zm27 0zm-19 1zm16 0zm3 0zm-45 1zm3 0zm4 0zm34 0zm-56 1zm61 0zm1 0zm-49 2zm22 0zm16 0zm-51 1zm2 1zm4 0zm8 0zm5 0zm-5 1zm37 0zm7 0zm10 0zm-52 1zm43 1zm1 0zm-41 1zm10 0zm35 0zm-49 1zm5 0zm2 0zm-26 1zm50 0zm6 0zm7 0zm4 0zm2 0zm-47 1zm20 0zm11 0zm3 0zm7 0zm3 0zm12 0zm-50 1zm-10 1zm45 0zm3 0zm-37 1zm24 0zm31 0zm-65 1zm16 0zm9 0zm-26 1zm10 0zm8 0zm5 0zm2 0zm12 0zm2 0zm1 0zm-30 1zm9 0zm3 0zm13 0zm1 0zm-20 1zm9 0zm1 0zm2 0zm5 1zm-7 1zm5 0zm4 0zm-16 1zm15 0zm-30 1zm4 0zm8 0zm-16 1zm4 0zm31 0zm-36 1zm25 0zm1 0zm3 1zm3 0zm3 0zm-28 1zm8 0zm-10 1zm23 2zm31 18zm-63 24zm3 0zm4 0zm1 0zm1 0zm1 0zm4 0zm4 0zm3 0zm5 0zm5 0zm2 0zm2 0zm3 0zm1 0zm6 0zm1 0z"/>
<path stroke="#1e96e6" d="M519.8 1666zm-28 3zm15 4zm0 1zm-21 4z"/>
<path stroke="#1ea0e6" d="M555.8 1625zm0 1zm-9 1zm-8 6zm-1 1zm-6 5zm20 5zm-28 2zm-3 1zm19 6zm-9 7zm-4 2zm-27 1zm-4 2zm1 1zm-1 1zm1 0zm-9 4zm18 2zm-9 2zm4 1zm-18 1zm9 2zm-6 2zm-7 2z"/>
<path stroke="#1eaae6" d="M557.8 1625zm-4 1zm5 0zm-21 9zm-9 10zm-3 2zm19 3zm-30 4zm-7 2zm2 0zm24 0zm-45 12zm28 0zm-1 2zm-32 6zm4 1zm-2 2z"/>
<path stroke="#1eb4e6" d="M545.8 1628zm-1 1zm-14 13zm1 0zm-14 6zm3 1zm-4 3zm-8 4zm26 0zm-7 4zm0 1zm-5 3zm-2 1zm-7 6zm-26 1zm5 0zm16 0zm-5 1zm8 0zm-27 1zm20 0zm-6 1zm5 0zm-9 1zm9 0zm-22 1z"/>
<path stroke="#1ebee6" d="M557.8 1637zm-29 9zm-13 5zm-23 19z"/>
<path stroke="#2828a0" d="M567.8 1609zm10 0zm-9 3zm12 0zm1 0zm-24 2zm-11 2zm34 0zm-35 4zm-3 1zm3 0zm30 0zm-39 3zm34 9zm-50 3zm-17 13zm50 1zm5 0zm-2 4zm-73 2zm61 4zm-76 3zm6 3zm-2 1zm64 0zm-5 2zm-64 1zm60 0zm0 1zm-60 2zm58 0zm1 1zm-67 2zm61 2zm-7 5zm1 0zm1 0zm-65 1zm4 1zm61 0zm-56 1zm-15 2zm54 1zm-48 3zm3 1zm34 0zm-35 3zm-4 1zm3 0zm19 0zm-17 2zm4 0zm-16 1zm8 0zm5 1zm13 1zm-12 6zm3 0zm-48 15zm-27 6zm-5 2zm36 0zm-37 1zm4 1zm1 0zm22 1zm4 0zm10 0zm-18 2zm-33 1zm2 0zm53 0zm-66 1zm17 0zm7 0zm-3 1zm7 0zm8 0zm17 0zm9 0zm-53 1zm7 0zm30 0zm12 0zm-2 1zm6 0zm-44 4zm44 4zm-50 1zm47 0zm-46 2zm-15 1zm6 0zm-10 1zm5 0zm6 1zm65 0zm-78 1zm78 0zm11 0zm-6 1zm-68 1zm51 1zm-72 1zm20 1zm62 0zm-64 1zm3 1zm2 0zm43 0zm15 0zm-59 1zm53 0zm-9 1zm14 0zm-63 1zm-5 1zm49 0zm-33 2zm72 0zm-38 1zm-31 1zm53 0zm-68 2zm39 0zm-15 1zm-15 1zm43 0zm-11 1zm10 0zm-21 1zm3 0zm22 0zm-35 1zm3 1zm14 0zm-27 2zm2 0zm17 0zm21 0zm-23 2zm18 0zm3 0zm-25 6zm19 0zm-24 5zm-9 34zm2 0zm14 0zm8 0zm12 0zm1 0zm1 0zm2 0zm5 0zm1 0zm2 0zm3 0z"/>
<path stroke="#2828aa" d="M572.8 1608zm7 4zm-3 9zm-37 1zm32 11zm-55 6zm45 10zm-70 2zm64 1zm-95 18zm0 6zm-9 23zm30 0zm-17 3zm-19 3zm-68 20zm33 1zm-44 2zm30 0zm-10 4zm-16 1zm51 2zm-41 1zm51 3zm-81 1zm54 0zm23 0zm-60 1zm14 0zm42 1zm7 1zm-81 1zm4 0zm72 2zm-8 3zm-61 6zm-6 2zm70 4zm-78 1zm82 0zm7 1zm-71 3zm13 1zm45 1zm-60 2zm5 1zm-7 1zm3 2zm17 1zm24 2zm7 2zm8 0zm-26 3zm-14 1zm22 0zm2 1zm-18 4zm20 5zm16 5zm-60 30zm8 0zm27 0z"/>
<path stroke="#28bee6" d="M527.8 1645zm21 0zm-27 3zm-1 2zm-10 5zm24 2zm-37 11zm-7 2zm-2 1zm16 1zm-18 8z"/>
<path stroke="#28c8e6" d="M551.8 1626zm0 1zm7 0zm-11 1zm-2 1zm16 0zm-19 1zm-2 1zm3 0zm15 4zm-4 5zm-3 3zm-1 2zm-32 4zm25 1zm-3 2zm-28 2zm-14 10zm-2 1zm-1 1zm-2 2zm1 0zm23 0zm-21 1zm-2 1zm8 2zm8 0zm-22 1zm4 0zm-5 1zm20 0zm-19 1zm-5 2zm11 0zm-10 1zm4 0zm-2 1zm6 0zm-4 1z"/>
<path stroke="#28d2a0" d="M539.8 1633zm17 4zm-33 12zm-1 1zm18 0zm-2 3zm-38 11zm17 3zm-22 3zm6 1zm-10 1zm7 1zm-7 1z"/>
<path stroke="#28d2aa" d="M559.8 1633zm-27 9zm-4 6zm5 7zm-21 1zm17 1zm-24 1zm24 0zm-1 1zm-36 18z"/>
<path stroke="#28d2b4" d="M558.8 1631zm-28 14zm-4 3zm8 3zm-5 9zm-32 9zm-2 2zm12 1zm-18 1zm8 0zm-2 1zm1 0zm4 0zm-9 3zm2 1z"/>
<path stroke="#28d2be" d="M541.8 1633zm15 5zm-22 2zm18 0zm-22 7zm16 0zm-22 2zm-9 3zm22 3zm-15 7zm-21 4zm-5 4zm-6 4zm0 4z"/>
<path stroke="#28d2c8" d="M557.8 1627zm-11 1zm-2 2zm15 2zm-26 10zm16 3zm-3 1zm-29 5zm16 3zm-21 1zm20 0zm3 0zm-3 1zm-5 3zm-3 2zm-22 1zm22 0zm-27 4zm-4 3zm-2 1zm11 4zm-10 1zm1 1zm4 0z"/>
<path stroke="#28d2d2" d="M557.8 1634zm0 4zm-4 3zm-38 12zm-2 1zm21 0zm-5 2zm-23 16zm2 1zm-22 1z"/>
<path stroke="#28d2dc" d="M548.8 1628zm7 12zm-22 3zm-5 1zm10 7zm-25 2zm23 0zm-25 1zm14 6zm-13 12zm-12 1zm-11 1zm2 1zm2 0zm5 1zm-9 2z"/>
<path stroke="#28d2e6" d="M553.8 1625zm-3 1zm-1 1zm4 0zm1 0zm-12 4zm17 3zm-20 1zm-5 3zm1 0zm-2 2zm-6 6zm2 2zm14 1zm-25 2zm17 5zm-4 1zm-33 8zm17 4zm-6 3zm1 1zm-9 1zm-11 1zm-3 4z"/>
<path stroke="#3232aa" d="M572.8 1605zm-1 2zm9 0zm-1 2zm2 1zm-7 2zm-24 1zm4 2zm27 1zm-44 6zm-22 17zm-10 4zm4 0zm-10 3zm-11 7zm63 0zm5 0zm-60 2zm-21 7zm74 0zm-76 3zm-9 4zm65 1zm-68 2zm-3 7zm-25 1zm23 0zm-8 1zm3 2zm-2 6zm-2 3zm47 0zm-5 2zm-42 2zm42 0zm-46 1zm41 0zm-9 2zm-11 2zm-21 1zm-11 1zm14 2zm2 1zm10 1zm4 0zm-21 1zm-28 5zm-23 7zm20 1zm-29 2zm10 0zm-4 2zm-10 1zm33 1zm5 0zm11 0zm-14 1zm-17 1zm1 0zm48 0zm-73 1zm38 1zm6 0zm8 0zm20 0zm-70 1zm3 0zm30 0zm14 0zm-27 1zm2 1zm-33 1zm6 0zm29 0zm-7 1zm-24 1zm10 0zm58 1zm-38 2zm39 0zm-67 1zm55 0zm2 0zm-3 1zm-70 1zm66 0zm18 0zm-77 1zm6 0zm-35 1zm100 0zm-7 2zm14 0zm-83 1zm72 1zm-59 1zm49 0zm-55 1zm63 1zm16 1zm-10 1zm-6 1zm-3 1zm-55 1zm-18 1zm13 0zm6 0zm-8 1zm71 0zm-103 1zm119 0zm-93 1zm78 1zm-84 2zm80 0zm-4 1zm-65 1zm-26 1zm88 1zm5 0zm-78 1zm5 0zm14 2zm18 0zm-53 1zm20 2zm5 0zm24 0zm-24 1zm10 0zm9 0zm40 2zm-22 1zm19 0zm-39 1zm23 0zm16 0zm-46 1zm10 0zm-4 2zm7 0zm22 0zm-32 1zm-6 1zm22 0zm5 0zm30 2zm-16 1zm9 0zm-56 1zm16 0zm24 0zm-3 3zm-20 1zm14 0zm-34 2zm51 3zm-53 31zm1 0zm21 0zm1 0zm1 0zm34 0zm1 0zm8 0z"/>
<path stroke="#32d26e" d="M554.8 1637zm-19 4zm-36 23zm20 1z"/>
<path stroke="#32d278" d="M550.8 1629zm7 0zm-11 1zm8 1zm2 3zm1 1zm-25 8zm-1 1zm14 3zm-18 2zm15 0zm-14 1zm9 0zm-17 4zm-19 9zm19 0zm-3 3zm-22 2zm1 0zm8 3zm-6 3z"/>
<path stroke="#32d282" d="M556.8 1627zm-9 2zm-2 1zm-3 2zm13 3zm-21 6zm-1 3zm-2 1zm-1 1zm-11 4zm-2 2zm10 5zm-19 1zm10 5zm-20 3zm11 4zm-13 1z"/>
<path stroke="#32d28c" d="M558.8 1630zm-2 5zm-19 2zm-1 3zm1 0zm12 3zm-28 8zm10 1zm-12 1zm-4 1zm-3 3zm-8 2zm3 0zm13 3zm-19 2zm-3 3zm15 0zm-23 6zm4 2zm-7 1z"/>
<path stroke="#32d296" d="M559.8 1630zm-7 12zm-4 2zm-1 1zm-8 5zm3 0zm-6 2zm1 2zm-22 1zm-21 16zm16 0z"/>
<path stroke="#32d2a0" d="M555.8 1627zm4 2zm-26 24zm-17 1zm-10 3zm-11 15zm4 3z"/>
<path stroke="#32dc64" d="M554.8 1629zm2 0zm-18 8zm9 7zm-4 3zm-3 4zm-24 2zm15 1zm-4 2zm-24 6zm18 0zm-19 1zm-1 2zm-1 6z"/>
<path stroke="#32dc6e" d="M555.8 1631zm1 0zm-13 1zm7 11zm-8 5zm-7 4zm-13 11zm-29 11z"/>
<path stroke="#3c3caa" d="M545.8 1613zm36 0zm-37 1zm-20 16zm3 3zm-25 13zm-12 1zm72 4zm-73 1zm-22 8zm9 1zm-23 5zm11 4zm64 7zm-2 3zm-28 7zm-61 1zm-8 1zm10 1zm8 5zm6 8zm6 0zm-17 1zm29 3zm-29 2zm-5 2zm18 1zm-79 8zm36 0zm-7 4zm-27 1zm-37 1zm62 0zm-51 2zm50 0zm6 0zm-55 2zm55 0zm-6 1zm23 1zm-49 1zm46 0zm30 1zm-18 2zm-6 3zm-86 3zm28 0zm-26 1zm18 0zm-31 1zm15 0zm77 0zm-94 1zm7 0zm5 0zm6 1zm10 2zm65 1zm1 0zm-68 1zm-11 2zm6 0zm67 1zm-75 5zm90 0zm-9 1zm23 0zm-96 1zm-4 1zm85 0zm-19 2zm36 0zm-28 1zm13 0zm-68 2zm63 1zm-65 2zm-12 1zm-5 2zm19 0zm3 0zm3 1zm43 0zm58 0zm-45 2zm-10 1zm-54 1zm2 3zm45 1zm-25 1zm-17 3zm29 0zm6 1zm13 0zm8 0zm7 0zm10 1zm-71 1zm16 1zm17 0zm20 0zm-30 1zm40 0zm-65 1zm29 0zm3 0zm22 2zm-50 1zm55 2zm-81 1zm62 0zm3 1zm-10 1zm13 6zm-5 4zm-14 6zm-59 13zm5 0zm23 0zm16 0zm26 0zm8 0zm3 0zm3 0zm15 0z"/>
<path stroke="#3c3cb4" d="M577.8 1606zm-36 10zm-23 11zm13 1zm-10 8zm45 9zm0 4zm-86 10zm-19 3zm-11 18zm-8 4zm7 1zm99 0zm-106 8zm-9 9zm1 9zm13 1zm26 0zm-137 4zm37 2zm-4 1zm1 4zm-12 1zm38 0zm40 0zm-50 3zm10 0zm36 2zm-11 1zm-56 3zm75 0zm8 1zm-96 1zm-19 1zm25 1zm-3 1zm-8 2zm8 3zm-29 1zm118 0zm-83 5zm80 2zm-91 2zm97 3zm-11 3zm-80 1zm100 0zm-26 2zm-98 3zm14 1zm-4 3zm90 0zm-70 1zm69 0zm-9 4zm-6 2zm33 0zm-18 1zm-73 1zm-3 1zm-5 1zm82 0zm-93 1zm104 1zm-90 2zm66 1zm-29 2zm-51 2zm88 5zm-73 1zm36 0zm27 0zm-36 2zm20 1zm-24 1zm6 1zm17 4zm4 0zm-21 1zm39 0zm-52 4zm58 5zm-36 3zm-28 2zm-35 9zm1 0zm17 0zm14 0zm60 0zm1 0zm8 0zm18 0z"/>
<path stroke="#3cdc5a" d="M557.8 1631zm-34 20zm11 2zm-9 6zm-23 6zm15 0zm-4 3zm-11 3zm-12 1z"/>
<path stroke="#3cdc64" d="M536.8 1641zm-5 2zm0 4zm5 1zm-15 4zm2 0zm-23 15zm8 3z"/>
<path stroke="#46dc5a" d="M549.8 1629zm-5 2zm4 12zm-15 3zm9 0zm-11 4zm2 0zm6 1zm-13 1zm6 0zm-3 1zm-24 7zm-1 3zm10 5zm-16 1z"/>
<path stroke="#50dc50" d="M551.8 1628zm-4 3zm-6 3zm1 0zm-2 1zm-9 11zm10 1zm0 2zm-16 1zm-3 1zm8 0zm-15 5zm-12 8zm8 5zm-19 2zm3 4z"/>
<path stroke="#50dc5a" d="M537.8 1639zm9 6zm-18 6z"/>
<path stroke="#5adc50" d="M555.8 1629zm2 3zm-23 16zm-4 2zm4 2zm-13 1zm10 0zm-5 3zm-11 12zm-2 2z"/>
<path stroke="#64dc46" d="M543.8 1633zm-4 4zm13 2zm-1 1zm-16 2zm1 5zm-6 2zm7 0zm-11 1zm7 1zm-6 2zm5 0zm-5 1zm-16 4zm9 2zm-1 3zm-18 4zm1 0z"/>
<path stroke="#64dc50" d="M540.8 1637zm-24 30zm-9 3z"/>
<path stroke="#6edc3c" d="M544.8 1634zm-22 19z"/>
<path stroke="#6edc46" d="M552.8 1629zm5 1zm-17 6zm0 2zm13 0zm-3 2zm-4 4zm-8 3zm4 0zm-9 1zm3 3zm-7 1zm1 2zm-17 2zm-4 3zm9 0zm3 0zm1 0zm1 0zm3 0zm-21 10zm4 0zm0 2z"/>
<path stroke="#78dc3c" d="M554.8 1633zm-12 2zm-1 2zm7 5zm-18 10zm-2 5zm-10 1zm-11 2zm16 0zm-20 1zm2 3zm-2 1zm2 2zm-2 2zm11 0zm-10 1zm2 1z"/>
<path stroke="#82dc32" d="M554.8 1638zm-47 23z"/>
<path stroke="#82dc3c" d="M547.8 1630zm7 5zm-2 3zm-17 5zm9 2zm-7 1zm3 2zm-13 3zm-3 1zm-8 3zm1 1zm6 0zm-13 2zm13 0zm1 1zm-21 1zm2 1zm1 0zm-2 1zm10 0zm5 0zm-1 3zm-11 1zm6 0zm2 0z"/>
<path stroke="#8cdc32" d="M554.8 1632zm-16 8zm0 1zm-1 1zm8 2zm-10 1zm-1 1zm1 0zm-6 1zm7 3zm-7 1zm0 3zm-12 1zm-8 3zm2 1zm-7 2zm0 3zm12 1zm-15 4zm10 1z"/>
<path stroke="#96dc28" d="M554.8 1630zm-22 17zm7 2zm-11 6zm-7 1zm-4 6zm-8 4z"/>
<path stroke="#96dc32" d="M534.8 1642zm-14 14zm-4 3zm-6 1zm4 1z"/>
<path stroke="#a0dc28" d="M553.8 1629zm-3 1zm-4 1zm3 0zm3 1zm-9 3zm-2 3zm-3 12zm-19 4zm-1 1zm2 0zm-6 2zm4 0zm-4 1zm2 0zm6 0zm-8 1zm-6 2zm11 0zm-14 2zm4 5zm1 2z"/>
<path stroke="#aadc28" d="M552.8 1635zm2 1zm-1 1zm-9 6zm-12 7zm-23 10zm8 1zm-9 5zm-2 2z"/>
<path stroke="#b4dc1e" d="M553.8 1631zm2 1zm-4 3zm-9 10zm-21 12zm-11 6zm2 3zm-8 2z"/>
<path stroke="#b4dc28" d="M548.8 1631zm8 1zm-10 1zm-6 9zm6 1zm-10 3zm4 0zm-24 10zm3 1zm-4 1zm2 0zm2 1zm-9 3zm0 4zm-4 1zm6 0zm-1 1z"/>
<path stroke="#bedc1e" d="M553.8 1630zm-1 3zm0 3zm-1 2zm-3 3zm-9 2zm-2 2zm-10 5zm-10 7zm6 0zm-8 2zm2 0zm-7 2zm6 3zm-12 3z"/>
<path stroke="#c8dc1e" d="M547.8 1637zm-8 2zm9 1zm-14 5zm0 2zm-8 7zm-9 6zm-2 2zm-1 2z"/>
<path stroke="#d2dc1e" d="M554.8 1634zm-13 1zm9 4zm-11 1zm-14 12zm-2 1zm1 0zm-6 1zm6 0zm-9 3zm-1 3zm2 0zm-6 8z"/>
<path stroke="#dcdc14" d="M552.8 1631zm-4 2zm-2 1zm3 0zm-2 5zm-4 2zm-2 2zm-1 4zm-15 7zm-6 2zm1 3zm-9 2zm1 3zm-5 1zm2 0zm1 0zm-3 2z"/>
<path stroke="#dcdc1e" d="M552.8 1637zm-11 5zm-6 6zm-16 10zm-10 6z"/>
<path stroke="#e61e00" d="M545.8 1637zm1 1zm-1 1z"/>
<path stroke="#e6dc14" d="M546.8 1632zm1 0zm-4 2zm2 0zm0 4zm4 0zm-8 1zm3 1zm1 1zm4 0zm-11 4zm3 0zm-3 3zm-13 7zm0 3zm-10 6zm-6 3zm-2 1zm-1 2z"/>
<path stroke="#f03200" d="M540.8 1641z"/>
<path stroke="#f04600" d="M549.8 1636z"/>
<path stroke="#f05000" d="M543.8 1638zm-4 8z"/>
<path stroke="#f0be14" d="M538.8 1644zm-26 18z"/>
<path stroke="#f0c814" d="M548.8 1634zm-2 1zm-2 3zm4 0zm-4 1zm-7 4zm-15 12zm-14 8zm4 0z"/>
<path stroke="#f0d214" d="M545.8 1635zm5 0zm-9 6zm-2 3zm-26 18zm-3 2zm-5 1z"/>
<path stroke="#f0dc14" d="M550.8 1636zm1 1zm-9 1zm4 4zm-5 4zm-7 3zm-11 6zm3 0zm-11 6zm-6 1zm-6 1zm8 0z"/>
<path stroke="#fa6400" d="M544.8 1637z"/>
<path stroke="#fa6e00" d="M551.8 1633zm-9 10zm-34 19z"/>
<path stroke="#fa7800" d="M549.8 1635z"/>
<path stroke="#fa8200" d="M548.8 1636z"/>
<path stroke="#fa8c0a" d="M546.8 1636zm0 1zm1 1zm-4 2z"/>
<path stroke="#fa960a" d="M550.8 1632zm-7 5zm-30 26zm-5 1z"/>
<path stroke="#faa00a" d="M550.8 1633zm-3 2zm-5 6zm4 0zm-6 4zm-29 21z"/>
<path stroke="#faaa0a" d="M542.8 1639zm0 1zm2 2zm-28 19zm-2 2zm-1 1zm-2 1z"/>
<path stroke="#fab40a" d="M545.8 1633zm3 4zm2 0zm-7 2zm-3 5zm-27 15zm0 2zm-4 2z"/>
<path stroke="#fabe0a" d="M550.8 1631zm-3 2z"/>
<path stroke="#0a14a0" d="M861.3 1611zm0 3zm1 0zm3 0zm-1 3zm-1 3zm-23 2zm1 1zm-5 2zm27 0zm-29 2zm-6 3zm33 0zm-37 2zm33 4zm-48 8zm40 0zm-13 12zm3 0zm-2 2zm-49 1zm41 1zm-44 1zm45 0zm-47 1zm40 1zm-50 7zm-8 4zm3 0zm43 0zm-49 4zm-10 3zm2 0zm44 0zm-43 1zm38 1zm-46 1zm44 0zm-44 3zm1 0zm3 0zm2 0zm-8 1zm2 1zm8 1zm19 0zm3 0zm-31 2zm1 0zm21 0zm-32 1zm11 0zm1 0zm20 0zm-27 1zm7 0zm6 0zm-4 1zm7 0zm-5 1zm4 0zm8 0zm-69 39zm-18 10zm31 1zm-32 1zm2 0zm12 1zm7 0zm5 0zm-25 2zm5 0zm1 1zm-1 1zm17 0zm-27 1zm6 0zm12 0zm12 0zm-34 1zm6 0zm9 0zm8 1zm2 0zm-11 1zm-12 1zm11 1zm16 0zm1 0zm-21 1zm7 0zm2 2zm2 3zm-13 64zm6 0z"/>
<path stroke="#0a14aa" d="M855.3 1616zm-8 3zm16 2zm-22 1zm-6 3zm27 1zm-4 4zm-4 6zm2 0zm-36 1zm1 0zm1 0zm-5 2zm-8 7zm-4 1zm38 2zm-3 3zm-1 1zm-43 1zm2 1zm-8 4zm37 1zm4 0zm1 0zm-46 1zm1 0zm-10 5zm41 1zm-46 2zm44 0zm-42 1zm41 2zm-54 3zm1 1zm40 2zm-12 6zm-2 1zm-9 1zm-29 2zm-1 1zm4 0zm-7 1zm3 4zm-6 1zm10 0zm2 0zm-9 1zm12 0zm1 0zm-4 2zm-64 49zm5 2zm-23 1zm2 0zm3 0zm2 0zm-7 3zm8 1zm15 0zm3 0zm-24 1zm11 1zm2 0zm-3 1zm-10 1zm7 0zm-12 1z"/>
<path stroke="#0a14b4" d="M857.3 1614zm-2 1zm4 0zm3 1zm-1 1zm-13 1zm2 0zm-1 1zm-5 2zm2 0zm-7 1zm23 0zm-30 6zm-2 2zm29 0zm-33 2zm32 0zm-3 2zm2 0zm-40 6zm-12 6zm42 0zm-41 3zm-8 3zm39 2zm-43 3zm41 1zm-3 1zm-16 8zm-41 2zm-7 4zm5 0zm-12 3zm39 2zm-1 1zm3 0zm-43 1zm0 1zm2 0zm34 0zm-41 1zm3 0zm31 0zm-30 1zm15 4zm-18 1zm15 1zm-26 1zm3 0zm1 0zm20 0zm3 0zm-6 2zm7 0zm-22 1zm8 0zm1 0zm2 0zm2 0zm-16 1zm8 0zm-6 2zm2 0zm-3 1zm-70 52zm18 3zm-24 2zm13 2zm8 0z"/>
<path stroke="#0a1eb4" d="M833.3 1628zm17 14zm-48 8zm30 6zm-18 12zm0 2zm-41 2zm-3 2zm24 6zm3 1zm-13 3zm-34 6zm15 4zm-1 1zm-91 59zm10 1z"/>
<path stroke="#0a1ebe" d="M852.3 1616zm8 0zm0 1zm-7 1zm2 0zm3 2zm-10 1zm15 2zm-26 2zm20 0zm4 0zm-25 1zm24 0zm-25 1zm25 0zm-26 1zm25 1zm-32 3zm30 0zm-1 1zm-32 2zm-5 3zm0 2zm31 0zm-33 1zm-12 7zm36 1zm-41 2zm-3 3zm-5 5zm-11 7zm1 0zm33 0zm3 0zm-3 1zm5 0zm-44 2zm36 1zm-43 2zm3 1zm1 1zm33 1zm-2 1zm-40 1zm37 1zm-9 2zm-8 3zm-23 1zm-8 2zm28 1zm-7 1zm-18 1zm4 0zm-15 1zm12 1zm1 0zm10 0zm-11 1zm2 0zm-1 5zm-82 58zm5 1zm9 2z"/>
<path stroke="#0a1ec8" d="M851.3 1619zm3 0zm3 4zm-3 12zm-35 4zm32 1zm-38 5zm22 9zm-4 4zm1 0zm-11 5zm-41 3zm-2 2zm-20 11zm36 2zm-33 1zm29 0zm3 0zm-37 2zm3 0zm16 3zm-9 3zm-70 66z"/>
<path stroke="#0a28c8" d="M862.3 1621zm-16 1zm11 6zm-27 1zm-20 17zm0 1zm31 3zm-6 3zm-4 4zm0 2zm-46 4zm-3 2zm-9 10zm-2 1zm29 1zm-38 2zm24 4zm5 0zm-9 1zm-26 1zm1 0zm26 0zm-17 1zm-11 1zm1 0zm-3 3zm-7 1z"/>
<path stroke="#0a28d2" d="M858.3 1615zm3 0zm-10 6zm9 2zm-18 1zm-4 3zm-9 5zm-2 2zm-2 1zm0 1zm27 1zm-45 12zm33 1zm-38 2zm-1 2zm0 1zm32 1zm-12 6zm2 0zm-39 1zm2 0zm-5 2zm-4 3zm38 0zm-37 1zm33 1zm-34 1zm1 2zm-8 2zm-3 1zm5 1zm-8 1zm4 0zm-6 2zm16 0zm10 0zm-26 1zm-2 1zm7 4zm-10 2zm1 0zm3 4zm1 0zm1 0z"/>
<path stroke="#0a32d2" d="M857.3 1616zm0 3zm-4 2zm6 0zm-28 10zm19 8zm-1 2zm-31 1zm0 1zm-13 7zm2 0zm-3 1zm2 0zm31 1zm-38 2zm0 2zm31 3zm-20 10zm-33 4zm0 1zm-7 5zm-5 2zm20 0zm-10 2zm-8 1zm-6 5zm10 0zm-9 5z"/>
<path stroke="#0a3cd2" d="M840.3 1648zm-50 12zm22 11zm-43 6zm26 1zm-26 10zm-14 5z"/>
<path stroke="#0a3cdc" d="M857.3 1617zm-1 4zm-1 1zm4 2zm-18 1zm-9 4zm23 3zm-34 6zm25 7zm-18 13zm-4 2zm-33 1zm-9 3zm31 5zm1 0zm-42 6zm6 0zm26 0zm-35 1zm5 0zm-8 1zm7 0zm23 2zm-31 1zm2 0zm20 1zm-5 1zm-21 6zm-5 2zm3 0z"/>
<path stroke="#0a46dc" d="M855.3 1619zm7 0zm-12 1zm10 1zm-4 8zm1 1zm-4 5zm-35 6zm-4 4zm-3 1zm0 2zm-14 8zm-14 10zm-4 3zm28 3zm0 1zm-31 6zm-4 1zm-6 1zm2 0zm6 0zm10 1zm-12 1zm-7 1zm9 1zm1 1zm-12 1z"/>
<path stroke="#0a50dc" d="M841.3 1648zm-39 7zm-14 7zm-8 6zm14 10zm-22 3zm-5 1zm-7 4zm11 1zm-9 2z"/>
<path stroke="#1414a0" d="M858.3 1609zm-1 2zm9 0zm1 0zm-8 1zm1 0zm2 0zm3 0zm3 0zm-11 1zm4 0zm4 0zm1 0zm-17 1zm4 0zm0 1zm12 1zm-18 2zm-1 1zm20 1zm-24 2zm22 0zm1 0zm-1 2zm0 2zm-2 2zm-38 1zm36 1zm-35 2zm34 0zm2 0zm-39 2zm36 0zm0 1zm-39 2zm-6 2zm3 1zm39 0zm-40 1zm-2 1zm41 0zm-5 3zm-48 1zm6 0zm-5 1zm46 0zm-46 1zm45 0zm-49 2zm47 0zm-48 1zm4 0zm-7 2zm4 0zm44 0zm-47 1zm46 0zm-47 1zm43 0zm-45 1zm1 0zm44 0zm-2 3zm-50 1zm48 0zm-53 1zm-1 3zm41 1zm3 0zm-46 2zm44 0zm-51 1zm48 0zm2 0zm-5 1zm5 0zm2 0zm-50 1zm-5 1zm5 0zm-9 1zm4 0zm-5 1zm3 0zm1 0zm-3 1zm47 0zm4 0zm-65 1zm6 1zm-2 1zm5 0zm3 0zm44 0zm2 0zm1 0zm3 0zm-58 1zm1 0zm3 0zm2 0zm44 0zm1 1zm3 0zm-60 1zm3 0zm-1 1zm-6 1zm6 0zm49 0zm-54 1zm6 0zm45 0zm-57 1zm10 0zm-4 1zm5 0zm4 0zm-17 1zm10 0zm46 0zm-49 1zm1 0zm40 0zm2 0zm3 0zm-48 1zm40 0zm-42 1zm1 0zm10 0zm26 0zm7 0zm-48 1zm6 0zm1 0zm1 0zm30 0zm2 0zm-38 1zm36 0zm3 0zm1 0zm2 0zm2 0zm4 0zm-50 1zm6 0zm2 0zm8 0zm23 0zm2 0zm-41 1zm35 0zm-36 1zm1 0zm1 0zm33 0zm-31 1zm14 0zm-18 1zm9 0zm17 0zm7 0zm-21 1zm3 0zm3 0zm3 0zm9 0zm-29 1zm1 0zm4 0zm4 0zm9 0zm1 0zm5 0zm-22 1zm1 0zm3 0zm2 0zm1 0zm7 0zm-13 1zm1 0zm1 0zm6 0zm9 0zm1 0zm-14 1zm6 0zm1 0zm2 0zm1 0zm-11 1zm6 0zm13 1zm-71 34zm1 0zm1 2zm-13 1zm4 0zm4 0zm8 0zm3 0zm2 0zm7 0zm-17 1zm6 0zm-26 1zm0 1zm12 0zm9 0zm2 0zm3 0zm-19 1zm11 0zm6 0zm-23 1zm1 0zm1 0zm1 0zm2 0zm3 0zm18 0zm12 0zm2 0zm-41 1zm24 0zm2 0zm2 0zm-26 1zm3 0zm6 0zm6 0zm9 0zm5 0zm3 0zm-35 1zm3 0zm15 0zm6 0zm2 0zm12 0zm9 0zm-47 1zm12 0zm4 0zm3 0zm3 0zm3 0zm1 0zm6 0zm8 0zm2 0zm-48 1zm6 0zm4 0zm11 0zm3 0zm3 0zm12 0zm2 0zm4 0zm-34 1zm15 0zm7 0zm1 0zm9 0zm9 0zm-45 1zm6 0zm13 0zm7 0zm10 0zm12 0zm-51 1zm1 0zm1 0zm1 0zm11 0zm1 0zm4 0zm1 0zm6 0zm7 0zm2 0zm2 0zm14 0zm-47 1zm6 0zm2 0zm15 0zm1 0zm1 0zm3 0zm2 0zm4 0zm16 0zm-48 1zm2 0zm3 0zm1 0zm1 0zm3 0zm6 0zm12 0zm4 0zm8 0zm5 0zm1 0zm1 0zm1 0zm-52 1zm1 0zm18 0zm-19 1zm1 0zm8 0zm10 0zm7 0zm2 0zm2 0zm-37 1zm7 0zm1 0zm5 0zm5 0zm4 0zm2 0zm11 0zm11 0zm-46 1zm12 0zm10 0zm2 0zm2 0zm-20 1zm7 0zm2 0zm4 0zm1 0zm6 0zm11 0zm22 0zm-44 1zm8 0zm6 0zm5 0zm3 0zm3 0zm2 0zm-34 1zm1 0zm1 0zm2 0zm9 0zm4 0zm2 0zm6 0zm11 0zm5 0zm-28 1zm2 0zm-6 1zm17 0zm1 0zm8 0zm-28 1zm4 0zm2 0zm11 0zm1 0zm4 0zm2 0zm-39 1zm10 0zm2 0zm3 0zm8 0zm8 0zm-13 1zm6 0zm1 0zm17 0zm4 0zm-21 1zm6 0zm7 0zm-23 1zm2 0zm4 0zm14 0zm3 0zm8 0zm-27 1zm2 0zm1 0zm5 0zm7 0zm-12 1zm18 0zm-23 1zm15 0zm8 0zm-18 1zm18 0zm-18 2zm14 0zm1 1zm10 1zm7 2zm-46 49zm7 0zm1 0zm3 0zm2 0zm1 0zm6 0zm2 0zm4 0z"/>
<path stroke="#141ea0" d="M866.3 1605zm0 7zm-65 33zm-34 23zm54 1zm-9 4zm-60 1zm-6 1zm54 8zm-11 6zm-51 5zm-6 2zm14 3zm-55 34zm7 2zm-4 2zm-2 1zm-20 1zm18 0zm-17 1zm12 0zm7 4zm7 0zm10 1zm-39 3zm46 1zm-8 5zm-13 3zm25 1zm-7 1zm3 0zm-49 2zm26 0zm22 0zm-8 2zm-5 1zm0 4zm-9 1zm-2 12zm-6 47z"/>
<path stroke="#1450dc" d="M856.3 1619zm-24 12zm16 9zm-2 4zm-50 34zm-15 1zm3 0zm-20 13z"/>
<path stroke="#145adc" d="M856.3 1623zm-10 2zm10 5zm-25 3zm20 3zm-2 4zm-11 10zm0 1zm-42 7zm1 0zm-9 5zm-10 8zm-4 3zm-9 3zm19 0zm12 0zm-21 1zm6 0zm-4 1zm12 1zm-22 1zm15 0zm4 0zm-6 1zm-10 1zm11 0zm-16 2zm9 1zm-6 1z"/>
<path stroke="#1464dc" d="M853.3 1619zm-25 13zm-49 38zm-3 10zm5 0z"/>
<path stroke="#1464e6" d="M852.3 1620zm0 1zm-26 15zm-2 2zm-4 4zm-10 7zm-1 1zm26 2zm-41 8zm28 0zm-29 1zm-4 1zm-4 4zm23 5zm-36 5zm23 4zm-26 2zm7 1zm4 0zm3 0zm-21 1zm7 0zm-7 1zm0 2zm5 1zm-4 1zm-1 1zm1 0zm-1 1z"/>
<path stroke="#146ee6" d="M858.3 1617zm-7 3zm5 5zm-1 5zm-1 2zm-26 1zm25 0zm-29 4zm-4 4zm27 2zm-3 3zm-28 16zm-34 6zm-2 4zm-3 5zm-14 5zm9 0zm-11 1zm16 1zm1 0zm-20 3zm3 3z"/>
<path stroke="#1478e6" d="M854.3 1618zm-3 4zm-2 1zm-9 3zm14 1zm-37 17zm19 7zm-2 2zm-6 4zm-14 8zm-38 10zm5 1zm12 2zm-11 1zm4 0zm-18 3zm6 0zm-15 1zm5 1zm9 0zm2 0zm-13 2zm2 3z"/>
<path stroke="#1482e6" d="M821.3 1641zm-8 25zm-4 5zm-29 4zm-17 8z"/>
<path stroke="#1482f0" d="M855.3 1631zm-25 1zm-7 7zm-15 12zm29 0zm-43 8zm-8 6zm-3 2zm-2 4zm25 1zm-5 1zm-7 4zm-4 2zm-10 1zm-3 1zm1 0zm-10 2zm-2 2z"/>
<path stroke="#148ce6" d="M851.3 1623zm-2 1zm1 12zm-28 3zm10 16zm-5 3zm-18 11zm-1 1zm-6 3zm-23 4zm9 2zm9 0zm-27 2zm-1 4zm0 4z"/>
<path stroke="#148cf0" d="M852.3 1624zm-18 6zm-19 16zm-1 18zm-32 5zm-6 7zm5 6z"/>
<path stroke="#1496e6" d="M846.3 1626zm-7 1zm-5 5zm-22 15zm3 0zm-7 5zm24 0zm-28 1zm27 1zm0 1zm-4 2zm-29 1zm-11 6zm26 1zm-8 8zm-19 3zm-1 3zm-7 4zm-18 2z"/>
<path stroke="#1e1ea0" d="M869.3 1606zm1 0zm-11 3zm5 0zm6 0zm-2 1zm-4 1zm0 1zm2 2zm2 0zm-23 1zm20 6zm-29 1zm-1 2zm-9 4zm38 1zm-40 1zm2 0zm-7 4zm41 3zm-57 6zm3 0zm-2 1zm-9 4zm52 3zm-4 3zm-65 4zm0 1zm2 3zm52 2zm-1 2zm-6 1zm-1 2zm-7 2zm-57 2zm0 2zm-10 2zm60 0zm-64 1zm4 0zm1 0zm1 1zm2 0zm-14 2zm-19 2zm82 1zm-66 2zm6 0zm48 1zm-56 1zm3 0zm53 0zm4 0zm-61 1zm52 0zm-6 1zm-49 2zm46 0zm-45 1zm43 1zm-38 1zm4 0zm-6 1zm34 0zm-31 2zm3 0zm17 0zm2 1zm3 0zm-27 1zm16 0zm6 0zm-27 1zm16 2zm1 0zm8 1zm-14 1zm-52 23zm2 0zm-9 2zm4 1zm7 0zm-5 1zm7 0zm-11 1zm19 0zm-25 1zm27 0zm-17 1zm2 0zm11 0zm-31 1zm12 0zm5 0zm3 0zm6 0zm-44 1zm27 0zm11 1zm10 0zm6 0zm-47 1zm18 0zm3 0zm8 0zm3 0zm6 0zm1 0zm11 1zm-50 1zm13 0zm1 0zm12 0zm12 0zm6 0zm2 0zm-45 1zm6 0zm16 0zm2 0zm24 0zm2 0zm-29 1zm18 0zm7 0zm3 0zm-32 1zm7 0zm-16 1zm37 0zm-47 1zm47 0zm-46 1zm30 0zm2 0zm5 0zm13 0zm-29 1zm24 0zm7 0zm6 3zm-61 2zm47 0zm2 0zm4 0zm5 0zm4 0zm-30 1zm13 0zm14 0zm6 0zm-59 1zm48 0zm-48 1zm36 0zm10 0zm11 0zm2 0zm-62 1zm4 0zm1 0zm47 0zm9 0zm1 0zm-66 1zm43 0zm13 0zm5 0zm-70 1zm2 0zm54 0zm23 0zm-43 1zm-21 1zm16 1zm9 0zm15 0zm14 0zm-53 1zm43 0zm-50 1zm17 0zm20 0zm7 0zm9 0zm9 0zm-47 1zm17 0zm3 0zm20 0zm-37 1zm6 0zm6 0zm4 0zm14 0zm20 0zm-76 1zm30 0zm20 0zm1 0zm2 0zm-39 1zm9 0zm3 0zm5 0zm15 0zm13 0zm-55 1zm14 0zm6 0zm13 0zm1 0zm3 0zm1 0zm16 0zm-1 1zm-21 1zm14 0zm-26 1zm4 1zm20 0zm-23 1zm8 0zm14 0zm8 0zm-46 1zm8 1zm11 0zm4 0zm9 0zm-12 1zm21 0zm6 0zm-5 1zm-20 1zm2 0zm26 0zm-10 1zm-24 1zm15 0zm7 0zm7 0zm-11 2zm1 2zm-37 43zm10 0zm2 0zm3 0zm1 0zm2 0zm1 0zm12 0zm2 0zm5 0zm1 0zm2 0zm1 0zm4 0z"/>
<path stroke="#1e96e6" d="M839.3 1628zm14 6zm-35 10zm5 16zm-42 8z"/>
<path stroke="#1ea0e6" d="M847.3 1623zm9 1zm-2 1zm3 1zm-36 16zm20 4zm-23 1zm1 15zm-32 3zm-8 7zm3 0zm-2 2zm20 0zm-15 2zm-2 1zm2 0zm10 0zm-4 1zm-16 1zm-9 5z"/>
<path stroke="#1eaae6" d="M844.3 1624zm3 1zm-4 1zm13 0zm-15 2zm-13 8zm21 2zm-27 3zm22 3zm-31 4zm25 0zm-9 8zm-32 3zm27 0zm-7 2zm-32 11zm-5 6zm9 0zm-17 6z"/>
<path stroke="#1eb4e6" d="M848.3 1624zm-4 1zm-2 1zm9 0zm-11 1zm15 0zm-15 1zm14 0zm-15 1zm-12 8zm-2 2zm0 1zm21 1zm1 0zm-2 3zm-28 2zm0 1zm20 2zm1 0zm-2 1zm-31 5zm-10 6zm18 0zm-29 6zm23 3zm-27 1zm3 1zm20 0zm-6 2zm-14 2zm10 0zm1 0zm-2 1zm-9 1zm2 0z"/>
<path stroke="#1ebee6" d="M829.3 1634zm4 18zm-10 7zm-5 2zm-34 8zm-1 2zm18 3z"/>
<path stroke="#2828a0" d="M868.3 1607zm5 0zm-4 4zm-19 2zm21 1zm-30 6zm-14 7zm2 0zm-12 7zm44 3zm-50 3zm46 0zm-58 8zm46 6zm-67 3zm2 0zm-5 4zm-6 1zm66 1zm-61 1zm56 0zm-5 2zm-71 9zm-6 4zm63 1zm-3 1zm-6 1zm1 0zm5 0zm-78 1zm74 0zm-71 2zm0 1zm66 0zm-6 1zm-5 3zm-4 3zm-55 2zm0 3zm31 3zm-11 2zm5 3zm-94 21zm22 0zm6 0zm6 1zm26 0zm-16 1zm-9 2zm4 0zm22 0zm-58 1zm30 0zm4 0zm-26 2zm13 0zm-18 1zm27 1zm-12 1zm6 0zm-16 1zm2 0zm5 0zm6 0zm11 0zm16 0zm-52 1zm43 0zm-39 2zm45 0zm7 0zm-59 1zm5 1zm38 0zm-29 1zm-17 2zm3 0zm12 0zm39 1zm19 2zm17 0zm-11 1zm-81 2zm4 2zm55 0zm16 0zm-68 2zm0 1zm34 2zm16 0zm10 1zm43 1zm-94 2zm46 0zm18 0zm-71 2zm2 0zm11 0zm22 0zm18 0zm-77 2zm29 0zm3 1zm2 0zm48 0zm-65 2zm51 0zm-46 2zm32 1zm30 0zm-42 3zm-2 2zm5 0zm7 1zm5 0zm7 0zm-12 1zm13 0zm2 0zm-24 1zm25 1zm-20 1zm8 1zm11 1zm-12 2zm20 0zm-32 1zm14 0zm-1 4zm-64 2zm69 8zm-48 26zm14 0zm1 0zm20 0zm3 0zm3 0zm2 0zm11 0zm1 0zm3 0zm2 0zm4 0z"/>
<path stroke="#2828aa" d="M866.3 1607zm-30 16zm-25 14zm38 14zm-64 4zm-32 18zm-5 1zm64 1zm2 0zm-86 11zm4 12zm0 6zm22 1zm-7 3zm-14 2zm-35 13zm6 1zm-23 1zm18 3zm-39 1zm8 0zm-3 1zm1 3zm36 0zm-65 2zm66 1zm-42 1zm41 0zm-59 1zm18 1zm65 0zm-5 2zm-85 2zm10 0zm20 0zm54 2zm-91 3zm34 1zm58 3zm8 0zm-65 2zm-5 1zm2 0zm-29 7zm13 0zm73 0zm-61 2zm6 1zm8 2zm53 0zm-20 1zm12 0zm7 1zm-78 4zm17 0zm54 0zm-41 2zm27 0zm-34 1zm19 3zm-1 1zm14 0zm-19 1zm13 4zm7 0zm-30 1zm11 1zm12 1zm-28 40z"/>
<path stroke="#28bee6" d="M845.3 1625zm-1 2zm2 16zm-27 1zm20 3zm-36 10zm15 3zm-5 3zm-1 3zm-26 2zm-6 5zm4 2zm3 3z"/>
<path stroke="#28c8e6" d="M843.3 1628zm-7 2zm1 0zm14 3zm-21 1zm-7 7zm-9 8zm21 1zm-14 10zm-33 4zm-2 2zm-4 8zm5 1zm4 2zm-9 3zm-13 1z"/>
<path stroke="#28d2a0" d="M852.3 1628zm-21 7zm-11 9zm2 0zm-2 1zm-2 1zm-5 5zm1 0zm-5 1zm17 2zm-16 1zm3 7zm-3 2zm-13 8z"/>
<path stroke="#28d2aa" d="M847.3 1626zm3 4zm-28 12zm-6 6zm-3 2zm3 2zm-8 3zm-4 1zm21 0zm-7 1zm2 2zm-8 3zm-2 3zm-3 4zm-23 5zm6 2z"/>
<path stroke="#28d2b4" d="M843.3 1627zm3 0zm-4 2zm-6 2zm17 0zm-20 1zm19 2zm-7 8zm-24 1zm3 0zm-6 5zm-11 6zm-3 4zm9 2zm-3 6zm-8 3zm3 2zm-10 5z"/>
<path stroke="#28d2be" d="M851.3 1627zm1 0zm-28 13zm-24 17zm21 1zm4 0zm-34 6zm-1 4zm-5 1zm5 6z"/>
<path stroke="#28d2c8" d="M851.3 1624zm-2 2zm-2 1zm-10 4zm13 0zm0 2zm-19 1zm19 0zm-12 13zm-23 4zm4 5zm-14 1zm19 1zm-24 1zm-11 7zm-5 7zm13 0zm-11 2zm-6 4z"/>
<path stroke="#28d2d2" d="M848.3 1625zm2 1zm3 1zm-11 1zm-5 1zm9 11zm-2 3zm-1 1zm-28 5zm1 0zm0 11zm-19 1zm-1 14z"/>
<path stroke="#28d2dc" d="M850.3 1624zm2 9zm-33 12zm23 0zm-2 1zm-28 6zm-7 1zm26 0zm-1 2zm-3 1zm-3 1zm-28 4zm18 1zm-5 5zm0 1zm-26 5zm0 1zm3 0zm2 1zm-6 1zm10 0z"/>
<path stroke="#28d2e6" d="M853.3 1625zm-4 2zm3 2zm-1 2zm-16 1zm12 5zm-36 12zm1 1zm-6 3zm12 5zm-15 1zm-10 3zm19 2zm-25 5zm21 0zm-24 2zm15 1zm1 0zm-12 2zm9 1z"/>
<path stroke="#3232aa" d="M865.3 1606zm-2 1zm11 4zm-1 1zm-4 2zm-1 6zm-40 2zm5 2zm-23 12zm-2 1zm-16 4zm15 0zm47 2zm1 0zm-3 5zm-63 2zm0 4zm-10 2zm-3 1zm-8 2zm1 1zm70 1zm-70 2zm-10 6zm2 1zm64 0zm-72 2zm71 0zm-8 5zm-71 2zm-5 1zm10 1zm-19 2zm3 1zm-9 3zm3 5zm1 0zm62 0zm-20 4zm-37 1zm39 1zm-49 1zm-1 3zm30 0zm-34 1zm19 2zm-13 1zm16 1zm1 0zm-37 1zm28 0zm8 0zm-17 1zm15 0zm-20 1zm-23 1zm40 3zm-84 3zm41 0zm-2 4zm-25 3zm4 1zm22 1zm4 1zm-35 1zm15 1zm13 0zm-29 1zm37 1zm8 0zm29 0zm-61 1zm-13 1zm47 1zm-52 1zm52 1zm17 0zm-95 1zm17 1zm67 1zm11 0zm-60 1zm72 0zm29 0zm-88 1zm29 1zm15 0zm11 0zm-19 1zm-74 1zm86 0zm10 0zm-22 1zm5 0zm11 0zm-84 1zm18 0zm-7 1zm67 1zm-71 1zm4 0zm1 1zm69 0zm-81 1zm79 0zm6 0zm-87 1zm17 0zm-6 1zm58 0zm-50 1zm61 0zm-61 3zm63 3zm-88 1zm20 0zm82 0zm3 0zm-103 1zm89 0zm-13 1zm22 0zm-26 1zm-3 2zm11 0zm-67 2zm11 0zm3 0zm53 0zm-65 1zm0 1zm15 1zm21 1zm-51 2zm29 1zm14 0zm71 0zm-49 1zm-7 1zm18 0zm-54 2zm-26 1zm1 0zm7 0zm64 0zm4 0zm-28 1zm9 0zm9 0zm22 0zm-83 2zm40 0zm-19 1zm40 0zm-40 1zm11 0zm1 1zm33 0zm-48 2zm37 0zm-32 3zm20 1zm-31 5zm-10 3zm26 2zm43 1zm-69 25zm5 0zm7 0zm2 0zm4 0zm1 0zm1 0zm6 0zm32 0zm2 0zm6 0zm20 0zm2 0z"/>
<path stroke="#32d26e" d="M842.3 1644z"/>
<path stroke="#32d278" d="M851.3 1625zm-3 10zm-23 6zm1 1zm-10 9zm-6 1zm20 0zm-21 1zm2 1zm-6 5zm-6 2zm6 1zm-15 7zm12 1zm2 0zm1 0zm-14 6z"/>
<path stroke="#32d282" d="M853.3 1629zm-15 1zm10 3zm-15 1zm-11 9zm17 2zm-7 4zm-17 4zm2 2zm-2 1zm2 1zm2 0zm-23 5zm10 5zm-1 1zm-17 4zm1 1zm6 0z"/>
<path stroke="#32d28c" d="M851.3 1630zm-5 1zm3 0zm-3 1zm-8 14zm-2 1zm0 1zm-24 3zm20 0zm-25 2zm16 0zm7 0zm-20 1zm-3 2zm9 0zm4 0zm0 1zm-17 1zm-2 1zm-11 6zm19 0zm-21 1zm4 8zm-1 1z"/>
<path stroke="#32d296" d="M850.3 1628zm-6 12zm-8 6zm-5 5zm-17 8zm-19 3zm-2 1zm1 0zm-4 1zm18 4zm-25 2zm5 1zm-7 2zm4 0z"/>
<path stroke="#32d2a0" d="M852.3 1631zm-31 14zm-34 23zm14 3z"/>
<path stroke="#32dc64" d="M841.3 1630zm6 0zm1 1zm-15 2zm6 0zm-13 7zm3 13zm-2 2zm-15 2zm11 0zm-17 2zm1 0zm-1 1zm4 0zm-14 3zm-3 2zm11 3zm2 0zm-20 3zm-2 1zm3 0zm8 3z"/>
<path stroke="#32dc6e" d="M851.3 1629zm-13 2zm7 7zm1 1zm-6 6zm-19 1zm-13 7zm3 8zm-1 2zm-21 5zm17 3zm-10 3z"/>
<path stroke="#3c3caa" d="M855.3 1602zm10 0zm6 3zm-17 1zm-7 7zm27 0zm-6 18zm-69 12zm1 1zm60 0zm-2 1zm-5 10zm-74 2zm-10 7zm69 0zm-80 5zm-2 3zm64 4zm-8 4zm-5 2zm-75 1zm-5 3zm-7 1zm6 5zm-1 6zm5 1zm-16 1zm17 0zm29 5zm-35 2zm11 1zm2 0zm9 3zm-29 9zm-70 1zm7 2zm40 0zm-37 4zm25 0zm3 3zm48 0zm-32 1zm-21 1zm-25 1zm20 1zm59 1zm-83 1zm30 0zm-10 2zm-27 1zm-5 1zm28 0zm-20 4zm-19 2zm-3 2zm18 0zm2 0zm0 1zm9 1zm72 3zm-84 2zm83 1zm5 2zm-74 2zm-4 1zm9 1zm3 1zm64 0zm-90 1zm13 0zm-7 1zm66 4zm8 1zm-1 2zm-68 1zm8 0zm73 0zm-60 3zm-6 1zm89 0zm-112 2zm33 0zm56 0zm3 0zm-14 1zm-78 1zm18 0zm58 0zm-57 1zm7 1zm-24 1zm7 0zm1 2zm6 0zm15 1zm25 0zm-23 1zm4 2zm12 0zm6 0zm19 0zm-36 1zm27 0zm-38 1zm6 1zm10 0zm-28 1zm28 0zm-35 1zm32 1zm19 0zm-39 2zm35 0zm-5 2zm9 0zm1 1zm-29 1zm3 1zm-47 25zm22 0zm1 0zm58 0zm4 0zm2 0z"/>
<path stroke="#3c3cb4" d="M873.3 1604zm3 10zm-2 7zm-49 1zm-8 10zm-41 18zm65 13zm-11 11zm-90 1zm81 3zm-104 12zm78 5zm-74 9zm-62 7zm74 2zm-79 1zm50 3zm22 1zm-3 2zm-6 1zm-14 3zm31 2zm22 2zm-48 1zm-40 1zm51 0zm-1 3zm2 0zm10 0zm-103 2zm23 0zm75 1zm2 0zm18 8zm-94 2zm82 0zm-97 4zm87 0zm19 0zm-5 4zm-2 1zm28 2zm-128 2zm10 1zm6 3zm91 0zm-100 3zm1 0zm86 0zm-80 4zm75 0zm-66 1zm-10 3zm65 1zm-44 2zm41 0zm7 0zm-26 3zm38 2zm13 0zm-105 2zm31 1zm43 0zm0 5zm-63 1zm65 2zm-20 2zm-32 3zm57 3zm-12 1zm-25 1zm7 0zm-5 2zm-7 9zm-36 14zm1 0zm90 0z"/>
<path stroke="#3cdc5a" d="M849.3 1632zm-39 21zm-1 1zm2 3zm-3 1zm3 0zm1 0zm-5 4zm-9 1zm11 1zm-18 1zm-2 4z"/>
<path stroke="#3cdc64" d="M843.3 1630zm-12 6zm-3 2zm-1 1zm-8 8zm2 3zm-14 10zm2 6zm-4 3zm-5 1z"/>
<path stroke="#46dc5a" d="M842.3 1630zm6 0zm-20 9zm15 3zm-5 3zm-18 3zm3 3zm5 2zm-1 1zm-16 2zm1 0zm10 1zm-21 4zm2 0zm4 4zm0 1zm-6 4zm-16 1zm4 1zm-2 2zm4 0z"/>
<path stroke="#50dc50" d="M845.3 1630zm3 4zm-13 1zm12 1zm-18 16zm-12 2zm2 0zm-17 6zm9 0zm1 0zm-13 3zm7 2zm-16 1zm16 0zm-17 4z"/>
<path stroke="#50dc5a" d="M840.3 1631zm-16 11zm-19 19zm2 7z"/>
<path stroke="#5adc50" d="M847.3 1634zm0 4zm-11 7zm-7 5zm-9 1zm-2 1zm1 1zm-5 3zm1 3zm-23 5zm0 2zm-2 1zm1 2zm-1 4zm1 0z"/>
<path stroke="#64dc46" d="M836.3 1633zm-2 1zm12 1zm-16 2zm0 1zm8 6zm3 0zm-4 1zm-16 2zm1 3zm-9 4zm3 0zm5 0zm1 2zm-9 3zm-8 5zm2 0zm-7 2zm-9 2zm2 2zm10 0zm-13 1zm5 0zm1 0z"/>
<path stroke="#64dc50" d="M846.3 1629zm-21 13zm-28 21z"/>
<path stroke="#6edc3c" d="M841.3 1642zm-16 12z"/>
<path stroke="#6edc46" d="M847.3 1632zm-9 1zm0 1zm-15 9zm2 0zm-10 15zm-13 8z"/>
<path stroke="#78dc3c" d="M844.3 1628zm5 1zm-5 1zm5 3zm-8 10zm-5 1zm-13 1zm12 2zm-23 7zm11 0zm-4 1zm-10 4zm3 0zm-8 2zm-2 2zm2 0zm2 0zm-15 8z"/>
<path stroke="#82dc32" d="M850.3 1629zm-59 43z"/>
<path stroke="#82dc3c" d="M842.3 1631zm-4 4zm5 4zm-16 2zm16 0zm-21 4zm0 1zm11 2zm-2 1zm-17 6zm-5 8zm-9 2zm-7 1z"/>
<path stroke="#8cdc32" d="M837.3 1634zm1 2zm-7 3zm-3 1zm15 0zm-21 7zm5 4zm1 0zm-6 1zm-8 2zm4 0zm4 0zm-13 1zm-7 7zm-11 5zm1 0zm11 2z"/>
<path stroke="#96dc28" d="M843.3 1638zm-13 12zm-5 1zm-29 13z"/>
<path stroke="#96dc32" d="M834.3 1635zm8 6zm-11 9zm-5 2zm-20 12zm-4 3zm-5 3z"/>
<path stroke="#a0dc28" d="M844.3 1633zm-14 6zm-2 2zm0 2zm-3 1zm12 0zm-13 1zm5 3zm-4 1zm-6 2zm-22 13zm-3 1zm11 1zm-2 1zm-11 2zm5 0zm-3 3z"/>
<path stroke="#aadc28" d="M845.3 1632zm-8 1zm6 0zm-8 1zm10 0zm-16 6zm12 1zm-10 7zm-8 2zm-19 16zm-11 1zm-1 1zm6 0zm-6 2zm4 0z"/>
<path stroke="#b4dc1e" d="M840.3 1633zm4 1zm-22 17zm-27 13zm1 3zm2 0z"/>
<path stroke="#b4dc28" d="M841.3 1633zm5 1zm-1 2zm-7 7zm-10 5zm-16 7zm-6 7zm-1 1zm-4 2zm-1 2zm-8 6z"/>
<path stroke="#bedc1e" d="M845.3 1631zm2 0zm-3 1zm2 1zm-6 2zm4 4zm-8 4zm4 0zm-12 1zm-4 6zm-6 5zm-19 11zm-6 3zm2 1z"/>
<path stroke="#c8dc1e" d="M847.3 1635zm-12 1zm8 0zm-10 1zm-1 1zm-10 15zm-13 9zm-11 4zm3 0zm-6 1zm2 0zm0 1zm5 0z"/>
<path stroke="#d2dc1e" d="M839.3 1634zm2 1zm-10 10zm-8 1zm7 0zm-8 2zm7 1zm-8 2zm4 1zm-21 13zm-16 5z"/>
<path stroke="#dcdc14" d="M843.3 1637zm-2 2zm-13 3zm8 0zm-12 5zm2 3zm-2 4zm-21 9z"/>
<path stroke="#dcdc1e" d="M843.3 1634zm-9 12zm-7 3zm2 2zm-22 10zm-6 2zm-4 3z"/>
<path stroke="#e61e00" d="M837.3 1639zm3 0zm-1 1zm-8 3z"/>
<path stroke="#e63200" d="M838.3 1639z"/>
<path stroke="#e6dc14" d="M842.3 1633zm-2 1zm2 0zm2 3zm-5 1zm-6 2zm3 0zm2 1zm-9 2zm0 3zm-5 5zm2 0zm-29 14zm1 0z"/>
<path stroke="#f03c00" d="M840.3 1638zm-7 4z"/>
<path stroke="#f05000" d="M833.3 1641zm0 3z"/>
<path stroke="#f06400" d="M827.3 1648z"/>
<path stroke="#f0be14" d="M833.3 1638zm-5 11z"/>
<path stroke="#f0c814" d="M844.3 1635zm-4 2zm2 2zm-13 3zm-2 5zm-33 22z"/>
<path stroke="#f0d214" d="M835.3 1637zm1 0zm1 1zm1 2zm-5 3zm-3 1z"/>
<path stroke="#f0dc14" d="M837.3 1636zm-8 8zm0 1zm-4 1zm-22 19zm-7 1zm-3 2z"/>
<path stroke="#fa6400" d="M842.3 1638z"/>
<path stroke="#fa7800" d="M830.3 1640zm-5 7zm5 0z"/>
<path stroke="#fa8200" d="M835.3 1639zm-2 6z"/>
<path stroke="#fa8c00" d="M830.3 1642z"/>
<path stroke="#fa8c0a" d="M836.3 1639z"/>
<path stroke="#fa960a" d="M834.3 1640zm6 1zm-9 1z"/>
<path stroke="#faa00a" d="M837.3 1637zm-2 4zm-1 1zm-9 8zm-26 17z"/>
<path stroke="#faaa0a" d="M840.3 1640zm-3 1zm1 1zm-12 5z"/>
<path stroke="#fab40a" d="M838.3 1637zm-3 1zm-5 3zm-3 1zm8 0zm0 1zm-7 7z"/>
<path stroke="#fabe0a" d="M842.3 1635zm-2 1zm-8 5zm-5 4zm-2 3zm1 0z"/>
<path stroke="#ff8c00" d="M841.3 1636zm-10 5z"/>
<path stroke="#0a14a0" d="M1159.1 1612zm-1 3zm4 3zm-16 1zm4 0zm-6 1zm15 1zm-18 1zm17 0zm-17 1zm18 0zm-22 2zm-4 1zm23 1zm-26 2zm-6 3zm-3 2zm33 2zm2 0zm-38 3zm-4 5zm-5 4zm-6 2zm-1 1zm-16 9zm-4 3zm-4 1zm2 0zm-8 2zm4 0zm48 1zm-52 1zm-2 1zm50 2zm-56 2zm-5 3zm49 0zm-8 4zm-51 1zm45 0zm-3 3zm-4 1zm-51 1zm53 0zm-55 4zm-10 1zm0 3zm-1 1zm35 0zm5 0zm-51 5zm1 1zm36 0zm-38 1zm29 1zm7 0zm-13 1zm-2 1zm-23 2zm21 0zm-24 1zm6 1zm6 0zm9 0zm-11 1zm-9 1zm9 0zm-6 1zm1 0z"/>
<path stroke="#0a14aa" d="M1154.1 1615zm2 0zm4 1zm-8 1zm5 1zm-1 1zm2 1zm1 0zm-15 3zm12 6zm-1 1zm0 3zm-2 2zm0 3zm-38 6zm-8 3zm32 4zm-37 1zm35 3zm-41 3zm32 4zm-9 8zm-1 1zm-4 1zm-5 4zm-4 1zm-48 1zm45 0zm-53 4zm2 0zm35 3zm-48 1zm11 1zm38 0zm-6 2zm-51 1zm-3 1zm2 0zm-4 1zm37 1zm-42 1zm41 1zm-46 3zm1 0zm41 0zm-37 3zm24 0zm-5 1zm2 1zm-28 1zm1 0zm22 1zm-25 1zm4 0zm15 0zm-15 1zm11 0zm1 0zm2 1zm-16 1zm12 0zm-61 40z"/>
<path stroke="#0a14b4" d="M1158.1 1616zm-12 5zm11 1zm-7 1zm6 0zm-27 7zm26 2zm-29 1zm-5 4zm-2 2zm2 0zm-12 8zm36 0zm-35 2zm29 5zm-15 11zm-46 2zm43 2zm-4 1zm-5 3zm-5 3zm-1 4zm-60 3zm-5 2zm48 0zm-52 1zm41 0zm5 1zm-49 1zm43 0zm-49 2zm7 1zm-8 1zm42 0zm-4 1zm-39 1zm6 2zm-13 3zm1 0zm16 4zm-5 1zm-15 2zm15 1zm-18 1zm9 1zm-4 1z"/>
<path stroke="#0a1eb4" d="M1137.1 1626zm17 4zm-3 9zm-56 20zm-13 6zm33 7zm-74 15zm13 12zm-39 3zm-3 1zm14 3zm-1 1zm4 0zm-9 2zm-3 1z"/>
<path stroke="#0a1ebe" d="M1153.1 1619zm-1 1zm2 0zm1 1zm-2 4zm-18 2zm-2 1zm-3 2zm26 1zm-2 3zm-3 3zm-32 5zm28 0zm-34 3zm30 5zm-16 10zm-44 6zm-8 1zm1 1zm-13 6zm42 2zm-49 2zm42 0zm-45 2zm-3 1zm-3 1zm5 0zm-8 1zm7 0zm37 1zm-51 3zm-6 4zm3 0zm30 0zm-35 2zm2 0zm-9 1zm39 0zm-1 1zm-6 3zm-37 2zm4 1zm8 0zm13 0zm-14 2zm-1 1zm8 0zm-19 1zm3 0zm4 0zm-9 2zm11 1zm-10 1z"/>
<path stroke="#0a1ec8" d="M1155.1 1624zm-27 9zm-5 4zm18 14zm-42 5zm30 2zm-39 3zm-22 11zm-18 13zm-4 1zm36 1zm-28 5zm10 1zm-4 1zm-35 1zm1 0zm-2 2zm29 2zm-37 2zm24 1zm-14 1zm-12 2zm2 3z"/>
<path stroke="#0a28c8" d="M1147.1 1622zm7 3zm-22 4zm18 6zm-29 3zm29 1zm-30 1zm29 0zm-29 1zm-8 7zm-5 4zm31 0zm-45 9zm-11 3zm-7 4zm42 1zm-6 2zm-48 4zm-4 2zm42 0zm-47 4zm36 1zm-42 2zm38 0zm-43 2zm4 0zm39 0zm-48 1zm37 0zm-5 3zm-42 2zm0 1zm39 0zm-48 4zm31 3zm-26 1zm-6 1zm2 0zm9 0zm5 0zm-15 1zm14 1zm-9 1zm-2 2z"/>
<path stroke="#0a28d2" d="M1150.1 1621zm3 1zm-6 1zm2 0zm6 0zm-2 1zm1 0zm-4 1zm-14 1zm1 1zm5 0zm-7 1zm-16 15zm26 1zm1 0zm-37 6zm-6 2zm30 2zm-8 8zm-1 2zm-50 5zm44 0zm-14 6zm-17 9zm-23 8zm-37 2zm-2 2zm1 0zm24 3zm-17 2zm5 0zm-17 3zm16 0zm-15 1zm-1 3zm1 0z"/>
<path stroke="#0a32d2" d="M1136.1 1629zm16 5zm0 1zm-29 4zm25 2zm-8 9zm-51 12zm32 2zm-5 3zm4 2zm-48 1zm-7 3zm41 2zm-24 11zm-5 1zm-8 1zm-12 3zm-3 5zm-13 2zm-9 1zm15 0zm-24 2zm-6 1zm14 1zm1 0zm-12 2zm-1 1z"/>
<path stroke="#0a3cd2" d="M1136.1 1652zm-80 29zm-15 5zm12 8zm-8 4zm-9 2z"/>
<path stroke="#0a3cdc" d="M1148.1 1623zm-2 1zm-25 17zm-13 10zm-20 13zm34 1zm-5 3zm1 0zm-40 1zm29 5zm-2 1zm-57 10zm-9 5zm-6 5zm1 1zm-9 1zm-1 1zm10 2zm4 0zm-3 1zm0 2zm-12 3z"/>
<path stroke="#0a46dc" d="M1151.1 1624zm-12 2zm-8 4zm21 2zm-1 1zm-4 6zm-2 2zm-45 16zm28 2zm-9 9zm-4 1zm-44 1zm-4 2zm-3 3zm-4 2zm-4 2zm-3 6zm-12 4zm29 0zm-38 3zm27 1zm-31 2zm0 1zm14 2zm9 0zm-8 2zm-20 7zm-3 1z"/>
<path stroke="#0a50dc" d="M1140.1 1626zm10 0zm-48 28zm29 3zm-20 15zm-58 10zm37 1zm-41 1zm26 4zm-32 11zm-19 1zm3 1zm4 1zm-8 1zm11 0zm-12 1zm3 1z"/>
<path stroke="#1414a0" d="M1160.1 1608zm-1 2zm-2 2zm3 0zm-7 1zm4 0zm3 0zm3 0zm1 0zm-9 1zm3 0zm2 0zm3 0zm-12 1zm11 0zm2 0zm-13 1zm4 0zm6 0zm-2 1zm1 0zm3 0zm-12 1zm7 0zm7 0zm-20 1zm15 0zm-18 1zm15 0zm-18 2zm12 0zm-19 2zm3 0zm1 0zm22 0zm-26 1zm1 0zm6 0zm20 0zm1 0zm-30 2zm27 0zm2 0zm1 0zm-35 1zm32 0zm-1 2zm3 0zm-34 1zm0 1zm32 0zm-1 1zm-34 1zm35 1zm-37 3zm35 1zm-2 1zm-39 1zm37 0zm-40 1zm3 0zm-2 1zm2 0zm37 0zm-41 1zm-10 2zm47 1zm-45 1zm0 1zm5 0zm-2 1zm39 1zm-42 2zm37 0zm-1 2zm-47 2zm4 0zm43 0zm-47 1zm42 0zm1 0zm-45 1zm1 0zm42 0zm2 0zm-52 1zm-1 1zm3 0zm-2 1zm2 0zm43 1zm2 0zm-50 2zm-6 1zm52 1zm-57 3zm55 0zm-59 2zm-3 1zm1 0zm53 0zm-60 3zm55 0zm-1 1zm2 0zm-62 1zm3 0zm-3 1zm1 0zm48 0zm1 0zm2 0zm3 0zm-1 1zm-58 1zm57 0zm2 0zm-65 1zm3 1zm-6 1zm1 0zm5 0zm-10 1zm3 0zm3 0zm54 0zm-61 1zm62 0zm-65 1zm60 0zm2 0zm-73 1zm66 0zm2 0zm2 0zm-71 1zm2 0zm4 0zm8 0zm-11 1zm13 0zm52 0zm-68 1zm6 0zm6 0zm43 1zm1 0zm-50 1zm50 0zm1 0zm-56 1zm51 0zm-53 1zm-1 1zm1 0zm53 0zm-58 1zm5 0zm3 0zm41 0zm6 0zm-55 1zm7 0zm1 0zm40 0zm-44 1zm45 0zm-45 1zm39 0zm4 0zm-50 1zm5 0zm0 1zm36 0zm1 0zm2 0zm-48 1zm6 0zm42 0zm-43 1zm1 0zm27 0zm6 0zm-35 1zm1 0zm30 1zm-2 1zm-29 1zm5 0zm23 0zm2 0zm-28 1zm20 0zm-29 1zm2 0zm6 0zm2 0zm1 0zm1 0zm9 0zm7 0zm6 0zm-30 1zm1 0zm1 0zm6 0zm5 0zm4 0zm6 0zm-28 1zm18 0zm4 0zm-31 1zm15 0zm13 0zm-16 1zm23 0zm-11 1zm-6 2zm2 0zm-6 3zm-35 21zm-9 5zm5 0zm14 0zm18 0zm-38 1zm15 2zm10 0zm17 0zm-43 1zm9 0zm16 0zm1 0zm-15 1zm11 0zm-19 1zm19 0zm13 0zm1 0zm-39 1zm11 0zm16 0zm-21 1zm4 0zm18 0zm-22 1zm6 0zm5 0zm14 0zm1 0zm-19 1zm1 0zm0 1zm19 0zm-26 1zm1 0zm36 0zm-28 1zm-7 1zm33 0zm-44 1zm9 0zm33 0zm-30 2zm8 0zm16 0zm-26 2zm3 0zm1 0zm27 0zm-29 2zm-3 1zm4 0zm24 0zm-13 2zm-9 1zm-7 1zm17 0zm-1 1zm-2 1zm1 0zm-13 1zm-3 1zm18 1zm-17 1zm17 7z"/>
<path stroke="#141ea0" d="M1162.1 1620zm-31 5zm-27 21zm-8 6zm-10 4zm-8 7zm51 2zm-71 9zm-11 5zm-18 3zm4 3zm65 0zm-79 6zm-4 1zm28 12zm-42 2zm39 0zm3 0zm-36 1zm-7 1zm5 6zm-26 30zm5 3zm-11 2zm9 0zm-22 3zm28 1zm-30 4zm14 0zm11 3zm-8 2zm11 3zm6 0zm-19 5zm-14 2zm16 1zm4 1zm-7 10z"/>
<path stroke="#1450dc" d="M1149.1 1624zm-24 12zm15 15zm-43 9zm-5 1zm-2 1zm-13 7zm31 4zm0 1zm-32 12zm-31 1zm-5 1zm13 0zm-18 6zm-3 1zm18 0zm-26 4zm7 1zm0 1z"/>
<path stroke="#145adc" d="M1154.1 1628zm-2 3zm-28 5zm22 6zm-60 22zm-2 2zm-5 2zm37 0zm4 0zm-15 6zm1 0zm-10 3zm-4 3zm-39 4zm26 2zm-37 2zm5 0zm15 3zm-11 1zm9 1zm-32 1zm-1 4z"/>
<path stroke="#1464dc" d="M1149.1 1626zm-23 10zm0 23zm-48 26z"/>
<path stroke="#1464e6" d="M1143.1 1628zm-6 1zm-5 2zm19 1zm-21 1zm-6 4zm-3 5zm22 4zm-2 2zm-30 2zm-10 6zm-6 4zm-4 3zm-36 19zm32 0zm4 0zm-8 1zm-8 2zm-25 12zm-21 2zm-1 1zm6 1zm-16 4z"/>
<path stroke="#146ee6" d="M1134.1 1630zm0 1zm-14 11zm14 11zm-30 1zm-5 3zm-11 8zm30 0zm-38 3zm34 2zm-11 4zm-25 10zm6 0zm-40 2zm11 0zm3 4zm-15 6zm6 0zm-19 1zm2 0zm1 1zm6 0zm-13 1zm14 1zm-22 4z"/>
<path stroke="#1478e6" d="M1152.1 1628zm-22 6zm18 2zm-3 7zm-33 6zm-16 11zm-3 2zm-3 1zm33 0zm-36 2zm25 5zm-56 10zm-2 5zm15 2zm-29 2zm27 0zm-26 2zm14 1zm-8 1zm5 0zm-11 1zm1 1zm4 1zm-18 2zm10 4z"/>
<path stroke="#1482e6" d="M1116.1 1646zm2 0zm-17 29zm-22 10zm-6 2zm-34 5zm1 4zm8 1z"/>
<path stroke="#1482f0" d="M1128.1 1635zm0 1zm-2 1zm20 4zm-40 12zm15 10zm-24 13zm-7 5zm-33 5zm-14 3zm22 0zm-19 3zm-7 2zm-13 6zm-3 2z"/>
<path stroke="#148ce6" d="M1151.1 1626zm-16 5zm12 0zm1 4zm-23 3zm-19 16zm21 3zm-29 3zm17 7zm-34 1zm-1 1zm-3 1zm2 0zm29 2zm-10 3zm-3 2zm-15 6zm-23 1zm-8 2zm5 0zm-11 1zm-3 5zm3 0zm2 0zm-8 1zm14 0zm-15 2zm11 0zm-20 2zm18 2z"/>
<path stroke="#148cf0" d="M1147.1 1626zm-1 12zm-23 3zm12 11zm-5 3zm-6 6zm-70 21zm5 8zm-23 1zm4 2zm6 2zm-8 2z"/>
<path stroke="#1496e6" d="M1139.1 1628zm-9 4zm13 15zm-33 4zm-42 23zm-7 4zm1 1zm-18 8zm23 0zm-10 2z"/>
<path stroke="#1e1ea0" d="M1164.1 1605zm-6 3zm1 1zm6 0zm1 0zm-8 2zm8 2zm-23 3zm26 0zm-20 1zm14 2zm5 0zm-7 9zm1 0zm-41 4zm-2 1zm40 5zm-5 2zm-45 2zm43 2zm0 1zm-42 1zm38 3zm1 0zm-2 1zm-52 3zm-1 1zm-6 2zm-4 1zm5 0zm46 2zm0 2zm-59 1zm-11 5zm-2 2zm61 3zm-72 3zm62 2zm-68 1zm62 2zm1 0zm-68 1zm59 2zm-66 1zm67 2zm-83 2zm6 0zm-9 1zm68 0zm-71 1zm2 1zm60 1zm8 0zm-73 2zm63 0zm2 0zm-9 2zm-57 3zm48 0zm8 0zm-57 3zm-3 1zm-10 1zm11 0zm2 0zm66 0zm-26 1zm-42 1zm-5 1zm1 1zm-7 1zm6 2zm34 0zm-34 1zm-6 1zm3 1zm18 0zm-6 1zm-7 2zm2 0zm2 0zm-4 1zm2 0zm8 1zm-16 8zm-8 7zm-10 4zm21 1zm-29 3zm18 0zm-17 1zm-6 1zm16 0zm2 0zm-15 1zm1 0zm17 0zm13 0zm-25 1zm10 0zm3 0zm-11 1zm-17 1zm5 0zm12 0zm18 0zm-38 1zm6 0zm14 0zm10 0zm7 0zm-37 1zm6 0zm34 0zm6 0zm-32 1zm12 0zm-16 1zm4 0zm4 0zm10 0zm14 0zm11 0zm5 0zm-61 1zm27 0zm4 0zm-29 1zm25 0zm2 0zm15 0zm-1 1zm13 0zm-52 1zm6 0zm1 0zm13 0zm8 0zm19 0zm-31 2zm4 0zm15 0zm9 0zm-58 1zm23 0zm29 1zm-28 1zm-15 1zm15 0zm7 0zm29 0zm-40 1zm1 0zm18 1zm10 0zm6 0zm5 0zm-33 1zm12 0zm-26 1zm31 0zm7 0zm3 0zm1 0zm-42 1zm2 1zm-2 1zm9 0zm8 0zm3 0zm-2 1zm16 0zm-32 1zm12 0zm3 0zm16 0zm7 0zm-1 1zm-22 1zm24 0zm-41 1zm5 0zm6 0zm-5 1zm14 2zm-7 1zm-7 1zm25 1zm-12 1zm2 0zm4 0zm17 2zm-29 2zm4 0zm-30 43zm1 0zm17 0zm10 0zm1 0zm2 0zm9 0z"/>
<path stroke="#1e96e6" d="M1143.1 1629zm8 1zm-1 1zm-23 5zm-5 6zm-54 33zm2 12zm-3 1zm-7 1zm-26 8zm5 4z"/>
<path stroke="#1ea0e6" d="M1146.1 1639zm-25 5zm-1 1zm-2 2zm-5 3zm-2 1zm-1 2zm19 2zm-33 6zm-8 2zm7 0zm-10 3zm0 1zm-2 3zm-9 1zm39 0zm-6 1zm-36 1zm13 9zm4 0zm-32 5zm6 0zm-8 1zm-1 1zm6 0zm-14 2zm2 0zm-8 2zm-8 1zm20 0zm-10 2zm1 1zm2 0zm1 0zm2 0zm-15 4zm-10 1z"/>
<path stroke="#1eaae6" d="M1141.1 1629zm3 0zm2 1zm-19 7zm14 10zm-29 3zm26 0zm-5 2zm-4 4zm-8 4zm4 0zm-28 1zm-19 10zm-33 18zm9 5zm-9 2zm3 0z"/>
<path stroke="#1eb4e6" d="M1148.1 1624zm-4 2zm1 0zm1 1zm4 2zm-9 1zm-8 3zm-3 2zm17 2zm-4 7zm-24 2zm-8 6zm19 2zm-8 8zm-29 2zm-3 1zm25 1zm1 0zm-3 2zm-38 3zm-3 3zm21 4zm-33 2zm-3 3zm5 2zm8 1zm-16 1zm1 0zm5 0zm-8 2zm-2 2zm-6 2zm0 1zm3 2zm-6 1zm2 0z"/>
<path stroke="#1ebee6" d="M1146.1 1631zm0 6zm-52 26zm-19 7zm-2 3zm26 2zm-6 2z"/>
<path stroke="#2828a0" d="M1167.1 1609zm1 6zm-5 1zm6 2zm-35 4zm28 0zm-39 4zm-3 4zm39 4zm-10 14zm-55 1zm-3 1zm1 2zm47 6zm-63 3zm-5 1zm59 2zm-69 5zm-5 1zm-10 4zm-3 1zm-3 5zm60 2zm8 2zm-83 2zm-11 7zm-3 2zm51 5zm-61 2zm-6 2zm-3 4zm51 1zm-19 3zm-6 3zm2 1zm-20 1zm0 1zm7 0zm4 1zm-15 4zm-21 1zm20 0zm-30 6zm14 0zm16 0zm-37 1zm35 1zm-43 2zm65 1zm-51 3zm-10 1zm15 0zm17 0zm-26 1zm39 0zm-15 1zm25 1zm-51 3zm28 1zm16 0zm-23 2zm-8 1zm25 0zm6 0zm3 0zm-51 1zm42 1zm-17 1zm-41 2zm51 0zm-48 2zm9 1zm1 1zm17 0zm6 0zm32 0zm-29 1zm5 1zm21 0zm-57 1zm4 0zm4 0zm53 0zm-60 1zm4 1zm9 0zm27 0zm5 0zm1 0zm-38 1zm11 0zm7 0zm28 1zm2 0zm-40 1zm20 0zm2 0zm6 0zm-6 3zm9 0zm6 0zm-47 1zm13 0zm15 0zm-34 1zm16 0zm-17 1zm50 0zm4 0zm-49 1zm13 2zm43 0zm-19 2zm-8 3zm3 0zm-19 1zm-4 2zm12 0zm-7 3zm6 0zm1 2zm-12 2zm11 0zm51 2zm-37 9zm-45 27zm19 0zm16 0zm3 0zm3 0zm6 0zm1 0zm11 0zm7 0z"/>
<path stroke="#2828aa" d="M1160.1 1607zm5 0zm-19 9zm23 3zm-34 1zm-40 29zm2 0zm15 30zm-81 2zm-5 2zm-5 5zm51 9zm-1 1zm5 0zm-76 3zm51 6zm-16 5zm-53 6zm36 0zm-20 1zm2 11zm-37 7zm19 0zm-27 1zm38 0zm7 2zm-21 2zm13 1zm7 0zm-28 3zm7 0zm15 0zm2 0zm-41 1zm-15 1zm22 1zm42 6zm12 0zm-61 2zm7 0zm32 0zm-14 1zm-38 1zm46 0zm-14 1zm21 2zm-20 2zm-28 1zm34 1zm-14 1zm20 1zm27 0zm-59 3zm14 1zm-9 1zm30 1zm-7 1zm-29 4zm25 1zm23 0zm-38 2zm33 1zm-31 1zm15 3zm23 0zm-56 2zm17 0zm8 0zm54 3zm-37 2zm-28 7zm-15 27zm16 0zm4 0zm11 0zm3 0zm13 0z"/>
<path stroke="#28bee6" d="M1139.1 1629zm-6 3zm15 0zm-3 1zm-32 19zm-7 4zm14 5zm-34 7zm-23 10zm1 0zm2 0zm26 1zm-3 2zm-7 3zm-22 2zm-12 5zm-7 1z"/>
<path stroke="#28c8e6" d="M1147.1 1630zm-11 1zm-9 7zm-2 1zm-8 8zm22 0zm-9 6zm-3 3zm-2 3zm-41 10zm23 2zm-1 1zm-2 1zm1 0zm-32 1zm-8 3zm10 6zm0 1zm-19 1zm15 0zm-13 1zm1 0zm5 2zm-15 2z"/>
<path stroke="#28d2a0" d="M1142.1 1633zm-16 8zm14 4zm-20 3zm-12 7zm17 0zm-3 5zm-23 2zm14 4zm-32 7zm-8 2zm-8 3zm13 2zm11 0zm-19 1z"/>
<path stroke="#28d2aa" d="M1143.1 1631zm-5 2zm-9 19zm-4 4zm-6 6zm-45 13zm6 6zm7 0z"/>
<path stroke="#28d2b4" d="M1145.1 1630zm-5 1zm-8 4zm-17 14zm-4 4zm13 4zm-25 4zm-10 3zm27 1zm-4 1zm-30 5zm18 0zm-24 1zm28 0zm-30 1zm24 1zm-30 4zm-3 1zm10 3zm-15 1zm0 2zm1 1zm-19 4zm1 1z"/>
<path stroke="#28d2be" d="M1135.1 1632zm8 13zm-38 12zm-20 11zm-3 2zm25 0zm-26 1zm-4 1zm14 6zm-28 4zm7 2zm0 1z"/>
<path stroke="#28d2c8" d="M1147.1 1629zm1 0zm1 1zm-2 2zm-24 13zm-7 4zm6 12zm-25 2zm22 2zm-30 1zm24 1zm-23 1zm-5 1zm-6 2zm22 1zm-29 1zm21 2zm-21 1zm15 3zm-4 2zm-21 2zm5 3z"/>
<path stroke="#28d2d2" d="M1143.1 1632zm3 3zm-30 12zm23 1zm-37 10zm1 0zm-16 10zm10 5zm-3 2zm-27 1zm-3 1zm24 3zm-26 2zm16 1zm-20 2z"/>
<path stroke="#28d2dc" d="M1152.1 1627zm-7 1zm-15 8zm-7 6zm18 3zm-7 6zm-44 13zm27 0zm-6 4zm-8 5zm-8 2zm-2 1zm-3 3zm-29 2zm12 3zm-7 3z"/>
<path stroke="#28d2e6" d="M1142.1 1629zm5 6zm-19 20zm-24 2zm22 1zm-24 14zm-36 5zm2 0zm-6 4zm-6 3zm4 0zm1 3zm-9 5zm1 0zm-11 1z"/>
<path stroke="#3232aa" d="M1164.1 1604zm-15 8zm3 0zm-19 8zm-4 4zm28 23zm-72 2zm61 5zm-64 4zm-20 3zm-27 18zm-8 2zm85 0zm-6 3zm-11 2zm-81 1zm65 7zm-85 2zm5 1zm4 0zm81 0zm-24 1zm-61 2zm-2 1zm-4 4zm67 0zm-63 3zm-10 1zm9 0zm-9 1zm52 0zm0 1zm-61 2zm18 2zm-3 3zm6 1zm5 0zm-3 1zm-12 1zm18 0zm-29 3zm14 1zm-1 1zm-39 2zm35 3zm1 0zm4 0zm-62 1zm50 1zm-15 1zm0 1zm23 1zm-39 1zm15 0zm7 0zm15 0zm-35 2zm33 0zm3 2zm12 0zm-44 1zm11 0zm35 0zm6 0zm-43 1zm34 0zm-3 1zm-6 1zm-37 1zm63 0zm-28 3zm-39 1zm22 0zm-18 1zm1 1zm42 0zm-20 1zm32 0zm-37 1zm18 0zm14 0zm-50 2zm48 0zm-68 2zm61 2zm-37 2zm32 0zm36 0zm-68 1zm32 0zm-37 1zm7 0zm14 1zm36 0zm-30 1zm31 0zm-65 1zm37 0zm-18 1zm39 0zm2 0zm14 0zm-39 2zm16 0zm-3 1zm17 1zm3 0zm-62 1zm5 2zm76 0zm-76 1zm34 0zm-59 1zm16 0zm25 0zm10 0zm25 0zm-57 1zm9 0zm39 0zm6 0zm-27 1zm-21 2zm19 0zm4 0zm23 0zm-42 1zm6 0zm20 0zm16 1zm-25 1zm8 1zm15 1zm-15 2zm-21 1zm25 0zm-6 1zm0 1zm-44 1zm27 0zm28 0zm-17 1zm23 1zm-39 1zm11 1zm4 0zm-30 1zm39 1zm-1 23zm-44 7zm8 0zm1 0zm7 0zm3 0zm6 0zm3 0zm3 0zm9 0zm6 0zm10 0zm2 0zm7 0zm6 0zm7 0zm2 0z"/>
<path stroke="#32d26e" d="M1114.1 1651z"/>
<path stroke="#32d278" d="M1144.1 1633zm-1 1zm3 2zm-2 4zm-21 4zm-16 12zm-3 2zm-3 4zm16 1zm-29 6zm-4 3zm-9 2zm0 1zm-11 4z"/>
<path stroke="#32d282" d="M1135.1 1633zm2 0zm-3 1zm-16 14zm20 1zm-11 5zm-19 2zm-20 23zm-25 1zm8 2zm-9 6z"/>
<path stroke="#32d28c" d="M1144.1 1631zm-25 17zm-4 4zm-24 14zm-12 6zm16 2zm-3 1zm-24 1zm15 1zm-2 3zm1 0zm-10 2z"/>
<path stroke="#32d296" d="M1142.1 1636zm-26 14zm18 0zm-8 5zm-17 2zm-8 2zm-1 1zm14 6zm-2 2zm-37 5zm-8 4zm5 1z"/>
<path stroke="#32d2a0" d="M1140.1 1648zm-4 1zm-5 3zm-44 18zm7 4zm-5 5zm-10 2zm1 1z"/>
<path stroke="#32dc64" d="M1141.1 1632zm-5 1zm7 2zm-11 1zm13 0zm-18 6zm6 9zm-11 6zm-28 8zm-6 5zm13 0zm-2 1zm-17 1zm-2 1zm-9 1zm10 3zm5 0zm-16 1zm7 0zm9 0zm-18 1zm-4 2zm3 0zm0 3z"/>
<path stroke="#32dc6e" d="M1133.1 1635zm12 3zm-18 2zm12 6zm-8 4zm-10 11zm-28 6zm-22 10zm-5 2zm8 1zm8 1zm-16 2zm1 0z"/>
<path stroke="#3c3caa" d="M1166.1 1622zm-57 13zm5 2zm-30 17zm56 7zm-82 9zm-7 2zm1 2zm81 0zm-115 7zm-20 14zm70 4zm-74 2zm80 1zm5 0zm-21 4zm-67 12zm3 0zm0 3zm-7 3zm-45 2zm25 1zm19 1zm-28 1zm15 2zm-30 2zm56 0zm-2 2zm-36 3zm44 0zm-91 1zm39 1zm0 4zm10 1zm45 1zm-1 1zm-59 1zm-9 1zm3 2zm62 2zm6 1zm3 1zm-73 2zm2 0zm87 2zm-85 4zm57 1zm8 1zm4 1zm-62 1zm62 0zm-4 2zm-58 2zm65 3zm-32 1zm0 1zm2 2zm5 2zm11 1zm-7 1zm16 6zm-42 1zm22 2zm-33 2zm9 1zm37 0zm-52 1zm45 1zm-53 1zm-10 3zm82 0zm-54 3zm0 3zm-5 3zm29 2zm0 17zm3 0zm11 0z"/>
<path stroke="#3c3cb4" d="M1162.1 1601zm-14 11zm-4 3zm-40 19zm0 9zm22 28zm-84 1zm74 6zm5 1zm-99 7zm68 4zm-83 1zm-20 10zm2 10zm-7 3zm7 2zm-42 6zm63 2zm-12 4zm-29 3zm11 0zm-24 1zm58 2zm-34 4zm-7 1zm-41 1zm90 0zm-54 1zm50 7zm24 1zm-30 2zm9 0zm-83 2zm-8 1zm75 0zm1 3zm-80 8zm1 2zm-9 5zm92 4zm-62 3zm7 1zm29 4zm22 0zm-7 1zm-11 3zm-31 7zm48 4zm-26 13zm-61 16zm27 0zm24 0zm43 0zm2 0zm10 0z"/>
<path stroke="#3cdc5a" d="M1143.1 1637zm-1 1zm-1 6zm-15 9zm-28 9zm-4 2zm-8 5zm14 1zm-23 3zm5 3zm5 0zm-17 1zm4 0zm11 2zm-20 2z"/>
<path stroke="#3cdc64" d="M1129.1 1639zm14 1zm-18 1zm-2 17zm-21 1zm18 1zm-3 2zm-21 2zm-8 4zm6 5zm-9 1zm5 3zm-3 1zm-22 2zm0 2z"/>
<path stroke="#46dc5a" d="M1143.1 1633zm-1 1zm1 2zm0 6zm-22 7zm14 0zm2 0zm-19 1zm-2 1zm8 5zm0 2zm-21 1zm1 0zm-12 13zm-2 4zm-6 3z"/>
<path stroke="#50dc50" d="M1139.1 1632zm-9 7zm-11 10zm-2 3zm-10 17zm-5 1zm1 0zm-19 1zm-4 6zm2 1zm-8 1zm8 0zm-6 1zm-7 1zm8 1zm-13 1z"/>
<path stroke="#50dc5a" d="M1143.1 1638zm-26 15zm-25 17zm-13 8zm-12 2z"/>
<path stroke="#5adc50" d="M1136.1 1634zm5 0zm-2 11zm-24 8zm14 0zm-6 3zm-15 1zm4 0zm5 0zm-17 5zm13 2zm2 0zm-21 3zm6 2zm-6 1zm10 0zm-8 3zm-9 1zm-12 2zm0 1zm1 0zm8 0zm-5 2zm-13 1z"/>
<path stroke="#64dc46" d="M1134.1 1636zm8 3zm-16 3zm-2 2zm-12 10zm3 0zm9 0zm4 0zm-39 16zm2 0zm-13 7zm10 0zm-18 3z"/>
<path stroke="#64dc50" d="M1123.1 1643zm-13 12zm-18 18z"/>
<path stroke="#6edc3c" d="M1125.1 1642z"/>
<path stroke="#6edc46" d="M1139.1 1635zm2 6zm0 1zm-21 5zm3 1zm9 1zm-1 2zm-6 1zm-18 6zm2 0zm9 0zm-14 3zm-6 4zm9 2zm-25 6zm-3 1zm1 0zm2 1zm7 0z"/>
<path stroke="#78dc3c" d="M1139.1 1634zm-7 3zm-2 1zm12 4zm-5 5zm-3 1zm-21 7zm-1 1zm7 0zm3 0zm-12 1zm7 2zm1 0zm-9 2zm4 1zm-17 5zm8 1zm-26 6zm3 0zm10 1zm-14 1zm-10 2zm18 0zm-14 1zm9 0zm-14 2z"/>
<path stroke="#82dc32" d="M1114.1 1655zm-47 24z"/>
<path stroke="#82dc3c" d="M1142.1 1635zm-8 2zm8 0zm-10 8zm4 1zm-20 8zm4 0zm5 0zm-10 4zm1 3zm-17 3zm1 4zm6 0zm-11 1zm4 1zm-25 6zm14 0zm-15 4zm-5 1z"/>
<path stroke="#8cdc32" d="M1140.1 1643zm-17 3zm15 0zm-4 1zm-9 1zm-6 3zm0 1zm5 3zm-17 2zm10 1zm4 0zm-12 1zm10 1zm-8 2zm3 0zm-18 3zm7 2zm-6 2zm-6 3zm7 0zm-15 2zm6 2zm-10 1zm-2 2zm0 1zm-8 2z"/>
<path stroke="#96dc28" d="M1142.1 1632zm-2 2zm-13 7zm-3 6zm0 3zm2 2zm-12 5zm-3 3zm0 1zm-20 8zm-1 5zm-3 1zm3 0z"/>
<path stroke="#96dc32" d="M1139.1 1639zm-7 9zm3 0zm-33 13zm-15 10zm3 0zm-1 2zm-4 2z"/>
<path stroke="#a0dc28" d="M1139.1 1638zm-7 1zm-4 2zm-7 5zm14 0zm0 1zm-4 2zm-12 1zm2 0zm7 2zm-1 1zm-15 2zm5 0zm2 0zm2 0zm-7 1zm7 0zm0 1zm-9 1zm2 0zm0 1zm2 0zm-2 1zm-8 1zm9 0zm-14 4zm-5 1zm3 1zm3 0zm-6 1zm1 3zm-7 1zm-9 4zm3 0zm-9 2z"/>
<path stroke="#aadc28" d="M1141.1 1640zm-4 6zm-12 1zm-5 2zm-4 3zm-1 3zm-2 1zm-1 4zm1 1zm-2 2zm-9 1zm4 0zm-2 1zm5 0z"/>
<path stroke="#b4dc1e" d="M1128.1 1651zm-4 2zm-12 10zm-2 2zm-5 1zm-9 4zm-20 6z"/>
<path stroke="#b4dc28" d="M1141.1 1636zm-8 1zm-7 9zm-3 3zm4 1zm0 1zm-15 8zm1 0zm4 1zm-12 2zm7 0zm4 0zm-11 3zm3 0zm-31 12z"/>
<path stroke="#bedc1e" d="M1137.1 1635zm4 2zm-12 4zm-1 1zm12 2zm-14 1zm4 3zm-4 2zm-19 10zm11 0zm-13 1zm2 1zm3 2zm-11 1zm7 0zm-7 1zm-6 4z"/>
<path stroke="#c8dc1e" d="M1133.1 1636zm2 0zm5 2zm-7 1zm7 0zm-9 1zm5 5zm-2 1zm-2 1zm-3 2zm-10 4zm-3 7zm-4 1zm-4 1zm-6 1zm-2 2zm-5 2zm3 1zm7 0zm-13 3zm2 0z"/>
<path stroke="#d2dc1e" d="M1138.1 1640zm-9 6zm-10 8zm1 1zm-16 11zm-2 2zm-6 1zm-9 3z"/>
<path stroke="#dcdc14" d="M1135.1 1635zm-6 9zm9 1zm-11 3zm-16 16zm-7 3zm-3 1zm2 1z"/>
<path stroke="#dcdc1e" d="M1129.1 1648zm-19 13zm-4 1zm2 5zm-13 5z"/>
<path stroke="#e61e00" d="M1136.1 1640zm-3 1zm2 0zm-1 1zm2 0zm-4 2z"/>
<path stroke="#e62800" d="M1137.1 1640z"/>
<path stroke="#e6dc14" d="M1139.1 1641zm-6 3zm-6 1zm-1 4zm-4 2zm-11 7zm2 0zm-4 2zm-2 3zm0 2zm-10 1zm6 0zm0 2zm-17 6z"/>
<path stroke="#f03c00" d="M1132.1 1646zm-22 16z"/>
<path stroke="#f04600" d="M1135.1 1642z"/>
<path stroke="#f0be14" d="M1133.1 1646zm-7 2zm-5 6zm-12 8zm-6 1z"/>
<path stroke="#f0c814" d="M1136.1 1637zm-1 1zm0 1zm-1 1zm-3 2zm8 0zm-5 3zm-6 1zm-1 1zm-1 4zm-19 10zm-1 5zm-6 1z"/>
<path stroke="#f0d214" d="M1138.1 1635zm-8 8zm-7 7zm-25 16z"/>
<path stroke="#f0dc14" d="M1138.1 1637zm-13 8zm10 0zm-11 3zm-2 2zm-11 9zm-15 12z"/>
<path stroke="#fa6e00" d="M1132.1 1642z"/>
<path stroke="#fa8200" d="M1138.1 1642zm-15 10z"/>
<path stroke="#fa8c0a" d="M1140.1 1641z"/>
<path stroke="#fa960a" d="M1136.1 1641zm-5 4z"/>
<path stroke="#faa00a" d="M1138.1 1639zm-1 2zm-8 1zm6 2zm-5 1zm0 1z"/>
<path stroke="#faaa0a" d="M1137.1 1636zm-1 2z"/>
<path stroke="#fab40a" d="M1135.1 1637zm-5 7zm8 0zm-33 19zm-10 8z"/>
<path stroke="#ff8c00" d="M1138.1 1641zm-1 1z"/>
</g>
<rect x="321.3" y="966.8" width="270.3" height="270.2" fill="none" stroke="#222" stroke-width="1.4"/>
<path d="M432.6 966.8V1237M321.3 1128.8H591.6" stroke="#000" stroke-width="2" fill="none"/>
<text x="523.6" y="1003.5" font-style="italic" stroke="#000" stroke-width="0.8">240</text>
<rect x="616.8" y="966.8" width="270.3" height="270.2" fill="none" stroke="#222" stroke-width="1.4"/>
<path d="M728.1 966.8V1237M616.8 1128.8H887.1" stroke="#000" stroke-width="2" fill="none"/>
<text x="821.41" y="1003.5" font-style="italic" stroke="#000" stroke-width="0.8">241</text>
<rect x="912.6" y="966.8" width="270.3" height="270.2" fill="none" stroke="#222" stroke-width="1.4"/>
<path d="M1023.9 966.8V1237M912.6 1128.8H1182.9" stroke="#000" stroke-width="2" fill="none"/>
<text x="1114.93" y="1003.5" font-style="italic" stroke="#000" stroke-width="0.8">823</text>
<rect x="321.3" y="1263.5" width="270.3" height="270.2" fill="none" stroke="#222" stroke-width="1.4"/>
<path d="M432.6 1263.5V1533.7M321.3 1425.5H591.6" stroke="#000" stroke-width="2" fill="none"/>
<text x="525.91" y="1296.7" font-style="italic" stroke="#000" stroke-width="0.8">551</text>
<rect x="616.8" y="1263.5" width="270.3" height="270.2" fill="none" stroke="#222" stroke-width="1.4"/>
<path d="M728.1 1263.5V1533.7M616.8 1425.5H887.1" stroke="#000" stroke-width="2" fill="none"/>
<text x="819.04" y="1296.7" font-style="italic" stroke="#000" stroke-width="0.8">488</text>
<rect x="912.6" y="1263.5" width="270.3" height="270.2" fill="none" stroke="#222" stroke-width="1.4"/>
<path d="M1023.9 1263.5V1533.7M912.6 1425.5H1182.9" stroke="#000" stroke-width="2" fill="none"/>
<text x="1088.71" y="1296.7" font-style="italic" stroke="#000" stroke-width="0.8">2,747</text>
<rect x="321.3" y="1559.5" width="270.3" height="270.2" fill="none" stroke="#222" stroke-width="1.4"/>
<path d="M432.6 1559.5V1829.7M321.3 1721.5H591.6" stroke="#000" stroke-width="2" fill="none"/>
<text x="500.89" y="1593.4" font-style="italic" stroke="#000" stroke-width="0.8">4,041</text>
<rect x="616.8" y="1559.5" width="270.3" height="270.2" fill="none" stroke="#222" stroke-width="1.4"/>
<path d="M728.1 1559.5V1829.7M616.8 1721.5H887.1" stroke="#000" stroke-width="2" fill="none"/>
<text x="794.11" y="1593.4" font-style="italic" stroke="#000" stroke-width="0.8">4,053</text>
<rect x="912.6" y="1559.5" width="270.3" height="270.2" fill="none" stroke="#222" stroke-width="1.4"/>
<path d="M1023.9 1559.5V1829.7M912.6 1721.5H1182.9" stroke="#000" stroke-width="2" fill="none"/>
<text x="1090.09" y="1593.4" font-style="italic" stroke="#000" stroke-width="0.8">4,132</text>
<text x="331.53" y="1120.5" font-size="29.5" textLength="36.1" lengthAdjust="spacingAndGlyphs" stroke="#000" stroke-width="0.8">Q1</text>
<text x="440.33" y="1120.5" font-size="29.5" textLength="36.13" lengthAdjust="spacingAndGlyphs" stroke="#000" stroke-width="0.8">Q2</text>
<text x="331.53" y="1228" font-size="29.5" textLength="35.95" lengthAdjust="spacingAndGlyphs" stroke="#000" stroke-width="0.8">Q3</text>
<text x="440.35" y="1228" font-size="29.5" textLength="35.52" lengthAdjust="spacingAndGlyphs" stroke="#000" stroke-width="0.8">Q4</text>
<text x="270.45" y="1220.4" font-size="24.3" stroke="#000" stroke-width="0.6">10<tspan font-size="15" dy="-5.6">1</tspan></text>
<text x="270.45" y="1166.15" font-size="24.3" stroke="#000" stroke-width="0.6">10<tspan font-size="15" dy="-5.6">2</tspan></text>
<text x="270.45" y="1111.9" font-size="24.3" stroke="#000" stroke-width="0.6">10<tspan font-size="15" dy="-5.6">3</tspan></text>
<text x="270.45" y="1057.65" font-size="24.3" stroke="#000" stroke-width="0.6">10<tspan font-size="15" dy="-5.6">4</tspan></text>
<text x="270.45" y="1003.4" font-size="24.3" stroke="#000" stroke-width="0.6">10<tspan font-size="15" dy="-5.6">5</tspan></text>
<text x="270.45" y="1517.1" font-size="24.3" stroke="#000" stroke-width="0.6">10<tspan font-size="15" dy="-5.6">1</tspan></text>
<text x="270.45" y="1462.85" font-size="24.3" stroke="#000" stroke-width="0.6">10<tspan font-size="15" dy="-5.6">2</tspan></text>
<text x="270.45" y="1408.6" font-size="24.3" stroke="#000" stroke-width="0.6">10<tspan font-size="15" dy="-5.6">3</tspan></text>
<text x="270.45" y="1354.35" font-size="24.3" stroke="#000" stroke-width="0.6">10<tspan font-size="15" dy="-5.6">4</tspan></text>
<text x="270.45" y="1300.1" font-size="24.3" stroke="#000" stroke-width="0.6">10<tspan font-size="15" dy="-5.6">5</tspan></text>
<text x="270.45" y="1813.1" font-size="24.3" stroke="#000" stroke-width="0.6">10<tspan font-size="15" dy="-5.6">1</tspan></text>
<text x="270.45" y="1758.85" font-size="24.3" stroke="#000" stroke-width="0.6">10<tspan font-size="15" dy="-5.6">2</tspan></text>
<text x="270.45" y="1704.6" font-size="24.3" stroke="#000" stroke-width="0.6">10<tspan font-size="15" dy="-5.6">3</tspan></text>
<text x="270.45" y="1650.35" font-size="24.3" stroke="#000" stroke-width="0.6">10<tspan font-size="15" dy="-5.6">4</tspan></text>
<text x="270.45" y="1596.1" font-size="24.3" stroke="#000" stroke-width="0.6">10<tspan font-size="15" dy="-5.6">5</tspan></text>
<text x="335.15" y="1864.2" font-size="24.3" stroke="#000" stroke-width="0.6">10<tspan font-size="15" dy="-5.6">1</tspan></text>
<text x="389.05" y="1864.2" font-size="24.3" stroke="#000" stroke-width="0.6">10<tspan font-size="15" dy="-5.6">2</tspan></text>
<text x="442.95" y="1864.2" font-size="24.3" stroke="#000" stroke-width="0.6">10<tspan font-size="15" dy="-5.6">3</tspan></text>
<text x="496.85" y="1864.2" font-size="24.3" stroke="#000" stroke-width="0.6">10<tspan font-size="15" dy="-5.6">4</tspan></text>
<text x="550.75" y="1864.2" font-size="24.3" stroke="#000" stroke-width="0.6">10<tspan font-size="15" dy="-5.6">5</tspan></text>
<text x="630.65" y="1864.2" font-size="24.3" stroke="#000" stroke-width="0.6">10<tspan font-size="15" dy="-5.6">1</tspan></text>
<text x="684.55" y="1864.2" font-size="24.3" stroke="#000" stroke-width="0.6">10<tspan font-size="15" dy="-5.6">2</tspan></text>
<text x="738.45" y="1864.2" font-size="24.3" stroke="#000" stroke-width="0.6">10<tspan font-size="15" dy="-5.6">3</tspan></text>
<text x="792.35" y="1864.2" font-size="24.3" stroke="#000" stroke-width="0.6">10<tspan font-size="15" dy="-5.6">4</tspan></text>
<text x="846.25" y="1864.2" font-size="24.3" stroke="#000" stroke-width="0.6">10<tspan font-size="15" dy="-5.6">5</tspan></text>
<text x="926.45" y="1864.2" font-size="24.3" stroke="#000" stroke-width="0.6">10<tspan font-size="15" dy="-5.6">1</tspan></text>
<text x="980.35" y="1864.2" font-size="24.3" stroke="#000" stroke-width="0.6">10<tspan font-size="15" dy="-5.6">2</tspan></text>
<text x="1034.25" y="1864.2" font-size="24.3" stroke="#000" stroke-width="0.6">10<tspan font-size="15" dy="-5.6">3</tspan></text>
<text x="1088.15" y="1864.2" font-size="24.3" stroke="#000" stroke-width="0.6">10<tspan font-size="15" dy="-5.6">4</tspan></text>
<text x="1142.05" y="1864.2" font-size="24.3" stroke="#000" stroke-width="0.6">10<tspan font-size="15" dy="-5.6">5</tspan></text></svg>
</body></html>
